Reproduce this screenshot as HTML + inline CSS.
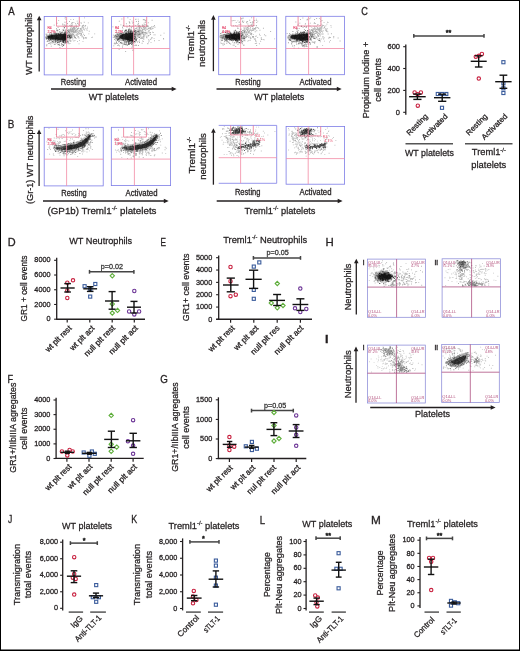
<!DOCTYPE html>
<html><head><meta charset="utf-8"><style>
html,body{margin:0;padding:0;background:#fff;width:520px;height:651px;overflow:hidden}
svg{display:block;will-change:transform}
</style></head><body>
<svg width="520" height="651" viewBox="0 0 520 651" font-family='"Liberation Sans", sans-serif' fill="#231f20">
<defs><filter id="bl" x="-20%" y="-50%" width="140%" height="200%"><feGaussianBlur stdDeviation="0.65"/></filter></defs>
<rect width="520" height="651" fill="#fff"/>
<text x="31.9" y="43.9" font-size="9.9" text-anchor="middle" stroke="#231f20" stroke-width="0.28" textLength="61.5" lengthAdjust="spacingAndGlyphs" transform="rotate(-90 31.9 43.9)">WT neutrophils</text>
<line x1="39.2" y1="19.8" x2="39.2" y2="71.6" stroke="#231f20" stroke-width="1.3"/>
<path d="M39.2 15.7L41.5 20.3L36.9 20.3Z" fill="#231f20"/>
<line x1="51" y1="89" x2="172.2" y2="89" stroke="#231f20" stroke-width="1.3"/>
<path d="M176.6 89L171.7 86.7L171.7 91.3Z" fill="#231f20"/>
<text x="73.5" y="85.3" font-size="8.6" text-anchor="middle" stroke="#231f20" stroke-width="0.28" textLength="25.5" lengthAdjust="spacingAndGlyphs">Resting</text>
<text x="141" y="85.3" font-size="8.6" text-anchor="middle" stroke="#231f20" stroke-width="0.28" textLength="32" lengthAdjust="spacingAndGlyphs">Activated</text>
<text x="113.8" y="100.2" font-size="9.9" text-anchor="middle" stroke="#231f20" stroke-width="0.28" textLength="50" lengthAdjust="spacingAndGlyphs">WT platelets</text>
<text x="193.6" y="42.8" font-size="9.9" text-anchor="middle" stroke="#231f20" stroke-width="0.28" textLength="35" lengthAdjust="spacingAndGlyphs" transform="rotate(-90 193.6 42.8)">Treml1<tspan font-size="6.14" dy="-3.76">-/-</tspan></text>
<text x="205.3" y="43.5" font-size="9.9" text-anchor="middle" stroke="#231f20" stroke-width="0.28" textLength="47" lengthAdjust="spacingAndGlyphs" transform="rotate(-90 205.3 43.5)">neutrophils</text>
<line x1="213.4" y1="19.2" x2="213.4" y2="71.2" stroke="#231f20" stroke-width="1.3"/>
<path d="M213.4 15.1L215.7 19.7L211.1 19.7Z" fill="#231f20"/>
<line x1="216.5" y1="89" x2="337.3" y2="89" stroke="#231f20" stroke-width="1.3"/>
<path d="M341.7 89L336.8 86.7L336.8 91.3Z" fill="#231f20"/>
<text x="248" y="85.3" font-size="8.6" text-anchor="middle" stroke="#231f20" stroke-width="0.28" textLength="25.5" lengthAdjust="spacingAndGlyphs">Resting</text>
<text x="315.5" y="85.3" font-size="8.6" text-anchor="middle" stroke="#231f20" stroke-width="0.28" textLength="32" lengthAdjust="spacingAndGlyphs">Activated</text>
<text x="279.3" y="100.2" font-size="9.9" text-anchor="middle" stroke="#231f20" stroke-width="0.28" textLength="50" lengthAdjust="spacingAndGlyphs">WT platelets</text>
<path fill="#111" fill-opacity="0.4" d="M64.54 41.4h.9v.9h-.9zM56.49 34.83h.9v.9h-.9zM48.85 37.19h.9v.9h-.9zM49.31 32.83h.9v.9h-.9zM57.36 37.5h.9v.9h-.9zM59.65 34.39h.9v.9h-.9zM56.08 36.91h.9v.9h-.9zM46.12 38.7h.9v.9h-.9zM58.16 44.2h.9v.9h-.9zM57.39 36.67h.9v.9h-.9zM64.18 37.69h.9v.9h-.9zM62.04 36.01h.9v.9h-.9zM57.49 40.14h.9v.9h-.9zM60.64 37.48h.9v.9h-.9zM48.91 38.42h.9v.9h-.9zM56.56 39.24h.9v.9h-.9zM57.48 40.33h.9v.9h-.9zM55.71 37.7h.9v.9h-.9zM60.45 33.87h.9v.9h-.9zM53.4 35.61h.9v.9h-.9zM69.11 36.82h.9v.9h-.9zM60.35 38.94h.9v.9h-.9zM54.2 32.49h.9v.9h-.9zM62.41 35.89h.9v.9h-.9zM60.78 33.22h.9v.9h-.9zM53.16 40.83h.9v.9h-.9zM65.49 33.23h.9v.9h-.9zM47.26 36.97h.9v.9h-.9zM60.85 37.58h.9v.9h-.9zM58.05 34.16h.9v.9h-.9zM59.92 40.42h.9v.9h-.9zM53.18 32.84h.9v.9h-.9zM51.05 39.36h.9v.9h-.9zM49.52 36.71h.9v.9h-.9zM54.44 37.15h.9v.9h-.9zM65.95 38.35h.9v.9h-.9zM64.84 36.68h.9v.9h-.9zM52.89 38.23h.9v.9h-.9zM57.11 33.43h.9v.9h-.9zM59.11 35.44h.9v.9h-.9zM49.6 35.55h.9v.9h-.9zM55.05 40.82h.9v.9h-.9zM56.73 37.02h.9v.9h-.9zM58.61 31.72h.9v.9h-.9zM64.23 33.9h.9v.9h-.9zM58.95 33.75h.9v.9h-.9zM49.61 35.92h.9v.9h-.9zM68.55 39.17h.9v.9h-.9zM52.07 36.26h.9v.9h-.9zM48.46 37h.9v.9h-.9zM52.27 39.24h.9v.9h-.9zM47.1 36.11h.9v.9h-.9zM50.5 34.97h.9v.9h-.9zM60.74 37.48h.9v.9h-.9zM59.91 40.63h.9v.9h-.9zM63.63 33.03h.9v.9h-.9zM59.59 31.87h.9v.9h-.9zM55.63 42.8h.9v.9h-.9zM54.77 36h.9v.9h-.9zM57.17 37.15h.9v.9h-.9zM56.23 34.85h.9v.9h-.9zM63.18 39.74h.9v.9h-.9zM54.65 38.03h.9v.9h-.9zM60.39 40.17h.9v.9h-.9zM58.64 39.16h.9v.9h-.9zM54.31 33.92h.9v.9h-.9zM52.78 40.13h.9v.9h-.9zM62.5 37.53h.9v.9h-.9zM52.31 38.01h.9v.9h-.9zM67.02 41.12h.9v.9h-.9zM51.54 36.97h.9v.9h-.9zM46.48 33.73h.9v.9h-.9zM57.29 37.17h.9v.9h-.9zM62.41 40.86h.9v.9h-.9zM61.56 41.02h.9v.9h-.9zM52.44 33.75h.9v.9h-.9zM59.35 45.06h.9v.9h-.9zM58.4 33.68h.9v.9h-.9zM57.65 41.33h.9v.9h-.9zM49.23 39.49h.9v.9h-.9zM52.02 40.88h.9v.9h-.9zM61.23 38h.9v.9h-.9zM69.24 35.89h.9v.9h-.9zM51.53 42.61h.9v.9h-.9zM50.27 43.63h.9v.9h-.9zM55.79 34.02h.9v.9h-.9zM56.04 37.49h.9v.9h-.9zM57.38 36.53h.9v.9h-.9zM63.18 30.21h.9v.9h-.9zM52.39 36.32h.9v.9h-.9zM68.05 31.18h.9v.9h-.9zM53.81 33.7h.9v.9h-.9zM51.67 39h.9v.9h-.9zM58.76 41.38h.9v.9h-.9zM52.1 37.9h.9v.9h-.9zM63.79 39.78h.9v.9h-.9zM53.83 40.45h.9v.9h-.9zM49.96 42.46h.9v.9h-.9zM57.07 36.77h.9v.9h-.9zM57.84 39.62h.9v.9h-.9zM67.53 36.68h.9v.9h-.9zM53.63 38.84h.9v.9h-.9zM50.3 32.06h.9v.9h-.9zM61.56 35.97h.9v.9h-.9zM63.48 34.05h.9v.9h-.9zM57.07 41.85h.9v.9h-.9zM58.75 41.58h.9v.9h-.9zM69.54 43.2h.9v.9h-.9zM64.47 42.84h.9v.9h-.9zM59.33 42.51h.9v.9h-.9zM63.36 42.17h.9v.9h-.9zM46.45 44.2h.9v.9h-.9zM56.24 41.09h.9v.9h-.9zM57.21 40.84h.9v.9h-.9zM53.46 41.87h.9v.9h-.9zM65.79 41.53h.9v.9h-.9zM62.91 39.84h.9v.9h-.9zM64.89 40.18h.9v.9h-.9zM64.5 40.81h.9v.9h-.9zM55.4 39.99h.9v.9h-.9zM50.71 41.64h.9v.9h-.9zM52.77 41.64h.9v.9h-.9zM67.55 40.65h.9v.9h-.9zM57.38 41.84h.9v.9h-.9zM55.26 41.95h.9v.9h-.9zM61.23 43.67h.9v.9h-.9zM54.51 41.65h.9v.9h-.9zM58.47 43.95h.9v.9h-.9zM52.59 42.27h.9v.9h-.9zM64.98 42.94h.9v.9h-.9zM54.64 40.35h.9v.9h-.9zM46.64 41.14h.9v.9h-.9zM57.82 39.6h.9v.9h-.9zM65.5 42.26h.9v.9h-.9zM57.92 41.15h.9v.9h-.9zM62.91 41.54h.9v.9h-.9z"/>
<path fill="#111" fill-opacity="0.45" d="M64.91 38.33h.9v.9h-.9zM65.07 35.65h.9v.9h-.9zM63.79 31.75h.9v.9h-.9zM64.9 33.91h.9v.9h-.9zM62.49 39.87h.9v.9h-.9zM65.89 33.11h.9v.9h-.9zM68.61 34.76h.9v.9h-.9zM65.69 40.87h.9v.9h-.9zM64.16 37.78h.9v.9h-.9zM68.09 40.63h.9v.9h-.9zM64.71 29.88h.9v.9h-.9zM61.73 41.7h.9v.9h-.9zM64.09 33.32h.9v.9h-.9zM61.99 35.89h.9v.9h-.9zM65.32 38.63h.9v.9h-.9zM66.09 33.86h.9v.9h-.9zM66.07 35.11h.9v.9h-.9zM62.85 43.96h.9v.9h-.9zM63.79 36.55h.9v.9h-.9zM63.07 35.58h.9v.9h-.9zM67.5 42.55h.9v.9h-.9zM65.39 37.83h.9v.9h-.9zM66.21 36.79h.9v.9h-.9zM64.73 38.69h.9v.9h-.9zM63.82 43.63h.9v.9h-.9zM67.99 42.34h.9v.9h-.9zM58.82 44.37h.9v.9h-.9zM65.36 35.32h.9v.9h-.9zM63.54 41.61h.9v.9h-.9zM66.54 40.49h.9v.9h-.9zM63.95 37.24h.9v.9h-.9zM65.68 36.74h.9v.9h-.9zM61.35 34.63h.9v.9h-.9zM63.25 38.42h.9v.9h-.9zM69.26 31.68h.9v.9h-.9zM64.79 36.74h.9v.9h-.9zM64.35 42.46h.9v.9h-.9zM66.7 36.48h.9v.9h-.9zM62.21 31.7h.9v.9h-.9zM63.42 42.04h.9v.9h-.9zM62.94 39.89h.9v.9h-.9zM65.37 38.67h.9v.9h-.9zM66.31 36.65h.9v.9h-.9zM61.53 32.46h.9v.9h-.9zM65.92 35.67h.9v.9h-.9zM62.82 40.4h.9v.9h-.9zM61.63 44.11h.9v.9h-.9zM65.27 35.01h.9v.9h-.9zM62.02 41.38h.9v.9h-.9zM60.64 34.56h.9v.9h-.9zM63.62 37.9h.9v.9h-.9zM63.64 38.63h.9v.9h-.9zM62.69 36.62h.9v.9h-.9zM66.76 39.66h.9v.9h-.9zM62.48 43.89h.9v.9h-.9zM58.62 37.43h.9v.9h-.9zM65.27 40.95h.9v.9h-.9zM63.88 35.58h.9v.9h-.9zM65.06 36.33h.9v.9h-.9zM64.79 25.79h.9v.9h-.9zM64.55 33.97h.9v.9h-.9zM65.95 40.06h.9v.9h-.9zM65.42 35.5h.9v.9h-.9zM64.69 35.74h.9v.9h-.9zM64.14 36.56h.9v.9h-.9zM61.42 44.93h.9v.9h-.9zM65.41 28.96h.9v.9h-.9zM65.83 31.58h.9v.9h-.9zM63.02 34.8h.9v.9h-.9zM62.26 38.05h.9v.9h-.9z"/>
<path fill="#111" fill-opacity="0.35" d="M69.3 30.22h.9v.9h-.9zM70.58 34.46h.9v.9h-.9zM77.68 29.77h.9v.9h-.9zM65.84 34.3h.9v.9h-.9zM73.21 30.22h.9v.9h-.9zM67.72 36.02h.9v.9h-.9zM70.56 34.09h.9v.9h-.9zM68.08 32.3h.9v.9h-.9zM69.3 33.59h.9v.9h-.9zM69.26 35.12h.9v.9h-.9zM72.79 34.1h.9v.9h-.9zM72.52 30.48h.9v.9h-.9zM66.12 37.26h.9v.9h-.9zM70.65 33.8h.9v.9h-.9zM65.96 34.69h.9v.9h-.9zM68.05 32.21h.9v.9h-.9zM68.08 30.56h.9v.9h-.9zM70.94 36.4h.9v.9h-.9zM67.77 34.81h.9v.9h-.9zM66.23 36.88h.9v.9h-.9zM78.05 27.5h.9v.9h-.9zM69.69 37.54h.9v.9h-.9zM72.07 33.25h.9v.9h-.9zM62.43 36.17h.9v.9h-.9zM74.27 35.85h.9v.9h-.9zM73.17 31.03h.9v.9h-.9zM67.85 29.8h.9v.9h-.9zM66.3 38.03h.9v.9h-.9zM70.14 30.19h.9v.9h-.9zM75.88 27.18h.9v.9h-.9zM75.64 30.77h.9v.9h-.9zM71.96 34.76h.9v.9h-.9zM71.65 36.41h.9v.9h-.9zM70.66 32.63h.9v.9h-.9zM67.95 30.74h.9v.9h-.9zM67.82 37.09h.9v.9h-.9zM73.9 35.88h.9v.9h-.9zM81.51 31.26h.9v.9h-.9zM72.6 29.33h.9v.9h-.9zM69.63 39.57h.9v.9h-.9zM72.72 32.35h.9v.9h-.9zM71.84 28.11h.9v.9h-.9zM67.26 31.35h.9v.9h-.9zM62.05 38.7h.9v.9h-.9zM74.46 31.59h.9v.9h-.9zM71.99 30.36h.9v.9h-.9zM72.41 34.8h.9v.9h-.9zM76.74 35.25h.9v.9h-.9zM72.55 32.44h.9v.9h-.9zM67.3 33.17h.9v.9h-.9zM73.07 34.04h.9v.9h-.9zM70.67 37.8h.9v.9h-.9zM73.19 32.57h.9v.9h-.9zM69.84 33.99h.9v.9h-.9zM66.8 32.38h.9v.9h-.9zM71.99 31.46h.9v.9h-.9zM69.52 37.08h.9v.9h-.9zM69.83 37.2h.9v.9h-.9zM70.57 37.45h.9v.9h-.9zM72.46 28.24h.9v.9h-.9zM75.55 31.1h.9v.9h-.9zM62.74 36.74h.9v.9h-.9zM71.22 29.91h.9v.9h-.9zM68.17 35.83h.9v.9h-.9zM76.25 34.35h.9v.9h-.9zM75.49 34.58h.9v.9h-.9zM60.66 35.34h.9v.9h-.9zM71.35 26.23h.9v.9h-.9zM73.68 34.66h.9v.9h-.9zM67.5 33.67h.9v.9h-.9zM66.84 34.86h.9v.9h-.9zM70.44 33.54h.9v.9h-.9zM66.51 36.04h.9v.9h-.9zM69.24 36.48h.9v.9h-.9zM71.85 29.17h.9v.9h-.9zM64.83 35.85h.9v.9h-.9zM68.66 35.45h.9v.9h-.9zM73.82 32.34h.9v.9h-.9zM63.86 32.92h.9v.9h-.9zM72.89 29.91h.9v.9h-.9zM75.04 31.6h.9v.9h-.9zM72.68 30.42h.9v.9h-.9zM70.2 25.96h.9v.9h-.9zM69.77 35.3h.9v.9h-.9zM67.01 32.66h.9v.9h-.9zM70.39 33.75h.9v.9h-.9zM67.37 36.47h.9v.9h-.9zM64.02 38.86h.9v.9h-.9zM64.99 33.47h.9v.9h-.9zM75.93 28.92h.9v.9h-.9zM63.99 36.18h.9v.9h-.9zM66.92 31.98h.9v.9h-.9zM67.79 32.62h.9v.9h-.9zM66.7 32.29h.9v.9h-.9zM77.05 29.34h.9v.9h-.9zM74.49 28.39h.9v.9h-.9zM72.78 29.43h.9v.9h-.9zM68.77 35.84h.9v.9h-.9zM68.48 29.19h.9v.9h-.9zM68.39 33.92h.9v.9h-.9zM72.89 30.05h.9v.9h-.9zM69.41 34.11h.9v.9h-.9zM64 35.7h.9v.9h-.9zM67.29 35.88h.9v.9h-.9zM70.16 33.23h.9v.9h-.9zM60.94 36.84h.9v.9h-.9zM69.12 31.6h.9v.9h-.9zM68.56 30.98h.9v.9h-.9zM71.3 34.95h.9v.9h-.9zM72.99 31.25h.9v.9h-.9zM77.32 33.2h.9v.9h-.9zM66.81 34.56h.9v.9h-.9zM64.08 35.64h.9v.9h-.9zM73.45 35.73h.9v.9h-.9zM68.93 29.48h.9v.9h-.9zM69.92 37.29h.9v.9h-.9zM71.18 36.6h.9v.9h-.9zM73.91 36.31h.9v.9h-.9zM72.99 30.88h.9v.9h-.9zM72.38 39.42h.9v.9h-.9zM70.49 24.52h.9v.9h-.9zM86.22 28.63h.9v.9h-.9zM69.84 29.28h.9v.9h-.9zM64.36 35.54h.9v.9h-.9zM74.46 27.95h.9v.9h-.9zM71.06 29.61h.9v.9h-.9zM80 28.12h.9v.9h-.9zM81.88 25.22h.9v.9h-.9zM69.93 29.71h.9v.9h-.9zM70.37 31.03h.9v.9h-.9zM79.75 33.29h.9v.9h-.9zM67.17 36.9h.9v.9h-.9zM74.17 36.17h.9v.9h-.9zM72.59 27.7h.9v.9h-.9zM78.34 31.52h.9v.9h-.9zM70.85 31.31h.9v.9h-.9zM74.38 31.43h.9v.9h-.9zM63.31 28.82h.9v.9h-.9zM73.93 31.36h.9v.9h-.9zM70.45 24.89h.9v.9h-.9zM81.66 27.22h.9v.9h-.9zM67.32 38.02h.9v.9h-.9zM80.39 32.49h.9v.9h-.9zM78.61 31.25h.9v.9h-.9zM67.76 32.17h.9v.9h-.9zM75.73 32.25h.9v.9h-.9zM76.45 26.04h.9v.9h-.9zM69.97 30.25h.9v.9h-.9zM72.43 27.61h.9v.9h-.9zM62.66 28.96h.9v.9h-.9zM75.44 29.97h.9v.9h-.9zM77.08 22.65h.9v.9h-.9zM71.1 34.43h.9v.9h-.9zM61.83 29.67h.9v.9h-.9zM63.61 37.61h.9v.9h-.9zM73.79 28.35h.9v.9h-.9zM74.5 29.93h.9v.9h-.9zM79.03 33.34h.9v.9h-.9zM79.09 30.29h.9v.9h-.9zM78.18 32.26h.9v.9h-.9zM80.59 21.9h.9v.9h-.9zM75.67 30.23h.9v.9h-.9zM74.56 29.33h.9v.9h-.9zM73.16 32.43h.9v.9h-.9zM74.79 30.65h.9v.9h-.9zM67.16 27.61h.9v.9h-.9zM69.11 25.16h.9v.9h-.9zM70.5 28.21h.9v.9h-.9zM62.82 26.27h.9v.9h-.9zM70.78 29.13h.9v.9h-.9zM86.64 30.19h.9v.9h-.9zM68.91 29.92h.9v.9h-.9zM67.53 29.23h.9v.9h-.9zM71.5 30.88h.9v.9h-.9zM69.86 34.51h.9v.9h-.9zM77.47 36.64h.9v.9h-.9zM65.74 35.07h.9v.9h-.9zM71.35 25.21h.9v.9h-.9zM71.79 24.96h.9v.9h-.9zM73.44 40.58h.9v.9h-.9zM81.43 35.09h.9v.9h-.9zM80.77 22.91h.9v.9h-.9zM76.08 30.36h.9v.9h-.9zM76.21 26h.9v.9h-.9zM61.71 41.39h.9v.9h-.9zM80.75 29.72h.9v.9h-.9zM70.65 31.95h.9v.9h-.9zM66.16 36h.9v.9h-.9zM74.59 29.68h.9v.9h-.9zM71.02 30.94h.9v.9h-.9zM74.39 28.81h.9v.9h-.9zM79.37 29.73h.9v.9h-.9zM73.03 27.49h.9v.9h-.9zM80.91 33.31h.9v.9h-.9zM77.73 22.64h.9v.9h-.9zM71.51 34.7h.9v.9h-.9zM73.82 35.12h.9v.9h-.9zM70.97 34.12h.9v.9h-.9zM76.75 20.69h.9v.9h-.9zM71.16 30.28h.9v.9h-.9zM69.84 28.23h.9v.9h-.9zM83.14 27.52h.9v.9h-.9zM78.34 24.33h.9v.9h-.9zM61.13 32.09h.9v.9h-.9zM76.04 27.2h.9v.9h-.9zM76.78 32.59h.9v.9h-.9zM70.91 31h.9v.9h-.9zM69.17 35.64h.9v.9h-.9zM84.21 29.49h.9v.9h-.9zM70.57 28.72h.9v.9h-.9zM71.93 34.21h.9v.9h-.9zM69.06 37.13h.9v.9h-.9zM66.27 32.43h.9v.9h-.9zM81.5 34.93h.9v.9h-.9zM71.16 34.06h.9v.9h-.9zM88.78 30.73h.9v.9h-.9zM60.45 35.04h.9v.9h-.9zM87.86 22.44h.9v.9h-.9zM79.08 21.39h.9v.9h-.9zM83.13 24.87h.9v.9h-.9zM78.45 32.55h.9v.9h-.9zM56.91 29.71h.9v.9h-.9zM75.58 24.39h.9v.9h-.9zM73.48 27.06h.9v.9h-.9zM81.66 26.48h.9v.9h-.9zM68.11 34.32h.9v.9h-.9zM80.94 27.97h.9v.9h-.9zM75.28 31.86h.9v.9h-.9zM70.63 26.94h.9v.9h-.9zM76.79 28.35h.9v.9h-.9zM71.76 31.07h.9v.9h-.9zM80.77 28.92h.9v.9h-.9zM74.83 27.83h.9v.9h-.9zM81.65 29.95h.9v.9h-.9zM74.48 25.79h.9v.9h-.9zM80.31 29.05h.9v.9h-.9zM82.84 25.03h.9v.9h-.9zM83.21 33.79h.9v.9h-.9zM83.35 28.89h.9v.9h-.9zM83.13 24.64h.9v.9h-.9zM76.38 34.68h.9v.9h-.9zM70.43 25.03h.9v.9h-.9zM82.71 26.53h.9v.9h-.9zM75.77 25.14h.9v.9h-.9zM87.01 26.67h.9v.9h-.9zM77.21 23.06h.9v.9h-.9zM82.45 28.47h.9v.9h-.9zM81.09 33.24h.9v.9h-.9zM79.37 24.92h.9v.9h-.9zM73.53 28.75h.9v.9h-.9zM85.2 24.9h.9v.9h-.9zM77.37 28.06h.9v.9h-.9zM81.89 25.83h.9v.9h-.9zM80.16 30.85h.9v.9h-.9zM78.41 28.21h.9v.9h-.9zM81.69 30.24h.9v.9h-.9zM84.89 25.26h.9v.9h-.9zM84.75 27.81h.9v.9h-.9zM72.91 26.84h.9v.9h-.9zM72.43 27.9h.9v.9h-.9zM83.77 21.75h.9v.9h-.9zM72.69 30.8h.9v.9h-.9zM77.1 30.88h.9v.9h-.9zM71.96 28.34h.9v.9h-.9zM65.57 25.96h.9v.9h-.9zM82.3 32.15h.9v.9h-.9zM86.76 28.33h.9v.9h-.9zM74.21 27.34h.9v.9h-.9zM69.01 32.56h.9v.9h-.9zM84.49 25.77h.9v.9h-.9zM94.25 33.44h.9v.9h-.9zM84.08 35.07h.9v.9h-.9zM65.69 38.69h.9v.9h-.9zM70.33 41.08h.9v.9h-.9zM72.4 37.82h.9v.9h-.9zM75.77 37.91h.9v.9h-.9zM74.54 39.96h.9v.9h-.9zM84.48 37.71h.9v.9h-.9zM78.58 43.41h.9v.9h-.9zM74.03 36.18h.9v.9h-.9zM85.78 37.47h.9v.9h-.9zM66.53 37.07h.9v.9h-.9zM76.53 34.52h.9v.9h-.9zM81.16 34.09h.9v.9h-.9zM77.6 34.09h.9v.9h-.9zM92.09 36.65h.9v.9h-.9zM83.14 38.36h.9v.9h-.9zM85.25 37.05h.9v.9h-.9zM85.63 37.87h.9v.9h-.9zM60.03 38.44h.9v.9h-.9zM69.26 40.35h.9v.9h-.9zM81.35 36.38h.9v.9h-.9zM59.42 31.09h.9v.9h-.9zM70.18 36.36h.9v.9h-.9zM68.56 43.45h.9v.9h-.9zM83.27 37.23h.9v.9h-.9zM71.71 36.48h.9v.9h-.9zM77.7 36.17h.9v.9h-.9zM78.98 39.91h.9v.9h-.9zM65.51 38.18h.9v.9h-.9zM88.41 33.39h.9v.9h-.9zM78.08 36.35h.9v.9h-.9zM70.45 40.35h.9v.9h-.9zM76.99 40.93h.9v.9h-.9zM82.89 36.66h.9v.9h-.9zM81.9 36.37h.9v.9h-.9zM66.47 41.77h.9v.9h-.9zM82.53 40.97h.9v.9h-.9zM65.11 40.64h.9v.9h-.9zM86.19 37.38h.9v.9h-.9zM62.63 37.8h.9v.9h-.9zM74.26 36.92h.9v.9h-.9zM80.04 34.78h.9v.9h-.9zM78.55 37.53h.9v.9h-.9zM91.28 37.2h.9v.9h-.9zM84.06 17.45h.9v.9h-.9zM66.64 24.72h.9v.9h-.9zM56.6 22.86h.9v.9h-.9zM70.37 19.19h.9v.9h-.9zM65.92 25.64h.9v.9h-.9zM64.46 21.84h.9v.9h-.9zM70.63 24.62h.9v.9h-.9zM58.21 20.16h.9v.9h-.9zM71.89 23.5h.9v.9h-.9zM65.59 25.55h.9v.9h-.9zM67.08 23.07h.9v.9h-.9zM62.28 23.5h.9v.9h-.9zM62.56 24.48h.9v.9h-.9zM73.64 26.61h.9v.9h-.9zM64.62 17.51h.9v.9h-.9zM73.41 21.95h.9v.9h-.9zM64.34 24.21h.9v.9h-.9zM65.83 22.38h.9v.9h-.9zM71.03 22.78h.9v.9h-.9zM75.01 22.96h.9v.9h-.9zM64.97 17.31h.9v.9h-.9zM65.6 19.03h.9v.9h-.9zM70.43 24.69h.9v.9h-.9zM73.08 18.91h.9v.9h-.9zM69.01 21.02h.9v.9h-.9zM64.3 24.9h.9v.9h-.9zM71.9 22.08h.9v.9h-.9zM62.46 24.42h.9v.9h-.9zM66.1 20.93h.9v.9h-.9zM65.76 22.44h.9v.9h-.9zM67.54 26.14h.9v.9h-.9z"/>
<path d="M45.5 36.11L47.26 35.01L49.02 34.56L50.77 34.21L52.53 33.92L54.29 33.66L56.05 33.43L57.81 33.21L59.57 33.01L61.32 32.82L63.08 32.65L64.84 32.48L66.6 32.32L66.6 41.88L64.84 41.72L63.08 41.55L61.32 41.38L59.57 41.19L57.81 40.99L56.05 40.77L54.29 40.54L52.53 40.28L50.77 39.99L49.02 39.64L47.26 39.19L45.5 38.09Z" fill="#111" fill-opacity="0.3" filter="url(#bl)"/>
<path d="M47.8 36L49.34 35.49L50.88 35.22L52.42 35L53.97 34.8L55.51 34.63L57.05 34.46L58.59 34.31L60.13 34.16L61.67 34.02L63.22 33.89L64.76 33.76L66.3 33.64L66.3 40.56L64.76 40.44L63.22 40.31L61.67 40.18L60.13 40.04L58.59 39.89L57.05 39.74L55.51 39.57L53.97 39.4L52.42 39.2L50.88 38.98L49.34 38.71L47.8 38.2Z" fill="#111" fill-opacity="0.85" filter="url(#bl)"/>
<path fill="#111" fill-opacity="0.8" d="M59.5 40.61h.9v.9h-.9zM65.31 41.79h.9v.9h-.9zM60.13 40.84h.9v.9h-.9zM64.84 35.77h.9v.9h-.9zM69.16 36.13h.9v.9h-.9zM50.78 35.85h.9v.9h-.9zM54.12 35.65h.9v.9h-.9zM65.57 37.04h.9v.9h-.9zM71.4 36.51h.9v.9h-.9zM63.97 37.51h.9v.9h-.9zM47.81 37.86h.9v.9h-.9zM63.01 40.79h.9v.9h-.9zM51.81 40.96h.9v.9h-.9zM68.71 34.86h.9v.9h-.9zM62.89 41.8h.9v.9h-.9zM48.15 39.24h.9v.9h-.9zM45.79 38.31h.9v.9h-.9zM70.84 36.62h.9v.9h-.9zM64.53 32.22h.9v.9h-.9zM55.95 36.09h.9v.9h-.9zM66.17 36.81h.9v.9h-.9zM65.86 37.42h.9v.9h-.9zM55.59 38.11h.9v.9h-.9zM62.16 36.74h.9v.9h-.9zM65.72 34.97h.9v.9h-.9zM61.76 39.62h.9v.9h-.9zM56.22 37.56h.9v.9h-.9zM59.94 32.8h.9v.9h-.9zM70.92 36.48h.9v.9h-.9zM63.97 27.26h.9v.9h-.9zM67.39 35.33h.9v.9h-.9zM51.8 36.22h.9v.9h-.9zM64.77 30.87h.9v.9h-.9zM65 32.13h.9v.9h-.9zM65.65 37.63h.9v.9h-.9zM66.3 39.15h.9v.9h-.9zM52.16 35.26h.9v.9h-.9zM62.01 35.45h.9v.9h-.9zM58.1 33.19h.9v.9h-.9zM63.19 45.11h.9v.9h-.9zM65.81 38.2h.9v.9h-.9zM50.98 36.21h.9v.9h-.9zM67.09 36.68h.9v.9h-.9zM63.16 35.48h.9v.9h-.9zM55.69 37.29h.9v.9h-.9zM55.01 34.71h.9v.9h-.9zM59.86 35.68h.9v.9h-.9zM68.39 37.41h.9v.9h-.9zM54.76 32.81h.9v.9h-.9zM52.29 35.87h.9v.9h-.9zM64.15 36.49h.9v.9h-.9zM56.53 32.87h.9v.9h-.9zM58.23 33.75h.9v.9h-.9zM69.97 37.64h.9v.9h-.9zM57.2 42.2h.9v.9h-.9zM70.01 36.68h.9v.9h-.9zM49.07 40.46h.9v.9h-.9zM55.05 38.81h.9v.9h-.9zM50.97 35.23h.9v.9h-.9zM56.08 33.63h.9v.9h-.9zM50.53 39.75h.9v.9h-.9zM55.34 40.72h.9v.9h-.9zM62.52 37.15h.9v.9h-.9zM62.14 35.57h.9v.9h-.9zM57.43 37.61h.9v.9h-.9zM59.73 34.46h.9v.9h-.9zM63.98 37.82h.9v.9h-.9zM68.73 34.99h.9v.9h-.9zM74.73 37.24h.9v.9h-.9zM65.68 38.6h.9v.9h-.9zM48.5 35.99h.9v.9h-.9zM66.58 41.4h.9v.9h-.9zM57.65 41.91h.9v.9h-.9zM66.7 35.34h.9v.9h-.9zM68.49 37.15h.9v.9h-.9zM49.88 39h.9v.9h-.9zM59.84 35.72h.9v.9h-.9zM51 35.34h.9v.9h-.9zM66.94 35.28h.9v.9h-.9zM51.15 33.74h.9v.9h-.9zM65.86 42.07h.9v.9h-.9zM51.42 35.04h.9v.9h-.9zM63.5 40.09h.9v.9h-.9zM55.62 38.19h.9v.9h-.9zM70.51 35.03h.9v.9h-.9zM56.8 37.4h.9v.9h-.9zM62.32 36.95h.9v.9h-.9zM51.12 36.93h.9v.9h-.9zM64.83 33.68h.9v.9h-.9z"/>
<path fill="#111" fill-opacity="0.45" d="M49.34 33.98h.9v.9h-.9zM68.95 36.02h.9v.9h-.9zM48.3 43.1h.9v.9h-.9zM63.73 35.5h.9v.9h-.9zM58.31 37.91h.9v.9h-.9zM60.75 36.51h.9v.9h-.9zM57.59 34.45h.9v.9h-.9zM56.72 39.61h.9v.9h-.9zM57.28 35.38h.9v.9h-.9zM55.11 37h.9v.9h-.9zM69.25 37.94h.9v.9h-.9zM55.14 38.8h.9v.9h-.9zM54.82 39.27h.9v.9h-.9zM59.19 41.57h.9v.9h-.9zM56.59 35.35h.9v.9h-.9zM56.78 30.62h.9v.9h-.9zM49.59 35.6h.9v.9h-.9zM64.21 38.11h.9v.9h-.9zM47.04 40.51h.9v.9h-.9zM59.96 38.09h.9v.9h-.9zM64.12 37.68h.9v.9h-.9zM64.14 39.03h.9v.9h-.9zM50.23 38.58h.9v.9h-.9zM61.87 46.08h.9v.9h-.9zM52.81 37.34h.9v.9h-.9zM45.51 33.68h.9v.9h-.9zM61.66 31.6h.9v.9h-.9zM63.09 37.81h.9v.9h-.9zM51.78 36.92h.9v.9h-.9zM45.6 37.1h.9v.9h-.9zM56.23 29.86h.9v.9h-.9zM55.96 33.48h.9v.9h-.9zM49.73 33.83h.9v.9h-.9zM56.24 34.92h.9v.9h-.9zM61.06 43.19h.9v.9h-.9zM55.22 34.04h.9v.9h-.9zM57.44 29.73h.9v.9h-.9zM51.32 33.3h.9v.9h-.9zM60.81 38.19h.9v.9h-.9zM57.64 27.2h.9v.9h-.9zM57.03 38.11h.9v.9h-.9zM46.3 45.37h.9v.9h-.9zM59.49 46.88h.9v.9h-.9zM58.91 29.07h.9v.9h-.9zM66.59 36.73h.9v.9h-.9zM58.47 41.43h.9v.9h-.9zM47.75 40.92h.9v.9h-.9zM49.15 42.64h.9v.9h-.9zM60.95 37.67h.9v.9h-.9zM56.8 39.68h.9v.9h-.9zM55.99 28.33h.9v.9h-.9zM62.68 39.84h.9v.9h-.9zM61.35 37.27h.9v.9h-.9zM62.69 42.29h.9v.9h-.9zM63.01 30.03h.9v.9h-.9zM54.93 41.45h.9v.9h-.9zM57.3 43.39h.9v.9h-.9zM57.64 44.35h.9v.9h-.9zM47.31 38.1h.9v.9h-.9zM67.12 30.08h.9v.9h-.9zM54.77 43.96h.9v.9h-.9zM55.9 37.73h.9v.9h-.9zM58.76 34.85h.9v.9h-.9zM53.86 43.8h.9v.9h-.9zM60.16 33.66h.9v.9h-.9zM54.55 32.89h.9v.9h-.9zM64.92 37.71h.9v.9h-.9zM58.3 39.7h.9v.9h-.9zM47.58 40.47h.9v.9h-.9zM56.98 40.06h.9v.9h-.9zM50.97 35.63h.9v.9h-.9zM46.28 34.71h.9v.9h-.9zM50.79 45.69h.9v.9h-.9zM58 36.85h.9v.9h-.9zM59.15 37.92h.9v.9h-.9zM50.11 37.3h.9v.9h-.9zM53.73 24.72h.9v.9h-.9z"/>
<rect x="44.2" y="16.5" width="58.7" height="58.4" fill="none" stroke="#7c7ce6" stroke-width="0.8"/>
<line x1="66.6" y1="16.5" x2="66.6" y2="74.9" stroke="#f28aa4" stroke-width="0.8"/>
<line x1="44.2" y1="48.5" x2="102.9" y2="48.5" stroke="#f28aa4" stroke-width="0.8"/>
<path d="M56.5 16.5V26.2H79.3V16.5" fill="none" stroke="#e8728f" stroke-width="0.76"/>
<text x="47.5" y="28.7" font-size="4.2" fill="#e64a6e" stroke="#e64a6e" stroke-width="0.15" textLength="4.2" lengthAdjust="spacingAndGlyphs">R4</text>
<text x="47.5" y="33.1" font-size="4.2" fill="#e64a6e" stroke="#e64a6e" stroke-width="0.15" textLength="8" lengthAdjust="spacingAndGlyphs">2.2%</text>
<path fill="#111" fill-opacity="0.4" d="M138.12 34.23h.9v.9h-.9zM126.22 37.37h.9v.9h-.9zM128.92 31.37h.9v.9h-.9zM121.26 33.89h.9v.9h-.9zM117.22 33.53h.9v.9h-.9zM120.66 35.69h.9v.9h-.9zM118.25 38.43h.9v.9h-.9zM120.45 24.42h.9v.9h-.9zM131.09 35.28h.9v.9h-.9zM119.25 37.84h.9v.9h-.9zM125.21 37h.9v.9h-.9zM118.57 37.54h.9v.9h-.9zM114.38 42.39h.9v.9h-.9zM116.05 36h.9v.9h-.9zM123.92 37.65h.9v.9h-.9zM122.29 38.67h.9v.9h-.9zM122.03 34.62h.9v.9h-.9zM132.38 32.52h.9v.9h-.9zM122.49 28.41h.9v.9h-.9zM124.67 29.99h.9v.9h-.9zM113.34 45.46h.9v.9h-.9zM127.33 36.26h.9v.9h-.9zM124.04 30.67h.9v.9h-.9zM116.49 37.94h.9v.9h-.9zM116.09 43.17h.9v.9h-.9zM129.3 34.26h.9v.9h-.9zM122.64 32.39h.9v.9h-.9zM124.76 40.18h.9v.9h-.9zM122.65 34.58h.9v.9h-.9zM127.85 35.13h.9v.9h-.9zM128.28 35.04h.9v.9h-.9zM133.04 35.2h.9v.9h-.9zM116.41 36.68h.9v.9h-.9zM119.06 32.6h.9v.9h-.9zM122.22 39.24h.9v.9h-.9zM122.07 35.73h.9v.9h-.9zM128.02 31.17h.9v.9h-.9zM127.14 35.42h.9v.9h-.9zM123.73 35.45h.9v.9h-.9zM121 34.27h.9v.9h-.9zM125.63 44.61h.9v.9h-.9zM129.65 39.71h.9v.9h-.9zM126.59 34.5h.9v.9h-.9zM126.9 44.53h.9v.9h-.9zM115.19 39.66h.9v.9h-.9zM129.49 37.53h.9v.9h-.9zM128.12 41.9h.9v.9h-.9zM137.01 41.59h.9v.9h-.9zM133.58 37.79h.9v.9h-.9zM128.47 37.19h.9v.9h-.9zM125.19 34.71h.9v.9h-.9zM127.6 42.23h.9v.9h-.9zM122.43 37.56h.9v.9h-.9zM127.3 36.66h.9v.9h-.9zM129.28 37.6h.9v.9h-.9zM116.24 32.58h.9v.9h-.9zM128.01 39.09h.9v.9h-.9zM130.36 37.61h.9v.9h-.9zM124.81 30.48h.9v.9h-.9zM132.19 33.05h.9v.9h-.9zM130.02 32.2h.9v.9h-.9zM119.48 37.27h.9v.9h-.9zM120.96 33.94h.9v.9h-.9zM129.15 39.32h.9v.9h-.9zM126.06 35.37h.9v.9h-.9zM118.53 34.83h.9v.9h-.9zM120.4 36.6h.9v.9h-.9zM128.39 36.05h.9v.9h-.9zM118.78 34.3h.9v.9h-.9zM131.58 37.36h.9v.9h-.9zM125.13 37.82h.9v.9h-.9zM127.35 37.28h.9v.9h-.9zM130.97 39.91h.9v.9h-.9zM141.9 31.78h.9v.9h-.9zM124.53 40.97h.9v.9h-.9zM123.76 41.98h.9v.9h-.9zM115.99 31.91h.9v.9h-.9zM122.61 33.92h.9v.9h-.9zM117.17 39h.9v.9h-.9zM125.45 36.83h.9v.9h-.9zM121.3 37.82h.9v.9h-.9zM123.05 33.97h.9v.9h-.9zM126.94 38.24h.9v.9h-.9zM124.3 39.49h.9v.9h-.9zM117.01 36.24h.9v.9h-.9zM120.58 41.96h.9v.9h-.9zM126.92 44.99h.9v.9h-.9zM133.43 35.36h.9v.9h-.9zM117.09 38.67h.9v.9h-.9zM122.07 36.19h.9v.9h-.9zM117.3 39.13h.9v.9h-.9zM124.94 38.36h.9v.9h-.9zM125.7 33.3h.9v.9h-.9zM119.91 34.75h.9v.9h-.9zM129.68 36.41h.9v.9h-.9zM133.05 37.5h.9v.9h-.9zM128.01 38.76h.9v.9h-.9zM128.73 31.93h.9v.9h-.9zM130.48 37.22h.9v.9h-.9zM117.82 39.18h.9v.9h-.9zM125.92 41.78h.9v.9h-.9zM128.28 38.22h.9v.9h-.9zM113.8 43.29h.9v.9h-.9zM129.05 41.62h.9v.9h-.9zM132.23 39.79h.9v.9h-.9zM131.15 44.11h.9v.9h-.9zM118.63 40.26h.9v.9h-.9zM120.69 41.68h.9v.9h-.9zM121.44 41.98h.9v.9h-.9zM119.73 42.45h.9v.9h-.9zM130.59 42.72h.9v.9h-.9zM122.69 43.33h.9v.9h-.9zM115.9 40.97h.9v.9h-.9zM126.09 44.03h.9v.9h-.9zM123.97 42.98h.9v.9h-.9zM137.93 45.12h.9v.9h-.9zM138.62 40.76h.9v.9h-.9zM128.5 42.81h.9v.9h-.9zM131.29 42.82h.9v.9h-.9zM125.84 42.09h.9v.9h-.9zM117.15 43.15h.9v.9h-.9zM128.89 41.1h.9v.9h-.9zM139.06 42.03h.9v.9h-.9zM122.17 42.95h.9v.9h-.9zM129.72 43.04h.9v.9h-.9zM126.05 43.23h.9v.9h-.9zM127.51 43.92h.9v.9h-.9zM128.93 40.73h.9v.9h-.9zM119.64 42.92h.9v.9h-.9zM133.14 39.72h.9v.9h-.9zM130.9 41.91h.9v.9h-.9zM128.6 40.74h.9v.9h-.9zM119 41.09h.9v.9h-.9z"/>
<path fill="#111" fill-opacity="0.45" d="M134.32 40.8h.9v.9h-.9zM131.75 43.08h.9v.9h-.9zM128.43 40.42h.9v.9h-.9zM130.66 31.63h.9v.9h-.9zM131.52 38.62h.9v.9h-.9zM134.86 41.67h.9v.9h-.9zM126.59 26.67h.9v.9h-.9zM130.4 35.72h.9v.9h-.9zM128.26 29.28h.9v.9h-.9zM130.11 30.83h.9v.9h-.9zM128.87 41.25h.9v.9h-.9zM131.2 32.91h.9v.9h-.9zM127.79 35.83h.9v.9h-.9zM134.93 34.18h.9v.9h-.9zM134.93 32.74h.9v.9h-.9zM130.07 40.39h.9v.9h-.9zM128.67 37.08h.9v.9h-.9zM127.21 40.22h.9v.9h-.9zM133.49 33.45h.9v.9h-.9zM131.06 34.69h.9v.9h-.9zM125.2 50.96h.9v.9h-.9zM132.17 41.06h.9v.9h-.9zM131.57 37.69h.9v.9h-.9zM136.53 27.37h.9v.9h-.9zM129.82 34.63h.9v.9h-.9zM130.08 40.39h.9v.9h-.9zM128.79 29.95h.9v.9h-.9zM127.78 39.16h.9v.9h-.9zM132.98 40.97h.9v.9h-.9zM134.59 34.12h.9v.9h-.9zM133.08 40.33h.9v.9h-.9zM130.18 32.91h.9v.9h-.9zM132.79 33.28h.9v.9h-.9zM129.86 31.77h.9v.9h-.9zM134.97 36.52h.9v.9h-.9zM129.35 35.52h.9v.9h-.9zM130.03 37.26h.9v.9h-.9zM126.33 30.8h.9v.9h-.9zM131.86 42.39h.9v.9h-.9zM128.07 37.38h.9v.9h-.9zM129.16 25.05h.9v.9h-.9zM129.82 31.19h.9v.9h-.9zM132.78 35.71h.9v.9h-.9zM130.5 29.24h.9v.9h-.9zM130.96 26.74h.9v.9h-.9zM131.14 43.9h.9v.9h-.9zM127.56 41.19h.9v.9h-.9zM134.11 35.76h.9v.9h-.9zM133.39 37.22h.9v.9h-.9zM129.36 26.42h.9v.9h-.9zM127.9 29.11h.9v.9h-.9zM136.55 38.13h.9v.9h-.9zM130.16 29.81h.9v.9h-.9zM134.9 30.79h.9v.9h-.9zM134.31 42.4h.9v.9h-.9zM130.78 33.38h.9v.9h-.9zM130.48 29.95h.9v.9h-.9zM132.22 45.5h.9v.9h-.9zM132.83 42.21h.9v.9h-.9zM128.85 38.38h.9v.9h-.9zM128.03 34.46h.9v.9h-.9zM132.42 49.73h.9v.9h-.9zM130.77 36.98h.9v.9h-.9zM125.86 37.7h.9v.9h-.9zM128.32 29.54h.9v.9h-.9zM126.87 37.53h.9v.9h-.9zM129.6 40.3h.9v.9h-.9zM130.01 36.78h.9v.9h-.9zM134.27 40.95h.9v.9h-.9zM132.52 44.43h.9v.9h-.9z"/>
<path fill="#111" fill-opacity="0.35" d="M138.47 30.59h.9v.9h-.9zM134.4 30.62h.9v.9h-.9zM139.01 31.92h.9v.9h-.9zM139.65 34.9h.9v.9h-.9zM134.34 35.2h.9v.9h-.9zM142.7 31.81h.9v.9h-.9zM141.34 31.59h.9v.9h-.9zM133.78 34.33h.9v.9h-.9zM130.03 38.19h.9v.9h-.9zM135.52 37.79h.9v.9h-.9zM132.65 35.68h.9v.9h-.9zM138.97 32.45h.9v.9h-.9zM139.13 30.95h.9v.9h-.9zM133.28 31.44h.9v.9h-.9zM135.32 32.22h.9v.9h-.9zM138.55 32.18h.9v.9h-.9zM134.93 32.58h.9v.9h-.9zM129.94 35.41h.9v.9h-.9zM139.27 29.38h.9v.9h-.9zM136.56 35.66h.9v.9h-.9zM134.8 35.05h.9v.9h-.9zM135.87 40.59h.9v.9h-.9zM143.24 34.49h.9v.9h-.9zM134.84 36.24h.9v.9h-.9zM136.93 34.7h.9v.9h-.9zM135.27 34.79h.9v.9h-.9zM134.49 35.43h.9v.9h-.9zM144.72 27.22h.9v.9h-.9zM132.26 36.83h.9v.9h-.9zM140.81 31.31h.9v.9h-.9zM139.99 33.72h.9v.9h-.9zM139.83 36.3h.9v.9h-.9zM134.97 36.22h.9v.9h-.9zM138.41 31.38h.9v.9h-.9zM139.64 29.3h.9v.9h-.9zM131.57 38.6h.9v.9h-.9zM133.1 39.65h.9v.9h-.9zM141.82 30.54h.9v.9h-.9zM134.01 28.96h.9v.9h-.9zM137.29 29.29h.9v.9h-.9zM143.98 26.65h.9v.9h-.9zM137.85 26.18h.9v.9h-.9zM136.16 37.54h.9v.9h-.9zM135.77 32h.9v.9h-.9zM135.64 35.22h.9v.9h-.9zM141.21 31.51h.9v.9h-.9zM129.22 37.45h.9v.9h-.9zM141.56 38.11h.9v.9h-.9zM138.27 33.69h.9v.9h-.9zM135.37 36.31h.9v.9h-.9zM144.8 28.14h.9v.9h-.9zM137.91 30.61h.9v.9h-.9zM134.76 34.06h.9v.9h-.9zM139.59 30.52h.9v.9h-.9zM136.37 37.58h.9v.9h-.9zM139.64 34.57h.9v.9h-.9zM139.2 32.38h.9v.9h-.9zM139.3 34.23h.9v.9h-.9zM137.57 36.22h.9v.9h-.9zM137.6 35.88h.9v.9h-.9zM137.67 35.4h.9v.9h-.9zM134.82 33.04h.9v.9h-.9zM132.83 38.47h.9v.9h-.9zM139.67 33.27h.9v.9h-.9zM140.11 30.34h.9v.9h-.9zM137.98 31.99h.9v.9h-.9zM129.95 35.65h.9v.9h-.9zM134.01 38.63h.9v.9h-.9zM134.52 32.99h.9v.9h-.9zM141.59 31.96h.9v.9h-.9zM132.11 36.15h.9v.9h-.9zM134.49 39.19h.9v.9h-.9zM133.24 33.14h.9v.9h-.9zM126.35 35.91h.9v.9h-.9zM145.25 30.29h.9v.9h-.9zM133.65 35.74h.9v.9h-.9zM136.39 33.83h.9v.9h-.9zM147.77 35.03h.9v.9h-.9zM144.12 35.47h.9v.9h-.9zM133.8 29.71h.9v.9h-.9zM140.62 33.4h.9v.9h-.9zM137.76 33.11h.9v.9h-.9zM140.52 33.9h.9v.9h-.9zM138.65 34.4h.9v.9h-.9zM136.75 32.82h.9v.9h-.9zM143.3 30.69h.9v.9h-.9zM145.75 32.16h.9v.9h-.9zM137.84 36.38h.9v.9h-.9zM135.56 33.75h.9v.9h-.9zM136.19 34.02h.9v.9h-.9zM140.39 37.98h.9v.9h-.9zM139.73 29.86h.9v.9h-.9zM134.21 29.95h.9v.9h-.9zM140.57 34.72h.9v.9h-.9zM138.95 33.95h.9v.9h-.9zM139.75 33.82h.9v.9h-.9zM140.23 33.11h.9v.9h-.9zM133.55 37.52h.9v.9h-.9zM143.06 27.08h.9v.9h-.9zM136.64 30.83h.9v.9h-.9zM139.67 31.95h.9v.9h-.9zM143.42 34.27h.9v.9h-.9zM135.68 32.94h.9v.9h-.9zM135.19 35.92h.9v.9h-.9zM133.77 36.09h.9v.9h-.9zM131.86 38.42h.9v.9h-.9zM139.54 29.68h.9v.9h-.9zM134.37 35.07h.9v.9h-.9zM138.73 25.46h.9v.9h-.9zM138.42 37.21h.9v.9h-.9zM135.76 30.58h.9v.9h-.9zM142.57 32.26h.9v.9h-.9zM138.38 34.84h.9v.9h-.9zM132.55 33.6h.9v.9h-.9zM132.96 32.21h.9v.9h-.9zM136.27 31.18h.9v.9h-.9zM144.17 32.36h.9v.9h-.9zM140.97 27.81h.9v.9h-.9zM136.69 33.42h.9v.9h-.9zM138.24 34.43h.9v.9h-.9zM135.66 28.36h.9v.9h-.9zM146.42 37.38h.9v.9h-.9zM153.33 26.02h.9v.9h-.9zM135.74 32.48h.9v.9h-.9zM143.46 36.35h.9v.9h-.9zM139.13 28.08h.9v.9h-.9zM146.97 26.07h.9v.9h-.9zM135.29 33.9h.9v.9h-.9zM139.38 26.85h.9v.9h-.9zM138.95 29.37h.9v.9h-.9zM139.19 28.08h.9v.9h-.9zM144.13 28.2h.9v.9h-.9zM136.88 35.44h.9v.9h-.9zM134.89 34.82h.9v.9h-.9zM144.17 28.42h.9v.9h-.9zM141.88 24.58h.9v.9h-.9zM142.08 26.22h.9v.9h-.9zM135.3 32.87h.9v.9h-.9zM136.07 32.18h.9v.9h-.9zM143.08 33.72h.9v.9h-.9zM143 33.72h.9v.9h-.9zM135.97 30.33h.9v.9h-.9zM144.52 33.84h.9v.9h-.9zM143.32 27.77h.9v.9h-.9zM134.03 28.68h.9v.9h-.9zM147.41 25.01h.9v.9h-.9zM139.15 33.22h.9v.9h-.9zM143.23 27.16h.9v.9h-.9zM152.69 27.86h.9v.9h-.9zM142.27 33.06h.9v.9h-.9zM138.66 33.57h.9v.9h-.9zM139.71 27.42h.9v.9h-.9zM134.77 33.45h.9v.9h-.9zM141.18 29.74h.9v.9h-.9zM137.8 30.31h.9v.9h-.9zM145.4 33.28h.9v.9h-.9zM139.04 31.86h.9v.9h-.9zM129.29 29.24h.9v.9h-.9zM136.3 28.26h.9v.9h-.9zM144.79 21.64h.9v.9h-.9zM143.54 32.23h.9v.9h-.9zM153.96 25.1h.9v.9h-.9zM143.33 35.24h.9v.9h-.9zM146.25 25.51h.9v.9h-.9zM138.44 26.81h.9v.9h-.9zM141 32.92h.9v.9h-.9zM148.82 30.37h.9v.9h-.9zM146 32.96h.9v.9h-.9zM135.62 34.31h.9v.9h-.9zM146.48 28.26h.9v.9h-.9zM134.81 32.61h.9v.9h-.9zM141.53 32.8h.9v.9h-.9zM129.77 32.01h.9v.9h-.9zM152.8 32.01h.9v.9h-.9zM139.69 29.66h.9v.9h-.9zM138.98 27.35h.9v.9h-.9zM137.84 31.08h.9v.9h-.9zM133.35 32.15h.9v.9h-.9zM142.2 25.34h.9v.9h-.9zM137.86 25.5h.9v.9h-.9zM140.84 31.24h.9v.9h-.9zM137.47 31.59h.9v.9h-.9zM143.92 32.13h.9v.9h-.9zM132.53 31.46h.9v.9h-.9zM131.9 25.85h.9v.9h-.9zM146.74 31.66h.9v.9h-.9zM148.24 31.29h.9v.9h-.9zM137.55 32.08h.9v.9h-.9zM137.33 36.38h.9v.9h-.9zM126.38 35.77h.9v.9h-.9zM137.24 34.03h.9v.9h-.9zM147.84 26.23h.9v.9h-.9zM148.82 32.31h.9v.9h-.9zM131.08 39.77h.9v.9h-.9zM133.47 27.41h.9v.9h-.9zM146.28 26.32h.9v.9h-.9zM141.94 29.97h.9v.9h-.9zM134.44 38.04h.9v.9h-.9zM149.55 28.4h.9v.9h-.9zM150.11 27.93h.9v.9h-.9zM142.15 28.97h.9v.9h-.9zM132.63 31.36h.9v.9h-.9zM134.85 33.54h.9v.9h-.9zM141.5 28.15h.9v.9h-.9zM148.33 29.81h.9v.9h-.9zM151.59 26.13h.9v.9h-.9zM138.27 28.41h.9v.9h-.9zM142.02 29.53h.9v.9h-.9zM140.82 36.9h.9v.9h-.9zM145.41 26.93h.9v.9h-.9zM143.05 28.89h.9v.9h-.9zM138.76 30.21h.9v.9h-.9zM141.01 32.76h.9v.9h-.9zM146.71 29.02h.9v.9h-.9zM135.73 31.8h.9v.9h-.9zM139.46 29.82h.9v.9h-.9zM133.29 31.96h.9v.9h-.9zM129.67 38.07h.9v.9h-.9zM145.03 32.08h.9v.9h-.9zM134.99 32.88h.9v.9h-.9zM148.31 27.66h.9v.9h-.9zM134.17 31.81h.9v.9h-.9zM126.99 37.58h.9v.9h-.9zM143.23 24.75h.9v.9h-.9zM144.82 33.57h.9v.9h-.9zM144.47 31.92h.9v.9h-.9zM149.88 28.85h.9v.9h-.9zM149.07 27.5h.9v.9h-.9zM136.48 30.42h.9v.9h-.9zM134.33 33.62h.9v.9h-.9zM142.09 29.61h.9v.9h-.9zM147.19 33.41h.9v.9h-.9zM154.47 26.86h.9v.9h-.9zM144.74 28.01h.9v.9h-.9zM142.51 33.94h.9v.9h-.9zM151.81 27.86h.9v.9h-.9zM138.69 26.58h.9v.9h-.9zM145.74 33.23h.9v.9h-.9zM139.19 32.86h.9v.9h-.9zM138.43 29.55h.9v.9h-.9zM139.8 27.22h.9v.9h-.9zM133.64 30.3h.9v.9h-.9zM145.76 25.37h.9v.9h-.9zM134.93 28.28h.9v.9h-.9zM145.46 24.14h.9v.9h-.9zM148.01 28.12h.9v.9h-.9zM139.89 26.08h.9v.9h-.9zM133.27 30.67h.9v.9h-.9zM150.47 27.89h.9v.9h-.9zM139.26 25.09h.9v.9h-.9zM144.02 25.81h.9v.9h-.9zM146.98 25.85h.9v.9h-.9zM150.06 32.04h.9v.9h-.9zM142.57 26.02h.9v.9h-.9zM130.74 28.56h.9v.9h-.9zM147.42 25.63h.9v.9h-.9zM151.12 26.45h.9v.9h-.9zM139.64 30.93h.9v.9h-.9zM147.83 22.25h.9v.9h-.9zM142.04 24.6h.9v.9h-.9zM144.44 29h.9v.9h-.9zM143.24 28.91h.9v.9h-.9zM150.04 27.49h.9v.9h-.9zM139.18 25.51h.9v.9h-.9zM149.7 33.62h.9v.9h-.9zM144.66 29.59h.9v.9h-.9zM141.49 26.71h.9v.9h-.9zM150.34 26.92h.9v.9h-.9zM146.4 28.82h.9v.9h-.9zM151.33 29.16h.9v.9h-.9zM146.02 36.55h.9v.9h-.9zM142.21 40.5h.9v.9h-.9zM163.6 32.72h.9v.9h-.9zM154.68 34.47h.9v.9h-.9zM141.54 36.53h.9v.9h-.9zM142.93 36.33h.9v.9h-.9zM141.66 42.84h.9v.9h-.9zM134.89 35.5h.9v.9h-.9zM140.28 38.02h.9v.9h-.9zM136.16 37.41h.9v.9h-.9zM147.4 43.29h.9v.9h-.9zM151.62 37.28h.9v.9h-.9zM147.32 42.97h.9v.9h-.9zM145.59 35.39h.9v.9h-.9zM141.54 36.36h.9v.9h-.9zM153.53 34.47h.9v.9h-.9zM141.86 37.38h.9v.9h-.9zM139.09 39.4h.9v.9h-.9zM143.35 38.94h.9v.9h-.9zM150.57 41.91h.9v.9h-.9zM160.34 34.87h.9v.9h-.9zM135.99 33.98h.9v.9h-.9zM150.27 39.03h.9v.9h-.9zM146.48 37.35h.9v.9h-.9zM158.61 40.12h.9v.9h-.9zM148.27 39.31h.9v.9h-.9zM134.54 40.99h.9v.9h-.9zM162.96 37.9h.9v.9h-.9zM143.08 41.17h.9v.9h-.9zM142.58 37.76h.9v.9h-.9zM151.41 37.02h.9v.9h-.9zM152.16 31.7h.9v.9h-.9zM127.13 39.67h.9v.9h-.9zM150.78 38.15h.9v.9h-.9zM143.46 37.62h.9v.9h-.9zM150.08 34.07h.9v.9h-.9zM148.59 35.15h.9v.9h-.9zM163.17 38.57h.9v.9h-.9zM148.75 40.51h.9v.9h-.9zM154.09 40.33h.9v.9h-.9zM141.42 37.95h.9v.9h-.9zM153.64 38.16h.9v.9h-.9zM147.57 35.8h.9v.9h-.9zM148.1 41.63h.9v.9h-.9zM137.05 33.43h.9v.9h-.9zM143.46 26.61h.9v.9h-.9zM138.07 21.27h.9v.9h-.9zM144.22 24.14h.9v.9h-.9zM118.82 20.8h.9v.9h-.9zM151.65 19.84h.9v.9h-.9zM129.69 19.17h.9v.9h-.9zM145.56 19.7h.9v.9h-.9zM137.56 24.59h.9v.9h-.9zM135.9 21.07h.9v.9h-.9zM127.42 17.34h.9v.9h-.9zM142.07 24.72h.9v.9h-.9zM145.05 20.47h.9v.9h-.9zM128.79 21.3h.9v.9h-.9zM143.63 22.64h.9v.9h-.9zM137.96 20.65h.9v.9h-.9zM126.49 25.64h.9v.9h-.9zM137.9 23.11h.9v.9h-.9zM121.44 18.5h.9v.9h-.9zM131.65 20.71h.9v.9h-.9zM142.84 19.33h.9v.9h-.9zM135.51 18.87h.9v.9h-.9zM133.05 22.12h.9v.9h-.9zM137.5 23.97h.9v.9h-.9zM125.92 23.33h.9v.9h-.9zM137.77 18.66h.9v.9h-.9zM143.69 19.03h.9v.9h-.9zM132.09 22.59h.9v.9h-.9zM144.45 19.8h.9v.9h-.9zM144.85 22.22h.9v.9h-.9zM129.33 23.18h.9v.9h-.9zM135.09 18.88h.9v.9h-.9zM133.6 24.72h.9v.9h-.9z"/>
<path d="M114 35.99L115.63 34.42L117.27 33.78L118.9 33.28L120.53 32.86L122.17 32.49L123.8 32.15L125.43 31.85L127.07 31.56L128.7 31.29L130.33 31.04L131.97 30.8L133.6 30.56L133.6 43.03L131.97 42.8L130.33 42.56L128.7 42.31L127.07 42.04L125.43 41.75L123.8 41.45L122.17 41.11L120.53 40.74L118.9 40.32L117.27 39.82L115.63 39.18L114 37.61Z" fill="#111" fill-opacity="0.3" filter="url(#bl)"/>
<path d="M119.5 35.9L120.65 35.13L121.8 34.71L122.95 34.37L124.1 34.07L125.25 33.8L126.4 33.55L127.55 33.31L128.7 33.09L129.85 32.88L131 32.67L132.15 32.47L133.3 32.28L133.3 41.31L132.15 41.13L131 40.93L129.85 40.72L128.7 40.51L127.55 40.29L126.4 40.05L125.25 39.8L124.1 39.53L122.95 39.23L121.8 38.89L120.65 38.47L119.5 37.7Z" fill="#111" fill-opacity="0.85" filter="url(#bl)"/>
<path fill="#111" fill-opacity="0.8" d="M130.11 36.62h.9v.9h-.9zM127.73 32.4h.9v.9h-.9zM133.04 35.38h.9v.9h-.9zM130.97 35.69h.9v.9h-.9zM133.4 36.67h.9v.9h-.9zM130.32 40.06h.9v.9h-.9zM127.71 36.05h.9v.9h-.9zM128.02 37.18h.9v.9h-.9zM131.15 37.8h.9v.9h-.9zM129.01 39.88h.9v.9h-.9zM129.41 32.85h.9v.9h-.9zM134.83 30.34h.9v.9h-.9zM137.58 31.05h.9v.9h-.9zM122.32 34.15h.9v.9h-.9zM132.88 33.51h.9v.9h-.9zM132.12 40.46h.9v.9h-.9zM125.64 36.34h.9v.9h-.9zM131.06 38.16h.9v.9h-.9zM125.76 30.1h.9v.9h-.9zM125.8 33.4h.9v.9h-.9zM128.98 36.86h.9v.9h-.9zM125.3 32.87h.9v.9h-.9zM125.77 37.44h.9v.9h-.9zM130.67 38.51h.9v.9h-.9zM132.94 40.58h.9v.9h-.9zM126.45 41.41h.9v.9h-.9zM123.2 38.9h.9v.9h-.9zM128.26 30.06h.9v.9h-.9zM135.57 44.73h.9v.9h-.9zM133.8 31.09h.9v.9h-.9zM117.47 39.57h.9v.9h-.9zM129.88 34.16h.9v.9h-.9zM125.02 29.86h.9v.9h-.9zM128.73 28.5h.9v.9h-.9zM121.66 35.75h.9v.9h-.9zM134.71 39.43h.9v.9h-.9zM133.13 41.74h.9v.9h-.9zM132.25 34.65h.9v.9h-.9zM129.82 37.29h.9v.9h-.9zM125.83 36.56h.9v.9h-.9zM128.11 31.5h.9v.9h-.9zM121.54 36.79h.9v.9h-.9zM131.59 40.28h.9v.9h-.9zM134.22 38.19h.9v.9h-.9zM129.28 34.64h.9v.9h-.9zM122.88 25.32h.9v.9h-.9zM127.12 39.17h.9v.9h-.9zM128.42 44.13h.9v.9h-.9zM135.66 40.05h.9v.9h-.9zM127.98 43.28h.9v.9h-.9zM135.47 31.91h.9v.9h-.9zM130.66 41.36h.9v.9h-.9zM124.64 44.01h.9v.9h-.9zM127.75 39.06h.9v.9h-.9zM126.89 37.72h.9v.9h-.9zM129.8 42.74h.9v.9h-.9zM127.16 38.99h.9v.9h-.9zM131.91 35.61h.9v.9h-.9zM130.56 31.16h.9v.9h-.9zM122.17 34.86h.9v.9h-.9zM120.67 33.19h.9v.9h-.9zM127.27 33.93h.9v.9h-.9zM125.43 32.98h.9v.9h-.9zM130.62 35.9h.9v.9h-.9zM116.84 39.8h.9v.9h-.9zM135.45 39.37h.9v.9h-.9zM133.76 33.68h.9v.9h-.9zM136.16 39.15h.9v.9h-.9zM128.07 41.46h.9v.9h-.9zM130.21 33.74h.9v.9h-.9zM128.64 38.73h.9v.9h-.9zM127.35 38.3h.9v.9h-.9zM125.53 29.95h.9v.9h-.9zM133.96 38.42h.9v.9h-.9zM130.68 30.32h.9v.9h-.9zM128.01 41.53h.9v.9h-.9zM126.2 32.53h.9v.9h-.9zM138.88 36.75h.9v.9h-.9zM130.92 36.37h.9v.9h-.9zM134.75 37.6h.9v.9h-.9zM125.3 35.36h.9v.9h-.9zM128.89 43.59h.9v.9h-.9zM128.77 36.19h.9v.9h-.9zM133.92 41.1h.9v.9h-.9zM126.15 37.85h.9v.9h-.9zM132.54 35.71h.9v.9h-.9zM132.83 38.66h.9v.9h-.9zM122.92 39.91h.9v.9h-.9zM128.74 35.21h.9v.9h-.9zM118.58 38.28h.9v.9h-.9z"/>
<path fill="#111" fill-opacity="0.45" d="M133.36 30.88h.9v.9h-.9zM121.96 34.6h.9v.9h-.9zM129.3 36.3h.9v.9h-.9zM121.13 43.01h.9v.9h-.9zM112.86 34.7h.9v.9h-.9zM125.91 28.94h.9v.9h-.9zM122.36 44.66h.9v.9h-.9zM112.79 36.75h.9v.9h-.9zM122.02 46.6h.9v.9h-.9zM122.86 33.39h.9v.9h-.9zM130.77 34.37h.9v.9h-.9zM118.27 38.63h.9v.9h-.9zM114.9 43.35h.9v.9h-.9zM130.3 33.85h.9v.9h-.9zM116.6 35.54h.9v.9h-.9zM133.64 44.95h.9v.9h-.9zM122.47 37.42h.9v.9h-.9zM124.38 41.49h.9v.9h-.9zM124.71 33.39h.9v.9h-.9zM131.59 46.87h.9v.9h-.9zM118.66 48.95h.9v.9h-.9zM126.62 36.95h.9v.9h-.9zM125.41 42.19h.9v.9h-.9zM118.14 35.6h.9v.9h-.9zM139.09 33.76h.9v.9h-.9zM135.28 25.18h.9v.9h-.9zM121.14 35.43h.9v.9h-.9zM121.91 36.08h.9v.9h-.9zM115.96 42.02h.9v.9h-.9zM133.58 34.12h.9v.9h-.9zM118 41.31h.9v.9h-.9zM131.99 43.6h.9v.9h-.9zM120.35 32.83h.9v.9h-.9zM128.18 37.99h.9v.9h-.9zM115.77 29.71h.9v.9h-.9zM114.89 34.77h.9v.9h-.9zM132.28 37.26h.9v.9h-.9zM121.4 36.06h.9v.9h-.9zM118.88 36.02h.9v.9h-.9zM117.28 44.97h.9v.9h-.9zM124.33 36.04h.9v.9h-.9zM131.76 40.9h.9v.9h-.9zM132 33.15h.9v.9h-.9zM117.96 44.57h.9v.9h-.9zM125.83 35.71h.9v.9h-.9zM130.62 38.16h.9v.9h-.9zM121.97 30.18h.9v.9h-.9zM120 37.27h.9v.9h-.9zM124.79 38.23h.9v.9h-.9zM118.81 37.73h.9v.9h-.9zM117.38 33.75h.9v.9h-.9zM119.06 45.38h.9v.9h-.9zM120.02 42.12h.9v.9h-.9zM114.04 39.16h.9v.9h-.9zM134.45 35.69h.9v.9h-.9zM134.7 36.82h.9v.9h-.9zM114.57 35.61h.9v.9h-.9zM124.91 37h.9v.9h-.9zM127.05 37.07h.9v.9h-.9zM131.55 42.58h.9v.9h-.9zM124.41 31.1h.9v.9h-.9zM125.3 42.67h.9v.9h-.9zM127.47 39.59h.9v.9h-.9zM123.34 34.08h.9v.9h-.9zM129.2 21.95h.9v.9h-.9zM126.83 34.6h.9v.9h-.9zM123.63 44.11h.9v.9h-.9zM112.48 26.42h.9v.9h-.9zM127.17 31.22h.9v.9h-.9zM120.1 34.73h.9v.9h-.9zM125.91 33.04h.9v.9h-.9zM121.94 34.15h.9v.9h-.9zM122 26.78h.9v.9h-.9z"/>
<rect x="111.6" y="16.5" width="58.3" height="58.4" fill="none" stroke="#7c7ce6" stroke-width="0.8"/>
<line x1="133.6" y1="16.5" x2="133.6" y2="74.9" stroke="#f28aa4" stroke-width="0.8"/>
<line x1="111.6" y1="48.5" x2="169.9" y2="48.5" stroke="#f28aa4" stroke-width="0.8"/>
<path d="M123.9 16.5V26.2H146.7V16.5" fill="none" stroke="#e8728f" stroke-width="0.76"/>
<text x="114.9" y="28.7" font-size="4.2" fill="#e64a6e" stroke="#e64a6e" stroke-width="0.15" textLength="4.2" lengthAdjust="spacingAndGlyphs">R4</text>
<text x="114.9" y="33.1" font-size="4.2" fill="#e64a6e" stroke="#e64a6e" stroke-width="0.15" textLength="8" lengthAdjust="spacingAndGlyphs">2.2%</text>
<path fill="#111" fill-opacity="0.4" d="M230.67 39.98h.9v.9h-.9zM223.91 39.28h.9v.9h-.9zM228.34 35.89h.9v.9h-.9zM242.58 37.03h.9v.9h-.9zM229.77 38.57h.9v.9h-.9zM237.48 36.52h.9v.9h-.9zM233.93 33.97h.9v.9h-.9zM227.63 35.42h.9v.9h-.9zM221.27 32.53h.9v.9h-.9zM228.91 35.74h.9v.9h-.9zM230.51 32.99h.9v.9h-.9zM229.53 37.24h.9v.9h-.9zM235 34.32h.9v.9h-.9zM227.41 31.16h.9v.9h-.9zM226.73 30.67h.9v.9h-.9zM220.69 39.57h.9v.9h-.9zM232.21 35.76h.9v.9h-.9zM233.08 38.02h.9v.9h-.9zM236.94 35.98h.9v.9h-.9zM226.15 34.97h.9v.9h-.9zM223.55 36.48h.9v.9h-.9zM224.87 39.49h.9v.9h-.9zM223.77 30.95h.9v.9h-.9zM242.59 30.1h.9v.9h-.9zM228.18 35.18h.9v.9h-.9zM240.97 31.24h.9v.9h-.9zM237.12 34.63h.9v.9h-.9zM229.03 34.79h.9v.9h-.9zM234.27 33.53h.9v.9h-.9zM229.53 37.55h.9v.9h-.9zM242.18 30.11h.9v.9h-.9zM240.11 39.16h.9v.9h-.9zM226.86 37.42h.9v.9h-.9zM226.98 41.05h.9v.9h-.9zM231.43 36.02h.9v.9h-.9zM228.55 36.06h.9v.9h-.9zM228.89 34.23h.9v.9h-.9zM243.62 31.44h.9v.9h-.9zM229.08 37.61h.9v.9h-.9zM228.7 36.2h.9v.9h-.9zM232.24 39.21h.9v.9h-.9zM227.1 35.59h.9v.9h-.9zM242.85 38.03h.9v.9h-.9zM223.55 42.87h.9v.9h-.9zM235.17 35.01h.9v.9h-.9zM222.31 37.41h.9v.9h-.9zM224.56 33.74h.9v.9h-.9zM221.5 35.23h.9v.9h-.9zM237.35 35.43h.9v.9h-.9zM220.49 38.41h.9v.9h-.9zM230.48 38.88h.9v.9h-.9zM237.97 36.14h.9v.9h-.9zM229.09 36.48h.9v.9h-.9zM222.57 38.41h.9v.9h-.9zM239.1 37.07h.9v.9h-.9zM228.48 35.9h.9v.9h-.9zM224.9 34.43h.9v.9h-.9zM227.41 34.33h.9v.9h-.9zM227.17 32.34h.9v.9h-.9zM232.36 36.73h.9v.9h-.9zM222.45 30.39h.9v.9h-.9zM230 39.58h.9v.9h-.9zM225.21 35.3h.9v.9h-.9zM226.3 38.36h.9v.9h-.9zM224.01 39.26h.9v.9h-.9zM228.05 39.1h.9v.9h-.9zM230.26 35.98h.9v.9h-.9zM220.3 34.74h.9v.9h-.9zM228.33 38.38h.9v.9h-.9zM231.67 34.72h.9v.9h-.9zM232.75 39.27h.9v.9h-.9zM229.07 35.41h.9v.9h-.9zM227.45 38.79h.9v.9h-.9zM233.6 34.09h.9v.9h-.9zM232.52 35.3h.9v.9h-.9zM225.1 39.95h.9v.9h-.9zM235.46 34.64h.9v.9h-.9zM230.57 37.95h.9v.9h-.9zM225.83 36.27h.9v.9h-.9zM234.45 31.77h.9v.9h-.9zM232.21 38.59h.9v.9h-.9zM233.38 32.98h.9v.9h-.9zM232.15 34.27h.9v.9h-.9zM233.81 38.23h.9v.9h-.9zM231.48 34.53h.9v.9h-.9zM226.15 38.91h.9v.9h-.9zM224.12 37.94h.9v.9h-.9zM233.42 35.85h.9v.9h-.9zM245.84 36.79h.9v.9h-.9zM244.2 31.16h.9v.9h-.9zM234.25 35.76h.9v.9h-.9zM229.7 31.46h.9v.9h-.9zM225.9 33.81h.9v.9h-.9zM228.59 38.99h.9v.9h-.9zM230.4 37.6h.9v.9h-.9zM225.45 35.43h.9v.9h-.9zM230.79 35.84h.9v.9h-.9zM238.39 34.24h.9v.9h-.9zM242.52 33.95h.9v.9h-.9zM237.04 34.51h.9v.9h-.9zM240.92 36.97h.9v.9h-.9zM232.68 38.61h.9v.9h-.9zM225.86 33.79h.9v.9h-.9zM225.46 35h.9v.9h-.9zM238.63 42.57h.9v.9h-.9zM233.82 44.68h.9v.9h-.9zM228.87 42.41h.9v.9h-.9zM240.74 42.26h.9v.9h-.9zM226.29 40.08h.9v.9h-.9zM244.46 40.28h.9v.9h-.9zM233.66 42.66h.9v.9h-.9zM234.24 38.98h.9v.9h-.9zM220.42 41.63h.9v.9h-.9zM228.23 41.39h.9v.9h-.9zM234.23 42.06h.9v.9h-.9zM224.31 39.13h.9v.9h-.9zM240.13 40.8h.9v.9h-.9zM225.45 38.63h.9v.9h-.9zM237.32 39.8h.9v.9h-.9zM226.33 42.79h.9v.9h-.9zM235.72 42.69h.9v.9h-.9zM224.8 37.25h.9v.9h-.9zM226.74 41.32h.9v.9h-.9zM228.99 43.21h.9v.9h-.9zM236.11 40.14h.9v.9h-.9zM237.53 41.56h.9v.9h-.9zM230.23 43.58h.9v.9h-.9zM221.98 43.44h.9v.9h-.9zM241.19 38.53h.9v.9h-.9zM232.27 41.54h.9v.9h-.9zM225.71 40.89h.9v.9h-.9zM227.95 41.9h.9v.9h-.9zM229.71 38.39h.9v.9h-.9zM241.92 43.23h.9v.9h-.9z"/>
<path fill="#111" fill-opacity="0.45" d="M237.52 43.76h.9v.9h-.9zM233.28 37.5h.9v.9h-.9zM236.61 38.51h.9v.9h-.9zM233.1 35.17h.9v.9h-.9zM239.7 42.21h.9v.9h-.9zM241.59 33.52h.9v.9h-.9zM237.74 36.2h.9v.9h-.9zM234.16 31.41h.9v.9h-.9zM239.49 37.48h.9v.9h-.9zM237.24 40.98h.9v.9h-.9zM235.1 38.5h.9v.9h-.9zM237.62 36.39h.9v.9h-.9zM238.83 37.23h.9v.9h-.9zM238.27 37.56h.9v.9h-.9zM242.45 35.48h.9v.9h-.9zM240.13 38.79h.9v.9h-.9zM236.73 39.46h.9v.9h-.9zM235.46 40.78h.9v.9h-.9zM235.58 34.84h.9v.9h-.9zM238.41 39.6h.9v.9h-.9zM239.87 39.82h.9v.9h-.9zM237.08 33.16h.9v.9h-.9zM238.97 37.69h.9v.9h-.9zM235.22 40.1h.9v.9h-.9zM238.1 33.15h.9v.9h-.9zM238.7 31.83h.9v.9h-.9zM235.41 38.05h.9v.9h-.9zM233.71 36.74h.9v.9h-.9zM234.22 39.25h.9v.9h-.9zM235.78 37.26h.9v.9h-.9zM233.84 35.36h.9v.9h-.9zM239.97 38.25h.9v.9h-.9zM233 39.93h.9v.9h-.9zM239.83 35.25h.9v.9h-.9zM241.14 32.79h.9v.9h-.9zM237.39 40.61h.9v.9h-.9zM240.88 41.21h.9v.9h-.9zM234.86 30.19h.9v.9h-.9zM238.58 31.45h.9v.9h-.9zM237.27 31.99h.9v.9h-.9zM240.25 39.49h.9v.9h-.9zM238.99 36.66h.9v.9h-.9zM237.71 35.53h.9v.9h-.9zM238.56 37.5h.9v.9h-.9zM238.75 35.06h.9v.9h-.9zM242.35 37.62h.9v.9h-.9zM241.09 41.39h.9v.9h-.9zM235.4 30.53h.9v.9h-.9zM240.74 35.2h.9v.9h-.9zM237.8 35.67h.9v.9h-.9zM237.93 32.32h.9v.9h-.9zM237.34 34.93h.9v.9h-.9zM237.56 28.19h.9v.9h-.9zM239.65 37.79h.9v.9h-.9zM233.28 33.96h.9v.9h-.9zM237.68 38.86h.9v.9h-.9zM237.6 41.58h.9v.9h-.9zM237.66 33h.9v.9h-.9zM235.91 39.28h.9v.9h-.9zM236.07 39.63h.9v.9h-.9zM240.15 38.72h.9v.9h-.9zM240.14 35.97h.9v.9h-.9zM237.58 34.47h.9v.9h-.9zM236.07 30.97h.9v.9h-.9zM236.21 32.74h.9v.9h-.9zM234.03 37.13h.9v.9h-.9zM238.74 35.37h.9v.9h-.9zM241.02 39.99h.9v.9h-.9zM240.21 34.43h.9v.9h-.9zM233.87 38.61h.9v.9h-.9z"/>
<path fill="#111" fill-opacity="0.35" d="M245.83 34.72h.9v.9h-.9zM246.27 35.95h.9v.9h-.9zM243.45 35.47h.9v.9h-.9zM241.02 28.64h.9v.9h-.9zM242.82 37.86h.9v.9h-.9zM237.9 38.46h.9v.9h-.9zM241.88 33.28h.9v.9h-.9zM244.77 33.78h.9v.9h-.9zM240.7 35.09h.9v.9h-.9zM246.38 34.8h.9v.9h-.9zM241.58 38.46h.9v.9h-.9zM252.23 36.71h.9v.9h-.9zM239.24 35.76h.9v.9h-.9zM237.16 37.07h.9v.9h-.9zM246.82 29.48h.9v.9h-.9zM238.26 36.17h.9v.9h-.9zM247.11 30.3h.9v.9h-.9zM243.55 27.13h.9v.9h-.9zM241.77 34.74h.9v.9h-.9zM245.21 37.19h.9v.9h-.9zM240.03 29.16h.9v.9h-.9zM246.41 31.08h.9v.9h-.9zM245.75 34.74h.9v.9h-.9zM247 36.15h.9v.9h-.9zM250.01 26.95h.9v.9h-.9zM244.35 38.59h.9v.9h-.9zM242.97 36.42h.9v.9h-.9zM244.38 32.29h.9v.9h-.9zM250.93 33.63h.9v.9h-.9zM243.63 36.02h.9v.9h-.9zM239.35 33.39h.9v.9h-.9zM248.21 32.05h.9v.9h-.9zM240.35 36.06h.9v.9h-.9zM245.92 36.14h.9v.9h-.9zM248.43 31.15h.9v.9h-.9zM242.66 33.67h.9v.9h-.9zM243.68 37.44h.9v.9h-.9zM250.95 34.44h.9v.9h-.9zM246.12 32.09h.9v.9h-.9zM248.21 31.04h.9v.9h-.9zM245.55 28.62h.9v.9h-.9zM242.91 37.68h.9v.9h-.9zM240.49 30.96h.9v.9h-.9zM243.94 37.88h.9v.9h-.9zM250.4 30.19h.9v.9h-.9zM242.69 33.73h.9v.9h-.9zM240.88 34.79h.9v.9h-.9zM243.4 29.91h.9v.9h-.9zM242.28 33.5h.9v.9h-.9zM241.16 31.68h.9v.9h-.9zM248.22 36.87h.9v.9h-.9zM243.45 32.63h.9v.9h-.9zM246.61 31.95h.9v.9h-.9zM241.47 38.09h.9v.9h-.9zM240.43 32.96h.9v.9h-.9zM241.94 32h.9v.9h-.9zM243.65 35.15h.9v.9h-.9zM250.36 32.86h.9v.9h-.9zM244.74 30h.9v.9h-.9zM244.35 30.95h.9v.9h-.9zM244.21 35.99h.9v.9h-.9zM245.42 32.45h.9v.9h-.9zM241.59 34.37h.9v.9h-.9zM245.04 30.72h.9v.9h-.9zM242.58 36.35h.9v.9h-.9zM237.96 34.64h.9v.9h-.9zM239.93 39.07h.9v.9h-.9zM247.02 33.73h.9v.9h-.9zM246.18 33.45h.9v.9h-.9zM245.77 28.74h.9v.9h-.9zM245.63 34.46h.9v.9h-.9zM238.89 37.58h.9v.9h-.9zM251.6 23.65h.9v.9h-.9zM244.77 29.93h.9v.9h-.9zM244.44 32.58h.9v.9h-.9zM239.94 31.52h.9v.9h-.9zM248.95 32.6h.9v.9h-.9zM247.89 29.33h.9v.9h-.9zM251.74 21.9h.9v.9h-.9zM253.2 27.68h.9v.9h-.9zM240.09 30.73h.9v.9h-.9zM236.6 25.74h.9v.9h-.9zM245.64 27.97h.9v.9h-.9zM252 25.88h.9v.9h-.9zM239.83 28.86h.9v.9h-.9zM257.89 27.65h.9v.9h-.9zM243.93 27.65h.9v.9h-.9zM241.01 31.46h.9v.9h-.9zM250.16 33.84h.9v.9h-.9zM254.48 29.46h.9v.9h-.9zM243.65 28.2h.9v.9h-.9zM233.72 30.27h.9v.9h-.9zM250.12 28.39h.9v.9h-.9zM249.81 24.77h.9v.9h-.9zM252.98 29.95h.9v.9h-.9zM247.85 31.7h.9v.9h-.9zM234.18 31.83h.9v.9h-.9zM242.22 38.38h.9v.9h-.9zM246.5 28.74h.9v.9h-.9zM252.72 25.07h.9v.9h-.9zM256.13 25.45h.9v.9h-.9zM247.24 27.04h.9v.9h-.9zM252.45 21.05h.9v.9h-.9zM251.74 26.19h.9v.9h-.9zM247.9 26h.9v.9h-.9zM248.97 30.62h.9v.9h-.9zM251.14 30.51h.9v.9h-.9zM251.34 32.94h.9v.9h-.9zM245.27 26.6h.9v.9h-.9zM239.93 34.84h.9v.9h-.9zM245.34 34.76h.9v.9h-.9zM247.87 26.52h.9v.9h-.9zM253.03 35.97h.9v.9h-.9zM246.51 27.15h.9v.9h-.9zM242.52 34.92h.9v.9h-.9zM244.09 29.75h.9v.9h-.9zM251.71 29.25h.9v.9h-.9zM248.29 28.12h.9v.9h-.9zM243.77 31.92h.9v.9h-.9zM248.53 32.22h.9v.9h-.9zM244.6 32.36h.9v.9h-.9zM250.45 29.84h.9v.9h-.9zM251.02 33.09h.9v.9h-.9zM248.79 30.27h.9v.9h-.9zM241.78 33.05h.9v.9h-.9zM247.04 29.31h.9v.9h-.9zM242.65 33.72h.9v.9h-.9zM262.95 27.79h.9v.9h-.9zM248.12 31.76h.9v.9h-.9zM244.05 31.6h.9v.9h-.9zM243.63 29.01h.9v.9h-.9zM248.99 30.77h.9v.9h-.9zM246.93 27.57h.9v.9h-.9zM249.18 25.89h.9v.9h-.9zM252.23 27.8h.9v.9h-.9zM247.6 33.18h.9v.9h-.9zM250.94 24.67h.9v.9h-.9zM246.11 32.04h.9v.9h-.9zM247.16 21.09h.9v.9h-.9zM252.24 28.16h.9v.9h-.9zM254.74 28.55h.9v.9h-.9zM253.26 29.02h.9v.9h-.9zM259.47 29.75h.9v.9h-.9zM255.31 27.12h.9v.9h-.9zM258.22 27.74h.9v.9h-.9zM256.29 21.98h.9v.9h-.9zM253.83 28.01h.9v.9h-.9zM250.3 32.16h.9v.9h-.9zM254.62 27.88h.9v.9h-.9zM249.98 33.93h.9v.9h-.9zM256.33 30.27h.9v.9h-.9zM248.79 32.21h.9v.9h-.9zM255.39 27.49h.9v.9h-.9zM252.08 23.43h.9v.9h-.9zM255.85 25.03h.9v.9h-.9zM256.81 26.98h.9v.9h-.9zM249.5 29.41h.9v.9h-.9zM253.65 24.92h.9v.9h-.9zM252.23 30.12h.9v.9h-.9zM251.35 24.28h.9v.9h-.9zM251.39 25.42h.9v.9h-.9zM249.72 28.44h.9v.9h-.9zM253.18 36.67h.9v.9h-.9zM240.41 38.34h.9v.9h-.9zM252.01 36.08h.9v.9h-.9zM254.84 43.06h.9v.9h-.9zM243.32 32.5h.9v.9h-.9zM259.68 34.94h.9v.9h-.9zM263.96 34.36h.9v.9h-.9zM249.74 39.79h.9v.9h-.9zM260.86 38.62h.9v.9h-.9zM257.22 36.91h.9v.9h-.9zM250.09 36.69h.9v.9h-.9zM263.72 39.41h.9v.9h-.9zM253.75 38.25h.9v.9h-.9zM260.21 40.83h.9v.9h-.9zM252.55 37.06h.9v.9h-.9zM256.23 45.08h.9v.9h-.9zM255.52 41.09h.9v.9h-.9zM241.4 39.83h.9v.9h-.9zM242.42 34.08h.9v.9h-.9zM248.56 36.87h.9v.9h-.9zM255.03 38.39h.9v.9h-.9zM255.39 36h.9v.9h-.9zM274.21 38.47h.9v.9h-.9zM258.9 43.33h.9v.9h-.9zM261.28 39.02h.9v.9h-.9zM256.16 42.86h.9v.9h-.9zM245.02 34.45h.9v.9h-.9zM254.76 31.24h.9v.9h-.9zM247.43 40.66h.9v.9h-.9zM249.94 37.79h.9v.9h-.9zM259.09 33.84h.9v.9h-.9zM255.75 35.43h.9v.9h-.9zM244.93 36.48h.9v.9h-.9zM253.16 36.11h.9v.9h-.9zM248.37 40.14h.9v.9h-.9zM262.74 38.95h.9v.9h-.9zM252.83 34.17h.9v.9h-.9zM247.1 34.01h.9v.9h-.9zM255.26 40.02h.9v.9h-.9zM260.83 37.23h.9v.9h-.9zM250.56 37.83h.9v.9h-.9zM254.56 39.07h.9v.9h-.9zM265.29 35.27h.9v.9h-.9zM270.18 31.06h.9v.9h-.9zM239.49 32.8h.9v.9h-.9zM234.49 20.1h.9v.9h-.9zM255.93 18.72h.9v.9h-.9zM249.25 19.73h.9v.9h-.9zM242.65 17.77h.9v.9h-.9zM257.34 20.69h.9v.9h-.9zM237.34 27.56h.9v.9h-.9zM242.86 22.03h.9v.9h-.9zM240.59 18.33h.9v.9h-.9zM231.68 20.28h.9v.9h-.9zM252.8 22.05h.9v.9h-.9zM240.39 23.95h.9v.9h-.9zM235.14 24.89h.9v.9h-.9zM241.48 18.33h.9v.9h-.9zM246.3 22.33h.9v.9h-.9zM239.21 21.44h.9v.9h-.9zM248.38 24.98h.9v.9h-.9zM255.79 20.02h.9v.9h-.9zM238.71 22.08h.9v.9h-.9zM238.64 23.9h.9v.9h-.9zM232.97 20.19h.9v.9h-.9zM232.89 25.33h.9v.9h-.9zM239.89 24.06h.9v.9h-.9zM251.22 17.25h.9v.9h-.9zM240.07 22.94h.9v.9h-.9zM241.95 20.4h.9v.9h-.9zM247.44 23.51h.9v.9h-.9zM237.49 20.4h.9v.9h-.9zM246.09 21.43h.9v.9h-.9zM242.58 17.47h.9v.9h-.9zM253.78 20.12h.9v.9h-.9zM243.46 20.7h.9v.9h-.9zM242.05 21.25h.9v.9h-.9zM235.8 21.92h.9v.9h-.9zM249.94 21.99h.9v.9h-.9z"/>
<path d="M219.5 35.7L221.26 34.7L223.02 34.29L224.78 33.98L226.53 33.71L228.29 33.47L230.05 33.26L231.81 33.07L233.57 32.88L235.32 32.71L237.08 32.55L238.84 32.4L240.6 32.25L240.6 40.95L238.84 40.8L237.08 40.65L235.32 40.49L233.57 40.32L231.81 40.13L230.05 39.94L228.29 39.73L226.53 39.49L224.78 39.23L223.02 38.91L221.26 38.5L219.5 37.5Z" fill="#111" fill-opacity="0.3" filter="url(#bl)"/>
<path d="M225 35.6L226.28 35.14L227.55 34.89L228.82 34.69L230.1 34.51L231.38 34.35L232.65 34.2L233.92 34.06L235.2 33.93L236.47 33.8L237.75 33.68L239.02 33.56L240.3 33.45L240.3 39.75L239.02 39.64L237.75 39.52L236.47 39.4L235.2 39.27L233.92 39.14L232.65 39L231.38 38.85L230.1 38.69L228.82 38.51L227.55 38.31L226.28 38.06L225 37.6Z" fill="#111" fill-opacity="0.85" filter="url(#bl)"/>
<path fill="#111" fill-opacity="0.8" d="M226.7 32.79h.9v.9h-.9zM226.91 37.75h.9v.9h-.9zM240.62 35.34h.9v.9h-.9zM233.95 32.27h.9v.9h-.9zM235.7 36.03h.9v.9h-.9zM243.4 44.64h.9v.9h-.9zM234.72 34.5h.9v.9h-.9zM234.65 34.96h.9v.9h-.9zM231.22 38.84h.9v.9h-.9zM235.18 38.06h.9v.9h-.9zM227.3 36.42h.9v.9h-.9zM231.62 40.21h.9v.9h-.9zM236.54 36.5h.9v.9h-.9zM234.4 37.76h.9v.9h-.9zM232.43 34.1h.9v.9h-.9zM231.16 37.36h.9v.9h-.9zM236.28 32.11h.9v.9h-.9zM225.62 38.24h.9v.9h-.9zM235.36 39.06h.9v.9h-.9zM238.41 36.09h.9v.9h-.9zM235.62 37.14h.9v.9h-.9zM230.28 32.18h.9v.9h-.9zM240.42 37.58h.9v.9h-.9zM231.11 38.06h.9v.9h-.9zM235.29 39.25h.9v.9h-.9zM242.21 41.33h.9v.9h-.9zM236.82 39.77h.9v.9h-.9zM229.98 33.54h.9v.9h-.9zM228.55 37.13h.9v.9h-.9zM237.76 35.95h.9v.9h-.9zM236.15 38.78h.9v.9h-.9zM234.46 33.77h.9v.9h-.9zM233.19 37.29h.9v.9h-.9zM240.1 39.39h.9v.9h-.9zM235.56 39.57h.9v.9h-.9zM235.15 38.92h.9v.9h-.9zM238.89 42.1h.9v.9h-.9zM230.53 34.41h.9v.9h-.9zM236.11 41.69h.9v.9h-.9zM232.22 36.06h.9v.9h-.9zM240.18 42.59h.9v.9h-.9zM232.46 39.1h.9v.9h-.9zM243.5 39.72h.9v.9h-.9zM234.99 40.08h.9v.9h-.9zM233.72 33.29h.9v.9h-.9zM231.93 38.07h.9v.9h-.9zM233.41 34.65h.9v.9h-.9zM225.07 32.08h.9v.9h-.9zM241.66 34.72h.9v.9h-.9zM232.28 35.7h.9v.9h-.9zM239.21 31.13h.9v.9h-.9zM233.74 37.4h.9v.9h-.9zM229.39 36.02h.9v.9h-.9zM239.9 32.94h.9v.9h-.9zM228.98 37.99h.9v.9h-.9zM227.21 37.1h.9v.9h-.9zM229.92 33.55h.9v.9h-.9zM236.68 41.38h.9v.9h-.9zM238.63 37.29h.9v.9h-.9zM233.7 36.39h.9v.9h-.9zM231.14 35.17h.9v.9h-.9zM233.7 37.54h.9v.9h-.9zM229.83 39.03h.9v.9h-.9zM244.23 38.14h.9v.9h-.9zM241.07 36.25h.9v.9h-.9zM225.7 35h.9v.9h-.9zM230.41 33.32h.9v.9h-.9zM228.57 37.11h.9v.9h-.9zM233.2 37.56h.9v.9h-.9zM236.15 32.66h.9v.9h-.9zM243.82 36.72h.9v.9h-.9zM240.12 36.35h.9v.9h-.9zM237.97 35.68h.9v.9h-.9zM228.52 33.02h.9v.9h-.9zM231.22 37.84h.9v.9h-.9zM239.09 39.15h.9v.9h-.9zM232.74 39.48h.9v.9h-.9zM231.96 35.29h.9v.9h-.9zM233.54 37.03h.9v.9h-.9zM230.42 32.85h.9v.9h-.9zM233.82 38.38h.9v.9h-.9zM231.04 34.37h.9v.9h-.9zM238.32 32.5h.9v.9h-.9zM229.56 37.45h.9v.9h-.9zM228.65 34.83h.9v.9h-.9zM228.35 37.11h.9v.9h-.9zM229.3 39.6h.9v.9h-.9zM232.04 36.73h.9v.9h-.9zM231.7 34.84h.9v.9h-.9zM231.16 39.64h.9v.9h-.9z"/>
<path fill="#111" fill-opacity="0.45" d="M234.96 33.73h.9v.9h-.9zM221.86 39.81h.9v.9h-.9zM237.52 30.95h.9v.9h-.9zM232.56 36.5h.9v.9h-.9zM223.49 35.89h.9v.9h-.9zM226.04 39.13h.9v.9h-.9zM220.12 33.01h.9v.9h-.9zM228.55 35.35h.9v.9h-.9zM225.76 38.66h.9v.9h-.9zM224.03 40.8h.9v.9h-.9zM228.63 38.88h.9v.9h-.9zM233.76 36.76h.9v.9h-.9zM228.94 35.29h.9v.9h-.9zM227.36 39.35h.9v.9h-.9zM235.04 29.81h.9v.9h-.9zM233.75 37.16h.9v.9h-.9zM229.94 38.86h.9v.9h-.9zM221.37 40h.9v.9h-.9zM221.97 40.19h.9v.9h-.9zM235.05 39.15h.9v.9h-.9zM238.28 37.64h.9v.9h-.9zM227 34.69h.9v.9h-.9zM222.69 44.7h.9v.9h-.9zM235.96 38.27h.9v.9h-.9zM248.46 35.27h.9v.9h-.9zM225.68 36.68h.9v.9h-.9zM226.52 40.06h.9v.9h-.9zM225.32 39.83h.9v.9h-.9zM220.75 42.89h.9v.9h-.9zM243.29 38.42h.9v.9h-.9zM242.49 31.52h.9v.9h-.9zM234.16 39.28h.9v.9h-.9zM231.51 37.48h.9v.9h-.9zM236.08 34.87h.9v.9h-.9zM232.71 44.69h.9v.9h-.9zM233.54 31.59h.9v.9h-.9zM229.05 38.44h.9v.9h-.9zM236.85 40.41h.9v.9h-.9zM238.67 33.73h.9v.9h-.9zM229.89 38.91h.9v.9h-.9zM236.29 30.95h.9v.9h-.9zM220.72 36.9h.9v.9h-.9zM233.66 37.3h.9v.9h-.9zM231.79 36.43h.9v.9h-.9zM231.51 34.37h.9v.9h-.9zM229.67 34.37h.9v.9h-.9zM238.54 40.01h.9v.9h-.9zM237.84 34.84h.9v.9h-.9zM238.74 33.29h.9v.9h-.9zM235.81 32.74h.9v.9h-.9zM237.92 32.71h.9v.9h-.9zM224.07 38.81h.9v.9h-.9zM231.34 35.42h.9v.9h-.9zM226.76 36.86h.9v.9h-.9zM234.79 32.45h.9v.9h-.9zM233.28 33.19h.9v.9h-.9zM221.84 38.39h.9v.9h-.9zM226.04 34.82h.9v.9h-.9zM237.89 38.14h.9v.9h-.9zM236.57 39.45h.9v.9h-.9zM236.31 40.68h.9v.9h-.9zM225.96 36.07h.9v.9h-.9zM232.7 32.44h.9v.9h-.9zM235.56 35.24h.9v.9h-.9zM223.04 36.66h.9v.9h-.9zM228.28 33.16h.9v.9h-.9zM222.98 34.62h.9v.9h-.9zM235.25 46.15h.9v.9h-.9zM223.82 44.16h.9v.9h-.9zM223.86 34.24h.9v.9h-.9zM226.09 38.61h.9v.9h-.9zM234.21 38.98h.9v.9h-.9zM233.92 35.76h.9v.9h-.9zM222.14 36.75h.9v.9h-.9z"/>
<rect x="218.7" y="16.3" width="58" height="58.4" fill="none" stroke="#7c7ce6" stroke-width="0.8"/>
<line x1="240.6" y1="16.3" x2="240.6" y2="74.7" stroke="#f28aa4" stroke-width="0.8"/>
<line x1="218.7" y1="48.5" x2="276.7" y2="48.5" stroke="#f28aa4" stroke-width="0.8"/>
<path d="M231 16.3V26H253.8V16.3" fill="none" stroke="#e8728f" stroke-width="0.76"/>
<text x="222" y="28.5" font-size="4.2" fill="#e64a6e" stroke="#e64a6e" stroke-width="0.15" textLength="4.2" lengthAdjust="spacingAndGlyphs">R4</text>
<text x="222" y="32.9" font-size="4.2" fill="#e64a6e" stroke="#e64a6e" stroke-width="0.15" textLength="8" lengthAdjust="spacingAndGlyphs">4.8%</text>
<path fill="#111" fill-opacity="0.4" d="M298.32 38.42h.9v.9h-.9zM295.01 38.08h.9v.9h-.9zM304.16 38.26h.9v.9h-.9zM308.35 34.29h.9v.9h-.9zM298.49 34.84h.9v.9h-.9zM292.88 36.44h.9v.9h-.9zM299.51 38.28h.9v.9h-.9zM301.4 43.84h.9v.9h-.9zM303.74 32.12h.9v.9h-.9zM299.4 35.09h.9v.9h-.9zM294.65 41h.9v.9h-.9zM296.58 31.03h.9v.9h-.9zM300.1 36.11h.9v.9h-.9zM290.31 34.18h.9v.9h-.9zM293.93 36.93h.9v.9h-.9zM295.24 37.22h.9v.9h-.9zM310.16 34.55h.9v.9h-.9zM292.73 36.24h.9v.9h-.9zM305.27 34.84h.9v.9h-.9zM307.51 33h.9v.9h-.9zM291.24 36.83h.9v.9h-.9zM292.36 35.11h.9v.9h-.9zM301.03 39.22h.9v.9h-.9zM298.8 36.16h.9v.9h-.9zM306.91 38.23h.9v.9h-.9zM296.5 40.72h.9v.9h-.9zM292.11 37.5h.9v.9h-.9zM302.4 36.97h.9v.9h-.9zM294.26 38.07h.9v.9h-.9zM294.49 35.18h.9v.9h-.9zM291.31 40.99h.9v.9h-.9zM294.43 40.53h.9v.9h-.9zM300.56 36.2h.9v.9h-.9zM302.45 37.83h.9v.9h-.9zM298.92 32.79h.9v.9h-.9zM298.52 39.74h.9v.9h-.9zM301.26 40.05h.9v.9h-.9zM307.88 38.26h.9v.9h-.9zM311.07 32.37h.9v.9h-.9zM296.46 29.27h.9v.9h-.9zM303.46 37.29h.9v.9h-.9zM309.18 35.88h.9v.9h-.9zM289.21 33.12h.9v.9h-.9zM296.89 38.92h.9v.9h-.9zM294.7 37.57h.9v.9h-.9zM297.61 37.37h.9v.9h-.9zM301.91 37.52h.9v.9h-.9zM299.37 34.16h.9v.9h-.9zM297.3 38.34h.9v.9h-.9zM304.93 36.63h.9v.9h-.9zM298.65 38.03h.9v.9h-.9zM301.82 37.63h.9v.9h-.9zM296.38 35.44h.9v.9h-.9zM305.46 37.9h.9v.9h-.9zM298.19 47.64h.9v.9h-.9zM303.87 39.61h.9v.9h-.9zM299.06 33.9h.9v.9h-.9zM305.54 36.73h.9v.9h-.9zM298.4 40.14h.9v.9h-.9zM304.76 37.73h.9v.9h-.9zM298.17 43.42h.9v.9h-.9zM301.83 33.86h.9v.9h-.9zM303 37.46h.9v.9h-.9zM298.27 39.09h.9v.9h-.9zM299.6 43.14h.9v.9h-.9zM299.4 37.77h.9v.9h-.9zM305.71 35.27h.9v.9h-.9zM304.74 36.82h.9v.9h-.9zM305.86 34.4h.9v.9h-.9zM300.82 32.11h.9v.9h-.9zM295.14 37.05h.9v.9h-.9zM301.31 43.04h.9v.9h-.9zM310.17 32.9h.9v.9h-.9zM293.06 40.83h.9v.9h-.9zM300.94 32.82h.9v.9h-.9zM301.25 33.56h.9v.9h-.9zM292.4 33.15h.9v.9h-.9zM296.34 43.88h.9v.9h-.9zM300.55 36.67h.9v.9h-.9zM314.62 35.59h.9v.9h-.9zM297.07 36.2h.9v.9h-.9zM300.82 36.05h.9v.9h-.9zM307.64 36.11h.9v.9h-.9zM301.75 37.69h.9v.9h-.9zM292.4 34.02h.9v.9h-.9zM297.72 29.99h.9v.9h-.9zM298.15 37.24h.9v.9h-.9zM299 36.77h.9v.9h-.9zM300.38 35.94h.9v.9h-.9zM302.28 32.03h.9v.9h-.9zM304.05 34.31h.9v.9h-.9zM301.25 35.58h.9v.9h-.9zM295.25 34.59h.9v.9h-.9zM306.89 33.68h.9v.9h-.9zM290.12 37.67h.9v.9h-.9zM299.77 37.13h.9v.9h-.9zM291.72 35.02h.9v.9h-.9zM304.01 33.85h.9v.9h-.9zM302.08 39.22h.9v.9h-.9zM298.93 33.3h.9v.9h-.9zM310.6 37.39h.9v.9h-.9zM299.35 35.86h.9v.9h-.9zM291.83 36.19h.9v.9h-.9zM299.38 34.43h.9v.9h-.9zM298.83 40.52h.9v.9h-.9zM300.93 36.71h.9v.9h-.9zM304.96 39.81h.9v.9h-.9zM303.99 34.58h.9v.9h-.9zM305.68 40.8h.9v.9h-.9zM314.02 42.62h.9v.9h-.9zM302.14 40.88h.9v.9h-.9zM307.07 39.01h.9v.9h-.9zM296.6 41.22h.9v.9h-.9zM303.98 42h.9v.9h-.9zM291.17 42.73h.9v.9h-.9zM298.37 40.93h.9v.9h-.9zM302.35 41.25h.9v.9h-.9zM298.34 41.15h.9v.9h-.9zM306.19 41.84h.9v.9h-.9zM303 40.72h.9v.9h-.9zM309.6 41.96h.9v.9h-.9zM296.27 43.5h.9v.9h-.9zM291.89 40.63h.9v.9h-.9zM307.09 41.06h.9v.9h-.9zM299.27 41.2h.9v.9h-.9zM301.58 42.52h.9v.9h-.9zM305.71 40.69h.9v.9h-.9zM298.08 38.62h.9v.9h-.9zM298.03 42.52h.9v.9h-.9zM301.7 43.66h.9v.9h-.9zM299.57 42.2h.9v.9h-.9zM307.5 39.96h.9v.9h-.9zM310.99 39.57h.9v.9h-.9zM299.6 38.85h.9v.9h-.9zM299.48 40.18h.9v.9h-.9zM308.15 38.55h.9v.9h-.9zM304.65 42.36h.9v.9h-.9zM305.33 43.35h.9v.9h-.9z"/>
<path fill="#111" fill-opacity="0.45" d="M301.08 40.25h.9v.9h-.9zM305.75 35.5h.9v.9h-.9zM306.81 35.17h.9v.9h-.9zM304.06 44.35h.9v.9h-.9zM301.65 40.42h.9v.9h-.9zM308.13 44.21h.9v.9h-.9zM306.23 39.08h.9v.9h-.9zM303.33 37.13h.9v.9h-.9zM300.37 34.7h.9v.9h-.9zM305.54 36.58h.9v.9h-.9zM304.41 41.74h.9v.9h-.9zM301.65 37.55h.9v.9h-.9zM304.61 37.16h.9v.9h-.9zM305.74 44.91h.9v.9h-.9zM302.95 42.45h.9v.9h-.9zM309.1 36.49h.9v.9h-.9zM304.08 31.99h.9v.9h-.9zM303.46 45.31h.9v.9h-.9zM300.21 38.85h.9v.9h-.9zM303.88 44.71h.9v.9h-.9zM306.39 31.53h.9v.9h-.9zM304.31 37.8h.9v.9h-.9zM305.91 33.16h.9v.9h-.9zM304.9 35.14h.9v.9h-.9zM306.81 38.13h.9v.9h-.9zM306.17 34.62h.9v.9h-.9zM307.57 34.73h.9v.9h-.9zM303.54 35.26h.9v.9h-.9zM304.8 35.76h.9v.9h-.9zM300.8 42.5h.9v.9h-.9zM307.16 42.38h.9v.9h-.9zM304.62 40.06h.9v.9h-.9zM306.1 37.12h.9v.9h-.9zM310.07 34.6h.9v.9h-.9zM307.03 29.97h.9v.9h-.9zM307.01 36.31h.9v.9h-.9zM303.08 34.59h.9v.9h-.9zM300.33 32.69h.9v.9h-.9zM306.02 26.29h.9v.9h-.9zM308.3 40.97h.9v.9h-.9zM303.73 30.98h.9v.9h-.9zM302.12 31.81h.9v.9h-.9zM303.73 45.84h.9v.9h-.9zM302.79 40.07h.9v.9h-.9zM308.71 33.16h.9v.9h-.9zM304.94 39.75h.9v.9h-.9zM303.97 42.08h.9v.9h-.9zM310.95 36.81h.9v.9h-.9zM303.55 39.42h.9v.9h-.9zM306.44 33.96h.9v.9h-.9zM305.25 37.35h.9v.9h-.9zM306.86 41.65h.9v.9h-.9zM304.4 31.72h.9v.9h-.9zM301.56 44.55h.9v.9h-.9zM304.56 35.34h.9v.9h-.9zM311.75 41.54h.9v.9h-.9zM311.2 36.3h.9v.9h-.9zM303.88 34.86h.9v.9h-.9zM307.22 38.71h.9v.9h-.9zM306.6 46.22h.9v.9h-.9zM308.99 32.58h.9v.9h-.9zM306.7 39.42h.9v.9h-.9zM303.75 46.45h.9v.9h-.9zM307.89 43.17h.9v.9h-.9zM304.27 32.34h.9v.9h-.9zM307.49 36.19h.9v.9h-.9zM304.15 36.64h.9v.9h-.9zM306.12 37.59h.9v.9h-.9zM305.08 38.9h.9v.9h-.9zM312.85 41.79h.9v.9h-.9z"/>
<path fill="#111" fill-opacity="0.35" d="M310.56 39.36h.9v.9h-.9zM310.67 30h.9v.9h-.9zM307.06 30.07h.9v.9h-.9zM317.21 28.71h.9v.9h-.9zM306.88 33.98h.9v.9h-.9zM311.77 30.36h.9v.9h-.9zM310.29 34.14h.9v.9h-.9zM315.17 29.86h.9v.9h-.9zM314.81 33.12h.9v.9h-.9zM314.77 31.07h.9v.9h-.9zM307.9 37.54h.9v.9h-.9zM314.9 30.67h.9v.9h-.9zM309.42 36.27h.9v.9h-.9zM320.66 31.21h.9v.9h-.9zM322.68 30.31h.9v.9h-.9zM313.94 34.04h.9v.9h-.9zM316.92 27.74h.9v.9h-.9zM313.17 36.36h.9v.9h-.9zM306.3 36.27h.9v.9h-.9zM315.56 36.64h.9v.9h-.9zM318.86 30.86h.9v.9h-.9zM320.88 27.29h.9v.9h-.9zM306.96 38.88h.9v.9h-.9zM315.27 29.31h.9v.9h-.9zM316.95 33.92h.9v.9h-.9zM315.5 31.04h.9v.9h-.9zM307.45 30.81h.9v.9h-.9zM311.71 33.21h.9v.9h-.9zM310.52 32.61h.9v.9h-.9zM316.3 28.93h.9v.9h-.9zM309.6 39.59h.9v.9h-.9zM310.03 32.59h.9v.9h-.9zM316.85 26.98h.9v.9h-.9zM319.09 27.52h.9v.9h-.9zM309.23 31.19h.9v.9h-.9zM308.73 32.81h.9v.9h-.9zM316.32 31.71h.9v.9h-.9zM318.11 33.25h.9v.9h-.9zM307.58 35.22h.9v.9h-.9zM310.12 33.09h.9v.9h-.9zM313.07 34.08h.9v.9h-.9zM314.32 27.08h.9v.9h-.9zM311.94 32.32h.9v.9h-.9zM320.02 29.86h.9v.9h-.9zM312.43 33.36h.9v.9h-.9zM315.71 29.12h.9v.9h-.9zM312.05 33.16h.9v.9h-.9zM312.49 32.66h.9v.9h-.9zM310.38 34.33h.9v.9h-.9zM307.25 39.52h.9v.9h-.9zM312.53 28.55h.9v.9h-.9zM311.42 36.2h.9v.9h-.9zM311.77 33.19h.9v.9h-.9zM303.35 40.46h.9v.9h-.9zM312.8 28.05h.9v.9h-.9zM310.75 37.79h.9v.9h-.9zM314.11 28.8h.9v.9h-.9zM310.31 34.78h.9v.9h-.9zM320.9 30.8h.9v.9h-.9zM315.52 31.34h.9v.9h-.9zM312.75 30.59h.9v.9h-.9zM307.25 31.72h.9v.9h-.9zM310.19 37.46h.9v.9h-.9zM312.42 36.47h.9v.9h-.9zM315.67 32.53h.9v.9h-.9zM310.55 39.68h.9v.9h-.9zM317.14 34.83h.9v.9h-.9zM322.62 33.49h.9v.9h-.9zM313.49 33.95h.9v.9h-.9zM314.82 38.33h.9v.9h-.9zM308.49 30.07h.9v.9h-.9zM310.63 34.04h.9v.9h-.9zM312.04 34.66h.9v.9h-.9zM319.21 29.2h.9v.9h-.9zM316.02 37.24h.9v.9h-.9zM327.67 33.5h.9v.9h-.9zM313.36 35.44h.9v.9h-.9zM308.64 25.39h.9v.9h-.9zM325.93 30.8h.9v.9h-.9zM319.71 34.47h.9v.9h-.9zM325.69 28.67h.9v.9h-.9zM317.31 32.1h.9v.9h-.9zM320.79 29.62h.9v.9h-.9zM307.53 41.68h.9v.9h-.9zM311.13 29.32h.9v.9h-.9zM319.28 29.18h.9v.9h-.9zM318.87 38.37h.9v.9h-.9zM324.29 26.31h.9v.9h-.9zM317.65 29.59h.9v.9h-.9zM323.3 24.99h.9v.9h-.9zM309.91 25.67h.9v.9h-.9zM318.78 30.94h.9v.9h-.9zM320.04 32.3h.9v.9h-.9zM308.43 30.9h.9v.9h-.9zM309.18 36.62h.9v.9h-.9zM320.93 23.63h.9v.9h-.9zM318.96 29.9h.9v.9h-.9zM316.45 32.73h.9v.9h-.9zM312.07 30.16h.9v.9h-.9zM311.7 28.97h.9v.9h-.9zM309.43 36.29h.9v.9h-.9zM319.27 28.51h.9v.9h-.9zM305.79 41.37h.9v.9h-.9zM315.93 31.05h.9v.9h-.9zM319.65 35.61h.9v.9h-.9zM313.94 22.15h.9v.9h-.9zM313.86 30.78h.9v.9h-.9zM312.29 36.66h.9v.9h-.9zM313.03 32.24h.9v.9h-.9zM310.84 34.45h.9v.9h-.9zM311.57 34.51h.9v.9h-.9zM316.57 30.72h.9v.9h-.9zM317.65 23.94h.9v.9h-.9zM313.02 31.88h.9v.9h-.9zM313.44 35.37h.9v.9h-.9zM321.03 26.27h.9v.9h-.9zM322.84 27.63h.9v.9h-.9zM319.08 33.97h.9v.9h-.9zM309.04 29.13h.9v.9h-.9zM315.4 29.58h.9v.9h-.9zM305.66 35.49h.9v.9h-.9zM316.74 30.82h.9v.9h-.9zM317.61 32.51h.9v.9h-.9zM310.81 32.84h.9v.9h-.9zM313.17 29.28h.9v.9h-.9zM310.51 36.2h.9v.9h-.9zM301.04 31.64h.9v.9h-.9zM319.87 28.06h.9v.9h-.9zM311.8 35.23h.9v.9h-.9zM310.09 30.81h.9v.9h-.9zM318.18 27.77h.9v.9h-.9zM312.62 31.43h.9v.9h-.9zM321.59 25.4h.9v.9h-.9zM318.93 29.26h.9v.9h-.9zM313.64 26.03h.9v.9h-.9zM326.14 29.65h.9v.9h-.9zM317.33 28.77h.9v.9h-.9zM325.42 25.38h.9v.9h-.9zM315.64 26h.9v.9h-.9zM320.46 29.33h.9v.9h-.9zM310.7 29.22h.9v.9h-.9zM322.04 31.58h.9v.9h-.9zM319.05 32.8h.9v.9h-.9zM330.73 26.72h.9v.9h-.9zM319.38 31.33h.9v.9h-.9zM326.74 28.36h.9v.9h-.9zM326.45 23.69h.9v.9h-.9zM325.39 29.7h.9v.9h-.9zM325.2 29.82h.9v.9h-.9zM324.09 27.02h.9v.9h-.9zM327.65 22.13h.9v.9h-.9zM322 26.47h.9v.9h-.9zM330.46 24.96h.9v.9h-.9zM321.33 28.3h.9v.9h-.9zM324.75 28.36h.9v.9h-.9zM315.38 27.95h.9v.9h-.9zM326.58 30.66h.9v.9h-.9zM317.11 24.62h.9v.9h-.9zM314.3 28.05h.9v.9h-.9zM319.93 27.28h.9v.9h-.9zM318.12 28.93h.9v.9h-.9zM327.33 31.39h.9v.9h-.9zM318.32 39.74h.9v.9h-.9zM319.8 41.23h.9v.9h-.9zM330.04 40.2h.9v.9h-.9zM339.62 40.5h.9v.9h-.9zM329.14 41.58h.9v.9h-.9zM313.52 36.41h.9v.9h-.9zM319.08 39.97h.9v.9h-.9zM322.14 33.65h.9v.9h-.9zM315.72 36.79h.9v.9h-.9zM318.14 36h.9v.9h-.9zM310.06 37.78h.9v.9h-.9zM311.46 36.22h.9v.9h-.9zM316.85 36.46h.9v.9h-.9zM333.31 36.1h.9v.9h-.9zM318.56 29.92h.9v.9h-.9zM314.73 38.11h.9v.9h-.9zM319.28 39.77h.9v.9h-.9zM319.44 39.79h.9v.9h-.9zM323.94 40.64h.9v.9h-.9zM319.6 40.08h.9v.9h-.9zM318 35.06h.9v.9h-.9zM330.94 33.24h.9v.9h-.9zM314.41 42.31h.9v.9h-.9zM323.2 38.51h.9v.9h-.9zM323.67 37.27h.9v.9h-.9zM337.66 37.51h.9v.9h-.9zM333.27 37.37h.9v.9h-.9zM316.27 36.57h.9v.9h-.9zM322.19 45.14h.9v.9h-.9zM316.93 38.69h.9v.9h-.9zM309.48 39.05h.9v.9h-.9zM320.73 38.55h.9v.9h-.9zM322.51 36h.9v.9h-.9zM322.33 37.4h.9v.9h-.9zM330.13 37.17h.9v.9h-.9zM320.78 33.48h.9v.9h-.9zM328.84 36.87h.9v.9h-.9zM314.52 40.98h.9v.9h-.9zM329.21 37.31h.9v.9h-.9zM322.21 33.39h.9v.9h-.9zM302.83 37.75h.9v.9h-.9zM309.78 39.29h.9v.9h-.9zM318.95 38.1h.9v.9h-.9zM317.41 38.64h.9v.9h-.9zM328.07 37.72h.9v.9h-.9zM315.03 23.16h.9v.9h-.9zM314.15 19.05h.9v.9h-.9zM297.3 24.84h.9v.9h-.9zM322.18 24.87h.9v.9h-.9zM299.38 22.69h.9v.9h-.9zM316.22 18.08h.9v.9h-.9zM308.23 23.45h.9v.9h-.9zM323.6 22.16h.9v.9h-.9zM302.41 17.54h.9v.9h-.9zM309.94 22.71h.9v.9h-.9zM295.4 21.62h.9v.9h-.9zM305.12 23.29h.9v.9h-.9zM297.85 23.66h.9v.9h-.9zM319.58 25.02h.9v.9h-.9zM320.42 21.14h.9v.9h-.9zM310.27 17.43h.9v.9h-.9zM309.31 18.37h.9v.9h-.9zM313.78 23h.9v.9h-.9zM308.55 25.54h.9v.9h-.9zM300.13 19.07h.9v.9h-.9zM321.52 20.02h.9v.9h-.9zM319.98 18.66h.9v.9h-.9zM304.79 23.72h.9v.9h-.9zM318.92 17.89h.9v.9h-.9zM306.98 18.79h.9v.9h-.9zM306.35 19.47h.9v.9h-.9zM306.97 19.31h.9v.9h-.9zM326.95 21.63h.9v.9h-.9z"/>
<path d="M287.5 36.01L289.26 34.87L291.02 34.4L292.77 34.04L294.53 33.74L296.29 33.47L298.05 33.22L299.81 33L301.57 32.79L303.33 32.6L305.08 32.41L306.84 32.24L308.6 32.07L308.6 41.93L306.84 41.76L305.08 41.59L303.33 41.4L301.57 41.21L299.81 41L298.05 40.78L296.29 40.53L294.53 40.26L292.77 39.96L291.02 39.6L289.26 39.13L287.5 37.99Z" fill="#111" fill-opacity="0.3" filter="url(#bl)"/>
<path d="M290.5 35.9L291.98 35.37L293.47 35.09L294.95 34.85L296.43 34.65L297.92 34.46L299.4 34.29L300.88 34.13L302.37 33.98L303.85 33.83L305.33 33.69L306.82 33.56L308.3 33.43L308.3 40.57L306.82 40.44L305.33 40.31L303.85 40.17L302.37 40.02L300.88 39.87L299.4 39.71L297.92 39.54L296.43 39.35L294.95 39.15L293.47 38.91L291.98 38.63L290.5 38.1Z" fill="#111" fill-opacity="0.85" filter="url(#bl)"/>
<path fill="#111" fill-opacity="0.8" d="M304.36 36.14h.9v.9h-.9zM295.05 35.79h.9v.9h-.9zM307.26 36.24h.9v.9h-.9zM294.07 38.32h.9v.9h-.9zM291.74 41.55h.9v.9h-.9zM308.54 33.61h.9v.9h-.9zM318.69 40.19h.9v.9h-.9zM293.79 35.75h.9v.9h-.9zM294.54 36.04h.9v.9h-.9zM305.92 35.97h.9v.9h-.9zM316.66 46.55h.9v.9h-.9zM301.21 39.46h.9v.9h-.9zM289.64 39.49h.9v.9h-.9zM300.87 37.34h.9v.9h-.9zM301.12 39.2h.9v.9h-.9zM314.18 37.83h.9v.9h-.9zM301.21 35.35h.9v.9h-.9zM302.32 45.59h.9v.9h-.9zM299.54 33.83h.9v.9h-.9zM302.13 41.32h.9v.9h-.9zM308.47 37.35h.9v.9h-.9zM302.06 39.78h.9v.9h-.9zM296.56 39.01h.9v.9h-.9zM306.08 35.2h.9v.9h-.9zM312.97 37.69h.9v.9h-.9zM311.82 34.26h.9v.9h-.9zM299.98 39.75h.9v.9h-.9zM301.8 35.75h.9v.9h-.9zM308.23 38.31h.9v.9h-.9zM302.4 40.39h.9v.9h-.9zM309.79 43.59h.9v.9h-.9zM295.99 37.06h.9v.9h-.9zM299.92 39.31h.9v.9h-.9zM303.71 31.65h.9v.9h-.9zM305.05 30.15h.9v.9h-.9zM296.85 35.16h.9v.9h-.9zM298.72 37.78h.9v.9h-.9zM296.92 39.63h.9v.9h-.9zM306.82 34h.9v.9h-.9zM307.66 39.19h.9v.9h-.9zM295.72 41.69h.9v.9h-.9zM305.79 33.49h.9v.9h-.9zM298.11 34.32h.9v.9h-.9zM299.59 42.42h.9v.9h-.9zM302.66 33.14h.9v.9h-.9zM311.64 34.59h.9v.9h-.9zM300.65 35.63h.9v.9h-.9zM304.16 36.67h.9v.9h-.9zM302.48 38.49h.9v.9h-.9zM305.64 41.27h.9v.9h-.9zM298.6 36.42h.9v.9h-.9zM304.54 41.82h.9v.9h-.9zM299.82 38.95h.9v.9h-.9zM303.11 34.76h.9v.9h-.9zM307.81 38.91h.9v.9h-.9zM301.5 36.72h.9v.9h-.9zM298.88 35.59h.9v.9h-.9zM306.19 34.48h.9v.9h-.9zM298.6 39.33h.9v.9h-.9zM302.99 37.38h.9v.9h-.9zM294.5 36.92h.9v.9h-.9zM303.18 38.27h.9v.9h-.9zM288.74 39.27h.9v.9h-.9zM309.98 38.57h.9v.9h-.9zM306.19 35.93h.9v.9h-.9zM296.29 39.81h.9v.9h-.9zM301.7 37.74h.9v.9h-.9zM309.12 42.19h.9v.9h-.9zM290.42 39.75h.9v.9h-.9zM306.35 41.49h.9v.9h-.9zM302.38 39.88h.9v.9h-.9zM300.93 25.73h.9v.9h-.9zM312.41 36.45h.9v.9h-.9zM308.06 39.85h.9v.9h-.9zM300.86 34.58h.9v.9h-.9zM296.45 36.14h.9v.9h-.9zM297.3 32.29h.9v.9h-.9zM299.92 35.08h.9v.9h-.9zM306.17 37.17h.9v.9h-.9zM299.43 37.09h.9v.9h-.9zM300.19 31.84h.9v.9h-.9zM299.22 33.53h.9v.9h-.9zM308.04 36.33h.9v.9h-.9zM293.57 41.24h.9v.9h-.9zM295.14 34.99h.9v.9h-.9zM297.8 37.82h.9v.9h-.9zM300.82 40.03h.9v.9h-.9zM303.54 33.95h.9v.9h-.9zM300.3 38.59h.9v.9h-.9z"/>
<path fill="#111" fill-opacity="0.45" d="M300.78 33.32h.9v.9h-.9zM296.4 37.86h.9v.9h-.9zM296.51 32.98h.9v.9h-.9zM295.68 40.95h.9v.9h-.9zM297.3 41.17h.9v.9h-.9zM295.5 40.37h.9v.9h-.9zM302.6 26.79h.9v.9h-.9zM293.93 36.53h.9v.9h-.9zM301.4 40.41h.9v.9h-.9zM312.17 30.59h.9v.9h-.9zM300.67 38.28h.9v.9h-.9zM307.7 33.42h.9v.9h-.9zM287.53 37.52h.9v.9h-.9zM294.16 36.19h.9v.9h-.9zM299.72 36.39h.9v.9h-.9zM296.89 37.94h.9v.9h-.9zM302.37 37.96h.9v.9h-.9zM305.57 46.02h.9v.9h-.9zM288.82 34.78h.9v.9h-.9zM303.08 32.04h.9v.9h-.9zM299.4 40.15h.9v.9h-.9zM304.46 39.51h.9v.9h-.9zM304.16 26.11h.9v.9h-.9zM295.49 34.35h.9v.9h-.9zM302.97 31.5h.9v.9h-.9zM287.95 42.23h.9v.9h-.9zM289.9 39.67h.9v.9h-.9zM296.87 40.02h.9v.9h-.9zM296.54 28.42h.9v.9h-.9zM302.71 38.49h.9v.9h-.9zM305.61 26.74h.9v.9h-.9zM290.72 36.48h.9v.9h-.9zM311.36 26.71h.9v.9h-.9zM299.82 39.36h.9v.9h-.9zM295.87 39h.9v.9h-.9zM302.12 41.53h.9v.9h-.9zM310.91 35.75h.9v.9h-.9zM296.21 40.52h.9v.9h-.9zM294.13 45.27h.9v.9h-.9zM296.72 39.09h.9v.9h-.9zM309.73 32.11h.9v.9h-.9zM291.28 35.13h.9v.9h-.9zM302.4 41.23h.9v.9h-.9zM291.3 43.72h.9v.9h-.9zM303.12 44.86h.9v.9h-.9zM313.91 32.68h.9v.9h-.9zM299.65 35.25h.9v.9h-.9zM295.16 32.59h.9v.9h-.9zM300.86 37.48h.9v.9h-.9zM286.67 33.16h.9v.9h-.9zM293.48 37.14h.9v.9h-.9zM306.77 38.82h.9v.9h-.9zM296.86 37.99h.9v.9h-.9zM303.2 33.25h.9v.9h-.9zM296.56 35.11h.9v.9h-.9zM307.91 36.11h.9v.9h-.9zM308.41 38.64h.9v.9h-.9zM303.56 38.24h.9v.9h-.9zM296.27 36.45h.9v.9h-.9zM301.52 33.42h.9v.9h-.9zM302.29 32.31h.9v.9h-.9zM295.39 36.01h.9v.9h-.9zM297.28 33.75h.9v.9h-.9zM297.26 31.4h.9v.9h-.9zM298.71 27.91h.9v.9h-.9zM305.36 44.26h.9v.9h-.9zM298.79 38.27h.9v.9h-.9zM298.53 43.3h.9v.9h-.9zM301.7 42.74h.9v.9h-.9zM293.62 47.8h.9v.9h-.9zM292.44 31.02h.9v.9h-.9zM305.44 38.51h.9v.9h-.9zM303.93 29.18h.9v.9h-.9zM306.45 44.15h.9v.9h-.9zM292.28 45.57h.9v.9h-.9zM288.77 39.44h.9v.9h-.9z"/>
<rect x="285.8" y="16.3" width="58.8" height="58.4" fill="none" stroke="#7c7ce6" stroke-width="0.8"/>
<line x1="308.6" y1="16.3" x2="308.6" y2="74.7" stroke="#f28aa4" stroke-width="0.8"/>
<line x1="285.8" y1="48.5" x2="344.6" y2="48.5" stroke="#f28aa4" stroke-width="0.8"/>
<path d="M298.1 16.3V26H320.9V16.3" fill="none" stroke="#e8728f" stroke-width="0.76"/>
<text x="293.3" y="28.5" font-size="4.2" fill="#e64a6e" stroke="#e64a6e" stroke-width="0.15" textLength="4.2" lengthAdjust="spacingAndGlyphs">R4</text>
<text x="32.6" y="159.8" font-size="9.9" text-anchor="middle" stroke="#231f20" stroke-width="0.28" textLength="88.5" lengthAdjust="spacingAndGlyphs" transform="rotate(-90 32.6 159.8)">(Gr-1)  WT neutrophils</text>
<line x1="39.1" y1="133.5" x2="39.1" y2="186" stroke="#231f20" stroke-width="1.3"/>
<path d="M39.1 129.4L41.4 134L36.8 134Z" fill="#231f20"/>
<line x1="43" y1="201" x2="164.3" y2="201" stroke="#231f20" stroke-width="1.3"/>
<path d="M168.7 201L163.8 198.7L163.8 203.3Z" fill="#231f20"/>
<text x="74" y="196.4" font-size="8.6" text-anchor="middle" stroke="#231f20" stroke-width="0.28" textLength="25.5" lengthAdjust="spacingAndGlyphs">Resting</text>
<text x="141.5" y="196.4" font-size="8.6" text-anchor="middle" stroke="#231f20" stroke-width="0.28" textLength="32" lengthAdjust="spacingAndGlyphs">Activated</text>
<text x="102" y="213.7" font-size="9.9" text-anchor="middle" stroke="#231f20" stroke-width="0.28" textLength="109" lengthAdjust="spacingAndGlyphs">(GP1b) Treml1<tspan font-size="6.14" dy="-3.76">-/-</tspan><tspan dy="3.76"> platelets</tspan></text>
<text x="194.9" y="155.3" font-size="9.9" text-anchor="middle" stroke="#231f20" stroke-width="0.28" textLength="36.6" lengthAdjust="spacingAndGlyphs" transform="rotate(-90 194.9 155.3)">Treml1<tspan font-size="6.14" dy="-3.76">-/-</tspan></text>
<text x="206.2" y="156.5" font-size="9.9" text-anchor="middle" stroke="#231f20" stroke-width="0.28" textLength="46.6" lengthAdjust="spacingAndGlyphs" transform="rotate(-90 206.2 156.5)">neutrophils</text>
<line x1="213.4" y1="132.3" x2="213.4" y2="184.7" stroke="#231f20" stroke-width="1.3"/>
<path d="M213.4 128.2L215.7 132.8L211.1 132.8Z" fill="#231f20"/>
<line x1="216.7" y1="201" x2="338.2" y2="201" stroke="#231f20" stroke-width="1.3"/>
<path d="M342.6 201L337.7 198.7L337.7 203.3Z" fill="#231f20"/>
<text x="247.7" y="195.2" font-size="8.6" text-anchor="middle" stroke="#231f20" stroke-width="0.28" textLength="25.5" lengthAdjust="spacingAndGlyphs">Resting</text>
<text x="315.5" y="195.2" font-size="8.6" text-anchor="middle" stroke="#231f20" stroke-width="0.28" textLength="32" lengthAdjust="spacingAndGlyphs">Activated</text>
<text x="280" y="213.8" font-size="9.9" text-anchor="middle" stroke="#231f20" stroke-width="0.28" textLength="71" lengthAdjust="spacingAndGlyphs">Treml1<tspan font-size="6.14" dy="-3.76">-/-</tspan><tspan dy="3.76"> platelets</tspan></text>
<path d="M56.5 145.72L62.5 144.48L67 143.54L72 142.56L76 141.76L79 140.86L82 138.82L84 137.16L86.5 135.5L88.5 134.08L90.3 133.4L90.3 137.6L88.5 141.52L86.5 145.1L84 147.84L82 148.78L79 149.74L76 150.64L72 151.44L67 152.06L62.5 151.92L56.5 150.28Z" fill="#111" fill-opacity="0.22" filter="url(#bl)"/>
<path d="M56.5 146.96L62.5 146.39L67 145.71L67 149.89L62.5 150L56.5 149.04Z" fill="#111" fill-opacity="0.45" filter="url(#bl)"/>
<path d="M62.5 146.39L67 145.71L72 144.81L72 149.19L67 149.89L62.5 150Z" fill="#111" fill-opacity="0.35" filter="url(#bl)"/>
<path d="M67 145.6L72 144.7L76 143.9L79 143L82 141.2L84 139.7L86.5 137.8L88.5 135.9L90.3 134.5L90.3 136.5L88.5 139.7L86.5 142.8L84 145.3L82 146.4L79 147.6L76 148.5L72 149.3L67 150Z" fill="#111" fill-opacity="0.75" filter="url(#bl)"/>
<path fill="#111" fill-opacity="0.55" d="M54.14 146.61h.9v.9h-.9zM57.84 145.22h.9v.9h-.9zM56.21 145.27h.9v.9h-.9zM58.7 148.25h.9v.9h-.9zM59.21 147.39h.9v.9h-.9zM57.3 147.65h.9v.9h-.9zM55.02 148.18h.9v.9h-.9zM53.99 147.57h.9v.9h-.9zM57.89 148.07h.9v.9h-.9zM55.68 150.65h.9v.9h-.9zM56.62 147.29h.9v.9h-.9zM56.82 147.37h.9v.9h-.9zM55.73 147.58h.9v.9h-.9zM60.55 148.03h.9v.9h-.9zM56.85 148.82h.9v.9h-.9zM60.53 147.73h.9v.9h-.9zM55.25 150.99h.9v.9h-.9zM53.58 147.56h.9v.9h-.9zM57.83 150.76h.9v.9h-.9zM54.6 145.06h.9v.9h-.9zM57.82 147.37h.9v.9h-.9zM55.73 148.56h.9v.9h-.9zM62.5 144.17h.9v.9h-.9zM66 148.62h.9v.9h-.9zM60.75 150.25h.9v.9h-.9zM63.12 148.24h.9v.9h-.9zM64.6 152.93h.9v.9h-.9zM63.61 151.51h.9v.9h-.9zM66.81 146.07h.9v.9h-.9zM61.45 149.82h.9v.9h-.9zM59.08 147.64h.9v.9h-.9zM65.09 150.38h.9v.9h-.9zM63.66 144.24h.9v.9h-.9zM67.2 149.35h.9v.9h-.9zM64.03 149.23h.9v.9h-.9zM59.07 145.2h.9v.9h-.9zM60.07 152.21h.9v.9h-.9zM60.84 147.69h.9v.9h-.9zM61.99 149.39h.9v.9h-.9zM63.5 148.76h.9v.9h-.9zM59.98 141.64h.9v.9h-.9zM62.83 148.76h.9v.9h-.9zM64.96 147.98h.9v.9h-.9zM61.28 149.06h.9v.9h-.9zM69.28 151.57h.9v.9h-.9zM66.39 150.35h.9v.9h-.9zM70.91 147.78h.9v.9h-.9zM69.17 147.4h.9v.9h-.9zM63.77 148.09h.9v.9h-.9zM65.36 148.06h.9v.9h-.9zM66.07 148.57h.9v.9h-.9zM62.73 152.84h.9v.9h-.9zM69.72 146.95h.9v.9h-.9zM65.18 147.81h.9v.9h-.9zM68.35 148.83h.9v.9h-.9zM67.8 143.03h.9v.9h-.9zM64.74 151.05h.9v.9h-.9zM67.48 144.12h.9v.9h-.9zM65.26 144.3h.9v.9h-.9zM64.96 150.66h.9v.9h-.9zM66.56 150.54h.9v.9h-.9zM67.38 144.12h.9v.9h-.9zM65.69 153.42h.9v.9h-.9zM65.45 145.22h.9v.9h-.9zM69.51 148.02h.9v.9h-.9zM66.99 151.41h.9v.9h-.9zM73.91 151.16h.9v.9h-.9zM74.1 145.9h.9v.9h-.9zM70.85 143.24h.9v.9h-.9zM71.85 145.46h.9v.9h-.9zM72.5 143.72h.9v.9h-.9zM70.94 144.72h.9v.9h-.9zM69.54 143.94h.9v.9h-.9zM69.92 143.94h.9v.9h-.9zM73.16 147.26h.9v.9h-.9zM69.3 148.33h.9v.9h-.9zM72.59 150.78h.9v.9h-.9zM71.6 146.46h.9v.9h-.9zM70.59 147.32h.9v.9h-.9zM73.01 147.45h.9v.9h-.9zM71.48 148.46h.9v.9h-.9zM72.19 147.64h.9v.9h-.9zM70.09 147.53h.9v.9h-.9zM69.96 144.82h.9v.9h-.9zM72.33 152.45h.9v.9h-.9zM74.04 147.01h.9v.9h-.9zM71.63 149.56h.9v.9h-.9zM74.83 150.16h.9v.9h-.9zM81.06 144.44h.9v.9h-.9zM74.56 144.72h.9v.9h-.9zM76.07 146.13h.9v.9h-.9zM78.01 148.25h.9v.9h-.9zM75.17 145.28h.9v.9h-.9zM73.11 142.33h.9v.9h-.9zM74.49 148.09h.9v.9h-.9zM76.25 148.28h.9v.9h-.9zM77.93 145.77h.9v.9h-.9zM80.3 144.85h.9v.9h-.9zM74.72 145.09h.9v.9h-.9zM78.33 145.85h.9v.9h-.9zM74.49 147.32h.9v.9h-.9zM78.32 145.91h.9v.9h-.9zM75.48 149.01h.9v.9h-.9zM78.01 148.65h.9v.9h-.9zM74.44 146.93h.9v.9h-.9zM76.74 141.56h.9v.9h-.9zM78.46 146.46h.9v.9h-.9zM75.3 152.05h.9v.9h-.9zM76.3 144.34h.9v.9h-.9zM75.87 147.66h.9v.9h-.9zM78.92 141.92h.9v.9h-.9zM80.49 145.74h.9v.9h-.9zM74.71 146.85h.9v.9h-.9zM80.91 143.24h.9v.9h-.9zM82.46 145.7h.9v.9h-.9zM76.65 146.75h.9v.9h-.9zM78.27 141.84h.9v.9h-.9zM74.62 145.93h.9v.9h-.9zM77.5 146.96h.9v.9h-.9zM79.79 143.96h.9v.9h-.9zM77.92 149.86h.9v.9h-.9zM82.48 147.24h.9v.9h-.9zM78.27 142.77h.9v.9h-.9zM78.21 149.59h.9v.9h-.9zM79.94 144.55h.9v.9h-.9zM76.5 145.73h.9v.9h-.9zM77.21 145.33h.9v.9h-.9zM80.51 148.06h.9v.9h-.9zM79.29 144.42h.9v.9h-.9zM79.46 149.95h.9v.9h-.9zM79.77 141.69h.9v.9h-.9zM82.16 145.95h.9v.9h-.9zM81.57 143.21h.9v.9h-.9zM83.52 145.56h.9v.9h-.9zM82.62 144.23h.9v.9h-.9zM79.07 141.65h.9v.9h-.9zM82.78 142.74h.9v.9h-.9zM80.42 144.83h.9v.9h-.9zM80.13 141.85h.9v.9h-.9zM83.79 142.76h.9v.9h-.9zM84.9 145.32h.9v.9h-.9zM83.64 147.09h.9v.9h-.9zM77.61 143.57h.9v.9h-.9zM79.38 142.45h.9v.9h-.9zM81.79 147.41h.9v.9h-.9zM81.91 148.56h.9v.9h-.9zM80.93 143.64h.9v.9h-.9zM82.19 146.54h.9v.9h-.9zM81.9 142.01h.9v.9h-.9zM81.33 139.74h.9v.9h-.9zM84.55 145.97h.9v.9h-.9zM82.87 144.6h.9v.9h-.9zM80.77 142.62h.9v.9h-.9zM83.64 141.51h.9v.9h-.9zM84.17 145.26h.9v.9h-.9zM82.6 140.63h.9v.9h-.9zM83.18 143.6h.9v.9h-.9zM85.41 138.62h.9v.9h-.9zM84.72 139.41h.9v.9h-.9zM85.44 139.51h.9v.9h-.9zM81.82 140.29h.9v.9h-.9zM83.88 139.42h.9v.9h-.9zM84.43 142.96h.9v.9h-.9zM84.17 143.34h.9v.9h-.9zM85.76 140.24h.9v.9h-.9zM84 142.41h.9v.9h-.9zM79.87 143.7h.9v.9h-.9zM82.45 140.28h.9v.9h-.9zM83.1 142.8h.9v.9h-.9zM84.66 144h.9v.9h-.9zM82.61 144.65h.9v.9h-.9zM84.84 141.29h.9v.9h-.9zM83.96 144.98h.9v.9h-.9zM84.87 144.65h.9v.9h-.9zM84.21 146.02h.9v.9h-.9zM88.45 143.9h.9v.9h-.9zM82.12 144.62h.9v.9h-.9zM85.36 142.09h.9v.9h-.9zM84.9 140.75h.9v.9h-.9zM86.15 135.95h.9v.9h-.9zM87.27 142.05h.9v.9h-.9zM84.27 134.53h.9v.9h-.9zM85.21 137.98h.9v.9h-.9zM86.72 140.25h.9v.9h-.9zM89.73 142.08h.9v.9h-.9zM85.99 140.75h.9v.9h-.9zM80.73 137.81h.9v.9h-.9zM84.66 140h.9v.9h-.9zM87.14 140.89h.9v.9h-.9zM88.37 138.4h.9v.9h-.9zM87.11 139.94h.9v.9h-.9zM86.53 141.18h.9v.9h-.9zM85.94 140.88h.9v.9h-.9zM86.43 143.11h.9v.9h-.9zM86.28 141.14h.9v.9h-.9zM91.69 142.02h.9v.9h-.9zM87.52 143.26h.9v.9h-.9zM84.49 142.25h.9v.9h-.9zM87.73 139.93h.9v.9h-.9zM89.16 136.48h.9v.9h-.9zM89.79 139h.9v.9h-.9zM91.43 139.68h.9v.9h-.9zM89.23 136.16h.9v.9h-.9zM89.07 138.43h.9v.9h-.9zM88.53 138.68h.9v.9h-.9zM86.14 138.99h.9v.9h-.9zM88.52 138.54h.9v.9h-.9zM88.31 137.18h.9v.9h-.9zM89.01 139.43h.9v.9h-.9zM87.86 138.48h.9v.9h-.9zM86.98 138.67h.9v.9h-.9zM88.54 135.14h.9v.9h-.9zM90.81 135.95h.9v.9h-.9zM88.66 135.07h.9v.9h-.9zM85.06 139.17h.9v.9h-.9zM85.71 133.49h.9v.9h-.9zM88.07 134.58h.9v.9h-.9zM88.09 141.6h.9v.9h-.9zM87.72 138.54h.9v.9h-.9zM89.62 138.31h.9v.9h-.9zM90.15 135.65h.9v.9h-.9zM87.07 134.46h.9v.9h-.9zM90.17 135.01h.9v.9h-.9zM89.1 135.37h.9v.9h-.9zM89.75 134.34h.9v.9h-.9zM93.6 134.76h.9v.9h-.9zM91.59 136.15h.9v.9h-.9zM92.21 134.88h.9v.9h-.9zM88.32 135.98h.9v.9h-.9zM90.82 132.93h.9v.9h-.9zM85.12 134.91h.9v.9h-.9zM89.53 135.21h.9v.9h-.9zM91.12 134.45h.9v.9h-.9zM95.53 136.48h.9v.9h-.9zM92.87 135.8h.9v.9h-.9zM86.19 135.76h.9v.9h-.9zM89.21 135.98h.9v.9h-.9zM90.07 136.23h.9v.9h-.9zM88.56 135.1h.9v.9h-.9zM90.31 134.68h.9v.9h-.9zM89.4 136.17h.9v.9h-.9zM94.11 135.27h.9v.9h-.9z"/>
<path fill="#111" fill-opacity="0.35" d="M57.17 148.7h.9v.9h-.9zM55.21 151.12h.9v.9h-.9zM61.01 148.08h.9v.9h-.9zM55.14 149.77h.9v.9h-.9zM57.93 145.48h.9v.9h-.9zM55.12 150.54h.9v.9h-.9zM56.21 147.2h.9v.9h-.9zM57.14 147.92h.9v.9h-.9zM57.84 143.85h.9v.9h-.9zM59.48 149.4h.9v.9h-.9zM68.77 151.39h.9v.9h-.9zM65.93 149.2h.9v.9h-.9zM63.34 146.32h.9v.9h-.9zM61.66 138.04h.9v.9h-.9zM58.89 142.82h.9v.9h-.9zM65.01 150.97h.9v.9h-.9zM61.62 149.86h.9v.9h-.9zM63.78 140.88h.9v.9h-.9zM64.51 153.48h.9v.9h-.9zM66.57 138.74h.9v.9h-.9zM63.61 155.33h.9v.9h-.9zM70.13 142.41h.9v.9h-.9zM74.43 145.99h.9v.9h-.9zM63.34 147.12h.9v.9h-.9zM71.43 147.98h.9v.9h-.9zM70.99 145.52h.9v.9h-.9zM69.38 145.71h.9v.9h-.9zM65.39 140.79h.9v.9h-.9zM73.31 142.21h.9v.9h-.9zM73.66 140.31h.9v.9h-.9zM70.87 149.05h.9v.9h-.9zM68.82 143.3h.9v.9h-.9zM78.49 145.9h.9v.9h-.9zM73.35 142.6h.9v.9h-.9zM73.5 140.76h.9v.9h-.9zM75.94 143.66h.9v.9h-.9zM76.17 141.93h.9v.9h-.9zM73.34 145.24h.9v.9h-.9zM74.93 152.15h.9v.9h-.9zM73.23 147.26h.9v.9h-.9zM89.64 142.88h.9v.9h-.9zM78.71 143.77h.9v.9h-.9zM80.15 142.32h.9v.9h-.9zM74.49 135.4h.9v.9h-.9zM78.62 142.65h.9v.9h-.9zM77.23 156.22h.9v.9h-.9zM81.43 150.92h.9v.9h-.9zM77.48 146.84h.9v.9h-.9zM79.62 152.94h.9v.9h-.9zM86.74 145.49h.9v.9h-.9zM83.62 144.88h.9v.9h-.9zM86.33 141.23h.9v.9h-.9zM82.25 146.6h.9v.9h-.9zM86.37 142.36h.9v.9h-.9zM82.71 140.97h.9v.9h-.9zM80.01 140.02h.9v.9h-.9zM79.19 153.15h.9v.9h-.9zM82.29 133.98h.9v.9h-.9zM76.88 145.12h.9v.9h-.9zM87.29 148.68h.9v.9h-.9zM82.85 151.42h.9v.9h-.9zM83.77 138.85h.9v.9h-.9zM84.2 143.82h.9v.9h-.9zM84.15 144.97h.9v.9h-.9zM88.75 142.71h.9v.9h-.9zM89.42 144.61h.9v.9h-.9zM90.07 136.77h.9v.9h-.9zM87.8 137.31h.9v.9h-.9zM90.21 141.05h.9v.9h-.9zM82.61 140.9h.9v.9h-.9zM83.5 145.69h.9v.9h-.9zM85.49 128.29h.9v.9h-.9zM88.14 144.06h.9v.9h-.9zM88.26 139.28h.9v.9h-.9zM88.83 132.48h.9v.9h-.9zM89.45 138.03h.9v.9h-.9zM90.43 140.67h.9v.9h-.9zM93.16 129.93h.9v.9h-.9zM86.84 135.84h.9v.9h-.9zM85.93 139.51h.9v.9h-.9zM92.74 133.03h.9v.9h-.9zM88.95 136.21h.9v.9h-.9zM92.01 133.28h.9v.9h-.9zM92.08 135.82h.9v.9h-.9zM94.18 137.53h.9v.9h-.9zM91.92 134.64h.9v.9h-.9zM91.07 133.64h.9v.9h-.9zM87.85 131.5h.9v.9h-.9zM56.21 146.14h.9v.9h-.9zM64.49 150.52h.9v.9h-.9zM55.92 149.29h.9v.9h-.9zM67.97 153.02h.9v.9h-.9zM64.53 150.83h.9v.9h-.9zM62.59 152.58h.9v.9h-.9zM54.41 150.08h.9v.9h-.9zM49.17 153.64h.9v.9h-.9zM71.56 145.1h.9v.9h-.9zM61.53 146.18h.9v.9h-.9zM53 148.2h.9v.9h-.9zM59.09 152.61h.9v.9h-.9zM61.55 147h.9v.9h-.9zM64.6 151.33h.9v.9h-.9zM70.8 152.09h.9v.9h-.9zM54.86 147.23h.9v.9h-.9zM63.87 147.9h.9v.9h-.9zM70.26 149.76h.9v.9h-.9zM64.63 149.22h.9v.9h-.9zM65.42 146.23h.9v.9h-.9zM79.59 149.89h.9v.9h-.9zM60.1 145.05h.9v.9h-.9zM64.51 146.48h.9v.9h-.9zM67.36 153.67h.9v.9h-.9zM69.31 149.4h.9v.9h-.9zM73.86 150.45h.9v.9h-.9zM64.78 150.4h.9v.9h-.9zM61.82 151.12h.9v.9h-.9zM56.62 144.79h.9v.9h-.9zM73.36 148.93h.9v.9h-.9zM62.66 150.96h.9v.9h-.9zM61.87 146.8h.9v.9h-.9zM63.73 147.59h.9v.9h-.9zM68.87 149.35h.9v.9h-.9zM63.31 152.18h.9v.9h-.9zM54.45 145.38h.9v.9h-.9zM70.11 154.07h.9v.9h-.9zM65.72 148.39h.9v.9h-.9zM73.55 152.33h.9v.9h-.9zM72.15 145.92h.9v.9h-.9zM64.2 147.4h.9v.9h-.9zM57.54 151.21h.9v.9h-.9zM70.11 149.38h.9v.9h-.9zM63.37 153.82h.9v.9h-.9zM69.61 150.28h.9v.9h-.9zM68.61 150.83h.9v.9h-.9zM56.41 148.17h.9v.9h-.9zM67.04 152.08h.9v.9h-.9zM56.84 147.42h.9v.9h-.9zM61.05 145.84h.9v.9h-.9zM72.67 152.09h.9v.9h-.9zM74.11 145.08h.9v.9h-.9zM59.51 154.71h.9v.9h-.9zM55.41 144.56h.9v.9h-.9zM66.62 154.62h.9v.9h-.9zM69.5 148.02h.9v.9h-.9zM68.9 151.66h.9v.9h-.9zM66.91 151.45h.9v.9h-.9zM70.79 153.84h.9v.9h-.9zM74.52 153.88h.9v.9h-.9zM64.09 145.18h.9v.9h-.9zM68.86 146.5h.9v.9h-.9zM80.79 148.39h.9v.9h-.9zM52.39 144.25h.9v.9h-.9zM67.8 151.28h.9v.9h-.9zM69.57 151.39h.9v.9h-.9zM59.74 152.02h.9v.9h-.9zM60.32 145.81h.9v.9h-.9zM71.35 152.19h.9v.9h-.9zM58.66 149.06h.9v.9h-.9zM72.18 153.35h.9v.9h-.9zM57.72 152.66h.9v.9h-.9zM47.25 149.06h.9v.9h-.9zM67.75 150.14h.9v.9h-.9zM65.89 145.98h.9v.9h-.9zM64.21 151.53h.9v.9h-.9zM58.71 150.12h.9v.9h-.9zM63.95 144.08h.9v.9h-.9zM60.92 151.49h.9v.9h-.9zM54.39 149.47h.9v.9h-.9zM67.42 146.99h.9v.9h-.9zM63.39 152.54h.9v.9h-.9zM70.09 147.98h.9v.9h-.9zM72.15 151.75h.9v.9h-.9zM65.99 154.42h.9v.9h-.9zM70.18 151.67h.9v.9h-.9zM71.77 152.6h.9v.9h-.9zM73.9 150.67h.9v.9h-.9zM52.87 153.5h.9v.9h-.9zM70.7 152.14h.9v.9h-.9z"/>
<path fill="#111" fill-opacity="0.3" d="M71.58 132.92h.9v.9h-.9zM72.14 129.53h.9v.9h-.9zM78.76 133.61h.9v.9h-.9zM61.71 134.32h.9v.9h-.9zM67.91 133.16h.9v.9h-.9zM76.51 143.91h.9v.9h-.9zM60.63 134.89h.9v.9h-.9zM78.16 134.95h.9v.9h-.9zM85.83 131.59h.9v.9h-.9zM67.9 133.24h.9v.9h-.9zM57.64 137.63h.9v.9h-.9zM58.9 135.44h.9v.9h-.9zM82.97 129.99h.9v.9h-.9zM69.42 132.48h.9v.9h-.9zM88.14 134.32h.9v.9h-.9zM53.79 137.52h.9v.9h-.9zM81.6 138.89h.9v.9h-.9zM47.59 138.33h.9v.9h-.9zM78.18 133.2h.9v.9h-.9zM64.2 134.81h.9v.9h-.9zM63.13 133.92h.9v.9h-.9zM68.63 131.52h.9v.9h-.9zM76.58 137.17h.9v.9h-.9zM79.96 135.06h.9v.9h-.9zM87.84 128.3h.9v.9h-.9zM71.84 134.03h.9v.9h-.9zM66.8 132.04h.9v.9h-.9zM73.1 142.26h.9v.9h-.9zM73.52 132.92h.9v.9h-.9zM75.42 137.18h.9v.9h-.9zM69.45 139.96h.9v.9h-.9zM59.14 138.25h.9v.9h-.9zM78.18 137.25h.9v.9h-.9zM86.57 132.33h.9v.9h-.9zM75.29 134.34h.9v.9h-.9zM65.19 130.26h.9v.9h-.9zM63.47 136.65h.9v.9h-.9zM48.56 128.19h.9v.9h-.9zM71.94 138.48h.9v.9h-.9zM70.17 138.31h.9v.9h-.9zM70.58 131.17h.9v.9h-.9zM55.67 134.04h.9v.9h-.9zM88.35 133.65h.9v.9h-.9zM60.86 135.61h.9v.9h-.9zM57.56 128.76h.9v.9h-.9zM82.26 134.93h.9v.9h-.9zM91.87 149.01h.9v.9h-.9zM83.26 148.81h.9v.9h-.9zM81.61 151.43h.9v.9h-.9zM73.96 142.66h.9v.9h-.9zM77.45 150.98h.9v.9h-.9zM79.88 141.43h.9v.9h-.9zM82.66 150.02h.9v.9h-.9zM87.12 147.8h.9v.9h-.9zM71.81 149.85h.9v.9h-.9zM76.39 147.77h.9v.9h-.9zM90.2 147.14h.9v.9h-.9zM69.94 146.5h.9v.9h-.9zM89.01 150.43h.9v.9h-.9zM73.87 148.44h.9v.9h-.9zM86.53 151.48h.9v.9h-.9zM87.39 148.77h.9v.9h-.9zM81.76 149.7h.9v.9h-.9zM90.32 147.82h.9v.9h-.9zM81.95 153.48h.9v.9h-.9zM83.85 145.96h.9v.9h-.9zM89.55 144.6h.9v.9h-.9zM75.58 151.02h.9v.9h-.9zM84.37 150.64h.9v.9h-.9zM90.34 146.04h.9v.9h-.9zM88.19 147.17h.9v.9h-.9zM85.9 149.04h.9v.9h-.9zM83.54 144.46h.9v.9h-.9zM86.58 148.35h.9v.9h-.9zM88.39 145.17h.9v.9h-.9zM54.99 144.48h.9v.9h-.9zM52.5 144.24h.9v.9h-.9zM53.21 139.89h.9v.9h-.9zM52.04 143.47h.9v.9h-.9zM56.04 144.69h.9v.9h-.9zM59.79 147.68h.9v.9h-.9zM55.44 146.12h.9v.9h-.9zM48.59 146.73h.9v.9h-.9zM59.18 141.29h.9v.9h-.9zM59.41 147.72h.9v.9h-.9zM55.33 143.61h.9v.9h-.9zM54.29 142.21h.9v.9h-.9zM54.13 145.51h.9v.9h-.9zM54.45 140.49h.9v.9h-.9zM57.85 142.71h.9v.9h-.9zM55.76 147.61h.9v.9h-.9zM53.39 154.95h.9v.9h-.9zM54.68 146.95h.9v.9h-.9zM53.22 146.6h.9v.9h-.9zM49.23 147.83h.9v.9h-.9zM52.75 143.29h.9v.9h-.9zM57.19 148.86h.9v.9h-.9zM52.53 141.28h.9v.9h-.9zM46.3 141.38h.9v.9h-.9zM56.13 147.8h.9v.9h-.9zM49.25 145.49h.9v.9h-.9zM58.32 142.31h.9v.9h-.9zM52.02 141.74h.9v.9h-.9zM55.83 137.87h.9v.9h-.9zM53.68 147.14h.9v.9h-.9zM53.98 149.06h.9v.9h-.9zM56.61 143.3h.9v.9h-.9zM50.27 141.14h.9v.9h-.9zM56.12 144.76h.9v.9h-.9zM54.65 141.71h.9v.9h-.9zM58.71 148.71h.9v.9h-.9zM57.15 140.92h.9v.9h-.9zM64.38 148.6h.9v.9h-.9zM49.95 149.09h.9v.9h-.9zM53.69 142.23h.9v.9h-.9z"/>
<rect x="44.2" y="127.3" width="59" height="58.6" fill="none" stroke="#7c7ce6" stroke-width="0.8"/>
<line x1="66.6" y1="127.3" x2="66.6" y2="185.9" stroke="#f28aa4" stroke-width="0.8"/>
<line x1="44.2" y1="159.2" x2="103.2" y2="159.2" stroke="#f28aa4" stroke-width="0.8"/>
<path d="M56.5 127.3V137.1H79.3V127.3" fill="none" stroke="#e8728f" stroke-width="0.76"/>
<text x="47.5" y="140.5" font-size="4.2" fill="#e64a6e" stroke="#e64a6e" stroke-width="0.15" textLength="4.2" lengthAdjust="spacingAndGlyphs">R4</text>
<text x="47.5" y="144.7" font-size="4.2" fill="#e64a6e" stroke="#e64a6e" stroke-width="0.15" textLength="8" lengthAdjust="spacingAndGlyphs">2.2%</text>
<path d="M123.6 145.72L129.6 144.48L134.1 143.54L139.1 142.56L143.1 141.76L146.1 140.86L149.1 138.82L151.1 137.16L153.6 135.5L155.6 134.08L157.4 133.4L157.4 137.6L155.6 141.52L153.6 145.1L151.1 147.84L149.1 148.78L146.1 149.74L143.1 150.64L139.1 151.44L134.1 152.06L129.6 151.92L123.6 150.28Z" fill="#111" fill-opacity="0.22" filter="url(#bl)"/>
<path d="M123.6 146.96L129.6 146.39L134.1 145.71L134.1 149.89L129.6 150L123.6 149.04Z" fill="#111" fill-opacity="0.45" filter="url(#bl)"/>
<path d="M129.6 146.39L134.1 145.71L139.1 144.81L139.1 149.19L134.1 149.89L129.6 150Z" fill="#111" fill-opacity="0.35" filter="url(#bl)"/>
<path d="M134.1 145.6L139.1 144.7L143.1 143.9L146.1 143L149.1 141.2L151.1 139.7L153.6 137.8L155.6 135.9L157.4 134.5L157.4 136.5L155.6 139.7L153.6 142.8L151.1 145.3L149.1 146.4L146.1 147.6L143.1 148.5L139.1 149.3L134.1 150Z" fill="#111" fill-opacity="0.75" filter="url(#bl)"/>
<path fill="#111" fill-opacity="0.55" d="M124.6 145.83h.9v.9h-.9zM122.05 148.09h.9v.9h-.9zM126.55 148.01h.9v.9h-.9zM120.28 148.38h.9v.9h-.9zM121.2 149.48h.9v.9h-.9zM123.09 150.16h.9v.9h-.9zM123.34 146.76h.9v.9h-.9zM120.66 147.56h.9v.9h-.9zM124.49 149.44h.9v.9h-.9zM124.13 147.11h.9v.9h-.9zM124.6 146.26h.9v.9h-.9zM124.61 147.09h.9v.9h-.9zM126.59 149.2h.9v.9h-.9zM124.33 146.76h.9v.9h-.9zM124.7 148.45h.9v.9h-.9zM122.5 147.25h.9v.9h-.9zM126.14 147.51h.9v.9h-.9zM124.49 149.68h.9v.9h-.9zM120.63 150.16h.9v.9h-.9zM125.63 147.22h.9v.9h-.9zM121.7 146.52h.9v.9h-.9zM125.47 144.89h.9v.9h-.9zM129.5 147.89h.9v.9h-.9zM129.67 147.82h.9v.9h-.9zM127.44 152.13h.9v.9h-.9zM128.36 146.97h.9v.9h-.9zM128.17 149.65h.9v.9h-.9zM135.54 154.55h.9v.9h-.9zM131.58 148.93h.9v.9h-.9zM129.55 146.1h.9v.9h-.9zM131.09 148.01h.9v.9h-.9zM133.79 147.63h.9v.9h-.9zM127.58 144.35h.9v.9h-.9zM126.03 149.48h.9v.9h-.9zM130.29 145.78h.9v.9h-.9zM126.52 148.79h.9v.9h-.9zM128.89 148.68h.9v.9h-.9zM129.57 146.56h.9v.9h-.9zM126.11 148.48h.9v.9h-.9zM129.8 148.59h.9v.9h-.9zM131.5 150.15h.9v.9h-.9zM128.61 149.43h.9v.9h-.9zM125.23 149.64h.9v.9h-.9zM129.54 150.35h.9v.9h-.9zM132.24 149.47h.9v.9h-.9zM135.37 142.33h.9v.9h-.9zM134.04 148.06h.9v.9h-.9zM133.45 148.06h.9v.9h-.9zM137.49 148.58h.9v.9h-.9zM136.53 150.3h.9v.9h-.9zM131.04 152.16h.9v.9h-.9zM134.53 147.11h.9v.9h-.9zM135.81 153.3h.9v.9h-.9zM132.52 146.14h.9v.9h-.9zM134.84 143.46h.9v.9h-.9zM131.85 147.94h.9v.9h-.9zM135.63 149.15h.9v.9h-.9zM135.82 150.48h.9v.9h-.9zM133.22 146.96h.9v.9h-.9zM133.47 147.01h.9v.9h-.9zM136.37 149.94h.9v.9h-.9zM129.93 149h.9v.9h-.9zM131.96 145.07h.9v.9h-.9zM136.74 151.08h.9v.9h-.9zM136.5 149.48h.9v.9h-.9zM137.81 145.01h.9v.9h-.9zM139.88 146.61h.9v.9h-.9zM140.12 145.4h.9v.9h-.9zM141.18 146.43h.9v.9h-.9zM139.55 146.7h.9v.9h-.9zM142.26 149.39h.9v.9h-.9zM137.5 144.6h.9v.9h-.9zM140.31 147.32h.9v.9h-.9zM138.65 147.6h.9v.9h-.9zM142.5 146.81h.9v.9h-.9zM142.05 145.78h.9v.9h-.9zM138.65 147.85h.9v.9h-.9zM138.99 145.76h.9v.9h-.9zM136.96 146.18h.9v.9h-.9zM138.31 147.03h.9v.9h-.9zM141.27 148.37h.9v.9h-.9zM141.5 147.59h.9v.9h-.9zM140.05 148.67h.9v.9h-.9zM140.61 149.67h.9v.9h-.9zM138.01 148.16h.9v.9h-.9zM139.56 150.21h.9v.9h-.9zM140.86 145.6h.9v.9h-.9zM140.01 148.89h.9v.9h-.9zM140.41 140.33h.9v.9h-.9zM144.54 149.24h.9v.9h-.9zM142.57 146.8h.9v.9h-.9zM146.37 147.26h.9v.9h-.9zM145.47 148.83h.9v.9h-.9zM144.65 147.63h.9v.9h-.9zM145.55 146.84h.9v.9h-.9zM143.42 144.44h.9v.9h-.9zM138.95 143.92h.9v.9h-.9zM142.49 148.95h.9v.9h-.9zM142.45 141.21h.9v.9h-.9zM144.54 149.45h.9v.9h-.9zM143.81 147.05h.9v.9h-.9zM143.74 146.11h.9v.9h-.9zM146.02 144.17h.9v.9h-.9zM141.65 142.54h.9v.9h-.9zM142.14 144.51h.9v.9h-.9zM141.84 146.79h.9v.9h-.9zM145.3 142.8h.9v.9h-.9zM143.42 144.49h.9v.9h-.9zM141.82 145.14h.9v.9h-.9zM143.93 142.15h.9v.9h-.9zM146.28 145.57h.9v.9h-.9zM146.23 145.38h.9v.9h-.9zM146.5 144.35h.9v.9h-.9zM144.75 144.21h.9v.9h-.9zM147.5 147.25h.9v.9h-.9zM148.38 151.63h.9v.9h-.9zM144.1 147.56h.9v.9h-.9zM143.51 143.92h.9v.9h-.9zM144.52 145.55h.9v.9h-.9zM148.83 149.31h.9v.9h-.9zM146.87 147.88h.9v.9h-.9zM147.04 142.21h.9v.9h-.9zM149.55 143.82h.9v.9h-.9zM145.09 145.19h.9v.9h-.9zM144.21 143.72h.9v.9h-.9zM147.69 142.92h.9v.9h-.9zM144.85 140.96h.9v.9h-.9zM142.32 146.2h.9v.9h-.9zM147.03 144.43h.9v.9h-.9zM149.63 142.82h.9v.9h-.9zM147.21 143.49h.9v.9h-.9zM146.09 146.65h.9v.9h-.9zM145.67 143.17h.9v.9h-.9zM147.2 144h.9v.9h-.9zM152.94 143.61h.9v.9h-.9zM145.73 140.67h.9v.9h-.9zM146.99 139.67h.9v.9h-.9zM150.07 144.42h.9v.9h-.9zM151.2 146.27h.9v.9h-.9zM148.88 142.17h.9v.9h-.9zM148.12 143.75h.9v.9h-.9zM147.77 139.21h.9v.9h-.9zM153.89 147.94h.9v.9h-.9zM148.57 142.53h.9v.9h-.9zM148.4 145.15h.9v.9h-.9zM148.48 137.48h.9v.9h-.9zM149.68 145.43h.9v.9h-.9zM146.37 139.7h.9v.9h-.9zM148.95 140.64h.9v.9h-.9zM151.22 146.33h.9v.9h-.9zM145.63 145.22h.9v.9h-.9zM146.17 141.77h.9v.9h-.9zM151.86 143.08h.9v.9h-.9zM150.46 142.59h.9v.9h-.9zM149.1 143.11h.9v.9h-.9zM153.55 142.96h.9v.9h-.9zM151.59 141.27h.9v.9h-.9zM150.8 142.66h.9v.9h-.9zM156.38 142.2h.9v.9h-.9zM150.11 139.33h.9v.9h-.9zM152.02 143.17h.9v.9h-.9zM150.11 137.24h.9v.9h-.9zM155.07 142.08h.9v.9h-.9zM149.68 143.4h.9v.9h-.9zM149.32 141.76h.9v.9h-.9zM147.11 140.72h.9v.9h-.9zM145.71 145.03h.9v.9h-.9zM150.98 141.58h.9v.9h-.9zM151.04 137.97h.9v.9h-.9zM150.98 142.33h.9v.9h-.9zM152.79 140.02h.9v.9h-.9zM149.91 142.07h.9v.9h-.9zM151.43 142.61h.9v.9h-.9zM151.53 145.04h.9v.9h-.9zM151.49 143.38h.9v.9h-.9zM150.66 137.75h.9v.9h-.9zM151.2 141.85h.9v.9h-.9zM151.59 137.74h.9v.9h-.9zM153.26 144.19h.9v.9h-.9zM155.86 139.75h.9v.9h-.9zM151.25 136.18h.9v.9h-.9zM153.58 142.46h.9v.9h-.9zM155.26 139.87h.9v.9h-.9zM151.88 141.49h.9v.9h-.9zM156.11 140.15h.9v.9h-.9zM154.55 139.31h.9v.9h-.9zM153.1 144.22h.9v.9h-.9zM152.37 143.99h.9v.9h-.9zM152.79 140.25h.9v.9h-.9zM155.24 142.21h.9v.9h-.9zM152.38 139.94h.9v.9h-.9zM153.59 140.43h.9v.9h-.9zM153.43 142.65h.9v.9h-.9zM151.55 142.68h.9v.9h-.9zM155.51 136.81h.9v.9h-.9zM153.51 138.06h.9v.9h-.9zM150.38 140.42h.9v.9h-.9zM154.77 139.04h.9v.9h-.9zM155.4 139.08h.9v.9h-.9zM156.2 138.51h.9v.9h-.9zM156.99 138.02h.9v.9h-.9zM154.63 139.73h.9v.9h-.9zM154.66 135.1h.9v.9h-.9zM153.84 137.94h.9v.9h-.9zM154.62 136.9h.9v.9h-.9zM156.03 138.72h.9v.9h-.9zM155.07 136.8h.9v.9h-.9zM155.92 139.72h.9v.9h-.9zM152.94 136.62h.9v.9h-.9zM153.35 136.26h.9v.9h-.9zM157.16 142.12h.9v.9h-.9zM155.43 135.67h.9v.9h-.9zM153.51 139.46h.9v.9h-.9zM157.7 139.85h.9v.9h-.9zM157.16 136.66h.9v.9h-.9zM154.07 137.81h.9v.9h-.9zM157.24 136.71h.9v.9h-.9zM153.58 140.33h.9v.9h-.9zM152.58 141.06h.9v.9h-.9zM153.34 139.28h.9v.9h-.9zM155.55 134.3h.9v.9h-.9zM160.05 132.86h.9v.9h-.9zM155.55 135.4h.9v.9h-.9zM154.55 137.34h.9v.9h-.9zM156.64 135.55h.9v.9h-.9zM156.55 135.22h.9v.9h-.9zM155.74 136.81h.9v.9h-.9zM155.51 134.61h.9v.9h-.9zM158.71 134.18h.9v.9h-.9zM160.99 135.13h.9v.9h-.9zM157.09 137.41h.9v.9h-.9zM154.3 137.53h.9v.9h-.9zM155.88 134.72h.9v.9h-.9zM159.16 137.4h.9v.9h-.9zM157.19 135.66h.9v.9h-.9zM157.48 135.38h.9v.9h-.9zM157.88 135.58h.9v.9h-.9zM155.82 134.39h.9v.9h-.9zM152.75 135.77h.9v.9h-.9zM156.07 135.64h.9v.9h-.9zM158.37 135.49h.9v.9h-.9zM158.75 135.74h.9v.9h-.9z"/>
<path fill="#111" fill-opacity="0.35" d="M126.4 148.41h.9v.9h-.9zM121.55 146.77h.9v.9h-.9zM122.5 147.44h.9v.9h-.9zM126.27 145.98h.9v.9h-.9zM126.88 150.39h.9v.9h-.9zM122.84 149.48h.9v.9h-.9zM121.97 148.13h.9v.9h-.9zM125.1 152.69h.9v.9h-.9zM132.6 144.24h.9v.9h-.9zM129.22 152.91h.9v.9h-.9zM127.95 148.51h.9v.9h-.9zM127.76 150.69h.9v.9h-.9zM130.49 144.72h.9v.9h-.9zM125.3 138.85h.9v.9h-.9zM132.18 146.31h.9v.9h-.9zM127.5 145.99h.9v.9h-.9zM136.68 144.5h.9v.9h-.9zM132.26 139.76h.9v.9h-.9zM138.78 156.6h.9v.9h-.9zM136.82 144.97h.9v.9h-.9zM134.68 142.62h.9v.9h-.9zM133.32 155.34h.9v.9h-.9zM139.06 151.18h.9v.9h-.9zM136.54 147.25h.9v.9h-.9zM139.34 153.58h.9v.9h-.9zM139.98 140.61h.9v.9h-.9zM140.11 151.15h.9v.9h-.9zM136.73 150.71h.9v.9h-.9zM130.79 157.52h.9v.9h-.9zM134.91 144.65h.9v.9h-.9zM138.19 139.88h.9v.9h-.9zM140.09 142.41h.9v.9h-.9zM147.81 145.96h.9v.9h-.9zM141 138.18h.9v.9h-.9zM146.46 149.98h.9v.9h-.9zM145.91 147.19h.9v.9h-.9zM148.52 154.47h.9v.9h-.9zM149.76 148.2h.9v.9h-.9zM146.14 144.46h.9v.9h-.9zM143.58 144.77h.9v.9h-.9zM142.04 152.51h.9v.9h-.9zM145.9 145.7h.9v.9h-.9zM145.68 147.28h.9v.9h-.9zM142.42 139.28h.9v.9h-.9zM147.26 144.33h.9v.9h-.9zM144.96 147.09h.9v.9h-.9zM150.93 140.16h.9v.9h-.9zM138.71 143.74h.9v.9h-.9zM155.31 143.91h.9v.9h-.9zM158.47 147.19h.9v.9h-.9zM148.07 144.36h.9v.9h-.9zM148.36 152.83h.9v.9h-.9zM145.97 149.12h.9v.9h-.9zM153.67 150.3h.9v.9h-.9zM145.13 151.54h.9v.9h-.9zM151.78 150.58h.9v.9h-.9zM152.65 139.59h.9v.9h-.9zM150.55 134.3h.9v.9h-.9zM156.26 149.24h.9v.9h-.9zM149.9 145.58h.9v.9h-.9zM153.87 155.28h.9v.9h-.9zM151.64 148.46h.9v.9h-.9zM148.39 140.81h.9v.9h-.9zM150.38 140.31h.9v.9h-.9zM154.57 140.47h.9v.9h-.9zM147.54 139.22h.9v.9h-.9zM156.6 148.21h.9v.9h-.9zM149.81 131.79h.9v.9h-.9zM154.76 138.77h.9v.9h-.9zM154.04 137.45h.9v.9h-.9zM155.82 144.06h.9v.9h-.9zM152.46 140.45h.9v.9h-.9zM154.25 143.05h.9v.9h-.9zM154.22 138.14h.9v.9h-.9zM156.96 136.21h.9v.9h-.9zM151.59 134.92h.9v.9h-.9zM152.98 138.53h.9v.9h-.9zM144.33 142.51h.9v.9h-.9zM161.82 138.45h.9v.9h-.9zM152.91 134.81h.9v.9h-.9zM160.49 135.16h.9v.9h-.9zM155.61 137.15h.9v.9h-.9zM153.94 138.19h.9v.9h-.9zM155.83 134.14h.9v.9h-.9zM159.42 139.27h.9v.9h-.9zM154.12 134.52h.9v.9h-.9zM159.9 141.24h.9v.9h-.9zM150.79 134.62h.9v.9h-.9zM127.7 146.46h.9v.9h-.9zM147.63 152.45h.9v.9h-.9zM134.01 149.57h.9v.9h-.9zM141.45 153.05h.9v.9h-.9zM130.03 148.56h.9v.9h-.9zM135.49 150.48h.9v.9h-.9zM125.01 148.4h.9v.9h-.9zM127.27 153.47h.9v.9h-.9zM121.16 151.11h.9v.9h-.9zM132.42 149.94h.9v.9h-.9zM128.27 153.02h.9v.9h-.9zM129.58 153.64h.9v.9h-.9zM135.54 150.79h.9v.9h-.9zM127.44 149.77h.9v.9h-.9zM134.2 153.18h.9v.9h-.9zM123.84 147.39h.9v.9h-.9zM125.61 147.89h.9v.9h-.9zM119.4 151.52h.9v.9h-.9zM142.09 146.65h.9v.9h-.9zM142.09 149.65h.9v.9h-.9zM135.7 154.63h.9v.9h-.9zM131.09 152.47h.9v.9h-.9zM130.83 150.6h.9v.9h-.9zM128.01 150.64h.9v.9h-.9zM133.1 153.26h.9v.9h-.9zM132.66 146.34h.9v.9h-.9zM127.85 153.98h.9v.9h-.9zM126.82 151.3h.9v.9h-.9zM127.48 151.14h.9v.9h-.9zM142.76 157.06h.9v.9h-.9zM123.88 147.35h.9v.9h-.9zM125.93 147.73h.9v.9h-.9zM131.71 150.01h.9v.9h-.9zM140.24 152.29h.9v.9h-.9zM131.23 150.31h.9v.9h-.9zM133.75 152.69h.9v.9h-.9zM145.35 150.29h.9v.9h-.9zM139.03 151.52h.9v.9h-.9zM130.06 151.33h.9v.9h-.9zM127.04 157.9h.9v.9h-.9zM137.12 149.6h.9v.9h-.9zM133.01 148.94h.9v.9h-.9zM130.29 149.28h.9v.9h-.9zM126.35 146.94h.9v.9h-.9zM141.49 150.9h.9v.9h-.9zM136.73 149.58h.9v.9h-.9zM128.9 148.7h.9v.9h-.9zM150.39 155.03h.9v.9h-.9zM138.74 151.25h.9v.9h-.9zM130.4 151.83h.9v.9h-.9zM139.57 147.28h.9v.9h-.9zM125.63 152.14h.9v.9h-.9zM133.47 149.55h.9v.9h-.9zM124.63 145.24h.9v.9h-.9zM125.58 147.7h.9v.9h-.9zM132.34 151.97h.9v.9h-.9zM135.23 152.85h.9v.9h-.9zM129.6 154.74h.9v.9h-.9zM134.25 151.66h.9v.9h-.9zM134.58 147.61h.9v.9h-.9zM141.98 154.4h.9v.9h-.9zM138.85 151.48h.9v.9h-.9zM125.29 151.6h.9v.9h-.9zM133.45 156.66h.9v.9h-.9zM126.86 148.68h.9v.9h-.9zM127.88 147.89h.9v.9h-.9zM123.54 148.23h.9v.9h-.9zM132.58 155.87h.9v.9h-.9zM145.87 154.92h.9v.9h-.9zM124.89 151.21h.9v.9h-.9zM138.86 152.87h.9v.9h-.9zM127.54 153.2h.9v.9h-.9zM131.04 149.04h.9v.9h-.9zM145.66 153.94h.9v.9h-.9zM135.21 154.5h.9v.9h-.9zM130.8 145.43h.9v.9h-.9zM142.28 151.23h.9v.9h-.9zM133.32 149.77h.9v.9h-.9zM146.83 151.72h.9v.9h-.9zM128.53 145.97h.9v.9h-.9zM133.43 146.65h.9v.9h-.9zM133.55 151.94h.9v.9h-.9zM142.53 151.5h.9v.9h-.9zM121.2 142.13h.9v.9h-.9zM132.42 151.85h.9v.9h-.9zM120.28 153.85h.9v.9h-.9zM133.49 156.03h.9v.9h-.9zM124.52 146.11h.9v.9h-.9zM141.76 154.34h.9v.9h-.9zM122.98 152.2h.9v.9h-.9z"/>
<path fill="#111" fill-opacity="0.3" d="M146.3 134.3h.9v.9h-.9zM131 132.01h.9v.9h-.9zM133.7 132.85h.9v.9h-.9zM137.68 138.97h.9v.9h-.9zM125.21 143.01h.9v.9h-.9zM132.63 135.85h.9v.9h-.9zM126.7 136.61h.9v.9h-.9zM127.21 143.49h.9v.9h-.9zM142.4 138.35h.9v.9h-.9zM143.79 131.01h.9v.9h-.9zM139.57 138.06h.9v.9h-.9zM148.1 128.34h.9v.9h-.9zM158.11 137.52h.9v.9h-.9zM139.25 133.88h.9v.9h-.9zM136.42 133.27h.9v.9h-.9zM144.61 134h.9v.9h-.9zM146.27 132.96h.9v.9h-.9zM139.11 135.15h.9v.9h-.9zM141.3 138.88h.9v.9h-.9zM135.07 130h.9v.9h-.9zM139.02 131.79h.9v.9h-.9zM147.69 133.88h.9v.9h-.9zM158.93 130.45h.9v.9h-.9zM151.82 132.27h.9v.9h-.9zM135.3 133.83h.9v.9h-.9zM118.11 129.56h.9v.9h-.9zM140.92 128.92h.9v.9h-.9zM154.21 133.07h.9v.9h-.9zM138.57 133.28h.9v.9h-.9zM146.41 132.56h.9v.9h-.9zM146.7 133.33h.9v.9h-.9zM138.85 133.53h.9v.9h-.9zM141.49 129.65h.9v.9h-.9zM150.42 137.49h.9v.9h-.9zM141.1 136.82h.9v.9h-.9zM130.94 135.25h.9v.9h-.9zM137.65 130.7h.9v.9h-.9zM142.51 129.2h.9v.9h-.9zM130.21 134.83h.9v.9h-.9zM144.78 131.84h.9v.9h-.9zM131.59 134.88h.9v.9h-.9zM139.8 133.88h.9v.9h-.9zM133.88 137.23h.9v.9h-.9zM139.65 132.08h.9v.9h-.9zM149.33 153.14h.9v.9h-.9zM151.39 150.57h.9v.9h-.9zM145.02 147.86h.9v.9h-.9zM152.75 149.12h.9v.9h-.9zM165.82 147.74h.9v.9h-.9zM151.52 149.79h.9v.9h-.9zM141.44 147.83h.9v.9h-.9zM158.54 147.14h.9v.9h-.9zM161.83 152.56h.9v.9h-.9zM154.88 150.1h.9v.9h-.9zM154.36 154.25h.9v.9h-.9zM158.94 147.65h.9v.9h-.9zM142.82 144.87h.9v.9h-.9zM137.37 149.87h.9v.9h-.9zM146.12 152.78h.9v.9h-.9zM153.56 149.73h.9v.9h-.9zM154.1 149.86h.9v.9h-.9zM157.15 147.78h.9v.9h-.9zM150.56 147.9h.9v.9h-.9zM160.3 144.66h.9v.9h-.9zM139.42 140.55h.9v.9h-.9zM164.56 149.33h.9v.9h-.9zM165.24 153.22h.9v.9h-.9zM158.23 148.44h.9v.9h-.9zM142.71 147.24h.9v.9h-.9zM152.21 147.23h.9v.9h-.9zM152.44 147.94h.9v.9h-.9zM164.76 146.79h.9v.9h-.9zM153.99 148.41h.9v.9h-.9zM153.88 149.19h.9v.9h-.9zM122.7 147.71h.9v.9h-.9zM116.68 144.62h.9v.9h-.9zM121.33 156.96h.9v.9h-.9zM117.32 142.64h.9v.9h-.9zM123.99 140.45h.9v.9h-.9zM126.58 139.93h.9v.9h-.9zM116.16 151.64h.9v.9h-.9zM120.7 144.72h.9v.9h-.9zM118.29 150.59h.9v.9h-.9zM119.32 139.41h.9v.9h-.9zM122.22 138.92h.9v.9h-.9zM123.87 143.6h.9v.9h-.9zM128.28 140.64h.9v.9h-.9zM122.38 142.62h.9v.9h-.9zM114.96 140.55h.9v.9h-.9zM122.91 143.04h.9v.9h-.9zM126.18 146.59h.9v.9h-.9zM125.54 147.69h.9v.9h-.9zM122.81 146.71h.9v.9h-.9zM125.31 141.43h.9v.9h-.9zM125.88 147.2h.9v.9h-.9zM120.15 149.53h.9v.9h-.9zM121.55 136.81h.9v.9h-.9zM121.89 145.4h.9v.9h-.9zM123.2 144.23h.9v.9h-.9zM124.05 140.34h.9v.9h-.9zM116.37 142.5h.9v.9h-.9zM114.9 149.58h.9v.9h-.9zM124.44 144.48h.9v.9h-.9zM121.54 149.5h.9v.9h-.9zM117.79 148.96h.9v.9h-.9zM124.58 143.98h.9v.9h-.9zM124.22 143.97h.9v.9h-.9zM116.7 150.11h.9v.9h-.9zM117.53 137.5h.9v.9h-.9zM118.79 143.07h.9v.9h-.9zM122.35 142.45h.9v.9h-.9zM124.85 145.77h.9v.9h-.9zM121.95 145.17h.9v.9h-.9zM125.22 140.5h.9v.9h-.9z"/>
<rect x="111.3" y="127.3" width="59.3" height="58.3" fill="none" stroke="#7c7ce6" stroke-width="0.8"/>
<line x1="134.4" y1="127.3" x2="134.4" y2="185.6" stroke="#f28aa4" stroke-width="0.8"/>
<line x1="111.3" y1="159.1" x2="170.6" y2="159.1" stroke="#f28aa4" stroke-width="0.8"/>
<path d="M123.6 127.3V137.1H146.4V127.3" fill="none" stroke="#e8728f" stroke-width="0.76"/>
<text x="114.6" y="140.5" font-size="4.2" fill="#e64a6e" stroke="#e64a6e" stroke-width="0.15" textLength="4.2" lengthAdjust="spacingAndGlyphs">R4</text>
<text x="114.6" y="144.7" font-size="4.2" fill="#e64a6e" stroke="#e64a6e" stroke-width="0.15" textLength="8" lengthAdjust="spacingAndGlyphs">1.9%</text>
<path fill="#111" fill-opacity="0.8" d="M236.83 131.37h.9v.9h-.9zM236.92 129.8h.9v.9h-.9zM234.81 129.99h.9v.9h-.9zM240.94 131.21h.9v.9h-.9zM240.71 130.87h.9v.9h-.9zM238.78 130.75h.9v.9h-.9zM232.6 132.02h.9v.9h-.9zM239.12 131.35h.9v.9h-.9zM232.53 127.09h.9v.9h-.9zM234.93 129.51h.9v.9h-.9zM238.52 130.31h.9v.9h-.9zM239.16 129.18h.9v.9h-.9zM238.53 131.15h.9v.9h-.9zM235.62 133.66h.9v.9h-.9zM239.27 132.67h.9v.9h-.9zM235.74 128.99h.9v.9h-.9zM236.57 130.2h.9v.9h-.9zM239.5 130.87h.9v.9h-.9zM236.26 128.58h.9v.9h-.9zM236.04 132.72h.9v.9h-.9zM235.18 130.87h.9v.9h-.9zM238.88 127.57h.9v.9h-.9zM237.75 132.88h.9v.9h-.9zM231.56 129.79h.9v.9h-.9zM237.28 128.85h.9v.9h-.9zM239.09 130.28h.9v.9h-.9zM233.21 131.97h.9v.9h-.9zM239.61 132.2h.9v.9h-.9zM241.92 131.09h.9v.9h-.9zM237.96 127.93h.9v.9h-.9zM239.45 129.24h.9v.9h-.9zM236.24 128h.9v.9h-.9zM234.7 129.39h.9v.9h-.9zM241.47 126.54h.9v.9h-.9zM233.23 130.85h.9v.9h-.9zM241.93 131.5h.9v.9h-.9zM238.67 129h.9v.9h-.9zM234.24 132.26h.9v.9h-.9zM240.91 130.7h.9v.9h-.9zM238.34 131.23h.9v.9h-.9zM242.38 131.58h.9v.9h-.9zM239.16 131.44h.9v.9h-.9zM232.9 132.84h.9v.9h-.9zM240.47 131.41h.9v.9h-.9zM231.68 129.2h.9v.9h-.9zM240.13 126.96h.9v.9h-.9zM237.05 132.34h.9v.9h-.9zM233.67 133.46h.9v.9h-.9zM239.26 130.11h.9v.9h-.9zM238.57 131.63h.9v.9h-.9zM237.96 132.58h.9v.9h-.9zM235.62 129.61h.9v.9h-.9zM240.73 130.45h.9v.9h-.9zM234.96 132.2h.9v.9h-.9zM242 129.55h.9v.9h-.9zM233.46 130.14h.9v.9h-.9zM237.15 129.83h.9v.9h-.9zM241.81 128.45h.9v.9h-.9zM241.38 127.99h.9v.9h-.9zM235.24 131.6h.9v.9h-.9zM240.99 132.03h.9v.9h-.9zM238.64 130.67h.9v.9h-.9zM238.06 131.49h.9v.9h-.9zM237.07 130.93h.9v.9h-.9zM239.32 130.4h.9v.9h-.9zM239.89 131.48h.9v.9h-.9zM243.63 131.02h.9v.9h-.9zM236.32 129.69h.9v.9h-.9zM237.56 132.16h.9v.9h-.9zM236.59 131.13h.9v.9h-.9zM234.23 130.86h.9v.9h-.9zM238.8 130.85h.9v.9h-.9zM236.31 131.64h.9v.9h-.9zM238.45 129.41h.9v.9h-.9zM244.89 131.07h.9v.9h-.9zM235.94 130.21h.9v.9h-.9zM236.92 130.28h.9v.9h-.9zM229.42 129.47h.9v.9h-.9zM240.63 128.18h.9v.9h-.9zM237.4 132.21h.9v.9h-.9zM240.17 133.23h.9v.9h-.9zM232.5 129.73h.9v.9h-.9zM236.58 131.58h.9v.9h-.9zM240.87 127.65h.9v.9h-.9zM239.65 127.56h.9v.9h-.9zM238.13 132.67h.9v.9h-.9zM237.15 130.76h.9v.9h-.9zM239.99 130.67h.9v.9h-.9zM237.33 133.31h.9v.9h-.9zM240.75 129.84h.9v.9h-.9zM245.84 128.22h.9v.9h-.9zM240.34 129.9h.9v.9h-.9zM238 131.74h.9v.9h-.9zM238.27 131.61h.9v.9h-.9zM233.02 127.53h.9v.9h-.9zM239.44 128.57h.9v.9h-.9zM234.52 127.61h.9v.9h-.9zM241.4 131.82h.9v.9h-.9zM242.02 128.62h.9v.9h-.9zM237.6 128.23h.9v.9h-.9zM239.9 133.42h.9v.9h-.9zM234.93 133.36h.9v.9h-.9zM240.56 130.06h.9v.9h-.9zM231.68 133.07h.9v.9h-.9zM237.31 129.25h.9v.9h-.9zM238.8 131.18h.9v.9h-.9zM242.09 128.46h.9v.9h-.9zM241.01 133.23h.9v.9h-.9zM241.96 130.06h.9v.9h-.9zM235.37 132.34h.9v.9h-.9zM237.95 130.64h.9v.9h-.9zM241.87 129.9h.9v.9h-.9zM230.71 129.66h.9v.9h-.9zM232.04 131.96h.9v.9h-.9zM238.55 129.24h.9v.9h-.9zM237.57 131.98h.9v.9h-.9zM237.84 132.92h.9v.9h-.9zM237.42 132.38h.9v.9h-.9zM242.07 133.46h.9v.9h-.9zM235.58 132.07h.9v.9h-.9zM231.97 128.34h.9v.9h-.9zM231.71 132.43h.9v.9h-.9zM233.9 130.38h.9v.9h-.9zM237.02 130.35h.9v.9h-.9zM235.83 130.84h.9v.9h-.9zM242.97 130.48h.9v.9h-.9zM239.19 132.3h.9v.9h-.9z"/>
<path fill="#111" fill-opacity="0.45" d="M238.51 126.62h.9v.9h-.9zM236.55 132.69h.9v.9h-.9zM230.55 128.35h.9v.9h-.9zM245.14 131.96h.9v.9h-.9zM239.64 131.99h.9v.9h-.9zM240.51 126.83h.9v.9h-.9zM231 128.24h.9v.9h-.9zM244.68 128.43h.9v.9h-.9zM234.64 127.9h.9v.9h-.9zM231.18 129.6h.9v.9h-.9zM233.11 130.85h.9v.9h-.9zM226.62 130.75h.9v.9h-.9zM243.59 129.18h.9v.9h-.9zM227.33 127.62h.9v.9h-.9zM241.2 128.71h.9v.9h-.9zM243.89 131.84h.9v.9h-.9zM243.26 130.75h.9v.9h-.9zM246.94 131.62h.9v.9h-.9zM244.53 133.3h.9v.9h-.9zM237.97 128.68h.9v.9h-.9zM242.18 136.2h.9v.9h-.9zM234.5 131.69h.9v.9h-.9zM249.98 129.59h.9v.9h-.9zM242.69 132.25h.9v.9h-.9zM234.62 129.67h.9v.9h-.9zM241.21 132.05h.9v.9h-.9zM239.41 129.39h.9v.9h-.9zM234.01 128.97h.9v.9h-.9zM244.5 130.16h.9v.9h-.9zM234.91 127.71h.9v.9h-.9zM254.27 132.86h.9v.9h-.9zM243.02 131.15h.9v.9h-.9zM248.86 131.01h.9v.9h-.9zM239.23 131.26h.9v.9h-.9zM228.91 132.59h.9v.9h-.9zM241.39 128.07h.9v.9h-.9zM246.89 134.6h.9v.9h-.9zM231.89 128.17h.9v.9h-.9zM241.2 130.38h.9v.9h-.9zM237.41 127.37h.9v.9h-.9zM251.26 132.6h.9v.9h-.9zM233.03 126.4h.9v.9h-.9zM248.97 132.47h.9v.9h-.9zM249.62 132.01h.9v.9h-.9zM234.8 130.58h.9v.9h-.9zM227.72 127.95h.9v.9h-.9zM239.28 131.26h.9v.9h-.9zM235.6 129.58h.9v.9h-.9zM242.12 130.88h.9v.9h-.9zM243.11 130.44h.9v.9h-.9zM237.82 131.95h.9v.9h-.9zM239.87 127.75h.9v.9h-.9zM236.16 129.9h.9v.9h-.9zM239 130.31h.9v.9h-.9zM239.6 130.36h.9v.9h-.9zM238.86 126.63h.9v.9h-.9zM241.92 132.64h.9v.9h-.9zM241.99 129.41h.9v.9h-.9zM242.06 127.39h.9v.9h-.9zM229.17 130.05h.9v.9h-.9zM234.48 131.82h.9v.9h-.9zM233.88 134h.9v.9h-.9zM237.5 126.34h.9v.9h-.9zM235.4 131.25h.9v.9h-.9zM242.33 130.36h.9v.9h-.9z"/>
<path fill="#111" fill-opacity="0.3" d="M237.28 149.54h.9v.9h-.9zM230.51 143.56h.9v.9h-.9zM238.05 151.59h.9v.9h-.9zM235.21 138.18h.9v.9h-.9zM229.93 143.83h.9v.9h-.9zM229.27 145.14h.9v.9h-.9zM233.28 147.46h.9v.9h-.9zM229.64 153.46h.9v.9h-.9zM236.18 143.66h.9v.9h-.9zM231.01 154.81h.9v.9h-.9zM229.06 143.92h.9v.9h-.9zM235.01 143.94h.9v.9h-.9zM225.35 137.25h.9v.9h-.9zM232.22 147.82h.9v.9h-.9zM234.12 143.33h.9v.9h-.9zM234.44 146.38h.9v.9h-.9zM231.53 141.44h.9v.9h-.9zM229.5 143.25h.9v.9h-.9zM225.86 133.22h.9v.9h-.9zM230.62 132.47h.9v.9h-.9zM228.64 127.94h.9v.9h-.9zM227.53 141.04h.9v.9h-.9zM233.15 142.13h.9v.9h-.9zM229.56 131.88h.9v.9h-.9zM238.83 149.74h.9v.9h-.9zM235.52 139.52h.9v.9h-.9zM229.77 129.86h.9v.9h-.9zM234.11 148.27h.9v.9h-.9zM222.06 133.33h.9v.9h-.9zM233.44 133.09h.9v.9h-.9zM222.39 128.09h.9v.9h-.9zM227.77 130.53h.9v.9h-.9zM230.74 141.87h.9v.9h-.9zM233.45 146.48h.9v.9h-.9zM237.36 152.09h.9v.9h-.9zM224.7 132.97h.9v.9h-.9zM225.83 130.77h.9v.9h-.9zM230.23 140.14h.9v.9h-.9zM232.81 133.54h.9v.9h-.9zM225.03 135.85h.9v.9h-.9zM229.7 138h.9v.9h-.9zM230.32 136.05h.9v.9h-.9zM233.76 144.83h.9v.9h-.9zM230.21 136.44h.9v.9h-.9zM226.18 137.09h.9v.9h-.9zM223.83 136.11h.9v.9h-.9zM231.26 133.45h.9v.9h-.9zM229.47 137.8h.9v.9h-.9zM232.67 145.37h.9v.9h-.9zM230.44 135.65h.9v.9h-.9zM229.95 139.53h.9v.9h-.9zM233.91 144.62h.9v.9h-.9zM227.35 130.46h.9v.9h-.9zM228.92 135.05h.9v.9h-.9zM225.6 135.8h.9v.9h-.9zM228.39 139.22h.9v.9h-.9zM232.95 140.03h.9v.9h-.9zM241.06 146.96h.9v.9h-.9zM235.56 145h.9v.9h-.9zM235.62 131.49h.9v.9h-.9zM227.22 139.05h.9v.9h-.9zM233.31 155.24h.9v.9h-.9zM232.05 148.5h.9v.9h-.9zM234.05 148.28h.9v.9h-.9zM232.9 141.38h.9v.9h-.9zM232.89 136.37h.9v.9h-.9zM235.92 139.1h.9v.9h-.9zM231.72 152.8h.9v.9h-.9zM229.59 139.71h.9v.9h-.9zM235.83 144.7h.9v.9h-.9zM226.97 138.91h.9v.9h-.9zM233.22 146.34h.9v.9h-.9zM227.12 147.15h.9v.9h-.9zM238.1 146.46h.9v.9h-.9zM231.81 139.03h.9v.9h-.9zM236.96 141.63h.9v.9h-.9zM233.63 140.21h.9v.9h-.9zM227.48 141.82h.9v.9h-.9zM236.6 145.11h.9v.9h-.9zM227.55 142.38h.9v.9h-.9zM230.38 141.91h.9v.9h-.9zM237.45 151.99h.9v.9h-.9zM228.26 150.94h.9v.9h-.9zM230.62 144.68h.9v.9h-.9zM227.69 137.84h.9v.9h-.9zM222.73 143.84h.9v.9h-.9zM236.75 138.69h.9v.9h-.9zM223.83 126.22h.9v.9h-.9zM235.89 142.11h.9v.9h-.9zM230.33 138.49h.9v.9h-.9zM230.05 134.06h.9v.9h-.9zM230.71 132.68h.9v.9h-.9zM230.28 141.82h.9v.9h-.9zM232.7 140.81h.9v.9h-.9zM226.53 138.04h.9v.9h-.9zM228.42 147.17h.9v.9h-.9zM234.05 142.52h.9v.9h-.9zM228.48 134.9h.9v.9h-.9zM226.38 135.13h.9v.9h-.9zM231.93 144.25h.9v.9h-.9zM233.16 153.83h.9v.9h-.9zM227.43 137.95h.9v.9h-.9zM243.18 140.26h.9v.9h-.9zM228.25 139.46h.9v.9h-.9zM231.29 143.17h.9v.9h-.9zM229.53 141.53h.9v.9h-.9zM230.84 144.78h.9v.9h-.9zM222.08 128.83h.9v.9h-.9zM230.59 134.79h.9v.9h-.9zM253.08 153.81h.9v.9h-.9zM237.33 149.56h.9v.9h-.9zM223.74 154.2h.9v.9h-.9zM237.8 150.33h.9v.9h-.9zM247.78 147.68h.9v.9h-.9zM247.31 150.35h.9v.9h-.9zM228.99 150.98h.9v.9h-.9zM253.16 146.66h.9v.9h-.9zM250.06 150.82h.9v.9h-.9zM247.4 151.28h.9v.9h-.9zM254.03 149.95h.9v.9h-.9zM250.59 149.58h.9v.9h-.9zM249.42 148.77h.9v.9h-.9zM242.73 153.86h.9v.9h-.9zM247.16 150.08h.9v.9h-.9zM234.44 148.82h.9v.9h-.9zM245.15 152.28h.9v.9h-.9zM247.01 151.45h.9v.9h-.9zM243.27 153.1h.9v.9h-.9zM240.47 149.3h.9v.9h-.9zM250.7 150.53h.9v.9h-.9zM241.37 149.25h.9v.9h-.9zM241.54 151.65h.9v.9h-.9zM246.43 147.98h.9v.9h-.9zM247.01 150.76h.9v.9h-.9zM235.6 151.95h.9v.9h-.9zM241.36 149.73h.9v.9h-.9zM249.97 153.04h.9v.9h-.9zM238.09 151.28h.9v.9h-.9zM236.59 155.03h.9v.9h-.9zM239.65 152.79h.9v.9h-.9zM238.42 152.02h.9v.9h-.9zM261.35 145.32h.9v.9h-.9zM240.12 151.4h.9v.9h-.9zM242.86 149.06h.9v.9h-.9zM260.82 150.56h.9v.9h-.9zM230.44 152.11h.9v.9h-.9zM229.83 152.7h.9v.9h-.9zM238.98 150.69h.9v.9h-.9zM253.69 150.64h.9v.9h-.9zM240.13 147.6h.9v.9h-.9zM234.93 149.01h.9v.9h-.9zM236.32 150.85h.9v.9h-.9zM236.74 146.51h.9v.9h-.9zM238.67 146h.9v.9h-.9zM240.2 145.14h.9v.9h-.9zM241.03 146.82h.9v.9h-.9zM240.1 138.54h.9v.9h-.9zM242 146.89h.9v.9h-.9zM236.12 147.09h.9v.9h-.9zM242.2 149.81h.9v.9h-.9zM239.1 151.24h.9v.9h-.9zM240.94 153.78h.9v.9h-.9zM240.97 148.64h.9v.9h-.9zM240.53 143.25h.9v.9h-.9zM245.04 149.12h.9v.9h-.9zM245.92 148.97h.9v.9h-.9zM241.7 141.41h.9v.9h-.9zM241.54 144.37h.9v.9h-.9zM241.21 148.14h.9v.9h-.9zM245.07 145.31h.9v.9h-.9zM244.76 145.69h.9v.9h-.9zM244.84 148.38h.9v.9h-.9zM246.33 144.07h.9v.9h-.9zM241.4 150.41h.9v.9h-.9zM246.2 149.1h.9v.9h-.9zM242.69 144.8h.9v.9h-.9zM246.03 141.46h.9v.9h-.9zM244.94 147.96h.9v.9h-.9zM248.13 150.57h.9v.9h-.9zM245.8 141.24h.9v.9h-.9zM248.57 148.27h.9v.9h-.9zM247.92 141.54h.9v.9h-.9zM249.09 147.83h.9v.9h-.9zM248.64 143.99h.9v.9h-.9zM249.7 147.48h.9v.9h-.9zM247.97 139.58h.9v.9h-.9zM249.74 146.55h.9v.9h-.9zM249.11 147.78h.9v.9h-.9zM247.91 144.86h.9v.9h-.9zM250.02 146.43h.9v.9h-.9zM253.82 143.96h.9v.9h-.9zM254.74 149.3h.9v.9h-.9zM252.21 146.47h.9v.9h-.9zM254.17 144.17h.9v.9h-.9zM251.94 141.09h.9v.9h-.9zM253.11 148.32h.9v.9h-.9zM253.23 145.55h.9v.9h-.9zM251.76 144.79h.9v.9h-.9zM249.32 147.43h.9v.9h-.9zM252.88 140.54h.9v.9h-.9zM252.2 141.38h.9v.9h-.9zM255.41 147.03h.9v.9h-.9zM250.98 146.63h.9v.9h-.9zM255.48 142.11h.9v.9h-.9zM252.23 141.09h.9v.9h-.9zM253.93 144.35h.9v.9h-.9zM254.48 137.24h.9v.9h-.9zM255.67 138.72h.9v.9h-.9zM257.01 139.71h.9v.9h-.9zM255.26 140.1h.9v.9h-.9zM255.56 146.56h.9v.9h-.9zM258.35 144.47h.9v.9h-.9zM257.29 138.02h.9v.9h-.9zM255.61 141.01h.9v.9h-.9zM256.15 143.53h.9v.9h-.9zM256.62 139.87h.9v.9h-.9zM256.01 135.83h.9v.9h-.9zM259.29 145.99h.9v.9h-.9zM258.45 139.07h.9v.9h-.9z"/>
<path fill="#111" fill-opacity="0.25" d="M223.2 141.79h.9v.9h-.9zM226.75 141.84h.9v.9h-.9zM239.31 139.55h.9v.9h-.9zM237.17 136.67h.9v.9h-.9zM219.92 137.19h.9v.9h-.9zM236.69 133.69h.9v.9h-.9zM231.7 142.64h.9v.9h-.9zM224.7 141.88h.9v.9h-.9zM249.36 133.52h.9v.9h-.9zM233.92 136.35h.9v.9h-.9zM246.46 139.61h.9v.9h-.9zM240.68 132.57h.9v.9h-.9zM232.45 137.33h.9v.9h-.9zM239.3 136.48h.9v.9h-.9zM236.64 139.97h.9v.9h-.9zM246.03 133.38h.9v.9h-.9zM223.39 127.88h.9v.9h-.9zM221.61 139.75h.9v.9h-.9zM247.83 140.41h.9v.9h-.9zM234.81 153.04h.9v.9h-.9zM227.93 132.68h.9v.9h-.9zM237.36 141.24h.9v.9h-.9zM223.47 129.21h.9v.9h-.9zM235.22 139.13h.9v.9h-.9zM220.84 135.98h.9v.9h-.9zM227.72 140.62h.9v.9h-.9zM231.55 136.8h.9v.9h-.9zM229.42 144.77h.9v.9h-.9zM245.12 134.83h.9v.9h-.9zM240.21 132.1h.9v.9h-.9zM233.25 142.65h.9v.9h-.9zM246.23 134.72h.9v.9h-.9zM231.93 138.77h.9v.9h-.9zM226.52 140h.9v.9h-.9zM232.94 139.22h.9v.9h-.9zM227.66 143.62h.9v.9h-.9zM230.14 133.16h.9v.9h-.9zM236.9 126.42h.9v.9h-.9zM226.5 137.25h.9v.9h-.9zM240.24 136.26h.9v.9h-.9zM235.38 132.81h.9v.9h-.9zM235.32 149.04h.9v.9h-.9zM226.42 153.96h.9v.9h-.9zM226.81 137.52h.9v.9h-.9zM234.16 144.57h.9v.9h-.9zM238.05 142.97h.9v.9h-.9zM238.21 155.81h.9v.9h-.9zM234.44 139.18h.9v.9h-.9zM240.96 139.98h.9v.9h-.9zM247.57 128.73h.9v.9h-.9zM239.91 134.79h.9v.9h-.9zM240.92 152.48h.9v.9h-.9zM232.55 135.62h.9v.9h-.9zM245.6 130.21h.9v.9h-.9zM244.3 137.6h.9v.9h-.9zM250.97 134.73h.9v.9h-.9zM248.87 138.97h.9v.9h-.9zM255.54 133.69h.9v.9h-.9zM257.25 133.64h.9v.9h-.9zM239.07 141.68h.9v.9h-.9zM255.25 129.61h.9v.9h-.9zM261.39 136.12h.9v.9h-.9zM234.96 142.45h.9v.9h-.9zM253.93 138.86h.9v.9h-.9zM252.58 133.65h.9v.9h-.9zM235.12 139.26h.9v.9h-.9zM250.9 132.97h.9v.9h-.9zM254.11 134.79h.9v.9h-.9zM257.36 132.54h.9v.9h-.9zM246.37 137.78h.9v.9h-.9zM263.97 132.58h.9v.9h-.9zM249.39 142.32h.9v.9h-.9zM247.34 138.07h.9v.9h-.9zM267.38 134.6h.9v.9h-.9zM262.87 130.85h.9v.9h-.9zM252.68 134.01h.9v.9h-.9zM251.75 140.05h.9v.9h-.9zM274.5 131.07h.9v.9h-.9zM244.85 136.89h.9v.9h-.9zM240.05 136.89h.9v.9h-.9zM256.32 133.01h.9v.9h-.9zM255.91 126.65h.9v.9h-.9zM258.2 126.68h.9v.9h-.9zM243.64 131.62h.9v.9h-.9zM246.59 138.69h.9v.9h-.9zM251.42 132.41h.9v.9h-.9zM256.03 142.31h.9v.9h-.9zM250.66 136.23h.9v.9h-.9zM263 135.74h.9v.9h-.9zM237.76 146.85h.9v.9h-.9zM250.21 136.49h.9v.9h-.9zM260.26 137.75h.9v.9h-.9zM247.88 129.13h.9v.9h-.9zM251.63 139.57h.9v.9h-.9zM239.7 129.26h.9v.9h-.9zM248 132.22h.9v.9h-.9zM255.11 130.89h.9v.9h-.9zM241.78 132.43h.9v.9h-.9zM250.1 131.08h.9v.9h-.9zM250.72 138.15h.9v.9h-.9z"/>
<path fill="#111" fill-opacity="0.75" d="M236.43 144.63h.9v.9h-.9zM239.52 148.04h.9v.9h-.9zM237.12 148.2h.9v.9h-.9zM238.7 147.91h.9v.9h-.9zM235.39 146.58h.9v.9h-.9zM239.18 148.03h.9v.9h-.9zM239.16 143.56h.9v.9h-.9zM238.3 147.69h.9v.9h-.9zM241.16 145.66h.9v.9h-.9zM237.7 147.05h.9v.9h-.9zM239.16 146.38h.9v.9h-.9zM241.06 145.7h.9v.9h-.9zM240 146.06h.9v.9h-.9zM239.87 145.83h.9v.9h-.9zM237.76 148.33h.9v.9h-.9zM240.05 146.02h.9v.9h-.9zM239.92 148.18h.9v.9h-.9zM238.51 146.64h.9v.9h-.9zM240.33 147.54h.9v.9h-.9zM239.28 143.85h.9v.9h-.9zM241.17 147.26h.9v.9h-.9zM239.7 146.41h.9v.9h-.9zM241.58 146h.9v.9h-.9zM240.03 145.56h.9v.9h-.9zM240.55 145.74h.9v.9h-.9zM239.87 147.49h.9v.9h-.9zM239.69 147.52h.9v.9h-.9zM240.05 147.09h.9v.9h-.9zM242.91 146.88h.9v.9h-.9zM240.39 146.67h.9v.9h-.9zM241.44 144.17h.9v.9h-.9zM240.53 146.83h.9v.9h-.9zM240.7 146.71h.9v.9h-.9zM243.73 147.47h.9v.9h-.9zM243.93 147.22h.9v.9h-.9zM242.5 146.37h.9v.9h-.9zM242.52 145.96h.9v.9h-.9zM242.63 143.98h.9v.9h-.9zM242.44 146.36h.9v.9h-.9zM241.68 146.36h.9v.9h-.9zM243.46 146.17h.9v.9h-.9zM245.34 142.75h.9v.9h-.9zM242.6 143.84h.9v.9h-.9zM244.02 150.11h.9v.9h-.9zM241.41 146.3h.9v.9h-.9zM245.04 145.7h.9v.9h-.9zM245.08 142.98h.9v.9h-.9zM245.44 146.64h.9v.9h-.9zM244.44 145.3h.9v.9h-.9zM245.18 145.44h.9v.9h-.9zM244.68 145.41h.9v.9h-.9zM241.72 146.08h.9v.9h-.9zM244.66 147.18h.9v.9h-.9zM243.36 146.08h.9v.9h-.9zM245.15 146.33h.9v.9h-.9zM247.46 148.57h.9v.9h-.9zM244.88 143.1h.9v.9h-.9zM247 147.93h.9v.9h-.9zM247.08 146.93h.9v.9h-.9zM245.23 144.79h.9v.9h-.9zM247.04 144.51h.9v.9h-.9zM243.8 144.39h.9v.9h-.9zM248.96 148.48h.9v.9h-.9zM245.15 144.77h.9v.9h-.9zM246.25 144.74h.9v.9h-.9zM247.54 145.68h.9v.9h-.9zM246.23 147.28h.9v.9h-.9zM246.83 145.76h.9v.9h-.9zM247.51 145.01h.9v.9h-.9zM247.92 144.48h.9v.9h-.9zM245.32 142.36h.9v.9h-.9zM246.01 144.39h.9v.9h-.9zM247.5 145.53h.9v.9h-.9zM248.2 145.62h.9v.9h-.9zM246.58 144.46h.9v.9h-.9zM244.99 145.21h.9v.9h-.9zM248.11 146.19h.9v.9h-.9zM248.94 144.87h.9v.9h-.9zM250.21 145.13h.9v.9h-.9zM249.97 145.93h.9v.9h-.9zM249.34 146.94h.9v.9h-.9zM248.4 144.61h.9v.9h-.9zM248.12 143.99h.9v.9h-.9zM250.95 147.57h.9v.9h-.9zM249.12 145.91h.9v.9h-.9zM250.5 146.24h.9v.9h-.9zM250.53 143.34h.9v.9h-.9zM248.32 145.74h.9v.9h-.9zM252.35 144.86h.9v.9h-.9zM249.6 144.22h.9v.9h-.9zM249.84 143.51h.9v.9h-.9zM252.43 143.84h.9v.9h-.9zM250.65 147.74h.9v.9h-.9zM252.05 145.18h.9v.9h-.9zM249.9 145.29h.9v.9h-.9zM252.58 145.58h.9v.9h-.9zM252.14 144.85h.9v.9h-.9zM251.25 144.43h.9v.9h-.9zM251.14 146.53h.9v.9h-.9zM250.45 144.19h.9v.9h-.9zM252.45 143.48h.9v.9h-.9zM251.8 145.38h.9v.9h-.9zM254.57 145.16h.9v.9h-.9zM252.56 142.11h.9v.9h-.9zM254.48 144.39h.9v.9h-.9zM252.12 142.72h.9v.9h-.9zM252.1 142.75h.9v.9h-.9zM252.25 144.93h.9v.9h-.9zM252.2 144.67h.9v.9h-.9zM251.14 146.28h.9v.9h-.9zM252.92 141.31h.9v.9h-.9zM253.48 142.78h.9v.9h-.9zM252.49 143.36h.9v.9h-.9zM254.05 142.2h.9v.9h-.9zM253.54 145.85h.9v.9h-.9zM254.52 143.64h.9v.9h-.9zM253.85 143.68h.9v.9h-.9zM253.64 144.88h.9v.9h-.9zM253.59 140.49h.9v.9h-.9zM253.67 142.61h.9v.9h-.9zM254.48 143h.9v.9h-.9zM255.38 146.37h.9v.9h-.9zM253.94 141.75h.9v.9h-.9zM253.51 139.97h.9v.9h-.9zM252.95 143.84h.9v.9h-.9zM254.43 140.71h.9v.9h-.9zM253.42 144.19h.9v.9h-.9zM254.27 142.81h.9v.9h-.9zM255.6 145.22h.9v.9h-.9zM257.53 144.77h.9v.9h-.9zM255.37 143.58h.9v.9h-.9zM257.36 145.33h.9v.9h-.9zM256.28 143.3h.9v.9h-.9zM256.99 142.74h.9v.9h-.9zM256.05 140.81h.9v.9h-.9zM256.01 140.5h.9v.9h-.9zM258.12 143.41h.9v.9h-.9zM255.2 144.62h.9v.9h-.9zM257.72 139.99h.9v.9h-.9zM258.86 143.8h.9v.9h-.9zM259.13 140.94h.9v.9h-.9zM257.29 143.26h.9v.9h-.9zM256.89 142.9h.9v.9h-.9zM259.36 139.91h.9v.9h-.9zM256.61 140.05h.9v.9h-.9zM257.43 141.15h.9v.9h-.9zM258.54 142.37h.9v.9h-.9zM258.14 141.05h.9v.9h-.9zM257.57 143.33h.9v.9h-.9zM259.02 142.14h.9v.9h-.9zM257.71 144.17h.9v.9h-.9zM257.39 142.91h.9v.9h-.9zM259.48 141.63h.9v.9h-.9zM259.09 140.44h.9v.9h-.9z"/>
<text x="255.1" y="137.4" font-size="3.8" fill="#e8506e">R4</text>
<text x="256.6" y="141.4" font-size="3.8" fill="#e8506e">4.1%</text>
<path d="M218.7 125.4H276.7V183.3H218.7" fill="none" stroke="#7c7ce6" stroke-width="0.8"/>
<line x1="240.6" y1="125.4" x2="240.6" y2="183.3" stroke="#f28aa4" stroke-width="0.8"/>
<line x1="218.7" y1="157.7" x2="276.7" y2="157.7" stroke="#f28aa4" stroke-width="0.8"/>
<path d="M230.7 125.4V134.9H253.3V125.4" fill="none" stroke="#e8728f" stroke-width="0.76"/>
<path fill="#111" fill-opacity="0.8" d="M306.32 136.21h.9v.9h-.9zM308.49 133.52h.9v.9h-.9zM307.15 132.13h.9v.9h-.9zM307.26 131.39h.9v.9h-.9zM303.11 129.76h.9v.9h-.9zM301.84 132.04h.9v.9h-.9zM307.21 134.75h.9v.9h-.9zM307.05 132.14h.9v.9h-.9zM307.54 131.59h.9v.9h-.9zM299.79 133.65h.9v.9h-.9zM304.13 132.04h.9v.9h-.9zM304.71 137.27h.9v.9h-.9zM309.05 132.42h.9v.9h-.9zM302.04 133.35h.9v.9h-.9zM302.77 133.87h.9v.9h-.9zM300.86 131.44h.9v.9h-.9zM308.42 129.94h.9v.9h-.9zM305.89 131.94h.9v.9h-.9zM308.48 130.67h.9v.9h-.9zM307.7 135.71h.9v.9h-.9zM300.94 129.94h.9v.9h-.9zM307 130.34h.9v.9h-.9zM301.38 134.45h.9v.9h-.9zM308.57 133.82h.9v.9h-.9zM308.96 133.07h.9v.9h-.9zM307.17 129.53h.9v.9h-.9zM305.75 132.43h.9v.9h-.9zM301.68 130.99h.9v.9h-.9zM311.04 133.18h.9v.9h-.9zM300.54 131.26h.9v.9h-.9zM305.62 132.8h.9v.9h-.9zM307.94 131.53h.9v.9h-.9zM304.87 133.38h.9v.9h-.9zM301.13 133.92h.9v.9h-.9zM306.65 130.66h.9v.9h-.9zM303.76 132.09h.9v.9h-.9zM306.73 134.49h.9v.9h-.9zM305.05 131.69h.9v.9h-.9zM305.45 129.67h.9v.9h-.9zM306.74 133.18h.9v.9h-.9zM305.55 133.34h.9v.9h-.9zM302.26 132.06h.9v.9h-.9zM303.1 130.57h.9v.9h-.9zM306.25 131.85h.9v.9h-.9zM308.05 132.83h.9v.9h-.9zM301.72 134.06h.9v.9h-.9zM300.49 131.31h.9v.9h-.9zM306.27 131.31h.9v.9h-.9zM306.84 131.51h.9v.9h-.9zM302.24 133.03h.9v.9h-.9zM305.09 129.63h.9v.9h-.9zM305.42 131.37h.9v.9h-.9zM306.26 130.28h.9v.9h-.9zM305.75 131.05h.9v.9h-.9zM310.14 130.7h.9v.9h-.9zM309.14 131.25h.9v.9h-.9zM308.68 135.92h.9v.9h-.9zM304.03 131.68h.9v.9h-.9zM302.43 130.03h.9v.9h-.9zM303.49 131.58h.9v.9h-.9zM308.05 133.14h.9v.9h-.9zM303.71 131.69h.9v.9h-.9zM300.72 132.53h.9v.9h-.9zM304.47 129.31h.9v.9h-.9zM302.97 132.51h.9v.9h-.9zM305.5 132.65h.9v.9h-.9zM303.85 131.7h.9v.9h-.9zM304.47 128.45h.9v.9h-.9zM304.71 131.14h.9v.9h-.9zM303.1 132.92h.9v.9h-.9zM311.75 134.16h.9v.9h-.9zM305.33 129.16h.9v.9h-.9zM304.64 130.18h.9v.9h-.9zM305.67 133.7h.9v.9h-.9zM305.04 128.66h.9v.9h-.9zM309.33 131.51h.9v.9h-.9zM309.36 129.7h.9v.9h-.9zM312.82 129.04h.9v.9h-.9zM305.61 132.97h.9v.9h-.9zM297.33 129.87h.9v.9h-.9zM300.33 134.71h.9v.9h-.9zM307.33 129.55h.9v.9h-.9zM299.88 128.03h.9v.9h-.9zM305.72 129.84h.9v.9h-.9zM306.32 130.37h.9v.9h-.9zM300.02 134.9h.9v.9h-.9zM306.69 130.05h.9v.9h-.9zM304.16 133.93h.9v.9h-.9zM307.7 128.99h.9v.9h-.9zM309.66 130.2h.9v.9h-.9zM306.96 129.06h.9v.9h-.9zM303.15 132.93h.9v.9h-.9zM301.53 131.55h.9v.9h-.9zM306.45 130.12h.9v.9h-.9zM309.63 132.69h.9v.9h-.9zM304.79 133.37h.9v.9h-.9zM309.38 133.8h.9v.9h-.9zM304.83 132.96h.9v.9h-.9zM306.39 129.28h.9v.9h-.9zM304.13 135.32h.9v.9h-.9zM302.78 132.35h.9v.9h-.9zM310.38 130.68h.9v.9h-.9zM305.16 129.96h.9v.9h-.9zM306.77 129.04h.9v.9h-.9zM306.58 129.8h.9v.9h-.9zM306.22 128.09h.9v.9h-.9zM301.87 133.19h.9v.9h-.9zM309.83 129.8h.9v.9h-.9zM307.89 133.38h.9v.9h-.9zM304.69 130.66h.9v.9h-.9zM299.32 132.29h.9v.9h-.9zM310.86 128.98h.9v.9h-.9zM308.62 132.83h.9v.9h-.9zM308.09 129.33h.9v.9h-.9zM304.84 131.88h.9v.9h-.9zM310.4 129.58h.9v.9h-.9zM303.57 129.91h.9v.9h-.9zM307.81 128.33h.9v.9h-.9zM304.56 128.86h.9v.9h-.9zM304.14 132.85h.9v.9h-.9zM303.53 132.72h.9v.9h-.9zM303.74 131.28h.9v.9h-.9zM304.7 129.67h.9v.9h-.9zM306.44 132.63h.9v.9h-.9zM302.75 132.69h.9v.9h-.9zM305.48 130.55h.9v.9h-.9zM305.63 132.96h.9v.9h-.9z"/>
<path fill="#111" fill-opacity="0.45" d="M311.27 134.77h.9v.9h-.9zM308.58 131.43h.9v.9h-.9zM298.77 129.44h.9v.9h-.9zM310.4 127.93h.9v.9h-.9zM301.93 135.66h.9v.9h-.9zM306.65 127.94h.9v.9h-.9zM295.29 128.55h.9v.9h-.9zM319.93 130.8h.9v.9h-.9zM310.49 132.61h.9v.9h-.9zM304.4 131.77h.9v.9h-.9zM307.35 129.98h.9v.9h-.9zM312.75 128.66h.9v.9h-.9zM302.9 129.14h.9v.9h-.9zM313.86 129.57h.9v.9h-.9zM317.11 127.34h.9v.9h-.9zM301.96 131.06h.9v.9h-.9zM310.95 128.25h.9v.9h-.9zM304.2 134.56h.9v.9h-.9zM304.36 131.11h.9v.9h-.9zM310.6 128.29h.9v.9h-.9zM313.89 130.33h.9v.9h-.9zM311.39 130.07h.9v.9h-.9zM308.56 134.01h.9v.9h-.9zM305.5 129.83h.9v.9h-.9zM306.05 131.33h.9v.9h-.9zM298.05 135.42h.9v.9h-.9zM302.32 134.2h.9v.9h-.9zM304.99 129.9h.9v.9h-.9zM306.35 129.92h.9v.9h-.9zM310.09 134.04h.9v.9h-.9zM317.09 135.72h.9v.9h-.9zM300.28 132.55h.9v.9h-.9zM309.77 130.63h.9v.9h-.9zM308.76 130.9h.9v.9h-.9zM300.74 128.64h.9v.9h-.9zM312.36 130.68h.9v.9h-.9zM314.73 129.66h.9v.9h-.9zM303.88 131.13h.9v.9h-.9zM307.67 133.37h.9v.9h-.9zM304.18 132.96h.9v.9h-.9zM309.1 128.55h.9v.9h-.9zM306.13 130.37h.9v.9h-.9zM312.69 134.06h.9v.9h-.9zM310.88 129.47h.9v.9h-.9zM311.12 131.28h.9v.9h-.9zM303.84 132.81h.9v.9h-.9zM302.88 130.07h.9v.9h-.9zM301.38 127.26h.9v.9h-.9zM303.51 129.88h.9v.9h-.9zM309.67 129.1h.9v.9h-.9zM311.02 128.72h.9v.9h-.9zM302.75 128.68h.9v.9h-.9zM304.35 128.95h.9v.9h-.9zM299.28 128.89h.9v.9h-.9zM302.4 133.59h.9v.9h-.9zM301.23 131.69h.9v.9h-.9zM302.05 133.08h.9v.9h-.9zM306.34 129.35h.9v.9h-.9zM313.42 134.75h.9v.9h-.9zM315.49 133.34h.9v.9h-.9zM307.42 129.08h.9v.9h-.9zM304.44 129.4h.9v.9h-.9zM309.88 129.73h.9v.9h-.9zM308.32 131.37h.9v.9h-.9zM306.45 129.14h.9v.9h-.9zM301.26 137.47h.9v.9h-.9z"/>
<path fill="#111" fill-opacity="0.3" d="M292.48 133.29h.9v.9h-.9zM306.41 148.61h.9v.9h-.9zM293.99 147.43h.9v.9h-.9zM289.69 140.75h.9v.9h-.9zM310.82 151.47h.9v.9h-.9zM302.64 148.6h.9v.9h-.9zM302.13 141.33h.9v.9h-.9zM299.71 145.04h.9v.9h-.9zM296.09 135.41h.9v.9h-.9zM292.81 132.56h.9v.9h-.9zM298.07 149.65h.9v.9h-.9zM298.54 142.89h.9v.9h-.9zM302.99 147.67h.9v.9h-.9zM297.13 136.89h.9v.9h-.9zM292.69 142.05h.9v.9h-.9zM297.75 147.62h.9v.9h-.9zM294.53 135.15h.9v.9h-.9zM299.98 150.87h.9v.9h-.9zM297.32 137.35h.9v.9h-.9zM300.52 135.83h.9v.9h-.9zM303.43 138.53h.9v.9h-.9zM291.07 136.04h.9v.9h-.9zM295.62 146.61h.9v.9h-.9zM301.8 146.74h.9v.9h-.9zM288.84 133.53h.9v.9h-.9zM294.22 127.36h.9v.9h-.9zM306.35 137.31h.9v.9h-.9zM293.59 132.68h.9v.9h-.9zM295.08 139.67h.9v.9h-.9zM299.98 135.68h.9v.9h-.9zM299.96 146.21h.9v.9h-.9zM299.51 150.99h.9v.9h-.9zM295.73 137.35h.9v.9h-.9zM295.99 133.18h.9v.9h-.9zM297.69 146.85h.9v.9h-.9zM300.68 143.23h.9v.9h-.9zM298.71 149.06h.9v.9h-.9zM303.64 135.37h.9v.9h-.9zM291.99 141.97h.9v.9h-.9zM301.47 147.63h.9v.9h-.9zM302.34 138.41h.9v.9h-.9zM292.46 139.25h.9v.9h-.9zM292.55 137.45h.9v.9h-.9zM307.35 138.82h.9v.9h-.9zM300.52 151.91h.9v.9h-.9zM303.98 143.47h.9v.9h-.9zM293.86 137.93h.9v.9h-.9zM292.3 137.43h.9v.9h-.9zM296.51 138.33h.9v.9h-.9zM301.82 144.24h.9v.9h-.9zM295.34 138.07h.9v.9h-.9zM297 138.87h.9v.9h-.9zM295.93 144.2h.9v.9h-.9zM296.2 145.6h.9v.9h-.9zM301.05 148.95h.9v.9h-.9zM299.99 135.49h.9v.9h-.9zM309.03 147.52h.9v.9h-.9zM293.2 138.28h.9v.9h-.9zM298.93 130.84h.9v.9h-.9zM291.74 134.22h.9v.9h-.9zM296.23 133.76h.9v.9h-.9zM293.65 137.5h.9v.9h-.9zM293.36 139.5h.9v.9h-.9zM299.06 139.06h.9v.9h-.9zM305.74 155.68h.9v.9h-.9zM291.26 135.35h.9v.9h-.9zM304.54 141.96h.9v.9h-.9zM288.06 127.92h.9v.9h-.9zM294.72 134.48h.9v.9h-.9zM299.29 145.18h.9v.9h-.9zM300.72 132.25h.9v.9h-.9zM294.76 143.88h.9v.9h-.9zM295.53 132.6h.9v.9h-.9zM296.63 151.95h.9v.9h-.9zM291.45 133.29h.9v.9h-.9zM296.38 134.55h.9v.9h-.9zM297.32 137.34h.9v.9h-.9zM291.96 134.11h.9v.9h-.9zM295.63 136.08h.9v.9h-.9zM299.07 144.37h.9v.9h-.9zM300.25 145.46h.9v.9h-.9zM292.39 137.43h.9v.9h-.9zM296.88 134.75h.9v.9h-.9zM298.32 140.17h.9v.9h-.9zM296.89 142.59h.9v.9h-.9zM292.36 136.03h.9v.9h-.9zM293.98 135.11h.9v.9h-.9zM295.49 142.81h.9v.9h-.9zM300.52 145.44h.9v.9h-.9zM292.39 137.38h.9v.9h-.9zM305.22 153.16h.9v.9h-.9zM300.5 143.72h.9v.9h-.9zM294.36 139.92h.9v.9h-.9zM291.37 134.93h.9v.9h-.9zM291.67 130.87h.9v.9h-.9zM291.56 137.65h.9v.9h-.9zM296.17 141.17h.9v.9h-.9zM300.75 144.97h.9v.9h-.9zM294.81 140.21h.9v.9h-.9zM292 133.48h.9v.9h-.9zM300.44 141.68h.9v.9h-.9zM298.41 141.5h.9v.9h-.9zM308.2 139.28h.9v.9h-.9zM292.87 144.45h.9v.9h-.9zM292.42 136.58h.9v.9h-.9zM304.9 136.62h.9v.9h-.9zM297.22 144.25h.9v.9h-.9zM310.79 151.47h.9v.9h-.9zM296.56 153.19h.9v.9h-.9zM307.86 150.23h.9v.9h-.9zM324.37 153.96h.9v.9h-.9zM320.92 152.72h.9v.9h-.9zM307.01 150.68h.9v.9h-.9zM296.32 152.83h.9v.9h-.9zM314.36 151.39h.9v.9h-.9zM317.29 151.7h.9v.9h-.9zM328.66 152.83h.9v.9h-.9zM317.9 152.33h.9v.9h-.9zM316.76 149.65h.9v.9h-.9zM311.5 152.11h.9v.9h-.9zM312.21 153.1h.9v.9h-.9zM316.09 149.65h.9v.9h-.9zM305.29 150.89h.9v.9h-.9zM295.85 153.91h.9v.9h-.9zM320.56 153.45h.9v.9h-.9zM307.97 153.32h.9v.9h-.9zM309.82 149.58h.9v.9h-.9zM301.97 151.56h.9v.9h-.9zM308.08 151.48h.9v.9h-.9zM305.09 152.62h.9v.9h-.9zM305.44 152.2h.9v.9h-.9zM298.73 152.44h.9v.9h-.9zM314.03 151.75h.9v.9h-.9zM300.95 150.83h.9v.9h-.9zM311.83 150.91h.9v.9h-.9zM322.12 151.56h.9v.9h-.9zM313.21 153.68h.9v.9h-.9zM310.27 152.22h.9v.9h-.9zM304.74 150.75h.9v.9h-.9zM295.12 151.73h.9v.9h-.9zM296.58 152.59h.9v.9h-.9zM309.86 152.62h.9v.9h-.9zM305.7 152.37h.9v.9h-.9zM310.62 150.4h.9v.9h-.9zM310.26 150.01h.9v.9h-.9zM306.52 152.16h.9v.9h-.9zM313.89 152.26h.9v.9h-.9zM307.39 145.4h.9v.9h-.9zM308.34 150.03h.9v.9h-.9zM304.65 144.93h.9v.9h-.9zM308.6 154h.9v.9h-.9zM309.44 150.39h.9v.9h-.9zM307.93 149.03h.9v.9h-.9zM306.87 147.59h.9v.9h-.9zM307.87 144.82h.9v.9h-.9zM307.52 149.48h.9v.9h-.9zM307.98 145.99h.9v.9h-.9zM309.27 144.21h.9v.9h-.9zM306.39 140.16h.9v.9h-.9zM309.59 147.31h.9v.9h-.9zM308.44 151.14h.9v.9h-.9zM309.6 149.27h.9v.9h-.9zM314.94 145.82h.9v.9h-.9zM312.33 145.98h.9v.9h-.9zM310.38 144.08h.9v.9h-.9zM309.89 141.15h.9v.9h-.9zM309.72 143.52h.9v.9h-.9zM310.82 142.61h.9v.9h-.9zM314.21 150.4h.9v.9h-.9zM315.33 150.55h.9v.9h-.9zM312.1 147.44h.9v.9h-.9zM315.29 146.82h.9v.9h-.9zM316.01 147.48h.9v.9h-.9zM317.11 147.41h.9v.9h-.9zM314.46 145.66h.9v.9h-.9zM311.98 143.34h.9v.9h-.9zM309.26 143.42h.9v.9h-.9zM314.16 151.89h.9v.9h-.9zM314.37 145.46h.9v.9h-.9zM315.6 147.35h.9v.9h-.9zM315.88 143.87h.9v.9h-.9zM312.82 143.27h.9v.9h-.9zM317.23 150.15h.9v.9h-.9zM316.44 142.93h.9v.9h-.9zM317.78 142.7h.9v.9h-.9zM317.88 146.84h.9v.9h-.9zM319.3 149.63h.9v.9h-.9zM317.83 145.55h.9v.9h-.9zM319.22 145.44h.9v.9h-.9zM317.02 143.72h.9v.9h-.9zM321 142.98h.9v.9h-.9zM319.72 143.82h.9v.9h-.9zM317.1 144.36h.9v.9h-.9zM318.26 148.87h.9v.9h-.9zM318.93 146.77h.9v.9h-.9zM320.07 149.87h.9v.9h-.9zM321.08 145.3h.9v.9h-.9zM322.26 146.23h.9v.9h-.9zM323.23 148.28h.9v.9h-.9zM319.25 143.42h.9v.9h-.9zM324.82 149.33h.9v.9h-.9zM323.25 150.09h.9v.9h-.9zM321.76 147.07h.9v.9h-.9zM325.99 139.21h.9v.9h-.9zM322.98 144.6h.9v.9h-.9zM322.48 149.25h.9v.9h-.9zM325.41 139.14h.9v.9h-.9zM324.32 143.92h.9v.9h-.9zM324.81 147.5h.9v.9h-.9zM326.43 146.48h.9v.9h-.9zM324.02 148.88h.9v.9h-.9zM322.65 145.31h.9v.9h-.9z"/>
<path fill="#111" fill-opacity="0.25" d="M310.62 133.69h.9v.9h-.9zM305.39 135.54h.9v.9h-.9zM303.3 135.05h.9v.9h-.9zM304.69 143h.9v.9h-.9zM308.2 135.35h.9v.9h-.9zM293.28 140.52h.9v.9h-.9zM308.87 141.82h.9v.9h-.9zM292.08 138.52h.9v.9h-.9zM299.26 132.42h.9v.9h-.9zM319.76 136.44h.9v.9h-.9zM296.53 136.86h.9v.9h-.9zM288.53 134.83h.9v.9h-.9zM294.63 132.44h.9v.9h-.9zM299.43 136.46h.9v.9h-.9zM291.48 131.35h.9v.9h-.9zM301.78 138.82h.9v.9h-.9zM299.48 135.23h.9v.9h-.9zM310.99 148.2h.9v.9h-.9zM288.17 149.49h.9v.9h-.9zM304.37 128.6h.9v.9h-.9zM297.84 140.65h.9v.9h-.9zM318.2 136.28h.9v.9h-.9zM309.52 134.26h.9v.9h-.9zM297.76 148.06h.9v.9h-.9zM295.07 140.62h.9v.9h-.9zM307.2 143.06h.9v.9h-.9zM304.44 142.84h.9v.9h-.9zM320.95 136.08h.9v.9h-.9zM308.32 132.88h.9v.9h-.9zM300.63 134.23h.9v.9h-.9zM294.88 134.11h.9v.9h-.9zM307.29 139.12h.9v.9h-.9zM305.45 130.86h.9v.9h-.9zM288.62 129.57h.9v.9h-.9zM298.81 142.1h.9v.9h-.9zM309.46 132.23h.9v.9h-.9zM313.9 140.23h.9v.9h-.9zM305.08 142.51h.9v.9h-.9zM297.98 128.13h.9v.9h-.9zM294.09 152.36h.9v.9h-.9zM306.75 144.22h.9v.9h-.9zM314.04 137.89h.9v.9h-.9zM292.32 132.09h.9v.9h-.9zM305.23 130.72h.9v.9h-.9zM314.9 135.31h.9v.9h-.9zM307.61 138.44h.9v.9h-.9zM303.57 136.09h.9v.9h-.9zM312.03 139.28h.9v.9h-.9zM312.49 136.12h.9v.9h-.9zM296.76 130.22h.9v.9h-.9zM308.3 129.7h.9v.9h-.9zM308.91 145.51h.9v.9h-.9zM326.79 136.8h.9v.9h-.9zM306.92 145.13h.9v.9h-.9zM319.99 140.18h.9v.9h-.9zM311.97 134.06h.9v.9h-.9zM310.17 136.62h.9v.9h-.9zM300.72 130.43h.9v.9h-.9zM301.65 135.87h.9v.9h-.9zM326.4 138.17h.9v.9h-.9zM308.99 144.77h.9v.9h-.9zM308.48 135.46h.9v.9h-.9zM326.91 127.5h.9v.9h-.9zM309.12 127.6h.9v.9h-.9zM309.02 133.52h.9v.9h-.9zM315.01 138.97h.9v.9h-.9zM312.07 140.44h.9v.9h-.9zM322.94 132.6h.9v.9h-.9zM312.16 137.85h.9v.9h-.9zM314.67 135.6h.9v.9h-.9zM304.04 128.51h.9v.9h-.9zM326.2 132.91h.9v.9h-.9zM326.1 142.47h.9v.9h-.9zM318.42 132.15h.9v.9h-.9zM332.02 138.17h.9v.9h-.9zM309.36 139.57h.9v.9h-.9zM299.13 131.3h.9v.9h-.9zM323.66 138.15h.9v.9h-.9zM333.13 137.04h.9v.9h-.9zM335.41 140.07h.9v.9h-.9zM308.96 131.58h.9v.9h-.9zM315.99 145.43h.9v.9h-.9zM328.12 139.74h.9v.9h-.9zM325.24 128.98h.9v.9h-.9zM322.83 136.14h.9v.9h-.9zM314.6 143.3h.9v.9h-.9zM334.48 144.87h.9v.9h-.9zM328.02 131.12h.9v.9h-.9zM328.36 130.44h.9v.9h-.9zM323.65 139.7h.9v.9h-.9zM328.82 136.21h.9v.9h-.9zM328.35 135.06h.9v.9h-.9zM313.35 131.35h.9v.9h-.9zM314.08 131.38h.9v.9h-.9zM326.99 132.74h.9v.9h-.9zM316.93 140.66h.9v.9h-.9zM326.17 137.43h.9v.9h-.9zM317.5 130.32h.9v.9h-.9zM311.29 136.6h.9v.9h-.9z"/>
<path fill="#111" fill-opacity="0.75" d="M306.75 146.84h.9v.9h-.9zM307.39 146.19h.9v.9h-.9zM306.76 146.31h.9v.9h-.9zM304.63 145.83h.9v.9h-.9zM305.63 148.71h.9v.9h-.9zM307.22 146.07h.9v.9h-.9zM307.82 147.25h.9v.9h-.9zM306.46 145.39h.9v.9h-.9zM306.8 145.79h.9v.9h-.9zM304.98 147.35h.9v.9h-.9zM306.58 147.2h.9v.9h-.9zM306.16 144.53h.9v.9h-.9zM308.85 149.54h.9v.9h-.9zM307.22 148.06h.9v.9h-.9zM307.93 146.81h.9v.9h-.9zM305.58 145.43h.9v.9h-.9zM307.38 146.21h.9v.9h-.9zM307.46 146.14h.9v.9h-.9zM305.83 147.2h.9v.9h-.9zM307 147.56h.9v.9h-.9zM307.37 147.82h.9v.9h-.9zM309.72 146.99h.9v.9h-.9zM308.79 147.2h.9v.9h-.9zM309.26 147.01h.9v.9h-.9zM307.83 146.98h.9v.9h-.9zM308.45 145.59h.9v.9h-.9zM310.07 146.58h.9v.9h-.9zM309.9 148.33h.9v.9h-.9zM308.52 147.26h.9v.9h-.9zM309.17 144.97h.9v.9h-.9zM307.7 145.77h.9v.9h-.9zM308.12 147.43h.9v.9h-.9zM310.1 146.57h.9v.9h-.9zM309.37 146.92h.9v.9h-.9zM311.03 145.9h.9v.9h-.9zM311.69 147.23h.9v.9h-.9zM310.57 145.67h.9v.9h-.9zM312.2 146.82h.9v.9h-.9zM312.02 148.26h.9v.9h-.9zM312.89 145.77h.9v.9h-.9zM309.87 145.9h.9v.9h-.9zM312.25 146.75h.9v.9h-.9zM309.98 146.35h.9v.9h-.9zM308.58 148.33h.9v.9h-.9zM311.92 147.14h.9v.9h-.9zM309.96 147.54h.9v.9h-.9zM313.88 146.76h.9v.9h-.9zM314.04 146.24h.9v.9h-.9zM312.13 147.5h.9v.9h-.9zM312.35 145.66h.9v.9h-.9zM314.33 145.7h.9v.9h-.9zM313.18 145.91h.9v.9h-.9zM313.62 146.49h.9v.9h-.9zM311.14 146.71h.9v.9h-.9zM312.35 146.1h.9v.9h-.9zM314.8 145.86h.9v.9h-.9zM314.41 146.84h.9v.9h-.9zM313.64 146.73h.9v.9h-.9zM313.92 144.9h.9v.9h-.9zM314.97 147.12h.9v.9h-.9zM314.83 144.58h.9v.9h-.9zM315.62 146.94h.9v.9h-.9zM312.72 146.25h.9v.9h-.9zM314.16 145.39h.9v.9h-.9zM313.51 143.89h.9v.9h-.9zM315.19 145.48h.9v.9h-.9zM316.07 148.16h.9v.9h-.9zM318.94 145.91h.9v.9h-.9zM314.88 145.3h.9v.9h-.9zM316.36 145.61h.9v.9h-.9zM314.29 143.82h.9v.9h-.9zM313.92 145.12h.9v.9h-.9zM314.07 146.93h.9v.9h-.9zM316.16 148.05h.9v.9h-.9zM316.23 146.65h.9v.9h-.9zM316.52 146.83h.9v.9h-.9zM317.62 146.07h.9v.9h-.9zM319.3 144.42h.9v.9h-.9zM318.7 146.22h.9v.9h-.9zM318.4 147.15h.9v.9h-.9zM320.3 146.08h.9v.9h-.9zM316.63 146.04h.9v.9h-.9zM316.45 146.42h.9v.9h-.9zM316.11 145.94h.9v.9h-.9zM318.36 145.56h.9v.9h-.9zM318.74 146.51h.9v.9h-.9zM316.23 146h.9v.9h-.9zM319.59 145.17h.9v.9h-.9zM318.38 146.01h.9v.9h-.9zM320.52 143.88h.9v.9h-.9zM320.01 144.96h.9v.9h-.9zM319.08 147.29h.9v.9h-.9zM317.01 145.21h.9v.9h-.9zM320.91 148.39h.9v.9h-.9zM317.97 145.33h.9v.9h-.9zM318.57 145.29h.9v.9h-.9zM319.64 144.06h.9v.9h-.9zM319.04 146.03h.9v.9h-.9zM316.83 145.08h.9v.9h-.9zM320.73 148.87h.9v.9h-.9zM319.4 144.32h.9v.9h-.9zM321.62 145.12h.9v.9h-.9zM320.17 144.08h.9v.9h-.9zM319.66 146.76h.9v.9h-.9zM321.03 145.18h.9v.9h-.9zM320.19 145.65h.9v.9h-.9zM320.14 145.64h.9v.9h-.9zM321.11 143.38h.9v.9h-.9zM322.41 144.82h.9v.9h-.9zM319.56 146.97h.9v.9h-.9zM322.79 146.42h.9v.9h-.9zM324.57 147.41h.9v.9h-.9zM321.64 144.23h.9v.9h-.9zM320.94 144.83h.9v.9h-.9zM323.47 143.8h.9v.9h-.9zM321.63 143.27h.9v.9h-.9zM323 146.63h.9v.9h-.9zM322.77 144.06h.9v.9h-.9zM323.13 145.19h.9v.9h-.9zM323.64 145.37h.9v.9h-.9zM321.53 145.25h.9v.9h-.9zM324.27 144.06h.9v.9h-.9zM323.03 145.14h.9v.9h-.9zM322.12 144.58h.9v.9h-.9zM323.61 144.64h.9v.9h-.9zM324.05 145.52h.9v.9h-.9zM322.91 147.24h.9v.9h-.9zM324.83 143.01h.9v.9h-.9zM323.42 144.74h.9v.9h-.9zM323.33 146.49h.9v.9h-.9zM323.56 143.49h.9v.9h-.9zM322.67 145.22h.9v.9h-.9zM323.94 144.16h.9v.9h-.9zM323.4 146.78h.9v.9h-.9zM323.82 143.1h.9v.9h-.9zM326.42 142.6h.9v.9h-.9zM325.09 146.73h.9v.9h-.9zM324.11 143.26h.9v.9h-.9zM324.53 141.87h.9v.9h-.9zM324.94 145.52h.9v.9h-.9zM324.67 144.26h.9v.9h-.9zM325.38 143.48h.9v.9h-.9zM324.43 146.67h.9v.9h-.9z"/>
<text x="322.7" y="138.4" font-size="3.8" fill="#e8506e">R4</text>
<text x="324.2" y="142.4" font-size="3.8" fill="#e8506e">4.1%</text>
<rect x="286.1" y="126.4" width="58.5" height="57.8" fill="none" stroke="#7c7ce6" stroke-width="0.8"/>
<line x1="308.2" y1="126.4" x2="308.2" y2="184.2" stroke="#f28aa4" stroke-width="0.8"/>
<line x1="286.1" y1="158.6" x2="344.6" y2="158.6" stroke="#f28aa4" stroke-width="0.8"/>
<path d="M298.1 126.4V135.9H320.7V126.4" fill="none" stroke="#e8728f" stroke-width="0.76"/>
<text x="369.2" y="80" font-size="9.9" text-anchor="middle" stroke="#231f20" stroke-width="0.28" textLength="76.5" lengthAdjust="spacingAndGlyphs" transform="rotate(-90 369.2 80)">Propidium Iodine +</text>
<text x="380.6" y="80" font-size="9.9" text-anchor="middle" stroke="#231f20" stroke-width="0.28" textLength="43.5" lengthAdjust="spacingAndGlyphs" transform="rotate(-90 380.6 80)">cell events</text>
<line x1="405.8" y1="44.4" x2="405.8" y2="114.8" stroke="#231f20" stroke-width="1.3"/>
<line x1="403.2" y1="46.7" x2="405.8" y2="46.7" stroke="#231f20" stroke-width="1.1"/>
<text x="400" y="48.95" font-size="7.5" text-anchor="end" stroke="#231f20" stroke-width="0.28">600</text>
<line x1="403.2" y1="68.5" x2="405.8" y2="68.5" stroke="#231f20" stroke-width="1.1"/>
<text x="400" y="70.75" font-size="7.5" text-anchor="end" stroke="#231f20" stroke-width="0.28">400</text>
<line x1="403.2" y1="90.4" x2="405.8" y2="90.4" stroke="#231f20" stroke-width="1.1"/>
<text x="400" y="92.65" font-size="7.5" text-anchor="end" stroke="#231f20" stroke-width="0.28">200</text>
<line x1="403.2" y1="112.3" x2="405.8" y2="112.3" stroke="#231f20" stroke-width="1.1"/>
<text x="400" y="114.55" font-size="7.5" text-anchor="end" stroke="#231f20" stroke-width="0.28">0</text>
<line x1="413.8" y1="35.9" x2="484" y2="35.9" stroke="#444" stroke-width="1.5"/>
<line x1="413.8" y1="34" x2="413.8" y2="37.8" stroke="#444" stroke-width="1.5"/>
<line x1="484" y1="34" x2="484" y2="37.8" stroke="#444" stroke-width="1.5"/>
<text x="448.6" y="34.5" font-size="7.2" text-anchor="middle" fill="#222" stroke="#222" stroke-width="0.5">**</text>
<circle cx="414.6" cy="92.5" r="1.7" fill="none" stroke="#c8203f" stroke-width="1.1"/>
<circle cx="420.9" cy="92.5" r="1.7" fill="none" stroke="#c8203f" stroke-width="1.1"/>
<circle cx="417.6" cy="94.2" r="1.7" fill="none" stroke="#c8203f" stroke-width="1.1"/>
<circle cx="417.8" cy="105.7" r="1.7" fill="none" stroke="#c8203f" stroke-width="1.1"/>
<line x1="409.1" y1="96.7" x2="425.7" y2="96.7" stroke="#111" stroke-width="1.4"/>
<line x1="417.4" y1="94.1" x2="417.4" y2="99.4" stroke="#111" stroke-width="1.4"/>
<line x1="413.3" y1="94.1" x2="421.5" y2="94.1" stroke="#111" stroke-width="1.4"/>
<line x1="413.3" y1="99.4" x2="421.5" y2="99.4" stroke="#111" stroke-width="1.4"/>
<rect x="436.25" y="92.45" width="3.1" height="3.1" fill="none" stroke="#3b5c9c" stroke-width="1.1"/>
<rect x="440.45" y="92.45" width="3.1" height="3.1" fill="none" stroke="#3b5c9c" stroke-width="1.1"/>
<rect x="444.75" y="92.45" width="3.1" height="3.1" fill="none" stroke="#3b5c9c" stroke-width="1.1"/>
<rect x="440.45" y="106.25" width="3.1" height="3.1" fill="none" stroke="#3b5c9c" stroke-width="1.1"/>
<line x1="434" y1="97.7" x2="450.4" y2="97.7" stroke="#111" stroke-width="1.4"/>
<line x1="442.2" y1="94.2" x2="442.2" y2="101.3" stroke="#111" stroke-width="1.4"/>
<line x1="438.1" y1="94.2" x2="446.3" y2="94.2" stroke="#111" stroke-width="1.4"/>
<line x1="438.1" y1="101.3" x2="446.3" y2="101.3" stroke="#111" stroke-width="1.4"/>
<circle cx="475.8" cy="56.7" r="1.7" fill="none" stroke="#c8203f" stroke-width="1.1"/>
<circle cx="479" cy="55.8" r="1.7" fill="none" stroke="#c8203f" stroke-width="1.1"/>
<circle cx="481.9" cy="53.9" r="1.7" fill="none" stroke="#c8203f" stroke-width="1.1"/>
<circle cx="478.8" cy="78.6" r="1.7" fill="none" stroke="#c8203f" stroke-width="1.1"/>
<line x1="470.7" y1="61.3" x2="486.7" y2="61.3" stroke="#111" stroke-width="1.4"/>
<line x1="478.7" y1="55.8" x2="478.7" y2="67" stroke="#111" stroke-width="1.4"/>
<line x1="474.9" y1="55.8" x2="482.5" y2="55.8" stroke="#111" stroke-width="1.4"/>
<line x1="474.9" y1="67" x2="482.5" y2="67" stroke="#111" stroke-width="1.4"/>
<rect x="501.85" y="60.65" width="3.1" height="3.1" fill="none" stroke="#3b5c9c" stroke-width="1.1"/>
<rect x="501.85" y="81.75" width="3.1" height="3.1" fill="none" stroke="#3b5c9c" stroke-width="1.1"/>
<rect x="501.85" y="86.75" width="3.1" height="3.1" fill="none" stroke="#3b5c9c" stroke-width="1.1"/>
<rect x="501.85" y="91.45" width="3.1" height="3.1" fill="none" stroke="#3b5c9c" stroke-width="1.1"/>
<line x1="495.2" y1="81.7" x2="511.6" y2="81.7" stroke="#111" stroke-width="1.4"/>
<line x1="503.4" y1="75.2" x2="503.4" y2="88.3" stroke="#111" stroke-width="1.4"/>
<line x1="499.5" y1="75.2" x2="507.3" y2="75.2" stroke="#111" stroke-width="1.4"/>
<line x1="499.5" y1="88.3" x2="507.3" y2="88.3" stroke="#111" stroke-width="1.4"/>
<text x="428.5" y="116.8" font-size="7.6" text-anchor="end" stroke="#231f20" stroke-width="0.28" textLength="27" lengthAdjust="spacingAndGlyphs" transform="rotate(-45 428.5 116.8)">Resting</text>
<text x="448.2" y="116.8" font-size="7.6" text-anchor="end" stroke="#231f20" stroke-width="0.28" textLength="33" lengthAdjust="spacingAndGlyphs" transform="rotate(-45 448.2 116.8)">Activated</text>
<text x="488" y="116.8" font-size="7.6" text-anchor="end" stroke="#231f20" stroke-width="0.28" textLength="27" lengthAdjust="spacingAndGlyphs" transform="rotate(-45 488 116.8)">Resting</text>
<text x="507.8" y="116.8" font-size="7.6" text-anchor="end" stroke="#231f20" stroke-width="0.28" textLength="33" lengthAdjust="spacingAndGlyphs" transform="rotate(-45 507.8 116.8)">Activated</text>
<line x1="405.5" y1="143.8" x2="453" y2="143.8" stroke="#555" stroke-width="1.5"/>
<line x1="465" y1="143.8" x2="512.5" y2="143.8" stroke="#555" stroke-width="1.5"/>
<text x="429.5" y="155.6" font-size="9.9" text-anchor="middle" stroke="#231f20" stroke-width="0.28" textLength="49" lengthAdjust="spacingAndGlyphs">WT platelets</text>
<text x="488.8" y="155.4" font-size="9.9" text-anchor="middle" stroke="#231f20" stroke-width="0.28" textLength="34" lengthAdjust="spacingAndGlyphs">Treml1<tspan font-size="6.14" dy="-3.76">-/-</tspan></text>
<text x="488.8" y="167.8" font-size="9.9" text-anchor="middle" stroke="#231f20" stroke-width="0.28" textLength="35" lengthAdjust="spacingAndGlyphs">platelets</text>
<text x="100.7" y="243.6" font-size="9.9" text-anchor="middle" stroke="#231f20" stroke-width="0.28" textLength="63" lengthAdjust="spacingAndGlyphs">WT Neutrophils</text>
<text x="27.1" y="288.5" font-size="9.9" text-anchor="middle" stroke="#231f20" stroke-width="0.28" textLength="66" lengthAdjust="spacingAndGlyphs" transform="rotate(-90 27.1 288.5)">GR1 + cell events</text>
<line x1="56.7" y1="257.8" x2="56.7" y2="319.8" stroke="#231f20" stroke-width="1.3"/>
<line x1="54.1" y1="260.3" x2="56.7" y2="260.3" stroke="#231f20" stroke-width="1.1"/>
<text x="50.6" y="262.49" font-size="7.3" text-anchor="end" stroke="#231f20" stroke-width="0.28">8000</text>
<line x1="54.1" y1="275.02" x2="56.7" y2="275.02" stroke="#231f20" stroke-width="1.1"/>
<text x="50.6" y="277.21" font-size="7.3" text-anchor="end" stroke="#231f20" stroke-width="0.28">6000</text>
<line x1="54.1" y1="289.75" x2="56.7" y2="289.75" stroke="#231f20" stroke-width="1.1"/>
<text x="50.6" y="291.94" font-size="7.3" text-anchor="end" stroke="#231f20" stroke-width="0.28">4000</text>
<line x1="54.1" y1="304.48" x2="56.7" y2="304.48" stroke="#231f20" stroke-width="1.1"/>
<text x="50.6" y="306.67" font-size="7.3" text-anchor="end" stroke="#231f20" stroke-width="0.28">2000</text>
<line x1="54.1" y1="319.2" x2="56.7" y2="319.2" stroke="#231f20" stroke-width="1.1"/>
<text x="50.6" y="321.39" font-size="7.3" text-anchor="end" stroke="#231f20" stroke-width="0.28">0</text>
<line x1="56.2" y1="319.2" x2="145" y2="319.2" stroke="#231f20" stroke-width="1.4"/>
<line x1="67.2" y1="319.2" x2="67.2" y2="322.6" stroke="#231f20" stroke-width="1.19"/>
<line x1="89.8" y1="319.2" x2="89.8" y2="322.6" stroke="#231f20" stroke-width="1.19"/>
<line x1="112.2" y1="319.2" x2="112.2" y2="322.6" stroke="#231f20" stroke-width="1.19"/>
<line x1="134.3" y1="319.2" x2="134.3" y2="322.6" stroke="#231f20" stroke-width="1.19"/>
<line x1="89.5" y1="271.8" x2="133.9" y2="271.8" stroke="#444" stroke-width="1.5"/>
<line x1="89.5" y1="269.9" x2="89.5" y2="273.7" stroke="#444" stroke-width="1.5"/>
<line x1="133.9" y1="269.9" x2="133.9" y2="273.7" stroke="#444" stroke-width="1.5"/>
<text x="111.8" y="268.9" font-size="7.2" text-anchor="middle" fill="#333" stroke="#333" stroke-width="0.28">p=0.02</text>
<circle cx="67.3" cy="282.7" r="1.7" fill="none" stroke="#c8203f" stroke-width="1.1"/>
<circle cx="73" cy="280.3" r="1.7" fill="none" stroke="#c8203f" stroke-width="1.1"/>
<circle cx="67.3" cy="290.5" r="1.7" fill="none" stroke="#c8203f" stroke-width="1.1"/>
<circle cx="67.3" cy="298" r="1.7" fill="none" stroke="#c8203f" stroke-width="1.1"/>
<line x1="60.5" y1="288" x2="74.7" y2="288" stroke="#111" stroke-width="1.4"/>
<line x1="67.6" y1="283.6" x2="67.6" y2="292" stroke="#111" stroke-width="1.4"/>
<line x1="64.3" y1="283.6" x2="70.9" y2="283.6" stroke="#111" stroke-width="1.4"/>
<line x1="64.3" y1="292" x2="70.9" y2="292" stroke="#111" stroke-width="1.4"/>
<rect x="83.05" y="284.65" width="3.1" height="3.1" fill="none" stroke="#3b5c9c" stroke-width="1.1"/>
<rect x="93.75" y="282.45" width="3.1" height="3.1" fill="none" stroke="#3b5c9c" stroke-width="1.1"/>
<rect x="88.65" y="287.25" width="3.1" height="3.1" fill="none" stroke="#3b5c9c" stroke-width="1.1"/>
<rect x="88.65" y="295.05" width="3.1" height="3.1" fill="none" stroke="#3b5c9c" stroke-width="1.1"/>
<line x1="83.3" y1="288.8" x2="97.1" y2="288.8" stroke="#111" stroke-width="1.4"/>
<line x1="90.2" y1="286.7" x2="90.2" y2="291.4" stroke="#111" stroke-width="1.4"/>
<line x1="86.9" y1="286.7" x2="93.5" y2="286.7" stroke="#111" stroke-width="1.4"/>
<line x1="86.9" y1="291.4" x2="93.5" y2="291.4" stroke="#111" stroke-width="1.4"/>
<path d="M112.3 273.65L114.45 275.8L112.3 277.95L110.15 275.8Z" fill="none" stroke="#5fae3c" stroke-width="1.1"/>
<path d="M112.3 301.85L114.45 304L112.3 306.15L110.15 304Z" fill="none" stroke="#5fae3c" stroke-width="1.1"/>
<path d="M117.5 308.25L119.65 310.4L117.5 312.55L115.35 310.4Z" fill="none" stroke="#5fae3c" stroke-width="1.1"/>
<path d="M112.3 310.85L114.45 313L112.3 315.15L110.15 313Z" fill="none" stroke="#5fae3c" stroke-width="1.1"/>
<line x1="105" y1="301" x2="119.2" y2="301" stroke="#111" stroke-width="1.4"/>
<line x1="112.1" y1="291.6" x2="112.1" y2="309.2" stroke="#111" stroke-width="1.4"/>
<line x1="108.6" y1="291.6" x2="115.6" y2="291.6" stroke="#111" stroke-width="1.4"/>
<line x1="108.6" y1="309.2" x2="115.6" y2="309.2" stroke="#111" stroke-width="1.4"/>
<circle cx="134.3" cy="291" r="1.7" fill="none" stroke="#6c3496" stroke-width="1.1"/>
<circle cx="129.1" cy="311.5" r="1.7" fill="none" stroke="#6c3496" stroke-width="1.1"/>
<circle cx="134.3" cy="314.4" r="1.7" fill="none" stroke="#6c3496" stroke-width="1.1"/>
<circle cx="139.1" cy="311.5" r="1.7" fill="none" stroke="#6c3496" stroke-width="1.1"/>
<line x1="127" y1="307.2" x2="141" y2="307.2" stroke="#111" stroke-width="1.4"/>
<line x1="134" y1="301.4" x2="134" y2="313" stroke="#111" stroke-width="1.4"/>
<line x1="130.5" y1="301.4" x2="137.5" y2="301.4" stroke="#111" stroke-width="1.4"/>
<line x1="130.5" y1="313" x2="137.5" y2="313" stroke="#111" stroke-width="1.4"/>
<text x="72.2" y="328.8" font-size="8.2" text-anchor="end" stroke="#231f20" stroke-width="0.28" textLength="33.6" lengthAdjust="spacingAndGlyphs" transform="rotate(-45 72.2 328.8)">wt plt rest</text>
<text x="95.2" y="328.8" font-size="8.2" text-anchor="end" stroke="#231f20" stroke-width="0.28" textLength="31.36" lengthAdjust="spacingAndGlyphs" transform="rotate(-45 95.2 328.8)">wt plt act</text>
<text x="115.7" y="328.5" font-size="8.2" text-anchor="end" stroke="#231f20" stroke-width="0.28" textLength="40.32" lengthAdjust="spacingAndGlyphs" transform="rotate(-45 115.7 328.5)">null plt rest</text>
<text x="138.5" y="328.5" font-size="8.2" text-anchor="end" stroke="#231f20" stroke-width="0.28" textLength="37.52" lengthAdjust="spacingAndGlyphs" transform="rotate(-45 138.5 328.5)">null plt act</text>
<text x="265.2" y="243.2" font-size="9.9" text-anchor="middle" stroke="#231f20" stroke-width="0.28" textLength="84" lengthAdjust="spacingAndGlyphs">Treml1<tspan font-size="6.14" dy="-3.76">-/-</tspan><tspan dy="3.76"> Neutrophils</tspan></text>
<text x="189.3" y="287.4" font-size="9.9" text-anchor="middle" stroke="#231f20" stroke-width="0.28" textLength="67.5" lengthAdjust="spacingAndGlyphs" transform="rotate(-90 189.3 287.4)">GR1+ cell events</text>
<line x1="218.7" y1="255.6" x2="218.7" y2="319.9" stroke="#231f20" stroke-width="1.3"/>
<line x1="216.1" y1="257.7" x2="218.7" y2="257.7" stroke="#231f20" stroke-width="1.1"/>
<text x="212.2" y="259.89" font-size="7.3" text-anchor="end" stroke="#231f20" stroke-width="0.28">5000</text>
<line x1="216.1" y1="270.04" x2="218.7" y2="270.04" stroke="#231f20" stroke-width="1.1"/>
<text x="212.2" y="272.23" font-size="7.3" text-anchor="end" stroke="#231f20" stroke-width="0.28">4000</text>
<line x1="216.1" y1="282.38" x2="218.7" y2="282.38" stroke="#231f20" stroke-width="1.1"/>
<text x="212.2" y="284.57" font-size="7.3" text-anchor="end" stroke="#231f20" stroke-width="0.28">3000</text>
<line x1="216.1" y1="294.72" x2="218.7" y2="294.72" stroke="#231f20" stroke-width="1.1"/>
<text x="212.2" y="296.91" font-size="7.3" text-anchor="end" stroke="#231f20" stroke-width="0.28">2000</text>
<line x1="216.1" y1="307.06" x2="218.7" y2="307.06" stroke="#231f20" stroke-width="1.1"/>
<text x="212.2" y="309.25" font-size="7.3" text-anchor="end" stroke="#231f20" stroke-width="0.28">1000</text>
<line x1="216.1" y1="319.4" x2="218.7" y2="319.4" stroke="#231f20" stroke-width="1.1"/>
<text x="212.2" y="321.59" font-size="7.3" text-anchor="end" stroke="#231f20" stroke-width="0.28">0</text>
<line x1="216.2" y1="319.3" x2="312" y2="319.3" stroke="#231f20" stroke-width="1.4"/>
<line x1="230.6" y1="319.3" x2="230.6" y2="322.7" stroke="#231f20" stroke-width="1.19"/>
<line x1="253.8" y1="319.3" x2="253.8" y2="322.7" stroke="#231f20" stroke-width="1.19"/>
<line x1="277.2" y1="319.3" x2="277.2" y2="322.7" stroke="#231f20" stroke-width="1.19"/>
<line x1="300.4" y1="319.3" x2="300.4" y2="322.7" stroke="#231f20" stroke-width="1.19"/>
<line x1="253.4" y1="257.9" x2="300.5" y2="257.9" stroke="#444" stroke-width="1.5"/>
<line x1="253.4" y1="256" x2="253.4" y2="259.8" stroke="#444" stroke-width="1.5"/>
<line x1="300.5" y1="256" x2="300.5" y2="259.8" stroke="#444" stroke-width="1.5"/>
<text x="277.7" y="254.6" font-size="7.2" text-anchor="middle" fill="#333" stroke="#333" stroke-width="0.28">p=0.05</text>
<circle cx="230.5" cy="267" r="1.7" fill="none" stroke="#c8203f" stroke-width="1.1"/>
<circle cx="230.5" cy="281.2" r="1.7" fill="none" stroke="#c8203f" stroke-width="1.1"/>
<circle cx="230.5" cy="296.2" r="1.7" fill="none" stroke="#c8203f" stroke-width="1.1"/>
<circle cx="235.8" cy="294.7" r="1.7" fill="none" stroke="#c8203f" stroke-width="1.1"/>
<line x1="223" y1="285" x2="238.6" y2="285" stroke="#111" stroke-width="1.4"/>
<line x1="230.8" y1="278.1" x2="230.8" y2="291.8" stroke="#111" stroke-width="1.4"/>
<line x1="226.7" y1="278.1" x2="234.9" y2="278.1" stroke="#111" stroke-width="1.4"/>
<line x1="226.7" y1="291.8" x2="234.9" y2="291.8" stroke="#111" stroke-width="1.4"/>
<rect x="252.25" y="265.05" width="3.1" height="3.1" fill="none" stroke="#3b5c9c" stroke-width="1.1"/>
<rect x="257.75" y="260.85" width="3.1" height="3.1" fill="none" stroke="#3b5c9c" stroke-width="1.1"/>
<rect x="252.25" y="288.35" width="3.1" height="3.1" fill="none" stroke="#3b5c9c" stroke-width="1.1"/>
<rect x="252.25" y="297.25" width="3.1" height="3.1" fill="none" stroke="#3b5c9c" stroke-width="1.1"/>
<line x1="245.5" y1="279.3" x2="261.7" y2="279.3" stroke="#111" stroke-width="1.4"/>
<line x1="253.6" y1="270.2" x2="253.6" y2="288.4" stroke="#111" stroke-width="1.4"/>
<line x1="249" y1="270.2" x2="258.2" y2="270.2" stroke="#111" stroke-width="1.4"/>
<line x1="249" y1="288.4" x2="258.2" y2="288.4" stroke="#111" stroke-width="1.4"/>
<path d="M277.3 281.35L279.45 283.5L277.3 285.65L275.15 283.5Z" fill="none" stroke="#5fae3c" stroke-width="1.1"/>
<path d="M271.3 300.85L273.45 303L271.3 305.15L269.15 303Z" fill="none" stroke="#5fae3c" stroke-width="1.1"/>
<path d="M277.3 305.65L279.45 307.8L277.3 309.95L275.15 307.8Z" fill="none" stroke="#5fae3c" stroke-width="1.1"/>
<path d="M283 303.35L285.15 305.5L283 307.65L280.85 305.5Z" fill="none" stroke="#5fae3c" stroke-width="1.1"/>
<line x1="269.2" y1="300.4" x2="285" y2="300.4" stroke="#111" stroke-width="1.4"/>
<line x1="277.1" y1="294.5" x2="277.1" y2="305.5" stroke="#111" stroke-width="1.4"/>
<line x1="273.1" y1="294.5" x2="281.1" y2="294.5" stroke="#111" stroke-width="1.4"/>
<line x1="273.1" y1="305.5" x2="281.1" y2="305.5" stroke="#111" stroke-width="1.4"/>
<circle cx="300.3" cy="288.6" r="1.7" fill="none" stroke="#6c3496" stroke-width="1.1"/>
<circle cx="295" cy="308.3" r="1.7" fill="none" stroke="#6c3496" stroke-width="1.1"/>
<circle cx="300.3" cy="312.1" r="1.7" fill="none" stroke="#6c3496" stroke-width="1.1"/>
<circle cx="306.3" cy="308.9" r="1.7" fill="none" stroke="#6c3496" stroke-width="1.1"/>
<line x1="292.5" y1="304.5" x2="308.3" y2="304.5" stroke="#111" stroke-width="1.4"/>
<line x1="300.4" y1="298.8" x2="300.4" y2="310.4" stroke="#111" stroke-width="1.4"/>
<line x1="296.4" y1="298.8" x2="304.4" y2="298.8" stroke="#111" stroke-width="1.4"/>
<line x1="296.4" y1="310.4" x2="304.4" y2="310.4" stroke="#111" stroke-width="1.4"/>
<text x="235.2" y="328.6" font-size="8.2" text-anchor="end" stroke="#231f20" stroke-width="0.28" textLength="33.6" lengthAdjust="spacingAndGlyphs" transform="rotate(-45 235.2 328.6)">wt plt rest</text>
<text x="259.2" y="328.6" font-size="8.2" text-anchor="end" stroke="#231f20" stroke-width="0.28" textLength="31.36" lengthAdjust="spacingAndGlyphs" transform="rotate(-45 259.2 328.6)">wt plt act</text>
<text x="280.2" y="328.6" font-size="8.2" text-anchor="end" stroke="#231f20" stroke-width="0.28" textLength="37.52" lengthAdjust="spacingAndGlyphs" transform="rotate(-45 280.2 328.6)">null plt res</text>
<text x="303.8" y="328.6" font-size="8.2" text-anchor="end" stroke="#231f20" stroke-width="0.28" textLength="37.52" lengthAdjust="spacingAndGlyphs" transform="rotate(-45 303.8 328.6)">null plt act</text>
<text x="16.4" y="427.7" font-size="9.9" text-anchor="middle" stroke="#231f20" stroke-width="0.28" textLength="90" lengthAdjust="spacingAndGlyphs" transform="rotate(-90 16.4 427.7)">GR1+/IIbIIIA agregates</text>
<text x="26.8" y="428.6" font-size="9.9" text-anchor="middle" stroke="#231f20" stroke-width="0.28" textLength="42" lengthAdjust="spacingAndGlyphs" transform="rotate(-90 26.8 428.6)">cell events</text>
<line x1="56.1" y1="397.8" x2="56.1" y2="458.9" stroke="#231f20" stroke-width="1.3"/>
<line x1="53.5" y1="400" x2="56.1" y2="400" stroke="#231f20" stroke-width="1.1"/>
<text x="50.4" y="402.19" font-size="7.3" text-anchor="end" stroke="#231f20" stroke-width="0.28">4000</text>
<line x1="53.5" y1="414.62" x2="56.1" y2="414.62" stroke="#231f20" stroke-width="1.1"/>
<text x="50.4" y="416.81" font-size="7.3" text-anchor="end" stroke="#231f20" stroke-width="0.28">3000</text>
<line x1="53.5" y1="429.25" x2="56.1" y2="429.25" stroke="#231f20" stroke-width="1.1"/>
<text x="50.4" y="431.44" font-size="7.3" text-anchor="end" stroke="#231f20" stroke-width="0.28">2000</text>
<line x1="53.5" y1="443.88" x2="56.1" y2="443.88" stroke="#231f20" stroke-width="1.1"/>
<text x="50.4" y="446.06" font-size="7.3" text-anchor="end" stroke="#231f20" stroke-width="0.28">1000</text>
<line x1="53.5" y1="458.5" x2="56.1" y2="458.5" stroke="#231f20" stroke-width="1.1"/>
<text x="50.4" y="460.69" font-size="7.3" text-anchor="end" stroke="#231f20" stroke-width="0.28">0</text>
<line x1="55.6" y1="458.4" x2="143.7" y2="458.4" stroke="#231f20" stroke-width="1.4"/>
<line x1="66.9" y1="458.4" x2="66.9" y2="461.8" stroke="#231f20" stroke-width="1.19"/>
<line x1="89" y1="458.4" x2="89" y2="461.8" stroke="#231f20" stroke-width="1.19"/>
<line x1="111.2" y1="458.4" x2="111.2" y2="461.8" stroke="#231f20" stroke-width="1.19"/>
<line x1="133.1" y1="458.4" x2="133.1" y2="461.8" stroke="#231f20" stroke-width="1.19"/>
<circle cx="61.9" cy="451.5" r="1.7" fill="none" stroke="#c8203f" stroke-width="1.1"/>
<circle cx="69.6" cy="450" r="1.7" fill="none" stroke="#c8203f" stroke-width="1.1"/>
<circle cx="67.3" cy="455.4" r="1.7" fill="none" stroke="#c8203f" stroke-width="1.1"/>
<circle cx="72.7" cy="451.5" r="1.7" fill="none" stroke="#c8203f" stroke-width="1.1"/>
<line x1="60.6" y1="452.3" x2="74" y2="452.3" stroke="#111" stroke-width="1.4"/>
<line x1="67.3" y1="451.2" x2="67.3" y2="453.4" stroke="#111" stroke-width="1.4"/>
<line x1="64.7" y1="451.2" x2="69.9" y2="451.2" stroke="#111" stroke-width="1.4"/>
<line x1="64.7" y1="453.4" x2="69.9" y2="453.4" stroke="#111" stroke-width="1.4"/>
<rect x="82.15" y="450.95" width="3.1" height="3.1" fill="none" stroke="#3b5c9c" stroke-width="1.1"/>
<rect x="90.35" y="449.95" width="3.1" height="3.1" fill="none" stroke="#3b5c9c" stroke-width="1.1"/>
<rect x="87.85" y="454.25" width="3.1" height="3.1" fill="none" stroke="#3b5c9c" stroke-width="1.1"/>
<rect x="93.25" y="452.25" width="3.1" height="3.1" fill="none" stroke="#3b5c9c" stroke-width="1.1"/>
<line x1="82.1" y1="453.3" x2="96.5" y2="453.3" stroke="#111" stroke-width="1.4"/>
<line x1="89.3" y1="452.4" x2="89.3" y2="454.2" stroke="#111" stroke-width="1.4"/>
<line x1="86.7" y1="452.4" x2="91.9" y2="452.4" stroke="#111" stroke-width="1.4"/>
<line x1="86.7" y1="454.2" x2="91.9" y2="454.2" stroke="#111" stroke-width="1.4"/>
<path d="M111.2 413.25L113.35 415.4L111.2 417.55L109.05 415.4Z" fill="none" stroke="#5fae3c" stroke-width="1.1"/>
<path d="M111.2 442.05L113.35 444.2L111.2 446.35L109.05 444.2Z" fill="none" stroke="#5fae3c" stroke-width="1.1"/>
<path d="M116.7 444.95L118.85 447.1L116.7 449.25L114.55 447.1Z" fill="none" stroke="#5fae3c" stroke-width="1.1"/>
<path d="M111.2 449.15L113.35 451.3L111.2 453.45L109.05 451.3Z" fill="none" stroke="#5fae3c" stroke-width="1.1"/>
<line x1="104.2" y1="439.4" x2="118.6" y2="439.4" stroke="#111" stroke-width="1.4"/>
<line x1="111.4" y1="431.2" x2="111.4" y2="447.5" stroke="#111" stroke-width="1.4"/>
<line x1="107.8" y1="431.2" x2="115" y2="431.2" stroke="#111" stroke-width="1.4"/>
<line x1="107.8" y1="447.5" x2="115" y2="447.5" stroke="#111" stroke-width="1.4"/>
<circle cx="133.1" cy="420.2" r="1.7" fill="none" stroke="#6c3496" stroke-width="1.1"/>
<circle cx="127.9" cy="441.3" r="1.7" fill="none" stroke="#6c3496" stroke-width="1.1"/>
<circle cx="133.1" cy="445.6" r="1.7" fill="none" stroke="#6c3496" stroke-width="1.1"/>
<circle cx="133.1" cy="453.8" r="1.7" fill="none" stroke="#6c3496" stroke-width="1.1"/>
<line x1="126" y1="440.8" x2="140.4" y2="440.8" stroke="#111" stroke-width="1.4"/>
<line x1="133.2" y1="433.3" x2="133.2" y2="447.5" stroke="#111" stroke-width="1.4"/>
<line x1="129.5" y1="433.3" x2="136.9" y2="433.3" stroke="#111" stroke-width="1.4"/>
<line x1="129.5" y1="447.5" x2="136.9" y2="447.5" stroke="#111" stroke-width="1.4"/>
<text x="72" y="467.3" font-size="8.2" text-anchor="end" stroke="#231f20" stroke-width="0.28" textLength="33.6" lengthAdjust="spacingAndGlyphs" transform="rotate(-45 72 467.3)">wt plt rest</text>
<text x="93" y="467.3" font-size="8.2" text-anchor="end" stroke="#231f20" stroke-width="0.28" textLength="31.36" lengthAdjust="spacingAndGlyphs" transform="rotate(-45 93 467.3)">wt plt act</text>
<text x="114.2" y="467.3" font-size="8.2" text-anchor="end" stroke="#231f20" stroke-width="0.28" textLength="40.32" lengthAdjust="spacingAndGlyphs" transform="rotate(-45 114.2 467.3)">null plt rest</text>
<text x="137.4" y="467.3" font-size="8.2" text-anchor="end" stroke="#231f20" stroke-width="0.28" textLength="37.52" lengthAdjust="spacingAndGlyphs" transform="rotate(-45 137.4 467.3)">null plt act</text>
<text x="178.3" y="427" font-size="9.9" text-anchor="middle" stroke="#231f20" stroke-width="0.28" textLength="89.5" lengthAdjust="spacingAndGlyphs" transform="rotate(-90 178.3 427)">GR1+/IIbIIIA agregates</text>
<text x="189.5" y="427.4" font-size="9.9" text-anchor="middle" stroke="#231f20" stroke-width="0.28" textLength="42.5" lengthAdjust="spacingAndGlyphs" transform="rotate(-90 189.5 427.4)">cell events</text>
<line x1="218.4" y1="397.3" x2="218.4" y2="459" stroke="#231f20" stroke-width="1.3"/>
<line x1="215.8" y1="399.8" x2="218.4" y2="399.8" stroke="#231f20" stroke-width="1.1"/>
<text x="212.3" y="401.99" font-size="7.3" text-anchor="end" stroke="#231f20" stroke-width="0.28">1500</text>
<line x1="215.8" y1="419.4" x2="218.4" y2="419.4" stroke="#231f20" stroke-width="1.1"/>
<text x="212.3" y="421.59" font-size="7.3" text-anchor="end" stroke="#231f20" stroke-width="0.28">1000</text>
<line x1="215.8" y1="439" x2="218.4" y2="439" stroke="#231f20" stroke-width="1.1"/>
<text x="212.3" y="441.19" font-size="7.3" text-anchor="end" stroke="#231f20" stroke-width="0.28">500</text>
<line x1="215.8" y1="458.6" x2="218.4" y2="458.6" stroke="#231f20" stroke-width="1.1"/>
<text x="212.3" y="460.79" font-size="7.3" text-anchor="end" stroke="#231f20" stroke-width="0.28">0</text>
<line x1="217.8" y1="458.5" x2="306.3" y2="458.5" stroke="#231f20" stroke-width="1.4"/>
<line x1="229.4" y1="458.5" x2="229.4" y2="461.9" stroke="#231f20" stroke-width="1.19"/>
<line x1="251.6" y1="458.5" x2="251.6" y2="461.9" stroke="#231f20" stroke-width="1.19"/>
<line x1="274" y1="458.5" x2="274" y2="461.9" stroke="#231f20" stroke-width="1.19"/>
<line x1="296.2" y1="458.5" x2="296.2" y2="461.9" stroke="#231f20" stroke-width="1.19"/>
<line x1="251.5" y1="410.6" x2="293.3" y2="410.6" stroke="#444" stroke-width="1.5"/>
<line x1="251.5" y1="408.7" x2="251.5" y2="412.5" stroke="#444" stroke-width="1.5"/>
<line x1="293.3" y1="408.7" x2="293.3" y2="412.5" stroke="#444" stroke-width="1.5"/>
<text x="275.2" y="408.2" font-size="7.2" text-anchor="middle" fill="#333" stroke="#333" stroke-width="0.28">p=0.05</text>
<circle cx="229.4" cy="437.1" r="1.7" fill="none" stroke="#c8203f" stroke-width="1.1"/>
<circle cx="234.2" cy="446.7" r="1.7" fill="none" stroke="#c8203f" stroke-width="1.1"/>
<circle cx="229.4" cy="450" r="1.7" fill="none" stroke="#c8203f" stroke-width="1.1"/>
<circle cx="229.4" cy="445.5" r="1.7" fill="none" stroke="#c8203f" stroke-width="1.1"/>
<line x1="222.7" y1="444.4" x2="236.5" y2="444.4" stroke="#111" stroke-width="1.4"/>
<line x1="229.6" y1="441.5" x2="229.6" y2="447.3" stroke="#111" stroke-width="1.4"/>
<line x1="226.9" y1="441.5" x2="232.3" y2="441.5" stroke="#111" stroke-width="1.4"/>
<line x1="226.9" y1="447.3" x2="232.3" y2="447.3" stroke="#111" stroke-width="1.4"/>
<rect x="244.25" y="444.75" width="3.1" height="3.1" fill="none" stroke="#3b5c9c" stroke-width="1.1"/>
<rect x="250.35" y="440.35" width="3.1" height="3.1" fill="none" stroke="#3b5c9c" stroke-width="1.1"/>
<rect x="250.35" y="448.45" width="3.1" height="3.1" fill="none" stroke="#3b5c9c" stroke-width="1.1"/>
<rect x="255.35" y="447.15" width="3.1" height="3.1" fill="none" stroke="#3b5c9c" stroke-width="1.1"/>
<line x1="244.8" y1="447.1" x2="258.6" y2="447.1" stroke="#111" stroke-width="1.4"/>
<line x1="251.7" y1="445.4" x2="251.7" y2="448.3" stroke="#111" stroke-width="1.4"/>
<line x1="249" y1="445.4" x2="254.4" y2="445.4" stroke="#111" stroke-width="1.4"/>
<line x1="249" y1="448.3" x2="254.4" y2="448.3" stroke="#111" stroke-width="1.4"/>
<path d="M274 410.35L276.15 412.5L274 414.65L271.85 412.5Z" fill="none" stroke="#5fae3c" stroke-width="1.1"/>
<path d="M274 423.45L276.15 425.6L274 427.75L271.85 425.6Z" fill="none" stroke="#5fae3c" stroke-width="1.1"/>
<path d="M274 438.85L276.15 441L274 443.15L271.85 441Z" fill="none" stroke="#5fae3c" stroke-width="1.1"/>
<path d="M279 436.35L281.15 438.5L279 440.65L276.85 438.5Z" fill="none" stroke="#5fae3c" stroke-width="1.1"/>
<line x1="266.5" y1="429.4" x2="281.3" y2="429.4" stroke="#111" stroke-width="1.4"/>
<line x1="273.9" y1="422.7" x2="273.9" y2="435.6" stroke="#111" stroke-width="1.4"/>
<line x1="270.5" y1="422.7" x2="277.3" y2="422.7" stroke="#111" stroke-width="1.4"/>
<line x1="270.5" y1="435.6" x2="277.3" y2="435.6" stroke="#111" stroke-width="1.4"/>
<circle cx="296.2" cy="415.4" r="1.7" fill="none" stroke="#6c3496" stroke-width="1.1"/>
<circle cx="296.2" cy="427.5" r="1.7" fill="none" stroke="#6c3496" stroke-width="1.1"/>
<circle cx="296.2" cy="434.8" r="1.7" fill="none" stroke="#6c3496" stroke-width="1.1"/>
<circle cx="296.2" cy="445.8" r="1.7" fill="none" stroke="#6c3496" stroke-width="1.1"/>
<line x1="288.7" y1="431" x2="303.5" y2="431" stroke="#111" stroke-width="1.4"/>
<line x1="296.1" y1="424.6" x2="296.1" y2="437.5" stroke="#111" stroke-width="1.4"/>
<line x1="292.7" y1="424.6" x2="299.5" y2="424.6" stroke="#111" stroke-width="1.4"/>
<line x1="292.7" y1="437.5" x2="299.5" y2="437.5" stroke="#111" stroke-width="1.4"/>
<text x="233.2" y="468.4" font-size="8.2" text-anchor="end" stroke="#231f20" stroke-width="0.28" textLength="33.6" lengthAdjust="spacingAndGlyphs" transform="rotate(-45 233.2 468.4)">wt plt rest</text>
<text x="255.8" y="468.2" font-size="8.2" text-anchor="end" stroke="#231f20" stroke-width="0.28" textLength="31.36" lengthAdjust="spacingAndGlyphs" transform="rotate(-45 255.8 468.2)">wt plt act</text>
<text x="276.6" y="468.2" font-size="8.2" text-anchor="end" stroke="#231f20" stroke-width="0.28" textLength="37.52" lengthAdjust="spacingAndGlyphs" transform="rotate(-45 276.6 468.2)">nul plt rest</text>
<text x="300.8" y="468.2" font-size="8.2" text-anchor="end" stroke="#231f20" stroke-width="0.28" textLength="37.52" lengthAdjust="spacingAndGlyphs" transform="rotate(-45 300.8 468.2)">null plt act</text>
<text x="351.2" y="287" font-size="9.9" text-anchor="middle" stroke="#231f20" stroke-width="0.28" textLength="46.7" lengthAdjust="spacingAndGlyphs" transform="rotate(-90 351.2 287)">Neutrophils</text>
<text x="351" y="374.3" font-size="9.9" text-anchor="middle" stroke="#231f20" stroke-width="0.28" textLength="48" lengthAdjust="spacingAndGlyphs" transform="rotate(-90 351 374.3)">Neutrophils</text>
<line x1="356.3" y1="262.8" x2="356.3" y2="314.6" stroke="#231f20" stroke-width="1.3"/>
<path d="M356.3 258.7L358.6 263.3L354 263.3Z" fill="#231f20"/>
<line x1="356" y1="350.7" x2="356" y2="402.7" stroke="#231f20" stroke-width="1.3"/>
<path d="M356 346.6L358.3 351.2L353.7 351.2Z" fill="#231f20"/>
<line x1="370.2" y1="407.5" x2="491.2" y2="407.5" stroke="#231f20" stroke-width="1.3"/>
<path d="M495.6 407.5L490.7 405.2L490.7 409.8Z" fill="#231f20"/>
<text x="432.5" y="417.2" font-size="9.9" text-anchor="middle" stroke="#231f20" stroke-width="0.28" textLength="35" lengthAdjust="spacingAndGlyphs">Platelets</text>
<text x="362.8" y="265" font-size="8" stroke="#231f20" stroke-width="0.3">i</text>
<text x="434.6" y="265" font-size="8" stroke="#231f20" stroke-width="0.3">ii</text>
<text x="362.8" y="349.8" font-size="8" stroke="#231f20" stroke-width="0.3">i</text>
<text x="434.6" y="349.8" font-size="8" stroke="#231f20" stroke-width="0.3">ii</text>
<ellipse cx="383.6" cy="276.4" rx="10" ry="6" fill="#111" fill-opacity="0.15" filter="url(#bl)"/>
<path d="M377.6 276.6L380.6 274.3L384.6 273.1L388.6 273.3L391.1 274.9L391.6 277.4L389.1 279.3L384.6 279.9L380.1 278.9Z" fill="#111" fill-opacity="0.7" filter="url(#bl)"/>
<path fill="#111" fill-opacity="0.9" d="M380.69 276.91h.9v.9h-.9zM388.68 275.58h.9v.9h-.9zM380.32 276h.9v.9h-.9zM386.82 278.68h.9v.9h-.9zM380.72 273.58h.9v.9h-.9zM387.64 277.48h.9v.9h-.9zM390.62 278.66h.9v.9h-.9zM384.73 275.83h.9v.9h-.9zM394.35 276.34h.9v.9h-.9zM382.27 273.98h.9v.9h-.9zM385.44 276.71h.9v.9h-.9zM383.86 276.21h.9v.9h-.9zM386.08 277.83h.9v.9h-.9zM389.05 277.04h.9v.9h-.9zM378.66 277.44h.9v.9h-.9zM379.99 275.77h.9v.9h-.9zM379.79 276.11h.9v.9h-.9zM382.3 276.67h.9v.9h-.9zM396.98 276.96h.9v.9h-.9zM388.13 273.94h.9v.9h-.9zM384.06 277.66h.9v.9h-.9zM384.77 277.12h.9v.9h-.9zM385.47 274.42h.9v.9h-.9zM387.13 274.9h.9v.9h-.9zM391.84 275.77h.9v.9h-.9zM387.57 276.54h.9v.9h-.9zM388.53 275.39h.9v.9h-.9zM388.7 276.35h.9v.9h-.9zM389.65 277.89h.9v.9h-.9zM385.61 274.88h.9v.9h-.9zM387.86 277.49h.9v.9h-.9zM391.01 275.98h.9v.9h-.9zM387.1 277.52h.9v.9h-.9zM386.12 276.87h.9v.9h-.9zM385.76 275.25h.9v.9h-.9zM381.45 275.41h.9v.9h-.9zM387.23 279.53h.9v.9h-.9zM388.62 278.69h.9v.9h-.9zM387.9 277.95h.9v.9h-.9zM385.76 277.97h.9v.9h-.9zM391.49 276.1h.9v.9h-.9zM382.6 280.16h.9v.9h-.9zM385.98 278.38h.9v.9h-.9zM388.25 274.31h.9v.9h-.9zM393.86 280.42h.9v.9h-.9zM385.74 277.93h.9v.9h-.9zM385.56 274.67h.9v.9h-.9zM384.7 277.12h.9v.9h-.9zM389.12 278.03h.9v.9h-.9zM385.31 279.11h.9v.9h-.9zM382.36 277.83h.9v.9h-.9zM389.1 276.04h.9v.9h-.9zM378.65 274.24h.9v.9h-.9zM385.95 277.5h.9v.9h-.9zM390.67 274.71h.9v.9h-.9zM385.11 277.69h.9v.9h-.9zM384.53 271.65h.9v.9h-.9zM388 281.16h.9v.9h-.9zM388.72 274.78h.9v.9h-.9zM383.62 276.76h.9v.9h-.9zM394.06 278.13h.9v.9h-.9zM385.51 279.52h.9v.9h-.9zM384.81 280.09h.9v.9h-.9zM382.63 275.32h.9v.9h-.9zM387.7 279.38h.9v.9h-.9zM387.45 277.13h.9v.9h-.9zM378.54 274.62h.9v.9h-.9zM382.9 275.22h.9v.9h-.9zM387.21 275.85h.9v.9h-.9zM387.94 276.72h.9v.9h-.9zM383.9 276.57h.9v.9h-.9zM386.64 278.19h.9v.9h-.9zM383.38 275.84h.9v.9h-.9zM380.19 279.32h.9v.9h-.9zM390.33 276.33h.9v.9h-.9zM383.38 273.84h.9v.9h-.9zM385.71 276.84h.9v.9h-.9zM392.95 277.33h.9v.9h-.9zM382.3 271.38h.9v.9h-.9zM390.17 277.06h.9v.9h-.9zM379.31 276.44h.9v.9h-.9zM379.31 283h.9v.9h-.9zM389.13 277.76h.9v.9h-.9zM384.47 272.11h.9v.9h-.9zM384.64 273.28h.9v.9h-.9zM387.25 272.26h.9v.9h-.9zM381.83 278.65h.9v.9h-.9zM391.02 274.38h.9v.9h-.9zM379.58 277.84h.9v.9h-.9zM388.17 274.61h.9v.9h-.9zM382.6 274.88h.9v.9h-.9zM380.82 274.81h.9v.9h-.9zM389.6 278.02h.9v.9h-.9zM392.5 276.64h.9v.9h-.9zM384.61 274.42h.9v.9h-.9zM384.65 273.76h.9v.9h-.9zM378.7 277.43h.9v.9h-.9zM390.28 278.35h.9v.9h-.9zM389.9 277.17h.9v.9h-.9zM382.51 276.43h.9v.9h-.9zM383.75 274.11h.9v.9h-.9zM379.01 273.11h.9v.9h-.9zM385.08 276.7h.9v.9h-.9zM383.39 279.15h.9v.9h-.9zM385.74 277.6h.9v.9h-.9zM389.49 275.01h.9v.9h-.9zM378.01 277.5h.9v.9h-.9zM382.62 278.87h.9v.9h-.9zM386.32 278.47h.9v.9h-.9zM387.85 272.41h.9v.9h-.9zM387.69 275.2h.9v.9h-.9zM382.38 275.38h.9v.9h-.9zM387.87 278.31h.9v.9h-.9zM388.74 273.3h.9v.9h-.9zM382.97 271.55h.9v.9h-.9zM384.73 277.57h.9v.9h-.9zM382.35 276.73h.9v.9h-.9zM385.93 278.45h.9v.9h-.9zM382.14 274.59h.9v.9h-.9zM382.35 279.73h.9v.9h-.9zM389.03 276.37h.9v.9h-.9zM385.91 276.67h.9v.9h-.9zM385.83 276.03h.9v.9h-.9zM383.9 273.83h.9v.9h-.9zM382.79 279.56h.9v.9h-.9zM387.03 276.64h.9v.9h-.9zM384.33 276.48h.9v.9h-.9zM386.37 275.19h.9v.9h-.9zM385.81 276.92h.9v.9h-.9zM382.41 274.68h.9v.9h-.9zM381.5 274.08h.9v.9h-.9zM388.3 271.88h.9v.9h-.9zM384.14 275.13h.9v.9h-.9zM382.87 276.47h.9v.9h-.9zM389.16 276.78h.9v.9h-.9zM384.6 275.15h.9v.9h-.9zM384.64 278.19h.9v.9h-.9zM383.68 274.04h.9v.9h-.9zM380.55 273.94h.9v.9h-.9zM380.1 278.31h.9v.9h-.9zM386.38 276h.9v.9h-.9zM390.35 275.38h.9v.9h-.9zM387.81 278.14h.9v.9h-.9zM379.53 272.99h.9v.9h-.9zM381.76 278.02h.9v.9h-.9zM389.77 274.22h.9v.9h-.9zM388.87 275.85h.9v.9h-.9zM383.68 275.22h.9v.9h-.9zM383.93 272.72h.9v.9h-.9zM381.5 273.74h.9v.9h-.9zM386.87 280.66h.9v.9h-.9zM394.93 276.28h.9v.9h-.9zM378.9 275.25h.9v.9h-.9zM381.72 280.16h.9v.9h-.9zM387.16 275.06h.9v.9h-.9zM388.47 277.65h.9v.9h-.9zM379.25 275.02h.9v.9h-.9zM384.24 276.39h.9v.9h-.9zM385.58 275.75h.9v.9h-.9zM385.78 275.27h.9v.9h-.9z"/>
<path fill="#111" fill-opacity="0.6" d="M377.46 279.63h.9v.9h-.9zM381.86 277.69h.9v.9h-.9zM375.02 276.6h.9v.9h-.9zM383.47 274.58h.9v.9h-.9zM384.44 276.2h.9v.9h-.9zM382.01 276.66h.9v.9h-.9zM381.36 279.07h.9v.9h-.9zM379.19 279.72h.9v.9h-.9zM377.86 275.22h.9v.9h-.9zM383.09 274.98h.9v.9h-.9zM379.3 278.53h.9v.9h-.9zM384.84 273.71h.9v.9h-.9zM382.37 280.29h.9v.9h-.9zM384.78 276.47h.9v.9h-.9zM378.5 276.37h.9v.9h-.9zM376.57 276.42h.9v.9h-.9zM379.94 276.64h.9v.9h-.9zM384.74 276.49h.9v.9h-.9zM375.5 278.79h.9v.9h-.9zM376.85 276.09h.9v.9h-.9zM380.13 276.28h.9v.9h-.9zM377.09 276.45h.9v.9h-.9zM388.24 275.81h.9v.9h-.9zM380.12 278.92h.9v.9h-.9zM383.21 278.27h.9v.9h-.9zM383.62 273.36h.9v.9h-.9zM377.58 277.13h.9v.9h-.9zM382.35 279.23h.9v.9h-.9zM382.24 276.47h.9v.9h-.9zM380.74 276.52h.9v.9h-.9zM381.46 278.11h.9v.9h-.9zM379.41 275.44h.9v.9h-.9zM377.61 278.87h.9v.9h-.9zM385.08 278.69h.9v.9h-.9zM383.6 278.4h.9v.9h-.9zM380.59 278.09h.9v.9h-.9zM376.92 276.53h.9v.9h-.9zM378.03 278.21h.9v.9h-.9zM378.57 276.71h.9v.9h-.9zM382 279.34h.9v.9h-.9zM377.83 275.21h.9v.9h-.9zM383.46 274.91h.9v.9h-.9zM382.18 275.87h.9v.9h-.9zM380.23 273.62h.9v.9h-.9zM383.1 276h.9v.9h-.9zM377.45 280.64h.9v.9h-.9zM383.09 283.22h.9v.9h-.9zM382.03 276.27h.9v.9h-.9zM380.98 279.79h.9v.9h-.9zM380.51 277.71h.9v.9h-.9zM382.41 275.26h.9v.9h-.9zM381.05 276h.9v.9h-.9zM376.24 278.47h.9v.9h-.9zM382.93 277.03h.9v.9h-.9zM377.42 273.29h.9v.9h-.9zM382.3 276.72h.9v.9h-.9zM374.71 276.79h.9v.9h-.9zM375.28 276.85h.9v.9h-.9zM381.1 277.54h.9v.9h-.9zM381.36 277.21h.9v.9h-.9zM376.61 276.21h.9v.9h-.9zM378.81 276.48h.9v.9h-.9zM381.55 278.01h.9v.9h-.9zM386.32 272.28h.9v.9h-.9zM382 276.54h.9v.9h-.9zM388.57 278.58h.9v.9h-.9zM374.81 277.62h.9v.9h-.9zM378.78 278.69h.9v.9h-.9zM376.91 276.72h.9v.9h-.9zM380.14 276.73h.9v.9h-.9zM378.56 273.59h.9v.9h-.9zM382.21 278.7h.9v.9h-.9zM380.36 275.07h.9v.9h-.9zM381.31 277.92h.9v.9h-.9zM379.98 276.87h.9v.9h-.9zM385.53 274.89h.9v.9h-.9zM378.65 273.47h.9v.9h-.9zM378.15 275.57h.9v.9h-.9zM377.24 275.65h.9v.9h-.9zM386.89 276.55h.9v.9h-.9zM380.2 280.86h.9v.9h-.9zM380.39 273.78h.9v.9h-.9zM382.01 275.21h.9v.9h-.9zM386.34 274.66h.9v.9h-.9zM378.57 274.01h.9v.9h-.9zM380.94 275.07h.9v.9h-.9zM380.37 276.22h.9v.9h-.9zM378.45 278.6h.9v.9h-.9zM383.87 277.01h.9v.9h-.9zM377.45 274.97h.9v.9h-.9z"/>
<path fill="#111" fill-opacity="0.45" d="M385.22 284.47h.9v.9h-.9zM380.86 273.35h.9v.9h-.9zM379.42 272.27h.9v.9h-.9zM377.77 275.38h.9v.9h-.9zM392.2 276.1h.9v.9h-.9zM380.54 270.45h.9v.9h-.9zM384.88 276.01h.9v.9h-.9zM376.24 272.3h.9v.9h-.9zM383.35 279.64h.9v.9h-.9zM387.36 276.82h.9v.9h-.9zM381.66 277.22h.9v.9h-.9zM383.53 283.7h.9v.9h-.9zM376.81 274.81h.9v.9h-.9zM391.21 275.17h.9v.9h-.9zM392.15 275.95h.9v.9h-.9zM384.47 274.8h.9v.9h-.9zM375.32 272.7h.9v.9h-.9zM396.89 278.36h.9v.9h-.9zM387.23 279.44h.9v.9h-.9zM387.02 279.68h.9v.9h-.9zM382 275.32h.9v.9h-.9zM389.5 274.87h.9v.9h-.9zM375.62 275.31h.9v.9h-.9zM380.33 278.25h.9v.9h-.9zM379.28 272.39h.9v.9h-.9zM381.61 281.54h.9v.9h-.9zM383.31 276.66h.9v.9h-.9zM383.66 277.13h.9v.9h-.9zM389.17 280.99h.9v.9h-.9zM373.73 280.86h.9v.9h-.9zM383.58 274.98h.9v.9h-.9zM397.99 275.51h.9v.9h-.9zM395.27 279.49h.9v.9h-.9zM377.42 277.81h.9v.9h-.9zM388.02 275.66h.9v.9h-.9zM369.63 274.9h.9v.9h-.9zM382.45 272.22h.9v.9h-.9zM394.55 275.24h.9v.9h-.9zM381.24 275.05h.9v.9h-.9zM378.9 273.38h.9v.9h-.9zM384.16 277.2h.9v.9h-.9zM380.56 275.78h.9v.9h-.9zM375.26 277.93h.9v.9h-.9zM379.1 276.85h.9v.9h-.9zM378.16 274.3h.9v.9h-.9zM384.89 271.86h.9v.9h-.9zM398.42 275.97h.9v.9h-.9zM383.16 273.53h.9v.9h-.9zM393.17 280.95h.9v.9h-.9zM385.4 271.31h.9v.9h-.9zM380.57 278.26h.9v.9h-.9zM380.53 271.96h.9v.9h-.9zM376.47 273.4h.9v.9h-.9zM383.68 273.83h.9v.9h-.9zM383.71 285.87h.9v.9h-.9zM394.24 272.47h.9v.9h-.9zM385.66 276.4h.9v.9h-.9zM382.77 279.75h.9v.9h-.9zM381.61 274.96h.9v.9h-.9zM381.35 275.75h.9v.9h-.9zM391.31 278.82h.9v.9h-.9zM375.55 274.55h.9v.9h-.9zM378.81 278.96h.9v.9h-.9zM384.95 279.21h.9v.9h-.9zM383.23 269.42h.9v.9h-.9zM386.31 276.9h.9v.9h-.9zM386.65 271.54h.9v.9h-.9zM384.09 273.69h.9v.9h-.9zM379.48 277.34h.9v.9h-.9zM385.72 272.98h.9v.9h-.9zM373.33 267.44h.9v.9h-.9zM380.15 280.03h.9v.9h-.9zM383.27 268.22h.9v.9h-.9zM378.42 277.58h.9v.9h-.9zM393.64 280.19h.9v.9h-.9zM385.8 276.79h.9v.9h-.9zM377.24 274.52h.9v.9h-.9zM381.6 273.39h.9v.9h-.9zM383.98 274.73h.9v.9h-.9zM385.62 281.12h.9v.9h-.9zM388.05 277.56h.9v.9h-.9zM382.16 270.78h.9v.9h-.9zM382.92 278h.9v.9h-.9zM377.55 280.49h.9v.9h-.9zM381.6 277.4h.9v.9h-.9zM381.63 271.71h.9v.9h-.9zM396.01 272.04h.9v.9h-.9zM389.11 274.15h.9v.9h-.9zM385.27 273.28h.9v.9h-.9zM381.1 279.32h.9v.9h-.9zM395.27 273.14h.9v.9h-.9zM383.66 279.42h.9v.9h-.9zM379.81 278.59h.9v.9h-.9zM378.89 278.21h.9v.9h-.9zM386.22 280.34h.9v.9h-.9zM385.78 271.92h.9v.9h-.9zM387.59 272.24h.9v.9h-.9zM388.1 281.39h.9v.9h-.9zM387.17 274.16h.9v.9h-.9zM390.75 276.69h.9v.9h-.9zM376.13 274.86h.9v.9h-.9zM392.12 275.04h.9v.9h-.9zM384.33 274.9h.9v.9h-.9zM373.48 274.31h.9v.9h-.9zM385.74 276.83h.9v.9h-.9zM382.56 268.63h.9v.9h-.9zM390.93 278.62h.9v.9h-.9zM389.74 280.65h.9v.9h-.9zM380.93 273.98h.9v.9h-.9zM385.49 281.96h.9v.9h-.9z"/>
<path fill="#111" fill-opacity="0.28" d="M371.12 272.61h.9v.9h-.9zM378.88 277.74h.9v.9h-.9zM396.31 272.18h.9v.9h-.9zM374.68 274.42h.9v.9h-.9zM382.32 264.07h.9v.9h-.9zM391.68 270.7h.9v.9h-.9zM390.07 265.55h.9v.9h-.9zM393.37 264.73h.9v.9h-.9zM393.03 262.33h.9v.9h-.9zM395.64 271.66h.9v.9h-.9zM372.15 272.57h.9v.9h-.9zM387.3 267.66h.9v.9h-.9zM380.65 275.85h.9v.9h-.9zM381.16 276.88h.9v.9h-.9zM386.98 280.66h.9v.9h-.9zM391 276.13h.9v.9h-.9zM393.28 280.3h.9v.9h-.9zM385.42 270.07h.9v.9h-.9zM392.79 276.85h.9v.9h-.9zM369.46 266.92h.9v.9h-.9zM388.34 274.81h.9v.9h-.9zM386.84 278.27h.9v.9h-.9zM385.76 284.39h.9v.9h-.9zM379.88 271.5h.9v.9h-.9zM387.18 278.95h.9v.9h-.9zM390.9 283.77h.9v.9h-.9zM380.79 281.69h.9v.9h-.9zM388.34 267.32h.9v.9h-.9zM390.88 271.05h.9v.9h-.9zM378.98 274.6h.9v.9h-.9zM403.08 278.95h.9v.9h-.9zM387.1 268.02h.9v.9h-.9zM375.11 272.75h.9v.9h-.9zM381.37 270.1h.9v.9h-.9zM393.63 274.6h.9v.9h-.9zM374.72 282.48h.9v.9h-.9zM382.1 265.46h.9v.9h-.9zM387.17 277.27h.9v.9h-.9zM381.9 278.63h.9v.9h-.9zM391.17 268.37h.9v.9h-.9zM383.58 282.1h.9v.9h-.9zM392.62 283.15h.9v.9h-.9zM399.45 274.2h.9v.9h-.9zM393.05 264.16h.9v.9h-.9zM390.11 276.65h.9v.9h-.9zM383.84 271.23h.9v.9h-.9zM375.67 275.01h.9v.9h-.9zM394.82 271.72h.9v.9h-.9zM388.85 269.78h.9v.9h-.9zM386.63 267.55h.9v.9h-.9zM387.63 272.68h.9v.9h-.9zM387.12 270.16h.9v.9h-.9zM375.19 271.96h.9v.9h-.9zM392.89 284.36h.9v.9h-.9zM382 279.3h.9v.9h-.9zM390.67 276.65h.9v.9h-.9zM372.19 276.21h.9v.9h-.9zM376.84 281.75h.9v.9h-.9zM390.91 278.11h.9v.9h-.9zM390.2 265.79h.9v.9h-.9zM392.36 274.59h.9v.9h-.9zM383.14 269.46h.9v.9h-.9zM376.45 271.28h.9v.9h-.9zM409.29 275.42h.9v.9h-.9zM386.26 269.89h.9v.9h-.9zM379.66 270.51h.9v.9h-.9zM377.51 279.79h.9v.9h-.9zM382.44 279.73h.9v.9h-.9zM375.36 280.14h.9v.9h-.9zM384.38 278.44h.9v.9h-.9zM383.77 268.33h.9v.9h-.9zM394.28 271.27h.9v.9h-.9zM383.42 268.34h.9v.9h-.9zM386.24 271.57h.9v.9h-.9zM386.86 276.34h.9v.9h-.9zM379.09 264.93h.9v.9h-.9zM388.06 280.06h.9v.9h-.9zM390.17 266.65h.9v.9h-.9zM389.44 276.6h.9v.9h-.9zM386.87 276.89h.9v.9h-.9zM382.01 275.5h.9v.9h-.9zM392.01 270.82h.9v.9h-.9zM373.08 273.42h.9v.9h-.9zM386.17 262.11h.9v.9h-.9zM379.19 277.93h.9v.9h-.9zM383.4 274.7h.9v.9h-.9zM374.53 279.99h.9v.9h-.9zM398.64 272.8h.9v.9h-.9zM378.74 266.58h.9v.9h-.9zM391.72 274.78h.9v.9h-.9zM378.25 281.99h.9v.9h-.9zM390.72 278.02h.9v.9h-.9zM370.52 273.43h.9v.9h-.9zM389.61 266.14h.9v.9h-.9zM392.03 283.4h.9v.9h-.9zM392.87 269.41h.9v.9h-.9zM378.94 280.22h.9v.9h-.9zM392.55 282.09h.9v.9h-.9zM394.2 273.45h.9v.9h-.9zM381.32 262.04h.9v.9h-.9zM380.89 271.01h.9v.9h-.9zM389.79 276.53h.9v.9h-.9zM373.64 269.46h.9v.9h-.9zM378.86 279.65h.9v.9h-.9zM396.01 284.69h.9v.9h-.9zM374.72 271.85h.9v.9h-.9zM378.78 272.21h.9v.9h-.9zM405.57 263.19h.9v.9h-.9zM389.07 266.06h.9v.9h-.9zM395.31 282.55h.9v.9h-.9zM385.2 282.57h.9v.9h-.9zM387.09 270.46h.9v.9h-.9zM381.56 273.33h.9v.9h-.9zM389.54 274.92h.9v.9h-.9zM403.48 272.84h.9v.9h-.9zM380.87 269.42h.9v.9h-.9zM378.38 264.74h.9v.9h-.9zM376.72 279.99h.9v.9h-.9zM385.08 272.99h.9v.9h-.9zM387.4 281.04h.9v.9h-.9zM389.52 279.13h.9v.9h-.9zM380.12 272.4h.9v.9h-.9zM378.39 273.47h.9v.9h-.9zM378.06 271.68h.9v.9h-.9zM383.2 272.7h.9v.9h-.9zM382.47 270.9h.9v.9h-.9zM395.08 271.88h.9v.9h-.9zM376.51 275.36h.9v.9h-.9zM375.89 267.13h.9v.9h-.9zM385.27 263.26h.9v.9h-.9zM392.88 263.24h.9v.9h-.9zM377.42 277.85h.9v.9h-.9zM368.7 268.42h.9v.9h-.9zM374.97 272.81h.9v.9h-.9zM368.82 279.92h.9v.9h-.9zM383.45 276.07h.9v.9h-.9zM381.98 260.31h.9v.9h-.9zM383.38 265.39h.9v.9h-.9z"/>
<path fill="#111" fill-opacity="0.35" d="M405.67 272.84h.9v.9h-.9zM403.54 276.05h.9v.9h-.9zM410.62 280.93h.9v.9h-.9zM399.07 277.02h.9v.9h-.9zM415.09 279.57h.9v.9h-.9zM400.86 276.49h.9v.9h-.9zM403.34 281.81h.9v.9h-.9zM405.82 278.98h.9v.9h-.9zM419.97 270.21h.9v.9h-.9zM399.01 268.44h.9v.9h-.9zM395.25 281.39h.9v.9h-.9zM407.5 285.26h.9v.9h-.9zM392.77 272.69h.9v.9h-.9zM414.98 282.25h.9v.9h-.9zM411.35 281.46h.9v.9h-.9zM405.81 277.05h.9v.9h-.9zM405.81 281.31h.9v.9h-.9zM404.54 278.7h.9v.9h-.9zM415.05 271.47h.9v.9h-.9zM400.72 279.92h.9v.9h-.9zM403.89 276.32h.9v.9h-.9zM419.24 279.18h.9v.9h-.9zM402.89 282.59h.9v.9h-.9zM421.96 271.55h.9v.9h-.9zM401.24 277.68h.9v.9h-.9zM409.02 275.11h.9v.9h-.9zM408.79 273.12h.9v.9h-.9zM401.67 277.63h.9v.9h-.9zM421.12 265.85h.9v.9h-.9zM408.33 283.85h.9v.9h-.9zM408.53 277.83h.9v.9h-.9zM404.75 272.82h.9v.9h-.9zM416.23 271.18h.9v.9h-.9zM404.8 274.48h.9v.9h-.9zM400.5 265.99h.9v.9h-.9zM403.12 277.79h.9v.9h-.9zM406.53 281.32h.9v.9h-.9zM404.54 273.89h.9v.9h-.9zM407.6 280.42h.9v.9h-.9zM399.72 269.5h.9v.9h-.9zM398.94 282.39h.9v.9h-.9zM412.09 272.67h.9v.9h-.9zM406.32 281.29h.9v.9h-.9zM414.24 273.81h.9v.9h-.9zM404.04 284.15h.9v.9h-.9zM421.27 284.75h.9v.9h-.9zM398.18 279.34h.9v.9h-.9zM403.66 276.81h.9v.9h-.9zM401.29 274.7h.9v.9h-.9zM410.15 279.23h.9v.9h-.9zM405.77 273.35h.9v.9h-.9zM404.11 283.3h.9v.9h-.9zM407.29 277h.9v.9h-.9zM395.08 279.09h.9v.9h-.9zM394.4 284.73h.9v.9h-.9zM401.51 277.1h.9v.9h-.9zM396.82 274.62h.9v.9h-.9zM399.55 282.76h.9v.9h-.9zM407.21 271.2h.9v.9h-.9zM393.05 276.76h.9v.9h-.9zM402.44 271.55h.9v.9h-.9zM409.43 276.17h.9v.9h-.9zM406.32 274.15h.9v.9h-.9zM401.89 274.8h.9v.9h-.9zM395.18 280.25h.9v.9h-.9zM408.22 268.48h.9v.9h-.9zM406.26 282.87h.9v.9h-.9zM407.14 283.58h.9v.9h-.9zM403.86 277.11h.9v.9h-.9zM397.15 272.57h.9v.9h-.9zM393.75 272.62h.9v.9h-.9zM407.19 279.7h.9v.9h-.9zM413.16 277.75h.9v.9h-.9zM399.17 279.26h.9v.9h-.9zM418.33 281.9h.9v.9h-.9zM398.21 274.47h.9v.9h-.9zM406.84 273.54h.9v.9h-.9zM409 280.53h.9v.9h-.9zM411.05 278.24h.9v.9h-.9zM399.86 272.89h.9v.9h-.9zM404.8 283.74h.9v.9h-.9zM415.83 281.99h.9v.9h-.9zM407.96 280.48h.9v.9h-.9zM410.95 283.56h.9v.9h-.9zM411.16 269.42h.9v.9h-.9zM411.8 279.03h.9v.9h-.9zM402.61 279.73h.9v.9h-.9zM407.47 276.83h.9v.9h-.9zM394.62 277.66h.9v.9h-.9zM409.22 276.86h.9v.9h-.9zM395.28 279.39h.9v.9h-.9zM410.28 278.01h.9v.9h-.9zM408.37 275.34h.9v.9h-.9zM401.32 279.72h.9v.9h-.9zM403.29 278.01h.9v.9h-.9zM406.48 268.99h.9v.9h-.9zM406.23 280.89h.9v.9h-.9zM401.02 275.91h.9v.9h-.9zM390.95 279.88h.9v.9h-.9zM401.73 280.52h.9v.9h-.9zM414.47 276.29h.9v.9h-.9zM412 278.35h.9v.9h-.9zM404.27 275.7h.9v.9h-.9zM400.07 283.52h.9v.9h-.9zM398.88 282.09h.9v.9h-.9zM398.65 282.64h.9v.9h-.9zM395.69 285.26h.9v.9h-.9zM402.64 283.97h.9v.9h-.9zM396.24 283.07h.9v.9h-.9zM391.87 284.62h.9v.9h-.9zM391.55 282.33h.9v.9h-.9zM393.42 284.48h.9v.9h-.9zM395.54 285.52h.9v.9h-.9zM392.57 282.56h.9v.9h-.9zM391.37 284.98h.9v.9h-.9zM398.82 283.37h.9v.9h-.9zM394.55 280.91h.9v.9h-.9zM394.62 283.88h.9v.9h-.9zM391.01 285.87h.9v.9h-.9zM391.6 284.02h.9v.9h-.9zM390.12 285.01h.9v.9h-.9zM396.92 284.39h.9v.9h-.9zM392.34 283.81h.9v.9h-.9zM390.48 283.8h.9v.9h-.9zM392.35 282.6h.9v.9h-.9zM392.24 281.17h.9v.9h-.9zM396.05 285.18h.9v.9h-.9zM388.69 285.21h.9v.9h-.9zM396.46 283.03h.9v.9h-.9zM392.16 285.88h.9v.9h-.9zM393.97 284.66h.9v.9h-.9zM401.97 284.53h.9v.9h-.9zM383.61 282.64h.9v.9h-.9zM398.59 283.84h.9v.9h-.9zM387.15 280.16h.9v.9h-.9zM386.12 279.79h.9v.9h-.9zM396.57 283.02h.9v.9h-.9zM391.85 283.46h.9v.9h-.9zM388.22 284.98h.9v.9h-.9zM399.08 284.83h.9v.9h-.9zM392.94 285.25h.9v.9h-.9z"/>
<rect x="367.4" y="259.1" width="58.1" height="58.2" fill="none" stroke="#8a8ad8" stroke-width="0.75"/>
<line x1="396.6" y1="259.1" x2="396.6" y2="317.3" stroke="#a8467a" stroke-width="0.75"/>
<line x1="367.4" y1="287.1" x2="425.5" y2="287.1" stroke="#a8467a" stroke-width="0.75"/>
<text x="368" y="263.8" font-size="4.3" fill="#b04a78" textLength="13.5" lengthAdjust="spacingAndGlyphs">Q14-UL</text>
<text x="368" y="267.4" font-size="4.3" fill="#b04a78" textLength="9.5" lengthAdjust="spacingAndGlyphs">95.3%</text>
<text x="411.1" y="263.8" font-size="4.3" fill="#b04a78" textLength="13.5" lengthAdjust="spacingAndGlyphs">Q14-UR</text>
<text x="411.1" y="267.4" font-size="4.3" fill="#b04a78" textLength="8" lengthAdjust="spacingAndGlyphs">4.7%</text>
<text x="368" y="313.1" font-size="4.3" fill="#b04a78" textLength="13.5" lengthAdjust="spacingAndGlyphs">Q14-LL</text>
<text x="368" y="316.7" font-size="4.3" fill="#b04a78" textLength="9" lengthAdjust="spacingAndGlyphs">0.0%</text>
<text x="411.1" y="313.1" font-size="4.3" fill="#b04a78" textLength="13.5" lengthAdjust="spacingAndGlyphs">Q14-LR</text>
<text x="411.1" y="316.7" font-size="4.3" fill="#b04a78" textLength="9" lengthAdjust="spacingAndGlyphs">0.0%</text>
<path fill="#111" fill-opacity="0.45" d="M457.4 264.14h.9v.9h-.9zM461.6 262.93h.9v.9h-.9zM466.08 264.97h.9v.9h-.9zM461.61 268.75h.9v.9h-.9zM460.82 260.83h.9v.9h-.9zM457.65 262.25h.9v.9h-.9zM464.97 266.81h.9v.9h-.9zM466.7 269.61h.9v.9h-.9zM468.8 266.9h.9v.9h-.9zM467.49 266.76h.9v.9h-.9zM460.69 266.24h.9v.9h-.9zM462.98 263.94h.9v.9h-.9zM470.02 267.48h.9v.9h-.9zM461.03 264.01h.9v.9h-.9zM471.29 265.06h.9v.9h-.9zM465.47 266.45h.9v.9h-.9zM464.66 266.25h.9v.9h-.9zM461.05 263.02h.9v.9h-.9zM462.22 263.46h.9v.9h-.9zM465.75 268.88h.9v.9h-.9zM459.56 265.41h.9v.9h-.9zM459.23 262.17h.9v.9h-.9zM461.93 264.62h.9v.9h-.9zM467.86 264.5h.9v.9h-.9zM460.48 265.89h.9v.9h-.9zM460.62 260.47h.9v.9h-.9zM464.59 265.81h.9v.9h-.9zM459.79 266.2h.9v.9h-.9zM464.16 261.74h.9v.9h-.9zM469.19 266.09h.9v.9h-.9zM458.66 265.04h.9v.9h-.9zM463.26 267.04h.9v.9h-.9zM457.87 266.45h.9v.9h-.9zM466.24 266.76h.9v.9h-.9zM465.03 268.19h.9v.9h-.9zM465.42 265.18h.9v.9h-.9zM459.74 266.9h.9v.9h-.9zM466.38 265.75h.9v.9h-.9zM463.35 266.41h.9v.9h-.9zM453.61 263.96h.9v.9h-.9zM453.67 263.77h.9v.9h-.9zM466.65 269.91h.9v.9h-.9zM461.07 265.32h.9v.9h-.9zM465.44 264.8h.9v.9h-.9zM463.03 262.05h.9v.9h-.9zM462.63 264.64h.9v.9h-.9zM467.44 265.88h.9v.9h-.9zM475.51 265.23h.9v.9h-.9zM461.81 264.17h.9v.9h-.9zM459.81 267.92h.9v.9h-.9zM465.13 261.5h.9v.9h-.9zM463.17 267.47h.9v.9h-.9zM457.6 264.08h.9v.9h-.9zM461.91 270.35h.9v.9h-.9zM464.29 263.61h.9v.9h-.9zM460.72 269.03h.9v.9h-.9zM461.07 270.1h.9v.9h-.9zM457.07 263.13h.9v.9h-.9zM461.9 262.5h.9v.9h-.9zM462 266.12h.9v.9h-.9zM460.35 260.39h.9v.9h-.9zM467.68 268.95h.9v.9h-.9zM460.25 264.87h.9v.9h-.9zM453.38 265.78h.9v.9h-.9zM457.91 262.31h.9v.9h-.9zM470.67 262.32h.9v.9h-.9zM462.85 261.69h.9v.9h-.9zM456.02 260.46h.9v.9h-.9zM463.76 261.21h.9v.9h-.9zM460.62 266.01h.9v.9h-.9zM462.19 260.97h.9v.9h-.9zM468.23 265.54h.9v.9h-.9zM467.9 262.48h.9v.9h-.9zM468.92 261.85h.9v.9h-.9zM456.4 262.43h.9v.9h-.9zM461.41 264.92h.9v.9h-.9zM460.72 265.79h.9v.9h-.9zM467.64 263.46h.9v.9h-.9zM457.75 262.68h.9v.9h-.9zM465.75 266.98h.9v.9h-.9zM461.5 261.71h.9v.9h-.9zM462.7 266.92h.9v.9h-.9zM460.16 267.41h.9v.9h-.9zM463.59 265.31h.9v.9h-.9zM460.48 267.62h.9v.9h-.9zM462.92 260.61h.9v.9h-.9zM465.75 263.79h.9v.9h-.9zM466.69 265.44h.9v.9h-.9zM460.48 264.55h.9v.9h-.9zM460.97 262.04h.9v.9h-.9zM462.83 266.6h.9v.9h-.9zM463.02 264.25h.9v.9h-.9zM460.74 265.62h.9v.9h-.9zM463.75 267.05h.9v.9h-.9zM464.09 270.13h.9v.9h-.9zM457.03 263.47h.9v.9h-.9zM464.71 267.03h.9v.9h-.9zM457.17 260.47h.9v.9h-.9zM462.6 267.13h.9v.9h-.9zM466.76 261.1h.9v.9h-.9zM463.23 267.53h.9v.9h-.9zM462.86 261.79h.9v.9h-.9zM460.14 260.61h.9v.9h-.9zM467.11 264.39h.9v.9h-.9zM461.19 261.95h.9v.9h-.9zM462.25 262.02h.9v.9h-.9zM459.19 263.81h.9v.9h-.9zM461.92 265.49h.9v.9h-.9zM463.29 267.56h.9v.9h-.9zM462.59 265.08h.9v.9h-.9zM463.58 262.47h.9v.9h-.9zM467.08 263.6h.9v.9h-.9zM456.99 266.81h.9v.9h-.9zM465.13 263.32h.9v.9h-.9zM466.22 267.42h.9v.9h-.9zM465.31 261.78h.9v.9h-.9zM463.39 261.85h.9v.9h-.9zM460.52 262.66h.9v.9h-.9zM459.67 265.25h.9v.9h-.9zM459.88 265.61h.9v.9h-.9zM463.37 262.96h.9v.9h-.9zM463.37 266.29h.9v.9h-.9zM466.91 264.36h.9v.9h-.9zM469.06 266.81h.9v.9h-.9zM467.28 261.6h.9v.9h-.9zM458.9 266.98h.9v.9h-.9zM461.93 265.5h.9v.9h-.9zM467.11 261.34h.9v.9h-.9z"/>
<path fill="#111" fill-opacity="0.55" d="M462.69 266h.9v.9h-.9zM463.47 263.01h.9v.9h-.9zM462.94 262.88h.9v.9h-.9zM463.41 264.97h.9v.9h-.9zM461.19 263.79h.9v.9h-.9zM462.37 264.07h.9v.9h-.9zM463.55 261.13h.9v.9h-.9zM464.28 264.26h.9v.9h-.9zM459.26 262.41h.9v.9h-.9zM458.45 262.4h.9v.9h-.9zM462.42 261h.9v.9h-.9zM459.97 261.45h.9v.9h-.9zM460.15 261.62h.9v.9h-.9zM459.32 263.78h.9v.9h-.9zM461.21 261.54h.9v.9h-.9zM463.88 261.95h.9v.9h-.9zM463.67 260.87h.9v.9h-.9zM464.81 262.14h.9v.9h-.9zM459.59 263.52h.9v.9h-.9zM458.73 261.12h.9v.9h-.9zM462.21 262.09h.9v.9h-.9zM462.57 263.09h.9v.9h-.9zM462.25 263.08h.9v.9h-.9zM463.26 262.86h.9v.9h-.9zM464.13 264.39h.9v.9h-.9zM457.33 260.04h.9v.9h-.9zM465.13 262.15h.9v.9h-.9zM462.1 262.68h.9v.9h-.9zM462.29 266.42h.9v.9h-.9zM460.12 262.97h.9v.9h-.9zM461.7 261.12h.9v.9h-.9zM459.75 262.43h.9v.9h-.9zM461.65 263.48h.9v.9h-.9zM457.34 260.34h.9v.9h-.9zM465.33 262.57h.9v.9h-.9zM463.51 262.18h.9v.9h-.9zM460.11 266.26h.9v.9h-.9zM458.95 261.4h.9v.9h-.9zM463.18 262.89h.9v.9h-.9zM458.06 263.09h.9v.9h-.9zM463.3 260.41h.9v.9h-.9zM460.45 264.13h.9v.9h-.9zM460.16 262.9h.9v.9h-.9zM459.67 261.4h.9v.9h-.9zM460.57 263.68h.9v.9h-.9zM459.32 264.25h.9v.9h-.9zM463.52 264.23h.9v.9h-.9zM465.07 262.02h.9v.9h-.9zM461.57 264.47h.9v.9h-.9zM464.48 264.37h.9v.9h-.9zM460.68 262.07h.9v.9h-.9zM458.77 262.16h.9v.9h-.9zM459.7 262.07h.9v.9h-.9zM460.84 264.19h.9v.9h-.9zM463.57 262.78h.9v.9h-.9zM459.16 262.77h.9v.9h-.9zM462.63 264.23h.9v.9h-.9zM462.14 264.16h.9v.9h-.9zM460.23 263.9h.9v.9h-.9z"/>
<path fill="#111" fill-opacity="0.35" d="M462.54 273.48h.9v.9h-.9zM458.79 278.28h.9v.9h-.9zM458.2 275.61h.9v.9h-.9zM460.01 272.14h.9v.9h-.9zM460.05 271.76h.9v.9h-.9zM460.59 281.62h.9v.9h-.9zM464.33 275.39h.9v.9h-.9zM461.87 278.55h.9v.9h-.9zM459.62 281.33h.9v.9h-.9zM460.77 276.72h.9v.9h-.9zM458.3 267.89h.9v.9h-.9zM458.19 269.88h.9v.9h-.9zM463.28 274.04h.9v.9h-.9zM462.9 273.39h.9v.9h-.9zM458.3 273.43h.9v.9h-.9zM459.69 266.32h.9v.9h-.9zM460.81 279.15h.9v.9h-.9zM460.17 268.56h.9v.9h-.9zM458.79 267.76h.9v.9h-.9zM460.08 269.6h.9v.9h-.9zM460.41 274.59h.9v.9h-.9zM464.01 270.82h.9v.9h-.9zM455.56 278.21h.9v.9h-.9zM461.77 273.02h.9v.9h-.9zM461.95 270.69h.9v.9h-.9zM459.84 276.45h.9v.9h-.9zM459.9 274.14h.9v.9h-.9zM461.78 275.11h.9v.9h-.9zM460.08 275.88h.9v.9h-.9zM464 281.26h.9v.9h-.9zM458.49 276.08h.9v.9h-.9zM455.92 265.35h.9v.9h-.9zM461.69 276.84h.9v.9h-.9zM464.1 268.45h.9v.9h-.9zM463.39 273.12h.9v.9h-.9zM459.52 275.27h.9v.9h-.9zM464.2 271.85h.9v.9h-.9zM456.4 269.11h.9v.9h-.9zM460.39 278.98h.9v.9h-.9zM461.6 273.2h.9v.9h-.9zM459.42 271.31h.9v.9h-.9zM463.1 268.16h.9v.9h-.9zM458.95 269.29h.9v.9h-.9zM463.49 276.04h.9v.9h-.9zM459 276.29h.9v.9h-.9zM465.57 281.01h.9v.9h-.9zM457.42 271.32h.9v.9h-.9zM463.52 267.73h.9v.9h-.9zM457.62 270.54h.9v.9h-.9zM461.98 271.15h.9v.9h-.9zM461.05 273.48h.9v.9h-.9zM461.48 269.23h.9v.9h-.9zM455.12 261.74h.9v.9h-.9zM461.08 278.37h.9v.9h-.9zM461.87 267.72h.9v.9h-.9zM456.32 270.36h.9v.9h-.9zM458.37 264.83h.9v.9h-.9zM459.21 269.74h.9v.9h-.9zM460.36 275.4h.9v.9h-.9zM461.13 274.97h.9v.9h-.9zM461.96 274.17h.9v.9h-.9zM459.53 271.83h.9v.9h-.9zM463.61 274.31h.9v.9h-.9zM462.67 282.12h.9v.9h-.9zM465 267.05h.9v.9h-.9zM461.02 278.32h.9v.9h-.9zM459.52 270.25h.9v.9h-.9zM457.08 269.08h.9v.9h-.9zM460.65 265.82h.9v.9h-.9zM460.61 270.29h.9v.9h-.9z"/>
<path fill="#111" fill-opacity="0.5" d="M472.79 282.29h.9v.9h-.9zM473.1 284.4h.9v.9h-.9zM469.22 282.99h.9v.9h-.9zM477.42 285.2h.9v.9h-.9zM468.78 284.87h.9v.9h-.9zM466.91 283.24h.9v.9h-.9zM458.09 283.17h.9v.9h-.9zM476.08 283.29h.9v.9h-.9zM475.62 283.03h.9v.9h-.9zM474.19 283.87h.9v.9h-.9zM468.46 281.84h.9v.9h-.9zM473.32 284.93h.9v.9h-.9zM474.39 283.94h.9v.9h-.9zM475.78 281.77h.9v.9h-.9zM481.29 284.07h.9v.9h-.9zM462.44 285.54h.9v.9h-.9zM471.94 284.61h.9v.9h-.9zM482.59 283.21h.9v.9h-.9zM469.54 282.46h.9v.9h-.9zM473.61 285.25h.9v.9h-.9zM474.62 284.41h.9v.9h-.9zM462.05 284.57h.9v.9h-.9zM478.07 283.26h.9v.9h-.9zM470 282.41h.9v.9h-.9zM473.88 281.47h.9v.9h-.9zM482.22 283.79h.9v.9h-.9zM469.68 282.06h.9v.9h-.9zM469.86 284.42h.9v.9h-.9zM470.17 282.22h.9v.9h-.9zM468.04 284.78h.9v.9h-.9zM478.8 282.83h.9v.9h-.9zM470.96 283.33h.9v.9h-.9zM469.68 283.84h.9v.9h-.9zM474.35 285.19h.9v.9h-.9zM471.89 282.16h.9v.9h-.9zM474.87 283.46h.9v.9h-.9zM466.64 282.45h.9v.9h-.9zM469.94 283.77h.9v.9h-.9zM478.39 283.82h.9v.9h-.9zM474.97 283.58h.9v.9h-.9zM472.46 284.79h.9v.9h-.9zM474.67 285.26h.9v.9h-.9zM482.32 282.98h.9v.9h-.9zM470.05 282.53h.9v.9h-.9zM481.72 284.93h.9v.9h-.9zM474.95 284.91h.9v.9h-.9zM463.46 285.44h.9v.9h-.9zM473.34 284.66h.9v.9h-.9zM473.14 283.98h.9v.9h-.9zM472.33 283.17h.9v.9h-.9zM471.57 285.21h.9v.9h-.9zM462.14 285.54h.9v.9h-.9zM475.92 282.32h.9v.9h-.9zM475.25 284.65h.9v.9h-.9zM473.58 283.91h.9v.9h-.9zM473.79 284.66h.9v.9h-.9zM472.12 280.61h.9v.9h-.9zM488.14 280.93h.9v.9h-.9zM475.74 284.94h.9v.9h-.9zM469.14 280.76h.9v.9h-.9zM472.16 284.12h.9v.9h-.9zM473.12 284.2h.9v.9h-.9zM468.32 281.04h.9v.9h-.9zM476.92 283.25h.9v.9h-.9zM470.18 281.76h.9v.9h-.9zM471.81 283.4h.9v.9h-.9zM474.83 283.46h.9v.9h-.9zM465.42 284.97h.9v.9h-.9zM472.28 280.92h.9v.9h-.9zM471 285.42h.9v.9h-.9zM472.38 283.58h.9v.9h-.9zM475.65 283.04h.9v.9h-.9zM469.22 285.02h.9v.9h-.9zM471.9 283.08h.9v.9h-.9zM473.82 284.57h.9v.9h-.9zM473.14 284.09h.9v.9h-.9zM468.04 284.47h.9v.9h-.9zM470.91 285.55h.9v.9h-.9zM476.69 285.22h.9v.9h-.9zM472.42 284.69h.9v.9h-.9zM469.77 279.34h.9v.9h-.9zM475.8 281.54h.9v.9h-.9zM472.95 284.91h.9v.9h-.9zM480.16 283.84h.9v.9h-.9zM472.13 283.17h.9v.9h-.9zM474.21 282.07h.9v.9h-.9zM475.53 284.71h.9v.9h-.9zM479.44 283.62h.9v.9h-.9zM474.33 284.48h.9v.9h-.9zM472.61 282.52h.9v.9h-.9zM469.91 284.23h.9v.9h-.9zM469.72 284.58h.9v.9h-.9zM475.77 285.6h.9v.9h-.9zM473.95 284.5h.9v.9h-.9zM471 284.19h.9v.9h-.9zM471.75 281.21h.9v.9h-.9zM469.2 280.08h.9v.9h-.9zM470.93 284.44h.9v.9h-.9zM473.52 283.72h.9v.9h-.9zM480.06 283.83h.9v.9h-.9zM474.35 284.04h.9v.9h-.9zM482.7 281.38h.9v.9h-.9zM473.76 281.9h.9v.9h-.9zM469.18 282.54h.9v.9h-.9zM476.57 282.32h.9v.9h-.9zM467.73 283.59h.9v.9h-.9zM468 282.47h.9v.9h-.9zM480.61 283.03h.9v.9h-.9zM464.65 283.65h.9v.9h-.9zM475.13 284.52h.9v.9h-.9zM476.49 282.88h.9v.9h-.9zM468.05 285.06h.9v.9h-.9zM465.03 284.16h.9v.9h-.9zM485.38 281.87h.9v.9h-.9zM483.96 284.62h.9v.9h-.9zM473.53 282.83h.9v.9h-.9zM471.21 281.96h.9v.9h-.9z"/>
<path fill="#111" fill-opacity="0.28" d="M470.21 277.29h.9v.9h-.9zM469.73 277.17h.9v.9h-.9zM479.35 274.2h.9v.9h-.9zM472.59 267.61h.9v.9h-.9zM485.4 269.27h.9v.9h-.9zM475.81 273.94h.9v.9h-.9zM493.51 279.71h.9v.9h-.9zM484.52 278.94h.9v.9h-.9zM478.36 273.77h.9v.9h-.9zM467.76 278.31h.9v.9h-.9zM476.35 277.28h.9v.9h-.9zM495.45 280.14h.9v.9h-.9zM487.85 280.25h.9v.9h-.9zM475.92 271.1h.9v.9h-.9zM469.64 271.56h.9v.9h-.9zM480.97 279.14h.9v.9h-.9zM483.84 272.92h.9v.9h-.9zM471.91 275.27h.9v.9h-.9zM482 263.14h.9v.9h-.9zM480.45 266.41h.9v.9h-.9zM476.63 274.14h.9v.9h-.9zM472.94 271.93h.9v.9h-.9zM479.85 268.98h.9v.9h-.9zM484.55 278.9h.9v.9h-.9zM483.61 268.67h.9v.9h-.9zM478.43 273.02h.9v.9h-.9zM480.58 279.44h.9v.9h-.9zM476.09 275.1h.9v.9h-.9zM485.51 272.99h.9v.9h-.9zM484.78 274.83h.9v.9h-.9zM469.92 274.71h.9v.9h-.9zM480.78 272.45h.9v.9h-.9zM493.14 272.63h.9v.9h-.9zM469.54 274.01h.9v.9h-.9zM478.21 277.99h.9v.9h-.9zM497.41 275.78h.9v.9h-.9zM485.47 270.65h.9v.9h-.9zM473.21 270.72h.9v.9h-.9zM478.39 272.26h.9v.9h-.9zM479.71 271.08h.9v.9h-.9zM471.38 270.26h.9v.9h-.9zM485.18 268.03h.9v.9h-.9zM485.2 284.73h.9v.9h-.9zM473.27 280.29h.9v.9h-.9zM485.72 278.82h.9v.9h-.9zM474.26 285.49h.9v.9h-.9zM467.29 282.7h.9v.9h-.9zM481.58 268.78h.9v.9h-.9zM480.48 265.78h.9v.9h-.9zM483.95 278.18h.9v.9h-.9zM488.3 283.34h.9v.9h-.9zM474.91 277.9h.9v.9h-.9zM486.38 281.93h.9v.9h-.9zM481.27 285.32h.9v.9h-.9zM479.3 264.54h.9v.9h-.9zM476.5 273.27h.9v.9h-.9zM481.62 272.47h.9v.9h-.9zM464.09 267.48h.9v.9h-.9zM478.68 281.62h.9v.9h-.9zM475.07 267.07h.9v.9h-.9zM476.36 280.37h.9v.9h-.9zM488.42 269.01h.9v.9h-.9zM484.47 282.84h.9v.9h-.9zM485.28 268.28h.9v.9h-.9zM483.93 271.9h.9v.9h-.9zM479.45 277.92h.9v.9h-.9zM488.24 284.76h.9v.9h-.9zM481.65 271.22h.9v.9h-.9zM479.36 270.83h.9v.9h-.9zM478.86 274.2h.9v.9h-.9zM469.27 270.16h.9v.9h-.9zM469.76 274.54h.9v.9h-.9zM485.32 279.27h.9v.9h-.9zM481.01 269.13h.9v.9h-.9zM479.23 266.7h.9v.9h-.9zM483.68 265.61h.9v.9h-.9zM475.22 285.24h.9v.9h-.9zM482.61 269.02h.9v.9h-.9zM478.19 268.71h.9v.9h-.9zM474.09 272.35h.9v.9h-.9zM473.76 276.02h.9v.9h-.9zM487.2 269.71h.9v.9h-.9zM473.17 270.02h.9v.9h-.9zM475.38 275.63h.9v.9h-.9zM475.01 269.6h.9v.9h-.9zM474.93 280.78h.9v.9h-.9zM486.5 281.15h.9v.9h-.9zM480.97 269.19h.9v.9h-.9zM475.12 271.21h.9v.9h-.9zM487.31 279.01h.9v.9h-.9zM478.43 270.08h.9v.9h-.9zM477.11 276.21h.9v.9h-.9zM481.03 282.37h.9v.9h-.9zM485.07 270.54h.9v.9h-.9z"/>
<path fill="#111" fill-opacity="0.22" d="M459.34 272.73h.9v.9h-.9zM463.22 280.74h.9v.9h-.9zM452.69 277.18h.9v.9h-.9zM449.14 276.63h.9v.9h-.9zM456.05 276.6h.9v.9h-.9zM449.6 268.76h.9v.9h-.9zM452.86 272.49h.9v.9h-.9zM459 268.92h.9v.9h-.9zM445.56 270.54h.9v.9h-.9zM459.51 279.03h.9v.9h-.9zM449.27 277.74h.9v.9h-.9zM456.17 278.2h.9v.9h-.9zM456.52 281.39h.9v.9h-.9zM461.15 266.79h.9v.9h-.9zM447.83 280h.9v.9h-.9zM447.79 269.1h.9v.9h-.9zM458.04 272.95h.9v.9h-.9zM456.37 260.85h.9v.9h-.9zM451.82 276.88h.9v.9h-.9zM466.03 276.31h.9v.9h-.9zM455.78 274.56h.9v.9h-.9zM460.7 277.63h.9v.9h-.9zM451.15 261.91h.9v.9h-.9zM454.41 271.42h.9v.9h-.9zM464.76 268.63h.9v.9h-.9zM459.37 261.74h.9v.9h-.9zM459.48 265.98h.9v.9h-.9zM455.72 272.52h.9v.9h-.9zM456.07 273.76h.9v.9h-.9zM449.81 277.31h.9v.9h-.9zM451.06 273.44h.9v.9h-.9zM451.25 273.53h.9v.9h-.9zM454.95 272.54h.9v.9h-.9zM451.53 281.01h.9v.9h-.9zM454.64 274.12h.9v.9h-.9zM444.51 277.28h.9v.9h-.9zM447.58 272.44h.9v.9h-.9zM445.21 285.09h.9v.9h-.9zM446.59 272.07h.9v.9h-.9z"/>
<rect x="442.1" y="258.8" width="58.4" height="58.5" fill="none" stroke="#8a8ad8" stroke-width="0.75"/>
<line x1="471.6" y1="258.8" x2="471.6" y2="317.3" stroke="#a8467a" stroke-width="0.75"/>
<line x1="442.1" y1="286.9" x2="500.5" y2="286.9" stroke="#a8467a" stroke-width="0.75"/>
<text x="442.7" y="263.5" font-size="4.3" fill="#b04a78" textLength="13.5" lengthAdjust="spacingAndGlyphs">Q14-UL</text>
<text x="442.7" y="267.1" font-size="4.3" fill="#b04a78" textLength="9.5" lengthAdjust="spacingAndGlyphs">75.1%</text>
<text x="486.1" y="263.5" font-size="4.3" fill="#b04a78" textLength="13.5" lengthAdjust="spacingAndGlyphs">Q14-UR</text>
<text x="486.1" y="267.1" font-size="4.3" fill="#b04a78" textLength="8" lengthAdjust="spacingAndGlyphs">24.9%</text>
<text x="442.7" y="313.1" font-size="4.3" fill="#b04a78" textLength="13.5" lengthAdjust="spacingAndGlyphs">Q14-LL</text>
<text x="442.7" y="316.7" font-size="4.3" fill="#b04a78" textLength="9" lengthAdjust="spacingAndGlyphs">0.0%</text>
<text x="486.1" y="313.1" font-size="4.3" fill="#b04a78" textLength="13.5" lengthAdjust="spacingAndGlyphs">Q14-LR</text>
<text x="486.1" y="316.7" font-size="4.3" fill="#b04a78" textLength="9" lengthAdjust="spacingAndGlyphs">0.0%</text>
<path fill="#111" fill-opacity="0.45" d="M387.11 353.7h.9v.9h-.9zM388.37 351.76h.9v.9h-.9zM388.86 351.57h.9v.9h-.9zM387.22 348.83h.9v.9h-.9zM385.09 349.61h.9v.9h-.9zM386.4 352.47h.9v.9h-.9zM389.84 347.49h.9v.9h-.9zM390.12 350.47h.9v.9h-.9zM391.56 354.25h.9v.9h-.9zM389.66 346.24h.9v.9h-.9zM389.99 346.78h.9v.9h-.9zM393.14 349.18h.9v.9h-.9zM387.12 354.73h.9v.9h-.9zM381.72 350.03h.9v.9h-.9zM384.09 348.87h.9v.9h-.9zM385.03 351.84h.9v.9h-.9zM386.74 351.15h.9v.9h-.9zM389.98 346.41h.9v.9h-.9zM392.59 350.14h.9v.9h-.9zM382.08 348.4h.9v.9h-.9zM390.78 353.03h.9v.9h-.9zM385.41 350.48h.9v.9h-.9zM388.61 352.96h.9v.9h-.9zM387.32 352.74h.9v.9h-.9zM384.71 348.44h.9v.9h-.9zM390.09 352.32h.9v.9h-.9zM387.63 351.86h.9v.9h-.9zM388.51 352.32h.9v.9h-.9zM391.82 351.95h.9v.9h-.9zM390.64 349.65h.9v.9h-.9zM389.21 350.58h.9v.9h-.9zM389.64 345.98h.9v.9h-.9zM386.11 348.93h.9v.9h-.9zM381.54 352.17h.9v.9h-.9zM392.03 347.6h.9v.9h-.9zM389.34 354.72h.9v.9h-.9zM383.59 352.52h.9v.9h-.9zM393.31 355.34h.9v.9h-.9zM383.07 347.48h.9v.9h-.9zM388.52 353.39h.9v.9h-.9zM383.43 348.27h.9v.9h-.9zM383.92 352.83h.9v.9h-.9zM385.86 351.67h.9v.9h-.9zM390.04 353.4h.9v.9h-.9zM389.25 351.34h.9v.9h-.9zM391.83 351.86h.9v.9h-.9zM383.41 348.78h.9v.9h-.9zM390.95 350.97h.9v.9h-.9zM386.57 350.92h.9v.9h-.9zM399.34 351.1h.9v.9h-.9zM389.48 351.65h.9v.9h-.9zM386.86 353.26h.9v.9h-.9zM390.79 351.6h.9v.9h-.9zM383.08 353.16h.9v.9h-.9zM390.47 350.39h.9v.9h-.9zM378.41 349.6h.9v.9h-.9zM383.57 349.55h.9v.9h-.9zM386.02 348.25h.9v.9h-.9zM391.33 350.94h.9v.9h-.9zM392.11 348.35h.9v.9h-.9zM387.13 353.7h.9v.9h-.9zM388.93 348.71h.9v.9h-.9zM384.69 348.73h.9v.9h-.9zM387.5 352.07h.9v.9h-.9zM388.3 352.29h.9v.9h-.9zM390.73 350.9h.9v.9h-.9zM392.3 352.53h.9v.9h-.9zM387.15 349.96h.9v.9h-.9zM387.73 348.59h.9v.9h-.9zM383.11 350.16h.9v.9h-.9zM386 351.71h.9v.9h-.9zM385.71 350.5h.9v.9h-.9zM388.48 349.3h.9v.9h-.9zM388.46 348.67h.9v.9h-.9zM386.29 352.26h.9v.9h-.9zM389.14 350.48h.9v.9h-.9zM385.04 351.91h.9v.9h-.9zM391.45 351.19h.9v.9h-.9zM391.62 353.53h.9v.9h-.9zM384.23 354.41h.9v.9h-.9zM385.71 349.63h.9v.9h-.9zM389.97 350.34h.9v.9h-.9zM388.71 349.19h.9v.9h-.9zM384.15 350.17h.9v.9h-.9zM383.96 353.41h.9v.9h-.9zM388.62 353.89h.9v.9h-.9zM379.81 348.89h.9v.9h-.9zM383.27 350.95h.9v.9h-.9zM382.67 346.63h.9v.9h-.9zM388.75 349.49h.9v.9h-.9zM390.13 352.53h.9v.9h-.9zM389.01 347.49h.9v.9h-.9zM384.74 355.72h.9v.9h-.9zM386.97 351.04h.9v.9h-.9zM388.2 350.35h.9v.9h-.9zM387.17 348.96h.9v.9h-.9zM393.59 350.53h.9v.9h-.9zM383.18 351.33h.9v.9h-.9zM390.09 347.01h.9v.9h-.9zM385.95 353.91h.9v.9h-.9zM389.66 351.56h.9v.9h-.9zM391.24 350.31h.9v.9h-.9zM386.74 354.21h.9v.9h-.9zM387.12 350.14h.9v.9h-.9zM389.99 350.62h.9v.9h-.9zM383.46 354.71h.9v.9h-.9zM387.51 354.76h.9v.9h-.9zM389.54 348.28h.9v.9h-.9zM393.15 350.33h.9v.9h-.9zM384.77 350.1h.9v.9h-.9zM380.29 350.84h.9v.9h-.9zM385.23 349.59h.9v.9h-.9zM384.66 351.82h.9v.9h-.9zM389.01 353.12h.9v.9h-.9zM393.56 351.48h.9v.9h-.9zM388.09 351.15h.9v.9h-.9zM384.93 348.84h.9v.9h-.9zM390.39 348.46h.9v.9h-.9zM381.01 349.04h.9v.9h-.9zM388.65 354.04h.9v.9h-.9zM385.27 347.92h.9v.9h-.9zM388.09 350.02h.9v.9h-.9zM388.63 349.18h.9v.9h-.9zM388.45 349.01h.9v.9h-.9zM391.18 351.3h.9v.9h-.9z"/>
<path fill="#111" fill-opacity="0.3" d="M396.85 357.37h.9v.9h-.9zM386.58 359.68h.9v.9h-.9zM393.64 365.24h.9v.9h-.9zM398.85 359.43h.9v.9h-.9zM393.68 354.55h.9v.9h-.9zM393.7 360.69h.9v.9h-.9zM391.79 354.07h.9v.9h-.9zM400.44 354.88h.9v.9h-.9zM402.35 365.63h.9v.9h-.9zM401.78 355.27h.9v.9h-.9zM397.1 352.5h.9v.9h-.9zM392.05 351.81h.9v.9h-.9zM390.15 357.02h.9v.9h-.9zM398.78 365.09h.9v.9h-.9zM392 358.13h.9v.9h-.9zM389.08 353.77h.9v.9h-.9zM384.79 358.47h.9v.9h-.9zM396.89 355.67h.9v.9h-.9zM395.73 353.7h.9v.9h-.9zM388.75 356.84h.9v.9h-.9zM398.35 356.88h.9v.9h-.9zM397.74 357.76h.9v.9h-.9zM388.22 349.35h.9v.9h-.9zM391.44 354.67h.9v.9h-.9zM398.44 361.78h.9v.9h-.9zM385.53 363.8h.9v.9h-.9zM388.53 360.76h.9v.9h-.9zM385.75 355.83h.9v.9h-.9zM396.45 360.78h.9v.9h-.9zM396.1 362.61h.9v.9h-.9zM389.35 371.59h.9v.9h-.9zM396.45 370.33h.9v.9h-.9zM392.47 362.34h.9v.9h-.9zM395.53 358.75h.9v.9h-.9zM395.39 360.81h.9v.9h-.9zM397.91 361.12h.9v.9h-.9zM394.09 361.96h.9v.9h-.9zM401.1 359.86h.9v.9h-.9zM396.86 360.21h.9v.9h-.9zM383.9 354.96h.9v.9h-.9zM389.17 352.48h.9v.9h-.9zM390.67 350.6h.9v.9h-.9zM395.15 356.79h.9v.9h-.9zM399.97 361.42h.9v.9h-.9zM387.38 358.38h.9v.9h-.9zM394.02 356.07h.9v.9h-.9zM391.96 354.03h.9v.9h-.9zM390.1 360.87h.9v.9h-.9zM392.1 365.55h.9v.9h-.9zM383.13 355.48h.9v.9h-.9zM391.91 366.89h.9v.9h-.9zM399.36 363.26h.9v.9h-.9zM398.65 367.46h.9v.9h-.9zM397.14 358.27h.9v.9h-.9zM394.66 355.81h.9v.9h-.9zM392.6 361.29h.9v.9h-.9zM391.21 359.94h.9v.9h-.9zM391.55 352.82h.9v.9h-.9zM386.5 362.89h.9v.9h-.9zM393.87 363.56h.9v.9h-.9zM393.19 359.34h.9v.9h-.9zM395.03 357.7h.9v.9h-.9zM400.6 364.41h.9v.9h-.9zM395.67 354.15h.9v.9h-.9zM390.99 360.4h.9v.9h-.9zM399.46 359.15h.9v.9h-.9zM393.51 361.96h.9v.9h-.9zM394.22 358.55h.9v.9h-.9zM387.99 365.45h.9v.9h-.9zM393.35 356.72h.9v.9h-.9zM393.08 352.67h.9v.9h-.9zM385.2 350.37h.9v.9h-.9zM395.43 352.65h.9v.9h-.9zM394.12 353.33h.9v.9h-.9zM384.66 356.16h.9v.9h-.9zM389.85 355.79h.9v.9h-.9zM402.16 360.23h.9v.9h-.9zM390.56 363.57h.9v.9h-.9zM391.91 365.29h.9v.9h-.9z"/>
<path fill="#111" fill-opacity="0.5" d="M396.24 371.81h.9v.9h-.9zM398.15 368.17h.9v.9h-.9zM403.29 367.49h.9v.9h-.9zM395.91 368.84h.9v.9h-.9zM401.27 366.35h.9v.9h-.9zM406.36 367.98h.9v.9h-.9zM399.97 369.16h.9v.9h-.9zM402.64 371.73h.9v.9h-.9zM393.83 369.63h.9v.9h-.9zM405.98 370.09h.9v.9h-.9zM402.13 367.39h.9v.9h-.9zM403.77 368.64h.9v.9h-.9zM402.96 367.49h.9v.9h-.9zM401.15 369.32h.9v.9h-.9zM396.49 371.67h.9v.9h-.9zM401.92 367.03h.9v.9h-.9zM401.4 369.86h.9v.9h-.9zM401.03 367.54h.9v.9h-.9zM401.51 366.88h.9v.9h-.9zM398.67 368.47h.9v.9h-.9zM406.81 368.66h.9v.9h-.9zM401 369.56h.9v.9h-.9zM404.08 366.87h.9v.9h-.9zM402.53 370.58h.9v.9h-.9zM394.2 371.85h.9v.9h-.9zM405.48 367.97h.9v.9h-.9zM409.73 370.44h.9v.9h-.9zM392.1 369.62h.9v.9h-.9zM402.26 369.23h.9v.9h-.9zM399.33 368.93h.9v.9h-.9zM398.96 364.8h.9v.9h-.9zM400.05 367.58h.9v.9h-.9zM400 368.68h.9v.9h-.9zM400.45 369.8h.9v.9h-.9zM402.13 368.87h.9v.9h-.9zM399.92 369.39h.9v.9h-.9zM401.14 369.34h.9v.9h-.9zM407.92 370.08h.9v.9h-.9zM400.8 365.49h.9v.9h-.9zM396.58 363.68h.9v.9h-.9zM405.92 371.8h.9v.9h-.9zM400.77 368.66h.9v.9h-.9zM404.29 370.74h.9v.9h-.9zM395.44 369.09h.9v.9h-.9zM401.14 367.07h.9v.9h-.9zM408.06 371.1h.9v.9h-.9zM399.97 369.51h.9v.9h-.9zM400.19 368.58h.9v.9h-.9zM400.82 371.64h.9v.9h-.9zM402.42 368.65h.9v.9h-.9zM399.66 370.12h.9v.9h-.9zM398.9 366.37h.9v.9h-.9zM399.67 369.91h.9v.9h-.9zM404.3 367.06h.9v.9h-.9zM409.38 369.61h.9v.9h-.9zM398.73 368.59h.9v.9h-.9zM402.64 371.75h.9v.9h-.9zM401.27 368.11h.9v.9h-.9zM400.97 369.87h.9v.9h-.9zM403.89 368.99h.9v.9h-.9zM398.73 371.69h.9v.9h-.9zM398.01 365.92h.9v.9h-.9zM405.66 368.06h.9v.9h-.9zM401.41 367.41h.9v.9h-.9zM400.29 364.68h.9v.9h-.9zM403.09 365.67h.9v.9h-.9zM406.18 367.68h.9v.9h-.9zM404.61 369.24h.9v.9h-.9zM400.99 369.25h.9v.9h-.9zM397.12 368.08h.9v.9h-.9zM400.1 370.26h.9v.9h-.9zM401.47 370.01h.9v.9h-.9zM396.43 370.12h.9v.9h-.9zM401.02 369.94h.9v.9h-.9zM400.31 368.71h.9v.9h-.9zM406.39 371.52h.9v.9h-.9zM402.14 369.34h.9v.9h-.9zM403.17 369.46h.9v.9h-.9zM404.2 371.14h.9v.9h-.9zM404.33 366.45h.9v.9h-.9zM402.22 367.48h.9v.9h-.9zM404.22 369.04h.9v.9h-.9zM403.65 369.44h.9v.9h-.9zM403.14 366.63h.9v.9h-.9zM399.69 369.47h.9v.9h-.9zM405.05 370.08h.9v.9h-.9zM406.13 366.24h.9v.9h-.9zM401.99 369.38h.9v.9h-.9zM402.2 368.3h.9v.9h-.9zM412.43 367.88h.9v.9h-.9zM408.34 370.91h.9v.9h-.9zM402.5 370.54h.9v.9h-.9zM405.45 368.07h.9v.9h-.9zM406.26 370.43h.9v.9h-.9zM397.68 366.37h.9v.9h-.9zM404.55 370.44h.9v.9h-.9zM401.18 370.65h.9v.9h-.9zM407.31 371.18h.9v.9h-.9zM400.31 370.37h.9v.9h-.9zM400.35 369.51h.9v.9h-.9zM398.08 364.91h.9v.9h-.9zM398.3 370.03h.9v.9h-.9zM399.33 370.74h.9v.9h-.9zM400.25 370.25h.9v.9h-.9zM400.91 369.7h.9v.9h-.9zM398.24 367.72h.9v.9h-.9zM399.15 371.67h.9v.9h-.9z"/>
<path fill="#111" fill-opacity="0.4" d="M395.29 364.33h.9v.9h-.9zM399.75 362.78h.9v.9h-.9zM399.87 367.31h.9v.9h-.9zM403.33 361.48h.9v.9h-.9zM399.3 362.38h.9v.9h-.9zM398.1 362.09h.9v.9h-.9zM400.14 361.46h.9v.9h-.9zM394.77 363.26h.9v.9h-.9zM399.46 365.59h.9v.9h-.9zM400.52 361.44h.9v.9h-.9zM395.74 363.82h.9v.9h-.9zM399.3 364.62h.9v.9h-.9zM402.47 358.69h.9v.9h-.9zM396.66 364.27h.9v.9h-.9zM395.28 366.51h.9v.9h-.9zM398.25 364.37h.9v.9h-.9zM397.89 363.88h.9v.9h-.9zM399.71 364.26h.9v.9h-.9zM394.39 359.36h.9v.9h-.9zM398.26 364.76h.9v.9h-.9zM397.77 362.84h.9v.9h-.9zM401.72 364.49h.9v.9h-.9zM395.68 363.51h.9v.9h-.9zM397.89 363.3h.9v.9h-.9zM398.28 364.35h.9v.9h-.9zM398.48 363.86h.9v.9h-.9zM398.62 362.77h.9v.9h-.9zM396.82 363.73h.9v.9h-.9zM399.86 366.33h.9v.9h-.9zM405.95 361.84h.9v.9h-.9zM396.57 365.28h.9v.9h-.9zM397.29 363.44h.9v.9h-.9zM394.75 364.38h.9v.9h-.9zM394.17 365.18h.9v.9h-.9zM396.04 363.65h.9v.9h-.9zM401.49 361.51h.9v.9h-.9zM398.19 367.43h.9v.9h-.9zM394.36 363.44h.9v.9h-.9zM392.58 363.88h.9v.9h-.9zM398.03 360.95h.9v.9h-.9zM394.98 365.68h.9v.9h-.9zM400.53 360.78h.9v.9h-.9zM400.96 361.34h.9v.9h-.9zM396.15 363.99h.9v.9h-.9zM398.19 364.24h.9v.9h-.9zM401.77 361.92h.9v.9h-.9zM400.18 363.79h.9v.9h-.9zM393.57 364.76h.9v.9h-.9zM401.53 360.45h.9v.9h-.9zM397.56 365.14h.9v.9h-.9z"/>
<path fill="#111" fill-opacity="0.25" d="M409.96 356.85h.9v.9h-.9zM402.07 357.28h.9v.9h-.9zM395.15 360.15h.9v.9h-.9zM418.4 349.5h.9v.9h-.9zM403.49 352.81h.9v.9h-.9zM414.22 347.91h.9v.9h-.9zM409.93 362.49h.9v.9h-.9zM397.73 357.21h.9v.9h-.9zM404.12 371.35h.9v.9h-.9zM405.64 367.7h.9v.9h-.9zM411.13 360.07h.9v.9h-.9zM403.99 358.97h.9v.9h-.9zM415.13 368.51h.9v.9h-.9zM410.54 354.84h.9v.9h-.9zM401.76 364.76h.9v.9h-.9zM402.45 349.92h.9v.9h-.9zM393.27 362.64h.9v.9h-.9zM409.04 363.16h.9v.9h-.9zM414.54 348.41h.9v.9h-.9zM391.23 360.19h.9v.9h-.9zM409.76 353.46h.9v.9h-.9zM405.45 361.67h.9v.9h-.9zM400.36 353.47h.9v.9h-.9zM401.37 358.76h.9v.9h-.9zM408.74 357.27h.9v.9h-.9zM396.9 351.8h.9v.9h-.9zM400.44 362.87h.9v.9h-.9zM397.64 356.74h.9v.9h-.9zM407.26 361.12h.9v.9h-.9zM417.91 362.74h.9v.9h-.9zM390.52 347.2h.9v.9h-.9zM398.13 360.12h.9v.9h-.9zM411.82 364.03h.9v.9h-.9zM399.84 349.16h.9v.9h-.9zM406.09 357.39h.9v.9h-.9zM396.73 350.46h.9v.9h-.9zM408.36 357.19h.9v.9h-.9zM404.85 358.43h.9v.9h-.9zM398.11 355.79h.9v.9h-.9zM399.1 358.59h.9v.9h-.9zM398.55 363.4h.9v.9h-.9zM396.45 360.72h.9v.9h-.9zM404.24 363.27h.9v.9h-.9zM382.27 363.47h.9v.9h-.9zM405.71 355.85h.9v.9h-.9zM400.78 356.16h.9v.9h-.9zM401.67 361.86h.9v.9h-.9zM394.77 355.59h.9v.9h-.9zM386.45 357.96h.9v.9h-.9zM396.76 358.57h.9v.9h-.9zM405.78 368.02h.9v.9h-.9zM403.09 350.82h.9v.9h-.9zM399.28 362.48h.9v.9h-.9zM393.92 353.48h.9v.9h-.9zM401.55 362.76h.9v.9h-.9zM412.49 362.49h.9v.9h-.9zM412.7 353.77h.9v.9h-.9zM396.95 346.83h.9v.9h-.9zM397.09 362.98h.9v.9h-.9zM400.27 351.17h.9v.9h-.9zM408.13 360.5h.9v.9h-.9zM392.55 361.34h.9v.9h-.9zM403.79 366.66h.9v.9h-.9zM400.38 354.1h.9v.9h-.9zM402.2 356.94h.9v.9h-.9zM394.88 364.32h.9v.9h-.9zM408.88 352.77h.9v.9h-.9zM398.13 350.21h.9v.9h-.9zM398.8 352.96h.9v.9h-.9zM401.91 362.44h.9v.9h-.9zM412.57 351.22h.9v.9h-.9zM396.59 349.57h.9v.9h-.9zM401.68 363.11h.9v.9h-.9zM395.7 357.52h.9v.9h-.9zM394.95 347.66h.9v.9h-.9zM398.12 363.34h.9v.9h-.9zM394.8 355.3h.9v.9h-.9zM415.65 349.19h.9v.9h-.9zM421.55 364.36h.9v.9h-.9zM410.73 364.08h.9v.9h-.9zM383.95 359.11h.9v.9h-.9zM403.62 361.2h.9v.9h-.9zM410.88 357.12h.9v.9h-.9zM396.27 361.01h.9v.9h-.9zM403.11 360.78h.9v.9h-.9zM398.82 357.4h.9v.9h-.9zM380.31 359.18h.9v.9h-.9zM409.38 358.47h.9v.9h-.9zM401.59 362.18h.9v.9h-.9zM399.96 356.35h.9v.9h-.9zM414.3 370.19h.9v.9h-.9zM389.69 353.8h.9v.9h-.9zM404.36 363.36h.9v.9h-.9zM393.92 354.06h.9v.9h-.9z"/>
<path fill="#111" fill-opacity="0.2" d="M383.97 367.48h.9v.9h-.9zM375.96 358.42h.9v.9h-.9zM379.26 367.1h.9v.9h-.9zM383.15 362.84h.9v.9h-.9zM390.23 365.22h.9v.9h-.9zM381.43 370.09h.9v.9h-.9zM389.18 369.33h.9v.9h-.9zM390.3 363.03h.9v.9h-.9zM370.69 358.53h.9v.9h-.9zM382.01 360.5h.9v.9h-.9zM384.99 362.52h.9v.9h-.9zM391.03 364.38h.9v.9h-.9zM386.04 368.19h.9v.9h-.9zM388.73 357.96h.9v.9h-.9zM388.62 360.85h.9v.9h-.9zM371.1 371.51h.9v.9h-.9zM382.72 368.56h.9v.9h-.9zM376 364.94h.9v.9h-.9zM389.13 360.59h.9v.9h-.9zM369.13 361.37h.9v.9h-.9zM382.89 360.49h.9v.9h-.9zM383.2 359.2h.9v.9h-.9zM384.58 363.64h.9v.9h-.9zM377.44 366.11h.9v.9h-.9zM384.13 360.13h.9v.9h-.9zM377.82 355.45h.9v.9h-.9zM385.37 358.31h.9v.9h-.9zM385.16 356.32h.9v.9h-.9zM376.09 348.9h.9v.9h-.9zM378.36 356.74h.9v.9h-.9zM386.7 363.28h.9v.9h-.9zM377.89 358.83h.9v.9h-.9zM380.6 360.6h.9v.9h-.9zM381.3 367.98h.9v.9h-.9zM373.63 362.16h.9v.9h-.9zM381.87 365.94h.9v.9h-.9zM380.96 356.23h.9v.9h-.9zM385.49 367.88h.9v.9h-.9zM377.48 367.57h.9v.9h-.9zM394.45 358.03h.9v.9h-.9zM382.66 355.64h.9v.9h-.9zM383.77 359.83h.9v.9h-.9zM382.91 367.99h.9v.9h-.9zM386.26 366.81h.9v.9h-.9zM378.12 359.94h.9v.9h-.9zM381.31 358.6h.9v.9h-.9zM377.4 361.45h.9v.9h-.9z"/>
<rect x="367.4" y="345.1" width="57.9" height="57.9" fill="none" stroke="#8a8ad8" stroke-width="0.75"/>
<line x1="396.4" y1="345.1" x2="396.4" y2="403" stroke="#a8467a" stroke-width="0.75"/>
<line x1="367.4" y1="373.2" x2="425.3" y2="373.2" stroke="#a8467a" stroke-width="0.75"/>
<text x="368" y="349.8" font-size="4.3" fill="#b04a78" textLength="13.5" lengthAdjust="spacingAndGlyphs">Q14-UL</text>
<text x="368" y="353.4" font-size="4.3" fill="#b04a78" textLength="9.5" lengthAdjust="spacingAndGlyphs">67.2%</text>
<text x="410.9" y="349.8" font-size="4.3" fill="#b04a78" textLength="13.5" lengthAdjust="spacingAndGlyphs">Q14-UR</text>
<text x="410.9" y="353.4" font-size="4.3" fill="#b04a78" textLength="8" lengthAdjust="spacingAndGlyphs">32.8%</text>
<text x="368" y="398.8" font-size="4.3" fill="#b04a78" textLength="13.5" lengthAdjust="spacingAndGlyphs">Q14-LL</text>
<text x="368" y="402.4" font-size="4.3" fill="#b04a78" textLength="9" lengthAdjust="spacingAndGlyphs">0.0%</text>
<text x="410.9" y="398.8" font-size="4.3" fill="#b04a78" textLength="13.5" lengthAdjust="spacingAndGlyphs">Q14-LR</text>
<text x="410.9" y="402.4" font-size="4.3" fill="#b04a78" textLength="9" lengthAdjust="spacingAndGlyphs">0.0%</text>
<path d="M445 362L452 358.5L458 355.5L464 353L468.5 352L468 358.5L464 365L458 367.5L451 366.5L445 363.5Z" fill="#111" fill-opacity="0.3" filter="url(#bl)"/>
<path d="M451 361.3L455 359.5L460 357.3L464 355.5L466.5 355.3L465.5 358.8L462 362.8L458 364.5L453 363.8L451 362.3Z" fill="#111" fill-opacity="0.7" filter="url(#bl)"/>
<path fill="#111" fill-opacity="0.5" d="M465.32 361.4h.9v.9h-.9zM449.77 355.7h.9v.9h-.9zM457.39 362.59h.9v.9h-.9zM457.12 355.53h.9v.9h-.9zM455.02 365.3h.9v.9h-.9zM449.71 365.3h.9v.9h-.9zM461.14 360.81h.9v.9h-.9zM462.6 357.17h.9v.9h-.9zM457.29 365.95h.9v.9h-.9zM455.69 359.19h.9v.9h-.9zM449.6 360.46h.9v.9h-.9zM462.44 362.97h.9v.9h-.9zM461.89 361.12h.9v.9h-.9zM461.52 360.26h.9v.9h-.9zM464.04 358.14h.9v.9h-.9zM464.44 358.29h.9v.9h-.9zM448.5 358.15h.9v.9h-.9zM456.87 358.82h.9v.9h-.9zM450.79 359.27h.9v.9h-.9zM459.12 361.04h.9v.9h-.9zM463.09 356.09h.9v.9h-.9zM460.28 362.77h.9v.9h-.9zM460.13 365.13h.9v.9h-.9zM455.21 360.65h.9v.9h-.9zM459.08 358.48h.9v.9h-.9zM457.73 360.81h.9v.9h-.9zM457.82 358.47h.9v.9h-.9zM455.38 360.38h.9v.9h-.9zM448.94 362.71h.9v.9h-.9zM451.55 360.74h.9v.9h-.9zM451.6 361.82h.9v.9h-.9zM455.79 359.71h.9v.9h-.9zM453.65 361.39h.9v.9h-.9zM467.42 352.13h.9v.9h-.9zM461.05 360.01h.9v.9h-.9zM455.75 356.53h.9v.9h-.9zM467.31 358.43h.9v.9h-.9zM463.91 357.46h.9v.9h-.9zM453.52 364.45h.9v.9h-.9zM462.35 358.05h.9v.9h-.9zM456.75 362.26h.9v.9h-.9zM453.33 358.48h.9v.9h-.9zM457.77 363.23h.9v.9h-.9zM463.07 359.42h.9v.9h-.9zM465.92 357.69h.9v.9h-.9zM455.14 368.03h.9v.9h-.9zM455.13 362.57h.9v.9h-.9zM461.29 359.63h.9v.9h-.9zM459.37 361.88h.9v.9h-.9zM461.28 357.43h.9v.9h-.9zM458.07 364.35h.9v.9h-.9zM462.32 357.67h.9v.9h-.9zM458.42 356.83h.9v.9h-.9zM450.51 360.13h.9v.9h-.9zM467.44 355.88h.9v.9h-.9zM446.5 362.37h.9v.9h-.9zM454.05 363.27h.9v.9h-.9zM465.3 357.29h.9v.9h-.9zM458.77 357.06h.9v.9h-.9zM465.12 356.1h.9v.9h-.9zM458.24 367.42h.9v.9h-.9zM452.64 361.82h.9v.9h-.9zM457.78 361.55h.9v.9h-.9zM460.81 364.03h.9v.9h-.9zM460.94 361.23h.9v.9h-.9zM450.88 362.97h.9v.9h-.9zM450.31 365.63h.9v.9h-.9zM457.75 363.13h.9v.9h-.9zM455.19 361.42h.9v.9h-.9zM458.58 361.64h.9v.9h-.9zM457.48 358.34h.9v.9h-.9zM455.91 358.51h.9v.9h-.9zM452.71 357.49h.9v.9h-.9zM449.55 367.91h.9v.9h-.9zM453.77 357.58h.9v.9h-.9zM463.87 359.57h.9v.9h-.9zM457.32 363.75h.9v.9h-.9zM468.95 354.84h.9v.9h-.9zM466.38 359.88h.9v.9h-.9zM464.87 356.79h.9v.9h-.9zM467.89 361.37h.9v.9h-.9zM442.93 367.54h.9v.9h-.9zM465.95 353.87h.9v.9h-.9zM460.05 359.02h.9v.9h-.9zM459.39 357.04h.9v.9h-.9zM461.87 361.45h.9v.9h-.9zM457.5 359.95h.9v.9h-.9zM448.01 364.08h.9v.9h-.9zM450.65 361.83h.9v.9h-.9zM453.41 369.27h.9v.9h-.9zM458.1 364.83h.9v.9h-.9zM457.88 359.94h.9v.9h-.9zM462.4 358.92h.9v.9h-.9zM471.74 356.28h.9v.9h-.9zM467.59 354.09h.9v.9h-.9zM452.78 363.3h.9v.9h-.9zM450.04 368.06h.9v.9h-.9zM461.2 359.57h.9v.9h-.9zM468.47 355.98h.9v.9h-.9zM453.71 352.91h.9v.9h-.9zM446.73 361.73h.9v.9h-.9zM445.93 365.24h.9v.9h-.9zM463.84 360.1h.9v.9h-.9zM448.55 359.55h.9v.9h-.9zM449.99 364.14h.9v.9h-.9zM464.12 357.9h.9v.9h-.9zM458.46 360.65h.9v.9h-.9zM462.41 356.19h.9v.9h-.9zM452.46 363.81h.9v.9h-.9zM461.09 360.84h.9v.9h-.9zM458.41 362.36h.9v.9h-.9zM460.87 357.47h.9v.9h-.9zM468.15 361.1h.9v.9h-.9zM456.66 360.04h.9v.9h-.9zM453.86 356.61h.9v.9h-.9zM451.89 356.95h.9v.9h-.9zM454.2 361.94h.9v.9h-.9zM457.7 355.58h.9v.9h-.9zM456.91 358.3h.9v.9h-.9zM451.59 365.02h.9v.9h-.9zM451.9 364.31h.9v.9h-.9zM448.09 363.22h.9v.9h-.9zM453.92 364.02h.9v.9h-.9zM460.45 356.99h.9v.9h-.9zM461.84 363.18h.9v.9h-.9zM465.93 362.85h.9v.9h-.9zM455.97 367.34h.9v.9h-.9zM454.61 360.4h.9v.9h-.9zM448.99 361.46h.9v.9h-.9zM449.51 362.38h.9v.9h-.9zM447.68 368.36h.9v.9h-.9zM462.9 363.96h.9v.9h-.9zM465.06 358.92h.9v.9h-.9zM460.92 360.01h.9v.9h-.9zM446.96 358.91h.9v.9h-.9zM455.78 363.55h.9v.9h-.9zM449.91 362.54h.9v.9h-.9zM454.71 363.18h.9v.9h-.9zM462.63 355.67h.9v.9h-.9zM451.35 366.29h.9v.9h-.9zM464.38 358.49h.9v.9h-.9zM463.1 359.07h.9v.9h-.9zM460.95 358.13h.9v.9h-.9zM461.37 364.61h.9v.9h-.9zM466.79 362.06h.9v.9h-.9zM458.88 362.94h.9v.9h-.9zM455.57 359.69h.9v.9h-.9zM459.01 356.36h.9v.9h-.9zM459.3 354.29h.9v.9h-.9zM467.88 360.46h.9v.9h-.9zM459.92 357.4h.9v.9h-.9zM454.58 359.62h.9v.9h-.9zM448.27 360.99h.9v.9h-.9zM452.7 364h.9v.9h-.9zM466.11 362.81h.9v.9h-.9zM450.08 357.54h.9v.9h-.9zM466.68 360.55h.9v.9h-.9zM464.45 360.7h.9v.9h-.9zM459.56 366.49h.9v.9h-.9zM463.33 361h.9v.9h-.9z"/>
<path fill="#111" fill-opacity="0.28" d="M447.26 359.08h.9v.9h-.9zM468.25 361.51h.9v.9h-.9zM464.39 357.01h.9v.9h-.9zM462.59 354.76h.9v.9h-.9zM454.56 364.54h.9v.9h-.9zM471.42 356.23h.9v.9h-.9zM454.28 356.74h.9v.9h-.9zM454.51 358.31h.9v.9h-.9zM464.09 360.22h.9v.9h-.9zM456.16 360.81h.9v.9h-.9zM473.89 351.99h.9v.9h-.9zM450.96 359.68h.9v.9h-.9zM465.2 356.57h.9v.9h-.9zM446.74 367.33h.9v.9h-.9zM468.32 369.79h.9v.9h-.9zM442.57 355.6h.9v.9h-.9zM453.88 362.26h.9v.9h-.9zM454.41 361.51h.9v.9h-.9zM460.4 357.26h.9v.9h-.9zM456.58 366.49h.9v.9h-.9zM457.76 361.99h.9v.9h-.9zM455.88 362.38h.9v.9h-.9zM470.74 358.63h.9v.9h-.9zM451.81 353.65h.9v.9h-.9zM465.29 353.45h.9v.9h-.9zM458.09 368.84h.9v.9h-.9zM456.28 357.58h.9v.9h-.9zM461.39 352.86h.9v.9h-.9zM449.61 359.34h.9v.9h-.9zM473.84 361.82h.9v.9h-.9zM475.42 352.51h.9v.9h-.9zM454.39 360.9h.9v.9h-.9zM454.61 356.89h.9v.9h-.9zM463.86 357.08h.9v.9h-.9zM449.37 360.28h.9v.9h-.9zM451.06 364.68h.9v.9h-.9zM456.48 357.03h.9v.9h-.9zM452.26 361.76h.9v.9h-.9zM465.35 356.34h.9v.9h-.9zM449.28 361.85h.9v.9h-.9zM450.67 360.61h.9v.9h-.9zM453.89 353.27h.9v.9h-.9zM444.3 357.54h.9v.9h-.9zM457.55 348.21h.9v.9h-.9zM475.99 353.27h.9v.9h-.9zM453.79 351.56h.9v.9h-.9zM444.63 367.18h.9v.9h-.9zM449.47 361.71h.9v.9h-.9zM470.47 359.1h.9v.9h-.9zM453.4 364.79h.9v.9h-.9zM453.42 346.8h.9v.9h-.9zM468.49 354.99h.9v.9h-.9zM464.75 360.07h.9v.9h-.9zM471.5 352.74h.9v.9h-.9zM457.13 359.52h.9v.9h-.9zM463.74 359.32h.9v.9h-.9zM449.9 357.79h.9v.9h-.9zM458.95 355.94h.9v.9h-.9zM482.74 368.61h.9v.9h-.9zM462.37 358.33h.9v.9h-.9zM450 364.7h.9v.9h-.9zM460.2 350.16h.9v.9h-.9zM456.8 357.05h.9v.9h-.9zM454.21 357.68h.9v.9h-.9zM457.23 356.91h.9v.9h-.9zM463.89 361.56h.9v.9h-.9zM454.91 357.31h.9v.9h-.9zM453.33 355.85h.9v.9h-.9zM454.83 359.57h.9v.9h-.9zM453.56 346.8h.9v.9h-.9zM456.99 352.75h.9v.9h-.9zM449.05 348.54h.9v.9h-.9zM448.82 358.04h.9v.9h-.9zM453.42 358.24h.9v.9h-.9zM452.25 353.19h.9v.9h-.9zM462.74 367.65h.9v.9h-.9zM448.26 357.15h.9v.9h-.9zM474.77 351.42h.9v.9h-.9zM445.91 361.43h.9v.9h-.9zM464.45 358.01h.9v.9h-.9zM466.72 357.44h.9v.9h-.9zM458.17 357.94h.9v.9h-.9zM459.19 358.23h.9v.9h-.9zM469.44 362.59h.9v.9h-.9zM471.19 357.24h.9v.9h-.9zM449.03 354.4h.9v.9h-.9zM452.49 360.15h.9v.9h-.9zM452.34 359.84h.9v.9h-.9zM460.1 351.06h.9v.9h-.9zM443.36 366.16h.9v.9h-.9zM450.35 369.57h.9v.9h-.9zM453.44 349.74h.9v.9h-.9zM445.45 353.24h.9v.9h-.9zM480.22 346.68h.9v.9h-.9zM465.52 352.29h.9v.9h-.9zM470.5 366h.9v.9h-.9zM450.14 361.73h.9v.9h-.9zM459.68 357.23h.9v.9h-.9zM452.04 354.6h.9v.9h-.9zM460.28 354.94h.9v.9h-.9zM464.16 362.29h.9v.9h-.9zM454.56 362.89h.9v.9h-.9zM452.91 365.3h.9v.9h-.9zM463.81 363.67h.9v.9h-.9zM461.88 349.73h.9v.9h-.9zM455.61 364.86h.9v.9h-.9zM464.44 361.78h.9v.9h-.9zM456.02 357.77h.9v.9h-.9zM443.76 347.21h.9v.9h-.9zM454.54 363.16h.9v.9h-.9zM453.81 354.83h.9v.9h-.9zM454.49 366.26h.9v.9h-.9zM450.59 357.59h.9v.9h-.9zM459.34 364.61h.9v.9h-.9zM460.05 355.03h.9v.9h-.9zM451.58 351.23h.9v.9h-.9zM454.37 364.1h.9v.9h-.9zM457.82 355.49h.9v.9h-.9z"/>
<path fill="#111" fill-opacity="0.45" d="M473.53 359.9h.9v.9h-.9zM476.93 361.69h.9v.9h-.9zM476.38 362.11h.9v.9h-.9zM477.79 360.94h.9v.9h-.9zM476.73 357.05h.9v.9h-.9zM476.75 359.94h.9v.9h-.9zM476.03 358.89h.9v.9h-.9zM475.06 358.52h.9v.9h-.9zM475.42 358.68h.9v.9h-.9zM477.45 359.99h.9v.9h-.9zM475.84 359.42h.9v.9h-.9zM475.33 359.27h.9v.9h-.9zM474.02 361.46h.9v.9h-.9zM474.3 358.46h.9v.9h-.9zM474.84 364.63h.9v.9h-.9zM477.48 361.01h.9v.9h-.9zM476.09 361.13h.9v.9h-.9zM476.34 364.75h.9v.9h-.9zM478.34 360.89h.9v.9h-.9zM472.48 358.89h.9v.9h-.9zM476.04 359.76h.9v.9h-.9zM476.38 360.04h.9v.9h-.9zM476.47 361.41h.9v.9h-.9zM474.75 358.27h.9v.9h-.9zM475.03 359.34h.9v.9h-.9zM473.92 360.75h.9v.9h-.9zM477.77 359.95h.9v.9h-.9zM474.88 358.64h.9v.9h-.9zM476.11 361.04h.9v.9h-.9zM475.95 363.4h.9v.9h-.9zM476.1 362.47h.9v.9h-.9zM474.98 361.31h.9v.9h-.9zM474.07 362.02h.9v.9h-.9zM478.22 358.95h.9v.9h-.9zM474.13 361.1h.9v.9h-.9zM475.62 362.17h.9v.9h-.9zM470.81 359.58h.9v.9h-.9zM476.54 361.03h.9v.9h-.9zM473.65 361.91h.9v.9h-.9zM475.84 360.65h.9v.9h-.9zM475.18 360.39h.9v.9h-.9zM476.69 358.1h.9v.9h-.9zM469.44 361.73h.9v.9h-.9zM471.19 360.95h.9v.9h-.9zM475.64 361.21h.9v.9h-.9z"/>
<path fill="#111" fill-opacity="0.25" d="M471.6 363.06h.9v.9h-.9zM476.42 357.76h.9v.9h-.9zM476.73 355.98h.9v.9h-.9zM488.09 357h.9v.9h-.9zM478.27 358.5h.9v.9h-.9zM479.44 360.46h.9v.9h-.9zM476.51 360.47h.9v.9h-.9zM479.29 361.35h.9v.9h-.9zM484.72 359.79h.9v.9h-.9zM477.76 362.84h.9v.9h-.9zM477.47 362.34h.9v.9h-.9zM481.94 349.14h.9v.9h-.9zM478.95 358.18h.9v.9h-.9zM468.78 353.9h.9v.9h-.9zM469.77 365.34h.9v.9h-.9zM485.23 360.48h.9v.9h-.9zM477.73 354.71h.9v.9h-.9zM490.89 367.84h.9v.9h-.9zM479.85 356.21h.9v.9h-.9zM477.54 357h.9v.9h-.9zM470.93 354.76h.9v.9h-.9zM472.76 356.87h.9v.9h-.9zM480.81 355.41h.9v.9h-.9zM481.13 361.24h.9v.9h-.9zM484.15 367.02h.9v.9h-.9zM492.32 365.09h.9v.9h-.9zM475.97 359.12h.9v.9h-.9zM495.12 354.85h.9v.9h-.9zM478.79 366.39h.9v.9h-.9zM478.36 362.68h.9v.9h-.9zM489.1 364.77h.9v.9h-.9zM478.71 363.32h.9v.9h-.9zM480.21 363.65h.9v.9h-.9zM481.88 358.85h.9v.9h-.9zM478.84 361.57h.9v.9h-.9zM477.25 357.74h.9v.9h-.9zM484.03 349.24h.9v.9h-.9zM476.87 365.54h.9v.9h-.9zM480.26 354.53h.9v.9h-.9zM472.55 370.14h.9v.9h-.9zM482.42 359.98h.9v.9h-.9zM478.92 358.85h.9v.9h-.9zM480.52 355.91h.9v.9h-.9zM479.37 359.91h.9v.9h-.9zM479.56 364.92h.9v.9h-.9zM467.65 359.77h.9v.9h-.9zM479.4 361.28h.9v.9h-.9zM478.15 362.29h.9v.9h-.9zM484.82 358.02h.9v.9h-.9zM479.57 364.21h.9v.9h-.9zM477.42 365.46h.9v.9h-.9zM474.32 366.31h.9v.9h-.9zM479.98 367.43h.9v.9h-.9zM486.62 355.7h.9v.9h-.9zM483.99 362.8h.9v.9h-.9zM478.97 358.27h.9v.9h-.9zM480.69 359.1h.9v.9h-.9zM478.6 360.4h.9v.9h-.9zM478.89 359.09h.9v.9h-.9zM470.13 361.23h.9v.9h-.9z"/>
<path fill="#111" fill-opacity="0.3" d="M451.62 348.84h.9v.9h-.9zM449.67 350.07h.9v.9h-.9zM454.8 347.64h.9v.9h-.9zM449.2 346.23h.9v.9h-.9zM446.27 350.43h.9v.9h-.9zM451.8 353.32h.9v.9h-.9zM444.61 345.79h.9v.9h-.9zM452.91 347.75h.9v.9h-.9zM453.87 346.61h.9v.9h-.9zM458.43 348.34h.9v.9h-.9zM454 352.43h.9v.9h-.9zM446.26 348h.9v.9h-.9zM447.01 351.62h.9v.9h-.9zM443.37 347.65h.9v.9h-.9zM448.96 351.76h.9v.9h-.9zM460.26 349.32h.9v.9h-.9zM461.51 351.18h.9v.9h-.9zM445.54 348.57h.9v.9h-.9zM447.17 351.46h.9v.9h-.9zM454.37 350.02h.9v.9h-.9zM447.88 348.45h.9v.9h-.9zM446.16 348.92h.9v.9h-.9zM459.18 348.42h.9v.9h-.9zM459.32 349.53h.9v.9h-.9z"/>
<rect x="441.7" y="344.4" width="57.6" height="58.2" fill="none" stroke="#8a8ad8" stroke-width="0.75"/>
<line x1="470.3" y1="344.4" x2="470.3" y2="402.6" stroke="#a8467a" stroke-width="0.75"/>
<line x1="441.7" y1="372.2" x2="499.3" y2="372.2" stroke="#a8467a" stroke-width="0.75"/>
<text x="442.3" y="349.1" font-size="4.3" fill="#b04a78" textLength="13.5" lengthAdjust="spacingAndGlyphs">Q14-UL</text>
<text x="442.3" y="352.7" font-size="4.3" fill="#b04a78" textLength="9.5" lengthAdjust="spacingAndGlyphs">95.2%</text>
<text x="484.9" y="349.1" font-size="4.3" fill="#b04a78" textLength="13.5" lengthAdjust="spacingAndGlyphs">Q14-UR</text>
<text x="484.9" y="352.7" font-size="4.3" fill="#b04a78" textLength="8" lengthAdjust="spacingAndGlyphs">4.8%</text>
<text x="442.3" y="398.4" font-size="4.3" fill="#b04a78" textLength="13.5" lengthAdjust="spacingAndGlyphs">Q14-LL</text>
<text x="442.3" y="402" font-size="4.3" fill="#b04a78" textLength="9" lengthAdjust="spacingAndGlyphs">0.0%</text>
<text x="484.9" y="398.4" font-size="4.3" fill="#b04a78" textLength="13.5" lengthAdjust="spacingAndGlyphs">Q14-LR</text>
<text x="484.9" y="402" font-size="4.3" fill="#b04a78" textLength="9" lengthAdjust="spacingAndGlyphs">0.0%</text>
<text x="87" y="528.8" font-size="9.9" text-anchor="middle" stroke="#231f20" stroke-width="0.28" textLength="50" lengthAdjust="spacingAndGlyphs">WT platelets</text>
<text x="20.3" y="574.6" font-size="9.9" text-anchor="middle" stroke="#231f20" stroke-width="0.28" textLength="61.5" lengthAdjust="spacingAndGlyphs" transform="rotate(-90 20.3 574.6)">Transmigration</text>
<text x="31.3" y="574.6" font-size="9.9" text-anchor="middle" stroke="#231f20" stroke-width="0.28" textLength="47.3" lengthAdjust="spacingAndGlyphs" transform="rotate(-90 31.3 574.6)">total events</text>
<line x1="62.7" y1="539.5" x2="62.7" y2="610.4" stroke="#231f20" stroke-width="1.3"/>
<line x1="60.1" y1="542.2" x2="62.7" y2="542.2" stroke="#231f20" stroke-width="1.1"/>
<text x="58" y="544.39" font-size="7.3" text-anchor="end" stroke="#231f20" stroke-width="0.28">8,000</text>
<line x1="60.1" y1="558.73" x2="62.7" y2="558.73" stroke="#231f20" stroke-width="1.1"/>
<text x="58" y="560.92" font-size="7.3" text-anchor="end" stroke="#231f20" stroke-width="0.28">6,000</text>
<line x1="60.1" y1="575.25" x2="62.7" y2="575.25" stroke="#231f20" stroke-width="1.1"/>
<text x="58" y="577.44" font-size="7.3" text-anchor="end" stroke="#231f20" stroke-width="0.28">4,000</text>
<line x1="60.1" y1="591.77" x2="62.7" y2="591.77" stroke="#231f20" stroke-width="1.1"/>
<text x="58" y="593.97" font-size="7.3" text-anchor="end" stroke="#231f20" stroke-width="0.28">2,000</text>
<line x1="60.1" y1="608.3" x2="62.7" y2="608.3" stroke="#231f20" stroke-width="1.1"/>
<text x="58" y="610.49" font-size="7.3" text-anchor="end" stroke="#231f20" stroke-width="0.28">0</text>
<line x1="68.7" y1="612.1" x2="83.1" y2="612.1" stroke="#555555" stroke-width="1.5"/>
<line x1="90.2" y1="612.1" x2="105.9" y2="612.1" stroke="#555555" stroke-width="1.5"/>
<line x1="70.4" y1="543.1" x2="97.3" y2="543.1" stroke="#444" stroke-width="1.5"/>
<line x1="70.4" y1="541.2" x2="70.4" y2="545" stroke="#444" stroke-width="1.5"/>
<line x1="97.3" y1="541.2" x2="97.3" y2="545" stroke="#444" stroke-width="1.5"/>
<text x="84.2" y="542.5" font-size="7.2" text-anchor="middle" fill="#222" stroke="#222" stroke-width="0.5">*</text>
<circle cx="74.2" cy="557.2" r="1.7" fill="none" stroke="#c8203f" stroke-width="1.1"/>
<circle cx="74.2" cy="574" r="1.7" fill="none" stroke="#c8203f" stroke-width="1.1"/>
<circle cx="75.7" cy="578.9" r="1.7" fill="none" stroke="#c8203f" stroke-width="1.1"/>
<circle cx="74.2" cy="594.6" r="1.7" fill="none" stroke="#c8203f" stroke-width="1.1"/>
<circle cx="72.8" cy="577.7" r="1.7" fill="none" stroke="#c8203f" stroke-width="1.1"/>
<line x1="66.9" y1="576.2" x2="81.1" y2="576.2" stroke="#111" stroke-width="1.4"/>
<line x1="74" y1="570.8" x2="74" y2="582.6" stroke="#111" stroke-width="1.4"/>
<line x1="70.7" y1="570.8" x2="77.3" y2="570.8" stroke="#111" stroke-width="1.4"/>
<line x1="70.7" y1="582.6" x2="77.3" y2="582.6" stroke="#111" stroke-width="1.4"/>
<rect x="94.65" y="583.55" width="3.1" height="3.1" fill="none" stroke="#3b5c9c" stroke-width="1.1"/>
<rect x="91.25" y="595.65" width="3.1" height="3.1" fill="none" stroke="#3b5c9c" stroke-width="1.1"/>
<rect x="97.35" y="595.65" width="3.1" height="3.1" fill="none" stroke="#3b5c9c" stroke-width="1.1"/>
<rect x="94.65" y="600.25" width="3.1" height="3.1" fill="none" stroke="#3b5c9c" stroke-width="1.1"/>
<line x1="88.9" y1="595.8" x2="103.1" y2="595.8" stroke="#111" stroke-width="1.4"/>
<line x1="96" y1="593.1" x2="96" y2="597.7" stroke="#111" stroke-width="1.4"/>
<line x1="92.9" y1="593.1" x2="99.1" y2="593.1" stroke="#111" stroke-width="1.4"/>
<line x1="92.9" y1="597.7" x2="99.1" y2="597.7" stroke="#111" stroke-width="1.4"/>
<text x="83.4" y="618.8" font-size="8" text-anchor="end" stroke="#231f20" stroke-width="0.28" textLength="13.5" lengthAdjust="spacingAndGlyphs" transform="rotate(-45 83.4 618.8)">IgG</text>
<text x="101.8" y="618.5" font-size="8" text-anchor="end" stroke="#231f20" stroke-width="0.28" textLength="33.5" lengthAdjust="spacingAndGlyphs" transform="rotate(-45 101.8 618.5)">Anti-TLT-1</text>
<text x="204" y="529" font-size="9.9" text-anchor="middle" stroke="#231f20" stroke-width="0.28" textLength="71" lengthAdjust="spacingAndGlyphs">Treml1<tspan font-size="6.14" dy="-3.76">-/-</tspan><tspan dy="3.76"> platelets</tspan></text>
<text x="140" y="574.6" font-size="9.9" text-anchor="middle" stroke="#231f20" stroke-width="0.28" textLength="61.5" lengthAdjust="spacingAndGlyphs" transform="rotate(-90 140 574.6)">Transmigration</text>
<text x="152.2" y="574.6" font-size="9.9" text-anchor="middle" stroke="#231f20" stroke-width="0.28" textLength="47.3" lengthAdjust="spacingAndGlyphs" transform="rotate(-90 152.2 574.6)">total events</text>
<line x1="182.6" y1="538.4" x2="182.6" y2="610.4" stroke="#231f20" stroke-width="1.3"/>
<line x1="180" y1="541.5" x2="182.6" y2="541.5" stroke="#231f20" stroke-width="1.1"/>
<text x="177.3" y="543.69" font-size="7.3" text-anchor="end" stroke="#231f20" stroke-width="0.28">8,000</text>
<line x1="180" y1="558.25" x2="182.6" y2="558.25" stroke="#231f20" stroke-width="1.1"/>
<text x="177.3" y="560.44" font-size="7.3" text-anchor="end" stroke="#231f20" stroke-width="0.28">6,000</text>
<line x1="180" y1="575" x2="182.6" y2="575" stroke="#231f20" stroke-width="1.1"/>
<text x="177.3" y="577.19" font-size="7.3" text-anchor="end" stroke="#231f20" stroke-width="0.28">4,000</text>
<line x1="180" y1="591.75" x2="182.6" y2="591.75" stroke="#231f20" stroke-width="1.1"/>
<text x="177.3" y="593.94" font-size="7.3" text-anchor="end" stroke="#231f20" stroke-width="0.28">2,000</text>
<line x1="180" y1="608.5" x2="182.6" y2="608.5" stroke="#231f20" stroke-width="1.1"/>
<text x="177.3" y="610.69" font-size="7.3" text-anchor="end" stroke="#231f20" stroke-width="0.28">0</text>
<line x1="186" y1="612.1" x2="200.8" y2="612.1" stroke="#555555" stroke-width="1.5"/>
<line x1="208" y1="612.1" x2="223.1" y2="612.1" stroke="#555555" stroke-width="1.5"/>
<line x1="189.9" y1="541.9" x2="219" y2="541.9" stroke="#444" stroke-width="1.5"/>
<line x1="189.9" y1="540" x2="189.9" y2="543.8" stroke="#444" stroke-width="1.5"/>
<line x1="219" y1="540" x2="219" y2="543.8" stroke="#444" stroke-width="1.5"/>
<text x="203.4" y="541.3" font-size="7.2" text-anchor="middle" fill="#222" stroke="#222" stroke-width="0.5">*</text>
<circle cx="193.8" cy="590.9" r="1.7" fill="none" stroke="#c8203f" stroke-width="1.1"/>
<circle cx="193" cy="596.6" r="1.7" fill="none" stroke="#c8203f" stroke-width="1.1"/>
<circle cx="196.4" cy="600" r="1.7" fill="none" stroke="#c8203f" stroke-width="1.1"/>
<circle cx="193" cy="603.3" r="1.7" fill="none" stroke="#c8203f" stroke-width="1.1"/>
<line x1="186.8" y1="598.1" x2="201.6" y2="598.1" stroke="#111" stroke-width="1.4"/>
<line x1="194.2" y1="595.5" x2="194.2" y2="600.7" stroke="#111" stroke-width="1.4"/>
<line x1="191" y1="595.5" x2="197.4" y2="595.5" stroke="#111" stroke-width="1.4"/>
<line x1="191" y1="600.7" x2="197.4" y2="600.7" stroke="#111" stroke-width="1.4"/>
<rect x="214.35" y="559.05" width="3.1" height="3.1" fill="none" stroke="#3b5c9c" stroke-width="1.1"/>
<rect x="214.35" y="564.05" width="3.1" height="3.1" fill="none" stroke="#3b5c9c" stroke-width="1.1"/>
<rect x="214.35" y="576.15" width="3.1" height="3.1" fill="none" stroke="#3b5c9c" stroke-width="1.1"/>
<rect x="214.35" y="584.05" width="3.1" height="3.1" fill="none" stroke="#3b5c9c" stroke-width="1.1"/>
<rect x="214.35" y="603.15" width="3.1" height="3.1" fill="none" stroke="#3b5c9c" stroke-width="1.1"/>
<line x1="208.6" y1="579.2" x2="223.2" y2="579.2" stroke="#111" stroke-width="1.4"/>
<line x1="215.9" y1="570.9" x2="215.9" y2="587" stroke="#111" stroke-width="1.4"/>
<line x1="212.7" y1="570.9" x2="219.1" y2="570.9" stroke="#111" stroke-width="1.4"/>
<line x1="212.7" y1="587" x2="219.1" y2="587" stroke="#111" stroke-width="1.4"/>
<text x="199.5" y="618.5" font-size="8" text-anchor="end" stroke="#231f20" stroke-width="0.28" textLength="27" lengthAdjust="spacingAndGlyphs" transform="rotate(-45 199.5 618.5)">Control</text>
<text x="220.3" y="619.3" font-size="8" text-anchor="end" stroke="#231f20" stroke-width="0.28" textLength="19.5" lengthAdjust="spacingAndGlyphs" transform="rotate(-45 220.3 619.3)">sTLT-1</text>
<text x="327.3" y="526.5" font-size="9.9" text-anchor="middle" stroke="#231f20" stroke-width="0.28" textLength="50" lengthAdjust="spacingAndGlyphs">WT platelets</text>
<text x="269.9" y="574.6" font-size="9.9" text-anchor="middle" stroke="#231f20" stroke-width="0.28" textLength="45" lengthAdjust="spacingAndGlyphs" transform="rotate(-90 269.9 574.6)">Percentage</text>
<text x="281.6" y="575" font-size="9.9" text-anchor="middle" stroke="#231f20" stroke-width="0.28" textLength="78" lengthAdjust="spacingAndGlyphs" transform="rotate(-90 281.6 575)">Plt-Neu aggregates</text>
<line x1="306.1" y1="538.9" x2="306.1" y2="610.4" stroke="#231f20" stroke-width="1.3"/>
<line x1="303.5" y1="541.5" x2="306.1" y2="541.5" stroke="#231f20" stroke-width="1.1"/>
<text x="301.5" y="543.69" font-size="7.3" text-anchor="end" stroke="#231f20" stroke-width="0.28">100</text>
<line x1="303.5" y1="554.9" x2="306.1" y2="554.9" stroke="#231f20" stroke-width="1.1"/>
<text x="301.5" y="557.09" font-size="7.3" text-anchor="end" stroke="#231f20" stroke-width="0.28">80</text>
<line x1="303.5" y1="568.3" x2="306.1" y2="568.3" stroke="#231f20" stroke-width="1.1"/>
<text x="301.5" y="570.49" font-size="7.3" text-anchor="end" stroke="#231f20" stroke-width="0.28">60</text>
<line x1="303.5" y1="581.7" x2="306.1" y2="581.7" stroke="#231f20" stroke-width="1.1"/>
<text x="301.5" y="583.89" font-size="7.3" text-anchor="end" stroke="#231f20" stroke-width="0.28">40</text>
<line x1="303.5" y1="595.1" x2="306.1" y2="595.1" stroke="#231f20" stroke-width="1.1"/>
<text x="301.5" y="597.29" font-size="7.3" text-anchor="end" stroke="#231f20" stroke-width="0.28">20</text>
<line x1="303.5" y1="608.5" x2="306.1" y2="608.5" stroke="#231f20" stroke-width="1.1"/>
<text x="301.5" y="610.69" font-size="7.3" text-anchor="end" stroke="#231f20" stroke-width="0.28">0</text>
<line x1="309" y1="612.1" x2="323.8" y2="612.1" stroke="#555555" stroke-width="1.5"/>
<line x1="331.6" y1="612.1" x2="345.9" y2="612.1" stroke="#555555" stroke-width="1.5"/>
<line x1="316" y1="538.2" x2="340.2" y2="538.2" stroke="#444" stroke-width="1.5"/>
<line x1="316" y1="536.3" x2="316" y2="540.1" stroke="#444" stroke-width="1.5"/>
<line x1="340.2" y1="536.3" x2="340.2" y2="540.1" stroke="#444" stroke-width="1.5"/>
<text x="328.2" y="537.6" font-size="7.2" text-anchor="middle" fill="#222" stroke="#222" stroke-width="0.5">**</text>
<circle cx="315.2" cy="595.5" r="1.7" fill="none" stroke="#c8203f" stroke-width="1.1"/>
<circle cx="317.8" cy="597.6" r="1.7" fill="none" stroke="#c8203f" stroke-width="1.1"/>
<circle cx="316.5" cy="602.5" r="1.7" fill="none" stroke="#c8203f" stroke-width="1.1"/>
<circle cx="317.3" cy="606.4" r="1.7" fill="none" stroke="#c8203f" stroke-width="1.1"/>
<line x1="309.4" y1="601.2" x2="323.8" y2="601.2" stroke="#111" stroke-width="1.4"/>
<line x1="316.6" y1="598.1" x2="316.6" y2="604.6" stroke="#111" stroke-width="1.4"/>
<line x1="313.5" y1="598.1" x2="319.7" y2="598.1" stroke="#111" stroke-width="1.4"/>
<line x1="313.5" y1="604.6" x2="319.7" y2="604.6" stroke="#111" stroke-width="1.4"/>
<rect x="337.05" y="551.65" width="3.1" height="3.1" fill="none" stroke="#3b5c9c" stroke-width="1.1"/>
<rect x="334.85" y="567.25" width="3.1" height="3.1" fill="none" stroke="#3b5c9c" stroke-width="1.1"/>
<rect x="339.05" y="567.25" width="3.1" height="3.1" fill="none" stroke="#3b5c9c" stroke-width="1.1"/>
<rect x="337.05" y="586.75" width="3.1" height="3.1" fill="none" stroke="#3b5c9c" stroke-width="1.1"/>
<line x1="331.5" y1="570.1" x2="345.9" y2="570.1" stroke="#111" stroke-width="1.4"/>
<line x1="338.7" y1="562.3" x2="338.7" y2="577.1" stroke="#111" stroke-width="1.4"/>
<line x1="335.8" y1="562.3" x2="341.6" y2="562.3" stroke="#111" stroke-width="1.4"/>
<line x1="335.8" y1="577.1" x2="341.6" y2="577.1" stroke="#111" stroke-width="1.4"/>
<text x="322.6" y="619" font-size="8" text-anchor="end" stroke="#231f20" stroke-width="0.28" textLength="13.5" lengthAdjust="spacingAndGlyphs" transform="rotate(-45 322.6 619)">IgG</text>
<text x="343.8" y="619.3" font-size="8" text-anchor="end" stroke="#231f20" stroke-width="0.28" textLength="34" lengthAdjust="spacingAndGlyphs" transform="rotate(-45 343.8 619.3)">Anti-TLT-1</text>
<text x="442.5" y="526.5" font-size="9.9" text-anchor="middle" stroke="#231f20" stroke-width="0.28" textLength="71" lengthAdjust="spacingAndGlyphs">Treml1<tspan font-size="6.14" dy="-3.76">-/-</tspan><tspan dy="3.76"> platelets</tspan></text>
<text x="383.3" y="572.9" font-size="9.9" text-anchor="middle" stroke="#231f20" stroke-width="0.28" textLength="45" lengthAdjust="spacingAndGlyphs" transform="rotate(-90 383.3 572.9)">Percentage</text>
<text x="395" y="572.9" font-size="9.9" text-anchor="middle" stroke="#231f20" stroke-width="0.28" textLength="78" lengthAdjust="spacingAndGlyphs" transform="rotate(-90 395 572.9)">Plt-Neu aggregates</text>
<line x1="420" y1="537.1" x2="420" y2="608" stroke="#231f20" stroke-width="1.3"/>
<line x1="417.4" y1="540.2" x2="420" y2="540.2" stroke="#231f20" stroke-width="1.1"/>
<text x="414.6" y="542.39" font-size="7.3" text-anchor="end" stroke="#231f20" stroke-width="0.28">100</text>
<line x1="417.4" y1="553.34" x2="420" y2="553.34" stroke="#231f20" stroke-width="1.1"/>
<text x="414.6" y="555.53" font-size="7.3" text-anchor="end" stroke="#231f20" stroke-width="0.28">80</text>
<line x1="417.4" y1="566.48" x2="420" y2="566.48" stroke="#231f20" stroke-width="1.1"/>
<text x="414.6" y="568.67" font-size="7.3" text-anchor="end" stroke="#231f20" stroke-width="0.28">60</text>
<line x1="417.4" y1="579.62" x2="420" y2="579.62" stroke="#231f20" stroke-width="1.1"/>
<text x="414.6" y="581.81" font-size="7.3" text-anchor="end" stroke="#231f20" stroke-width="0.28">40</text>
<line x1="417.4" y1="592.76" x2="420" y2="592.76" stroke="#231f20" stroke-width="1.1"/>
<text x="414.6" y="594.95" font-size="7.3" text-anchor="end" stroke="#231f20" stroke-width="0.28">20</text>
<line x1="417.4" y1="605.9" x2="420" y2="605.9" stroke="#231f20" stroke-width="1.1"/>
<text x="414.6" y="608.09" font-size="7.3" text-anchor="end" stroke="#231f20" stroke-width="0.28">0</text>
<line x1="424.5" y1="612.1" x2="439" y2="612.1" stroke="#555555" stroke-width="1.5"/>
<line x1="446.5" y1="612.1" x2="460.8" y2="612.1" stroke="#555555" stroke-width="1.5"/>
<line x1="426.5" y1="538.4" x2="452.5" y2="538.4" stroke="#444" stroke-width="1.5"/>
<line x1="426.5" y1="536.5" x2="426.5" y2="540.3" stroke="#444" stroke-width="1.5"/>
<line x1="452.5" y1="536.5" x2="452.5" y2="540.3" stroke="#444" stroke-width="1.5"/>
<text x="439.5" y="537.8" font-size="7.2" text-anchor="middle" fill="#222" stroke="#222" stroke-width="0.5">**</text>
<circle cx="429.1" cy="557.9" r="1.7" fill="none" stroke="#c8203f" stroke-width="1.1"/>
<circle cx="433" cy="557.9" r="1.7" fill="none" stroke="#c8203f" stroke-width="1.1"/>
<circle cx="431.2" cy="561.8" r="1.7" fill="none" stroke="#c8203f" stroke-width="1.1"/>
<circle cx="431.2" cy="590.1" r="1.7" fill="none" stroke="#c8203f" stroke-width="1.1"/>
<line x1="423.9" y1="567" x2="438.3" y2="567" stroke="#111" stroke-width="1.4"/>
<line x1="431.1" y1="559.2" x2="431.1" y2="574.5" stroke="#111" stroke-width="1.4"/>
<line x1="427.9" y1="559.2" x2="434.3" y2="559.2" stroke="#111" stroke-width="1.4"/>
<line x1="427.9" y1="574.5" x2="434.3" y2="574.5" stroke="#111" stroke-width="1.4"/>
<rect x="449.45" y="599.35" width="3.1" height="3.1" fill="none" stroke="#3b5c9c" stroke-width="1.1"/>
<rect x="449.45" y="604.05" width="3.1" height="3.1" fill="none" stroke="#3b5c9c" stroke-width="1.1"/>
<rect x="453.25" y="600.75" width="3.1" height="3.1" fill="none" stroke="#3b5c9c" stroke-width="1.1"/>
<rect x="456.65" y="601.65" width="3.1" height="3.1" fill="none" stroke="#3b5c9c" stroke-width="1.1"/>
<line x1="447.3" y1="603" x2="460.7" y2="603" stroke="#111" stroke-width="1.4"/>
<line x1="454" y1="602" x2="454" y2="604" stroke="#111" stroke-width="1.4"/>
<line x1="451.4" y1="602" x2="456.6" y2="602" stroke="#111" stroke-width="1.4"/>
<line x1="451.4" y1="604" x2="456.6" y2="604" stroke="#111" stroke-width="1.4"/>
<text x="435" y="620.3" font-size="8" text-anchor="end" stroke="#231f20" stroke-width="0.28" textLength="25.5" lengthAdjust="spacingAndGlyphs" transform="rotate(-45 435 620.3)">Control</text>
<text x="457.2" y="621.3" font-size="8" text-anchor="end" stroke="#231f20" stroke-width="0.28" textLength="19.5" lengthAdjust="spacingAndGlyphs" transform="rotate(-45 457.2 621.3)">sTLT-1</text>
<text x="8.15" y="15.35" font-size="11.3" stroke="#231f20" stroke-width="0.3" textLength="6.42" lengthAdjust="spacingAndGlyphs">A</text>
<text x="7.76" y="127.55" font-size="11.59" stroke="#231f20" stroke-width="0.3" textLength="6.61" lengthAdjust="spacingAndGlyphs">B</text>
<text x="361.19" y="15.33" font-size="11.55" stroke="#231f20" stroke-width="0.3" textLength="6.6" lengthAdjust="spacingAndGlyphs">C</text>
<text x="7.68" y="245.55" font-size="10.87" stroke="#231f20" stroke-width="0.3" textLength="7.89" lengthAdjust="spacingAndGlyphs">D</text>
<text x="160.59" y="245.55" font-size="10.87" stroke="#231f20" stroke-width="0.3" textLength="5.51" lengthAdjust="spacingAndGlyphs">E</text>
<text x="7.62" y="383.25" font-size="10.43" stroke="#231f20" stroke-width="0.3" textLength="5.61" lengthAdjust="spacingAndGlyphs">F</text>
<text x="160.16" y="383.44" font-size="11.13" stroke="#231f20" stroke-width="0.3" textLength="7.6" lengthAdjust="spacingAndGlyphs">G</text>
<text x="325.54" y="245.95" font-size="11.59" stroke="#231f20" stroke-width="0.3" textLength="8.25" lengthAdjust="spacingAndGlyphs">H</text>
<text x="324.39" y="343.45" font-size="11.01" stroke="#231f20" stroke-width="0.3" textLength="4.97" lengthAdjust="spacingAndGlyphs">I</text>
<text x="8.12" y="523.44" font-size="11" stroke="#231f20" stroke-width="0.3" textLength="4.27" lengthAdjust="spacingAndGlyphs">J</text>
<text x="131.24" y="523.45" font-size="11.01" stroke="#231f20" stroke-width="0.3" textLength="5.92" lengthAdjust="spacingAndGlyphs">K</text>
<text x="259.68" y="523.55" font-size="10.87" stroke="#231f20" stroke-width="0.3" textLength="5.37" lengthAdjust="spacingAndGlyphs">L</text>
<text x="371.11" y="523.55" font-size="10.87" stroke="#231f20" stroke-width="0.3" textLength="9.82" lengthAdjust="spacingAndGlyphs">M</text>
<rect x="0.5" y="0.5" width="519" height="650" fill="none" stroke="#000" stroke-width="1"/>
<line x1="0" y1="650.3" x2="520" y2="650.3" stroke="#000" stroke-width="1.4"/>
</svg>
</body></html>
